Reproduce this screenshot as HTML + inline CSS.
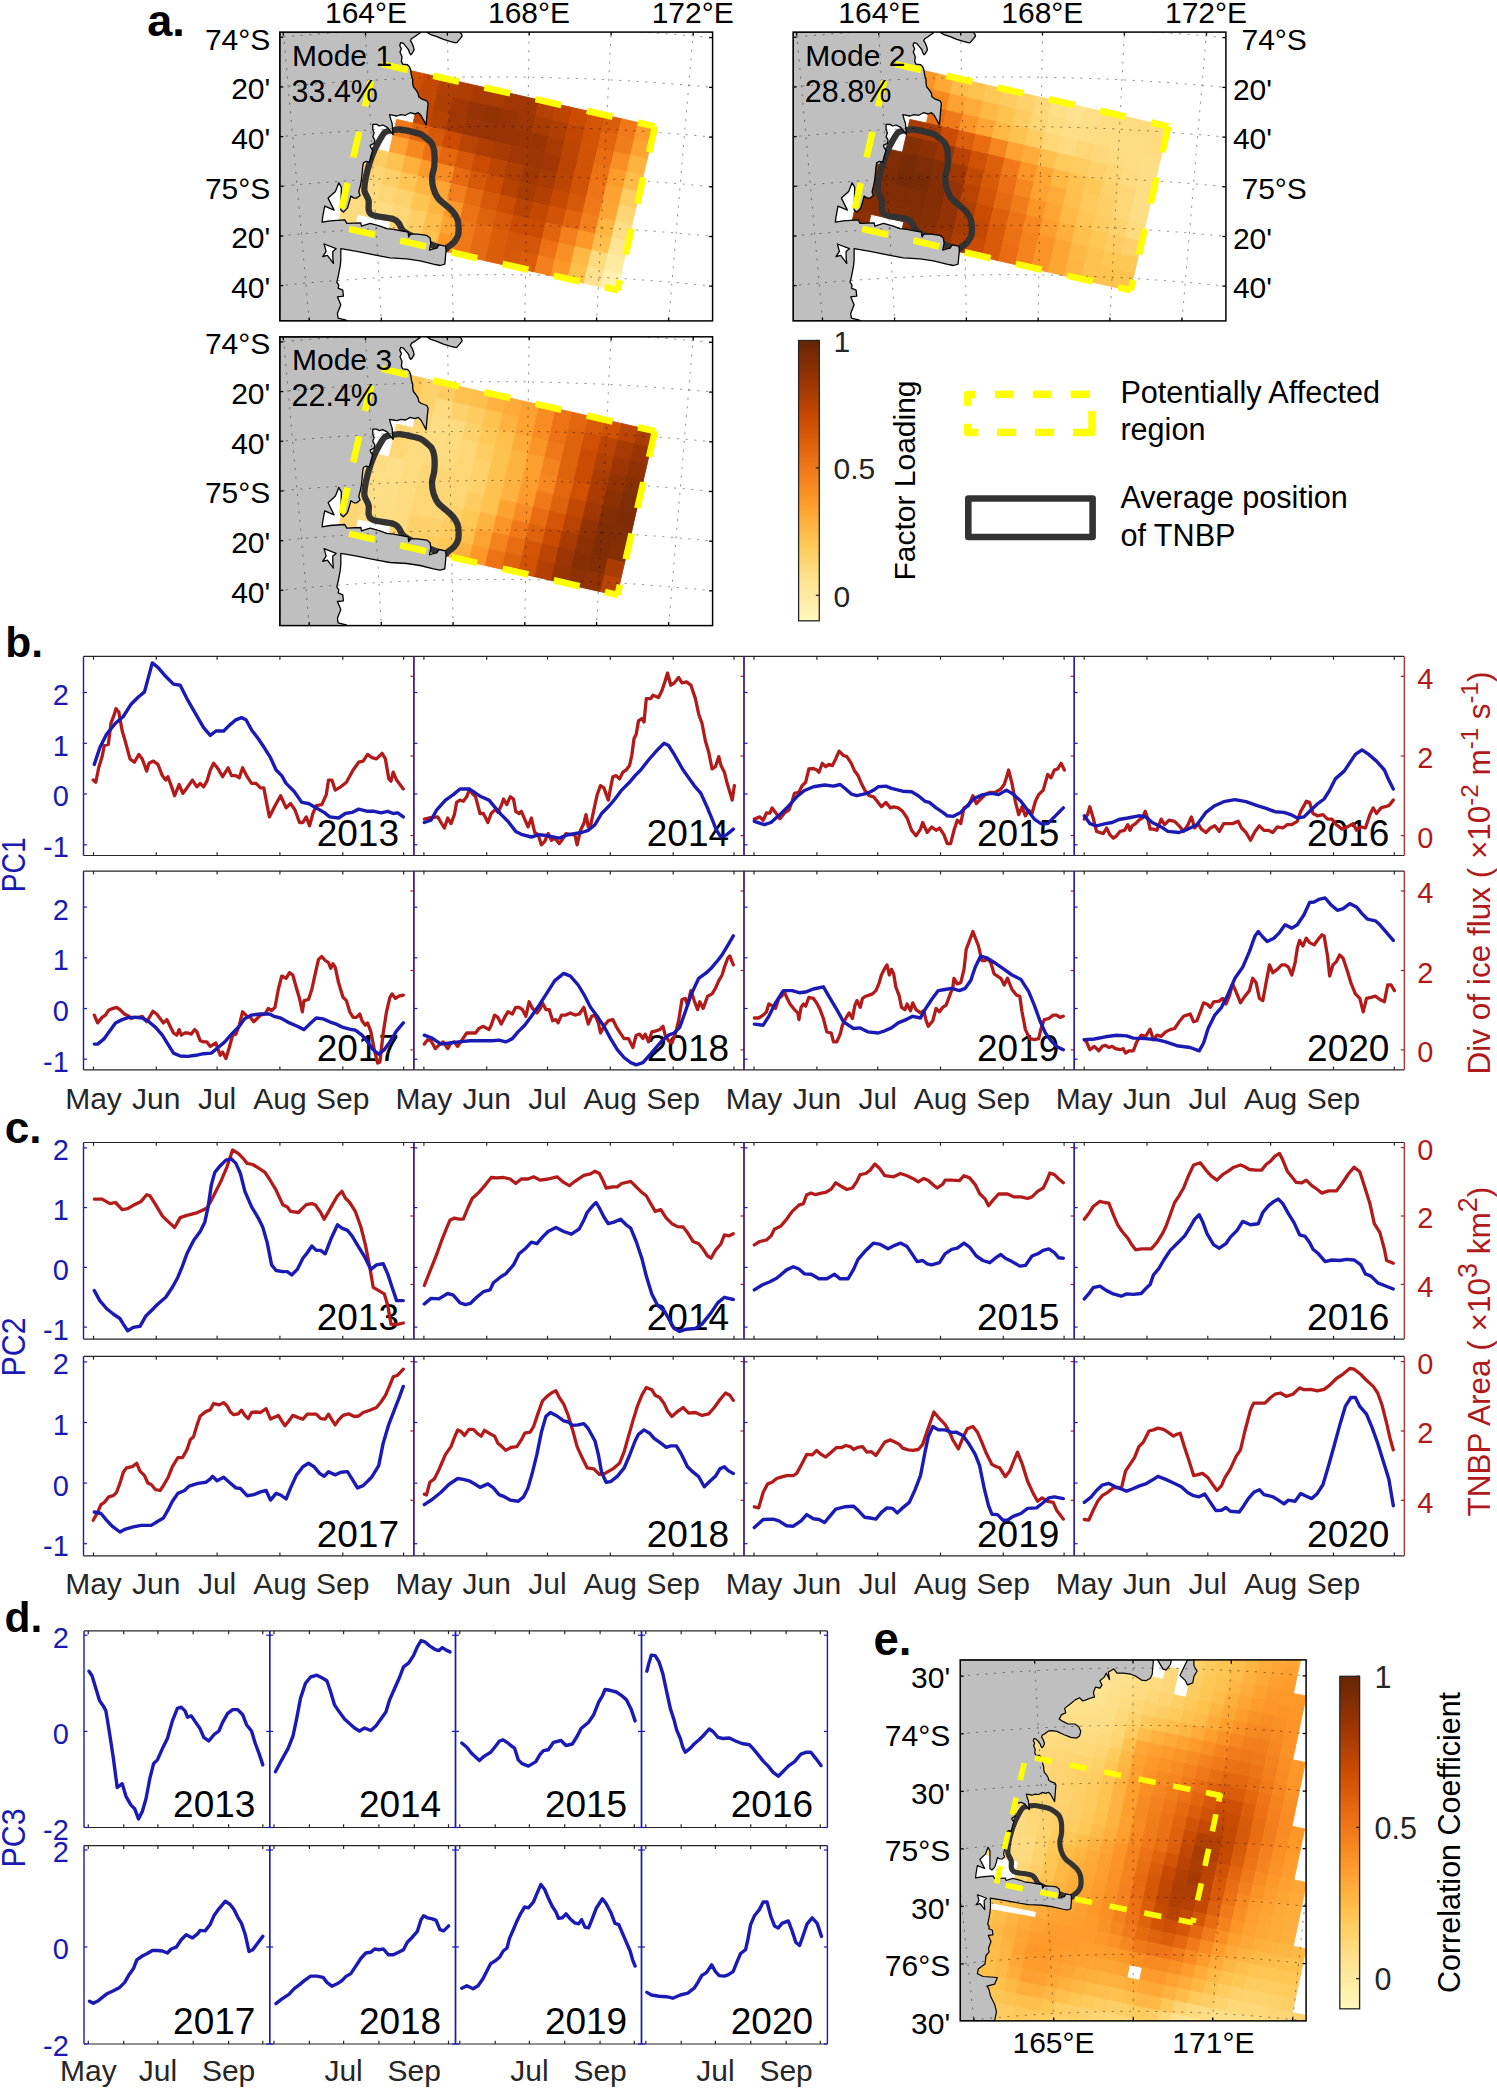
<!DOCTYPE html>
<html><head><meta charset="utf-8"><style>
html,body{margin:0;padding:0;background:#fff;width:1497px;height:2095px;overflow:hidden}
svg{display:block;font-family:"Liberation Sans", sans-serif}
</style></head><body>
<svg width="1497" height="2095" viewBox="0 0 1497 2095">
<rect width="1497" height="2095" fill="#fff"/>
<line x1="93.5" y1="656.4" x2="93.5" y2="659.7" stroke="#262626" stroke-width="1.2"/>
<line x1="93.5" y1="855.5" x2="93.5" y2="852.2" stroke="#262626" stroke-width="1.2"/>
<line x1="156.3" y1="656.4" x2="156.3" y2="659.7" stroke="#262626" stroke-width="1.2"/>
<line x1="156.3" y1="855.5" x2="156.3" y2="852.2" stroke="#262626" stroke-width="1.2"/>
<line x1="217.1" y1="656.4" x2="217.1" y2="659.7" stroke="#262626" stroke-width="1.2"/>
<line x1="217.1" y1="855.5" x2="217.1" y2="852.2" stroke="#262626" stroke-width="1.2"/>
<line x1="279.9" y1="656.4" x2="279.9" y2="659.7" stroke="#262626" stroke-width="1.2"/>
<line x1="279.9" y1="855.5" x2="279.9" y2="852.2" stroke="#262626" stroke-width="1.2"/>
<line x1="342.8" y1="656.4" x2="342.8" y2="659.7" stroke="#262626" stroke-width="1.2"/>
<line x1="342.8" y1="855.5" x2="342.8" y2="852.2" stroke="#262626" stroke-width="1.2"/>
<line x1="403.6" y1="656.4" x2="403.6" y2="659.7" stroke="#262626" stroke-width="1.2"/>
<line x1="403.6" y1="855.5" x2="403.6" y2="852.2" stroke="#262626" stroke-width="1.2"/>
<line x1="83.5" y1="656.4" x2="413.9" y2="656.4" stroke="#262626" stroke-width="1.2"/>
<line x1="83.5" y1="855.5" x2="413.9" y2="855.5" stroke="#262626" stroke-width="1.2"/>
<line x1="423.9" y1="656.4" x2="423.9" y2="659.7" stroke="#262626" stroke-width="1.2"/>
<line x1="423.9" y1="855.5" x2="423.9" y2="852.2" stroke="#262626" stroke-width="1.2"/>
<line x1="486.7" y1="656.4" x2="486.7" y2="659.7" stroke="#262626" stroke-width="1.2"/>
<line x1="486.7" y1="855.5" x2="486.7" y2="852.2" stroke="#262626" stroke-width="1.2"/>
<line x1="547.5" y1="656.4" x2="547.5" y2="659.7" stroke="#262626" stroke-width="1.2"/>
<line x1="547.5" y1="855.5" x2="547.5" y2="852.2" stroke="#262626" stroke-width="1.2"/>
<line x1="610.3" y1="656.4" x2="610.3" y2="659.7" stroke="#262626" stroke-width="1.2"/>
<line x1="610.3" y1="855.5" x2="610.3" y2="852.2" stroke="#262626" stroke-width="1.2"/>
<line x1="673.2" y1="656.4" x2="673.2" y2="659.7" stroke="#262626" stroke-width="1.2"/>
<line x1="673.2" y1="855.5" x2="673.2" y2="852.2" stroke="#262626" stroke-width="1.2"/>
<line x1="734" y1="656.4" x2="734" y2="659.7" stroke="#262626" stroke-width="1.2"/>
<line x1="734" y1="855.5" x2="734" y2="852.2" stroke="#262626" stroke-width="1.2"/>
<line x1="413.9" y1="656.4" x2="744" y2="656.4" stroke="#262626" stroke-width="1.2"/>
<line x1="413.9" y1="855.5" x2="744" y2="855.5" stroke="#262626" stroke-width="1.2"/>
<line x1="754" y1="656.4" x2="754" y2="659.7" stroke="#262626" stroke-width="1.2"/>
<line x1="754" y1="855.5" x2="754" y2="852.2" stroke="#262626" stroke-width="1.2"/>
<line x1="816.9" y1="656.4" x2="816.9" y2="659.7" stroke="#262626" stroke-width="1.2"/>
<line x1="816.9" y1="855.5" x2="816.9" y2="852.2" stroke="#262626" stroke-width="1.2"/>
<line x1="877.7" y1="656.4" x2="877.7" y2="659.7" stroke="#262626" stroke-width="1.2"/>
<line x1="877.7" y1="855.5" x2="877.7" y2="852.2" stroke="#262626" stroke-width="1.2"/>
<line x1="940.5" y1="656.4" x2="940.5" y2="659.7" stroke="#262626" stroke-width="1.2"/>
<line x1="940.5" y1="855.5" x2="940.5" y2="852.2" stroke="#262626" stroke-width="1.2"/>
<line x1="1003.3" y1="656.4" x2="1003.3" y2="659.7" stroke="#262626" stroke-width="1.2"/>
<line x1="1003.3" y1="855.5" x2="1003.3" y2="852.2" stroke="#262626" stroke-width="1.2"/>
<line x1="1064.1" y1="656.4" x2="1064.1" y2="659.7" stroke="#262626" stroke-width="1.2"/>
<line x1="1064.1" y1="855.5" x2="1064.1" y2="852.2" stroke="#262626" stroke-width="1.2"/>
<line x1="744" y1="656.4" x2="1074.2" y2="656.4" stroke="#262626" stroke-width="1.2"/>
<line x1="744" y1="855.5" x2="1074.2" y2="855.5" stroke="#262626" stroke-width="1.2"/>
<line x1="1084.2" y1="656.4" x2="1084.2" y2="659.7" stroke="#262626" stroke-width="1.2"/>
<line x1="1084.2" y1="855.5" x2="1084.2" y2="852.2" stroke="#262626" stroke-width="1.2"/>
<line x1="1147" y1="656.4" x2="1147" y2="659.7" stroke="#262626" stroke-width="1.2"/>
<line x1="1147" y1="855.5" x2="1147" y2="852.2" stroke="#262626" stroke-width="1.2"/>
<line x1="1207.8" y1="656.4" x2="1207.8" y2="659.7" stroke="#262626" stroke-width="1.2"/>
<line x1="1207.8" y1="855.5" x2="1207.8" y2="852.2" stroke="#262626" stroke-width="1.2"/>
<line x1="1270.6" y1="656.4" x2="1270.6" y2="659.7" stroke="#262626" stroke-width="1.2"/>
<line x1="1270.6" y1="855.5" x2="1270.6" y2="852.2" stroke="#262626" stroke-width="1.2"/>
<line x1="1333.5" y1="656.4" x2="1333.5" y2="659.7" stroke="#262626" stroke-width="1.2"/>
<line x1="1333.5" y1="855.5" x2="1333.5" y2="852.2" stroke="#262626" stroke-width="1.2"/>
<line x1="1394.3" y1="656.4" x2="1394.3" y2="659.7" stroke="#262626" stroke-width="1.2"/>
<line x1="1394.3" y1="855.5" x2="1394.3" y2="852.2" stroke="#262626" stroke-width="1.2"/>
<line x1="1074.2" y1="656.4" x2="1404.3" y2="656.4" stroke="#262626" stroke-width="1.2"/>
<line x1="1074.2" y1="855.5" x2="1404.3" y2="855.5" stroke="#262626" stroke-width="1.2"/>
<line x1="413.9" y1="835.6" x2="410.4" y2="835.6" stroke="#b01a1a" stroke-width="1.2"/>
<line x1="413.9" y1="756" x2="410.4" y2="756" stroke="#b01a1a" stroke-width="1.2"/>
<line x1="413.9" y1="676.3" x2="410.4" y2="676.3" stroke="#b01a1a" stroke-width="1.2"/>
<line x1="413.9" y1="656.4" x2="413.9" y2="855.5" stroke="#b01a1a" stroke-width="1.2"/>
<line x1="744" y1="835.6" x2="740.5" y2="835.6" stroke="#b01a1a" stroke-width="1.2"/>
<line x1="744" y1="756" x2="740.5" y2="756" stroke="#b01a1a" stroke-width="1.2"/>
<line x1="744" y1="676.3" x2="740.5" y2="676.3" stroke="#b01a1a" stroke-width="1.2"/>
<line x1="744" y1="656.4" x2="744" y2="855.5" stroke="#b01a1a" stroke-width="1.2"/>
<line x1="1074.2" y1="835.6" x2="1070.7" y2="835.6" stroke="#b01a1a" stroke-width="1.2"/>
<line x1="1074.2" y1="756" x2="1070.7" y2="756" stroke="#b01a1a" stroke-width="1.2"/>
<line x1="1074.2" y1="676.3" x2="1070.7" y2="676.3" stroke="#b01a1a" stroke-width="1.2"/>
<line x1="1074.2" y1="656.4" x2="1074.2" y2="855.5" stroke="#b01a1a" stroke-width="1.2"/>
<line x1="1404.3" y1="835.6" x2="1400.8" y2="835.6" stroke="#b01a1a" stroke-width="1.2"/>
<line x1="1404.3" y1="756" x2="1400.8" y2="756" stroke="#b01a1a" stroke-width="1.2"/>
<line x1="1404.3" y1="676.3" x2="1400.8" y2="676.3" stroke="#b01a1a" stroke-width="1.2"/>
<line x1="1404.3" y1="656.4" x2="1404.3" y2="855.5" stroke="#b01a1a" stroke-width="1.2"/>
<line x1="83.5" y1="844.8" x2="87" y2="844.8" stroke="#1a1ab3" stroke-width="1.2"/>
<line x1="83.5" y1="794" x2="87" y2="794" stroke="#1a1ab3" stroke-width="1.2"/>
<line x1="83.5" y1="743.3" x2="87" y2="743.3" stroke="#1a1ab3" stroke-width="1.2"/>
<line x1="83.5" y1="692.5" x2="87" y2="692.5" stroke="#1a1ab3" stroke-width="1.2"/>
<line x1="83.5" y1="656.4" x2="83.5" y2="855.5" stroke="#1a1ab3" stroke-width="1.4"/>
<text x="399" y="846.3" font-size="37" text-anchor="end" fill="#000">2013</text>
<line x1="413.9" y1="844.8" x2="417.4" y2="844.8" stroke="#1a1ab3" stroke-width="1.2"/>
<line x1="413.9" y1="794" x2="417.4" y2="794" stroke="#1a1ab3" stroke-width="1.2"/>
<line x1="413.9" y1="743.3" x2="417.4" y2="743.3" stroke="#1a1ab3" stroke-width="1.2"/>
<line x1="413.9" y1="692.5" x2="417.4" y2="692.5" stroke="#1a1ab3" stroke-width="1.2"/>
<line x1="413.9" y1="656.4" x2="413.9" y2="855.5" stroke="#1a1ab3" stroke-width="1.4"/>
<text x="729.1" y="846.3" font-size="37" text-anchor="end" fill="#000">2014</text>
<line x1="744" y1="844.8" x2="747.5" y2="844.8" stroke="#1a1ab3" stroke-width="1.2"/>
<line x1="744" y1="794" x2="747.5" y2="794" stroke="#1a1ab3" stroke-width="1.2"/>
<line x1="744" y1="743.3" x2="747.5" y2="743.3" stroke="#1a1ab3" stroke-width="1.2"/>
<line x1="744" y1="692.5" x2="747.5" y2="692.5" stroke="#1a1ab3" stroke-width="1.2"/>
<line x1="744" y1="656.4" x2="744" y2="855.5" stroke="#1a1ab3" stroke-width="1.4"/>
<text x="1059.3" y="846.3" font-size="37" text-anchor="end" fill="#000">2015</text>
<line x1="1074.2" y1="844.8" x2="1077.7" y2="844.8" stroke="#1a1ab3" stroke-width="1.2"/>
<line x1="1074.2" y1="794" x2="1077.7" y2="794" stroke="#1a1ab3" stroke-width="1.2"/>
<line x1="1074.2" y1="743.3" x2="1077.7" y2="743.3" stroke="#1a1ab3" stroke-width="1.2"/>
<line x1="1074.2" y1="692.5" x2="1077.7" y2="692.5" stroke="#1a1ab3" stroke-width="1.2"/>
<line x1="1074.2" y1="656.4" x2="1074.2" y2="855.5" stroke="#1a1ab3" stroke-width="1.4"/>
<text x="1389.4" y="846.3" font-size="37" text-anchor="end" fill="#000">2016</text>
<text x="68.8" y="857.2" font-size="29" text-anchor="end" fill="#1a1ab3">-1</text>
<text x="68.8" y="806.4" font-size="29" text-anchor="end" fill="#1a1ab3">0</text>
<text x="68.8" y="755.7" font-size="29" text-anchor="end" fill="#1a1ab3">1</text>
<text x="68.8" y="704.9" font-size="29" text-anchor="end" fill="#1a1ab3">2</text>
<text x="1417.3" y="847.8" font-size="29" text-anchor="start" fill="#b01a1a">0</text>
<text x="1417.3" y="768.2" font-size="29" text-anchor="start" fill="#b01a1a">2</text>
<text x="1417.3" y="688.5" font-size="29" text-anchor="start" fill="#b01a1a">4</text>
<line x1="93.5" y1="871.1" x2="93.5" y2="874.4" stroke="#262626" stroke-width="1.2"/>
<line x1="93.5" y1="1069.8" x2="93.5" y2="1066.5" stroke="#262626" stroke-width="1.2"/>
<line x1="156.3" y1="871.1" x2="156.3" y2="874.4" stroke="#262626" stroke-width="1.2"/>
<line x1="156.3" y1="1069.8" x2="156.3" y2="1066.5" stroke="#262626" stroke-width="1.2"/>
<line x1="217.1" y1="871.1" x2="217.1" y2="874.4" stroke="#262626" stroke-width="1.2"/>
<line x1="217.1" y1="1069.8" x2="217.1" y2="1066.5" stroke="#262626" stroke-width="1.2"/>
<line x1="279.9" y1="871.1" x2="279.9" y2="874.4" stroke="#262626" stroke-width="1.2"/>
<line x1="279.9" y1="1069.8" x2="279.9" y2="1066.5" stroke="#262626" stroke-width="1.2"/>
<line x1="342.8" y1="871.1" x2="342.8" y2="874.4" stroke="#262626" stroke-width="1.2"/>
<line x1="342.8" y1="1069.8" x2="342.8" y2="1066.5" stroke="#262626" stroke-width="1.2"/>
<line x1="403.6" y1="871.1" x2="403.6" y2="874.4" stroke="#262626" stroke-width="1.2"/>
<line x1="403.6" y1="1069.8" x2="403.6" y2="1066.5" stroke="#262626" stroke-width="1.2"/>
<line x1="83.5" y1="871.1" x2="413.9" y2="871.1" stroke="#262626" stroke-width="1.2"/>
<line x1="83.5" y1="1069.8" x2="413.9" y2="1069.8" stroke="#262626" stroke-width="1.2"/>
<line x1="423.9" y1="871.1" x2="423.9" y2="874.4" stroke="#262626" stroke-width="1.2"/>
<line x1="423.9" y1="1069.8" x2="423.9" y2="1066.5" stroke="#262626" stroke-width="1.2"/>
<line x1="486.7" y1="871.1" x2="486.7" y2="874.4" stroke="#262626" stroke-width="1.2"/>
<line x1="486.7" y1="1069.8" x2="486.7" y2="1066.5" stroke="#262626" stroke-width="1.2"/>
<line x1="547.5" y1="871.1" x2="547.5" y2="874.4" stroke="#262626" stroke-width="1.2"/>
<line x1="547.5" y1="1069.8" x2="547.5" y2="1066.5" stroke="#262626" stroke-width="1.2"/>
<line x1="610.3" y1="871.1" x2="610.3" y2="874.4" stroke="#262626" stroke-width="1.2"/>
<line x1="610.3" y1="1069.8" x2="610.3" y2="1066.5" stroke="#262626" stroke-width="1.2"/>
<line x1="673.2" y1="871.1" x2="673.2" y2="874.4" stroke="#262626" stroke-width="1.2"/>
<line x1="673.2" y1="1069.8" x2="673.2" y2="1066.5" stroke="#262626" stroke-width="1.2"/>
<line x1="734" y1="871.1" x2="734" y2="874.4" stroke="#262626" stroke-width="1.2"/>
<line x1="734" y1="1069.8" x2="734" y2="1066.5" stroke="#262626" stroke-width="1.2"/>
<line x1="413.9" y1="871.1" x2="744" y2="871.1" stroke="#262626" stroke-width="1.2"/>
<line x1="413.9" y1="1069.8" x2="744" y2="1069.8" stroke="#262626" stroke-width="1.2"/>
<line x1="754" y1="871.1" x2="754" y2="874.4" stroke="#262626" stroke-width="1.2"/>
<line x1="754" y1="1069.8" x2="754" y2="1066.5" stroke="#262626" stroke-width="1.2"/>
<line x1="816.9" y1="871.1" x2="816.9" y2="874.4" stroke="#262626" stroke-width="1.2"/>
<line x1="816.9" y1="1069.8" x2="816.9" y2="1066.5" stroke="#262626" stroke-width="1.2"/>
<line x1="877.7" y1="871.1" x2="877.7" y2="874.4" stroke="#262626" stroke-width="1.2"/>
<line x1="877.7" y1="1069.8" x2="877.7" y2="1066.5" stroke="#262626" stroke-width="1.2"/>
<line x1="940.5" y1="871.1" x2="940.5" y2="874.4" stroke="#262626" stroke-width="1.2"/>
<line x1="940.5" y1="1069.8" x2="940.5" y2="1066.5" stroke="#262626" stroke-width="1.2"/>
<line x1="1003.3" y1="871.1" x2="1003.3" y2="874.4" stroke="#262626" stroke-width="1.2"/>
<line x1="1003.3" y1="1069.8" x2="1003.3" y2="1066.5" stroke="#262626" stroke-width="1.2"/>
<line x1="1064.1" y1="871.1" x2="1064.1" y2="874.4" stroke="#262626" stroke-width="1.2"/>
<line x1="1064.1" y1="1069.8" x2="1064.1" y2="1066.5" stroke="#262626" stroke-width="1.2"/>
<line x1="744" y1="871.1" x2="1074.2" y2="871.1" stroke="#262626" stroke-width="1.2"/>
<line x1="744" y1="1069.8" x2="1074.2" y2="1069.8" stroke="#262626" stroke-width="1.2"/>
<line x1="1084.2" y1="871.1" x2="1084.2" y2="874.4" stroke="#262626" stroke-width="1.2"/>
<line x1="1084.2" y1="1069.8" x2="1084.2" y2="1066.5" stroke="#262626" stroke-width="1.2"/>
<line x1="1147" y1="871.1" x2="1147" y2="874.4" stroke="#262626" stroke-width="1.2"/>
<line x1="1147" y1="1069.8" x2="1147" y2="1066.5" stroke="#262626" stroke-width="1.2"/>
<line x1="1207.8" y1="871.1" x2="1207.8" y2="874.4" stroke="#262626" stroke-width="1.2"/>
<line x1="1207.8" y1="1069.8" x2="1207.8" y2="1066.5" stroke="#262626" stroke-width="1.2"/>
<line x1="1270.6" y1="871.1" x2="1270.6" y2="874.4" stroke="#262626" stroke-width="1.2"/>
<line x1="1270.6" y1="1069.8" x2="1270.6" y2="1066.5" stroke="#262626" stroke-width="1.2"/>
<line x1="1333.5" y1="871.1" x2="1333.5" y2="874.4" stroke="#262626" stroke-width="1.2"/>
<line x1="1333.5" y1="1069.8" x2="1333.5" y2="1066.5" stroke="#262626" stroke-width="1.2"/>
<line x1="1394.3" y1="871.1" x2="1394.3" y2="874.4" stroke="#262626" stroke-width="1.2"/>
<line x1="1394.3" y1="1069.8" x2="1394.3" y2="1066.5" stroke="#262626" stroke-width="1.2"/>
<line x1="1074.2" y1="871.1" x2="1404.3" y2="871.1" stroke="#262626" stroke-width="1.2"/>
<line x1="1074.2" y1="1069.8" x2="1404.3" y2="1069.8" stroke="#262626" stroke-width="1.2"/>
<line x1="413.9" y1="1049.9" x2="410.4" y2="1049.9" stroke="#b01a1a" stroke-width="1.2"/>
<line x1="413.9" y1="970.5" x2="410.4" y2="970.5" stroke="#b01a1a" stroke-width="1.2"/>
<line x1="413.9" y1="891" x2="410.4" y2="891" stroke="#b01a1a" stroke-width="1.2"/>
<line x1="413.9" y1="871.1" x2="413.9" y2="1069.8" stroke="#b01a1a" stroke-width="1.2"/>
<line x1="744" y1="1049.9" x2="740.5" y2="1049.9" stroke="#b01a1a" stroke-width="1.2"/>
<line x1="744" y1="970.5" x2="740.5" y2="970.5" stroke="#b01a1a" stroke-width="1.2"/>
<line x1="744" y1="891" x2="740.5" y2="891" stroke="#b01a1a" stroke-width="1.2"/>
<line x1="744" y1="871.1" x2="744" y2="1069.8" stroke="#b01a1a" stroke-width="1.2"/>
<line x1="1074.2" y1="1049.9" x2="1070.7" y2="1049.9" stroke="#b01a1a" stroke-width="1.2"/>
<line x1="1074.2" y1="970.5" x2="1070.7" y2="970.5" stroke="#b01a1a" stroke-width="1.2"/>
<line x1="1074.2" y1="891" x2="1070.7" y2="891" stroke="#b01a1a" stroke-width="1.2"/>
<line x1="1074.2" y1="871.1" x2="1074.2" y2="1069.8" stroke="#b01a1a" stroke-width="1.2"/>
<line x1="1404.3" y1="1049.9" x2="1400.8" y2="1049.9" stroke="#b01a1a" stroke-width="1.2"/>
<line x1="1404.3" y1="970.5" x2="1400.8" y2="970.5" stroke="#b01a1a" stroke-width="1.2"/>
<line x1="1404.3" y1="891" x2="1400.8" y2="891" stroke="#b01a1a" stroke-width="1.2"/>
<line x1="1404.3" y1="871.1" x2="1404.3" y2="1069.8" stroke="#b01a1a" stroke-width="1.2"/>
<line x1="83.5" y1="1059.2" x2="87" y2="1059.2" stroke="#1a1ab3" stroke-width="1.2"/>
<line x1="83.5" y1="1008.5" x2="87" y2="1008.5" stroke="#1a1ab3" stroke-width="1.2"/>
<line x1="83.5" y1="957.8" x2="87" y2="957.8" stroke="#1a1ab3" stroke-width="1.2"/>
<line x1="83.5" y1="907.1" x2="87" y2="907.1" stroke="#1a1ab3" stroke-width="1.2"/>
<line x1="83.5" y1="871.1" x2="83.5" y2="1069.8" stroke="#1a1ab3" stroke-width="1.4"/>
<text x="399" y="1060.6" font-size="37" text-anchor="end" fill="#000">2017</text>
<line x1="413.9" y1="1059.2" x2="417.4" y2="1059.2" stroke="#1a1ab3" stroke-width="1.2"/>
<line x1="413.9" y1="1008.5" x2="417.4" y2="1008.5" stroke="#1a1ab3" stroke-width="1.2"/>
<line x1="413.9" y1="957.8" x2="417.4" y2="957.8" stroke="#1a1ab3" stroke-width="1.2"/>
<line x1="413.9" y1="907.1" x2="417.4" y2="907.1" stroke="#1a1ab3" stroke-width="1.2"/>
<line x1="413.9" y1="871.1" x2="413.9" y2="1069.8" stroke="#1a1ab3" stroke-width="1.4"/>
<text x="729.1" y="1060.6" font-size="37" text-anchor="end" fill="#000">2018</text>
<line x1="744" y1="1059.2" x2="747.5" y2="1059.2" stroke="#1a1ab3" stroke-width="1.2"/>
<line x1="744" y1="1008.5" x2="747.5" y2="1008.5" stroke="#1a1ab3" stroke-width="1.2"/>
<line x1="744" y1="957.8" x2="747.5" y2="957.8" stroke="#1a1ab3" stroke-width="1.2"/>
<line x1="744" y1="907.1" x2="747.5" y2="907.1" stroke="#1a1ab3" stroke-width="1.2"/>
<line x1="744" y1="871.1" x2="744" y2="1069.8" stroke="#1a1ab3" stroke-width="1.4"/>
<text x="1059.3" y="1060.6" font-size="37" text-anchor="end" fill="#000">2019</text>
<line x1="1074.2" y1="1059.2" x2="1077.7" y2="1059.2" stroke="#1a1ab3" stroke-width="1.2"/>
<line x1="1074.2" y1="1008.5" x2="1077.7" y2="1008.5" stroke="#1a1ab3" stroke-width="1.2"/>
<line x1="1074.2" y1="957.8" x2="1077.7" y2="957.8" stroke="#1a1ab3" stroke-width="1.2"/>
<line x1="1074.2" y1="907.1" x2="1077.7" y2="907.1" stroke="#1a1ab3" stroke-width="1.2"/>
<line x1="1074.2" y1="871.1" x2="1074.2" y2="1069.8" stroke="#1a1ab3" stroke-width="1.4"/>
<text x="1389.4" y="1060.6" font-size="37" text-anchor="end" fill="#000">2020</text>
<text x="68.8" y="1071.6" font-size="29" text-anchor="end" fill="#1a1ab3">-1</text>
<text x="68.8" y="1020.9" font-size="29" text-anchor="end" fill="#1a1ab3">0</text>
<text x="68.8" y="970.2" font-size="29" text-anchor="end" fill="#1a1ab3">1</text>
<text x="68.8" y="919.5" font-size="29" text-anchor="end" fill="#1a1ab3">2</text>
<text x="1417.3" y="1062.1" font-size="29" text-anchor="start" fill="#b01a1a">0</text>
<text x="1417.3" y="982.7" font-size="29" text-anchor="start" fill="#b01a1a">2</text>
<text x="1417.3" y="903.2" font-size="29" text-anchor="start" fill="#b01a1a">4</text>
<text x="93.5" y="1108.5" font-size="30" text-anchor="middle" fill="#262626">May</text>
<text x="156.3" y="1108.5" font-size="30" text-anchor="middle" fill="#262626">Jun</text>
<text x="217.1" y="1108.5" font-size="30" text-anchor="middle" fill="#262626">Jul</text>
<text x="279.9" y="1108.5" font-size="30" text-anchor="middle" fill="#262626">Aug</text>
<text x="342.8" y="1108.5" font-size="30" text-anchor="middle" fill="#262626">Sep</text>
<text x="423.9" y="1108.5" font-size="30" text-anchor="middle" fill="#262626">May</text>
<text x="486.7" y="1108.5" font-size="30" text-anchor="middle" fill="#262626">Jun</text>
<text x="547.5" y="1108.5" font-size="30" text-anchor="middle" fill="#262626">Jul</text>
<text x="610.3" y="1108.5" font-size="30" text-anchor="middle" fill="#262626">Aug</text>
<text x="673.2" y="1108.5" font-size="30" text-anchor="middle" fill="#262626">Sep</text>
<text x="754" y="1108.5" font-size="30" text-anchor="middle" fill="#262626">May</text>
<text x="816.9" y="1108.5" font-size="30" text-anchor="middle" fill="#262626">Jun</text>
<text x="877.7" y="1108.5" font-size="30" text-anchor="middle" fill="#262626">Jul</text>
<text x="940.5" y="1108.5" font-size="30" text-anchor="middle" fill="#262626">Aug</text>
<text x="1003.3" y="1108.5" font-size="30" text-anchor="middle" fill="#262626">Sep</text>
<text x="1084.2" y="1108.5" font-size="30" text-anchor="middle" fill="#262626">May</text>
<text x="1147" y="1108.5" font-size="30" text-anchor="middle" fill="#262626">Jun</text>
<text x="1207.8" y="1108.5" font-size="30" text-anchor="middle" fill="#262626">Jul</text>
<text x="1270.6" y="1108.5" font-size="30" text-anchor="middle" fill="#262626">Aug</text>
<text x="1333.5" y="1108.5" font-size="30" text-anchor="middle" fill="#262626">Sep</text>
<line x1="93.5" y1="1142.5" x2="93.5" y2="1145.8" stroke="#262626" stroke-width="1.2"/>
<line x1="93.5" y1="1339.1" x2="93.5" y2="1335.8" stroke="#262626" stroke-width="1.2"/>
<line x1="156.3" y1="1142.5" x2="156.3" y2="1145.8" stroke="#262626" stroke-width="1.2"/>
<line x1="156.3" y1="1339.1" x2="156.3" y2="1335.8" stroke="#262626" stroke-width="1.2"/>
<line x1="217.1" y1="1142.5" x2="217.1" y2="1145.8" stroke="#262626" stroke-width="1.2"/>
<line x1="217.1" y1="1339.1" x2="217.1" y2="1335.8" stroke="#262626" stroke-width="1.2"/>
<line x1="279.9" y1="1142.5" x2="279.9" y2="1145.8" stroke="#262626" stroke-width="1.2"/>
<line x1="279.9" y1="1339.1" x2="279.9" y2="1335.8" stroke="#262626" stroke-width="1.2"/>
<line x1="342.8" y1="1142.5" x2="342.8" y2="1145.8" stroke="#262626" stroke-width="1.2"/>
<line x1="342.8" y1="1339.1" x2="342.8" y2="1335.8" stroke="#262626" stroke-width="1.2"/>
<line x1="403.6" y1="1142.5" x2="403.6" y2="1145.8" stroke="#262626" stroke-width="1.2"/>
<line x1="403.6" y1="1339.1" x2="403.6" y2="1335.8" stroke="#262626" stroke-width="1.2"/>
<line x1="83.5" y1="1142.5" x2="413.9" y2="1142.5" stroke="#262626" stroke-width="1.2"/>
<line x1="83.5" y1="1339.1" x2="413.9" y2="1339.1" stroke="#262626" stroke-width="1.2"/>
<line x1="423.9" y1="1142.5" x2="423.9" y2="1145.8" stroke="#262626" stroke-width="1.2"/>
<line x1="423.9" y1="1339.1" x2="423.9" y2="1335.8" stroke="#262626" stroke-width="1.2"/>
<line x1="486.7" y1="1142.5" x2="486.7" y2="1145.8" stroke="#262626" stroke-width="1.2"/>
<line x1="486.7" y1="1339.1" x2="486.7" y2="1335.8" stroke="#262626" stroke-width="1.2"/>
<line x1="547.5" y1="1142.5" x2="547.5" y2="1145.8" stroke="#262626" stroke-width="1.2"/>
<line x1="547.5" y1="1339.1" x2="547.5" y2="1335.8" stroke="#262626" stroke-width="1.2"/>
<line x1="610.3" y1="1142.5" x2="610.3" y2="1145.8" stroke="#262626" stroke-width="1.2"/>
<line x1="610.3" y1="1339.1" x2="610.3" y2="1335.8" stroke="#262626" stroke-width="1.2"/>
<line x1="673.2" y1="1142.5" x2="673.2" y2="1145.8" stroke="#262626" stroke-width="1.2"/>
<line x1="673.2" y1="1339.1" x2="673.2" y2="1335.8" stroke="#262626" stroke-width="1.2"/>
<line x1="734" y1="1142.5" x2="734" y2="1145.8" stroke="#262626" stroke-width="1.2"/>
<line x1="734" y1="1339.1" x2="734" y2="1335.8" stroke="#262626" stroke-width="1.2"/>
<line x1="413.9" y1="1142.5" x2="744" y2="1142.5" stroke="#262626" stroke-width="1.2"/>
<line x1="413.9" y1="1339.1" x2="744" y2="1339.1" stroke="#262626" stroke-width="1.2"/>
<line x1="754" y1="1142.5" x2="754" y2="1145.8" stroke="#262626" stroke-width="1.2"/>
<line x1="754" y1="1339.1" x2="754" y2="1335.8" stroke="#262626" stroke-width="1.2"/>
<line x1="816.9" y1="1142.5" x2="816.9" y2="1145.8" stroke="#262626" stroke-width="1.2"/>
<line x1="816.9" y1="1339.1" x2="816.9" y2="1335.8" stroke="#262626" stroke-width="1.2"/>
<line x1="877.7" y1="1142.5" x2="877.7" y2="1145.8" stroke="#262626" stroke-width="1.2"/>
<line x1="877.7" y1="1339.1" x2="877.7" y2="1335.8" stroke="#262626" stroke-width="1.2"/>
<line x1="940.5" y1="1142.5" x2="940.5" y2="1145.8" stroke="#262626" stroke-width="1.2"/>
<line x1="940.5" y1="1339.1" x2="940.5" y2="1335.8" stroke="#262626" stroke-width="1.2"/>
<line x1="1003.3" y1="1142.5" x2="1003.3" y2="1145.8" stroke="#262626" stroke-width="1.2"/>
<line x1="1003.3" y1="1339.1" x2="1003.3" y2="1335.8" stroke="#262626" stroke-width="1.2"/>
<line x1="1064.1" y1="1142.5" x2="1064.1" y2="1145.8" stroke="#262626" stroke-width="1.2"/>
<line x1="1064.1" y1="1339.1" x2="1064.1" y2="1335.8" stroke="#262626" stroke-width="1.2"/>
<line x1="744" y1="1142.5" x2="1074.2" y2="1142.5" stroke="#262626" stroke-width="1.2"/>
<line x1="744" y1="1339.1" x2="1074.2" y2="1339.1" stroke="#262626" stroke-width="1.2"/>
<line x1="1084.2" y1="1142.5" x2="1084.2" y2="1145.8" stroke="#262626" stroke-width="1.2"/>
<line x1="1084.2" y1="1339.1" x2="1084.2" y2="1335.8" stroke="#262626" stroke-width="1.2"/>
<line x1="1147" y1="1142.5" x2="1147" y2="1145.8" stroke="#262626" stroke-width="1.2"/>
<line x1="1147" y1="1339.1" x2="1147" y2="1335.8" stroke="#262626" stroke-width="1.2"/>
<line x1="1207.8" y1="1142.5" x2="1207.8" y2="1145.8" stroke="#262626" stroke-width="1.2"/>
<line x1="1207.8" y1="1339.1" x2="1207.8" y2="1335.8" stroke="#262626" stroke-width="1.2"/>
<line x1="1270.6" y1="1142.5" x2="1270.6" y2="1145.8" stroke="#262626" stroke-width="1.2"/>
<line x1="1270.6" y1="1339.1" x2="1270.6" y2="1335.8" stroke="#262626" stroke-width="1.2"/>
<line x1="1333.5" y1="1142.5" x2="1333.5" y2="1145.8" stroke="#262626" stroke-width="1.2"/>
<line x1="1333.5" y1="1339.1" x2="1333.5" y2="1335.8" stroke="#262626" stroke-width="1.2"/>
<line x1="1394.3" y1="1142.5" x2="1394.3" y2="1145.8" stroke="#262626" stroke-width="1.2"/>
<line x1="1394.3" y1="1339.1" x2="1394.3" y2="1335.8" stroke="#262626" stroke-width="1.2"/>
<line x1="1074.2" y1="1142.5" x2="1404.3" y2="1142.5" stroke="#262626" stroke-width="1.2"/>
<line x1="1074.2" y1="1339.1" x2="1404.3" y2="1339.1" stroke="#262626" stroke-width="1.2"/>
<line x1="413.9" y1="1147.6" x2="410.4" y2="1147.6" stroke="#b01a1a" stroke-width="1.2"/>
<line x1="413.9" y1="1216" x2="410.4" y2="1216" stroke="#b01a1a" stroke-width="1.2"/>
<line x1="413.9" y1="1284.4" x2="410.4" y2="1284.4" stroke="#b01a1a" stroke-width="1.2"/>
<line x1="413.9" y1="1142.5" x2="413.9" y2="1339.1" stroke="#b01a1a" stroke-width="1.2"/>
<line x1="744" y1="1147.6" x2="740.5" y2="1147.6" stroke="#b01a1a" stroke-width="1.2"/>
<line x1="744" y1="1216" x2="740.5" y2="1216" stroke="#b01a1a" stroke-width="1.2"/>
<line x1="744" y1="1284.4" x2="740.5" y2="1284.4" stroke="#b01a1a" stroke-width="1.2"/>
<line x1="744" y1="1142.5" x2="744" y2="1339.1" stroke="#b01a1a" stroke-width="1.2"/>
<line x1="1074.2" y1="1147.6" x2="1070.7" y2="1147.6" stroke="#b01a1a" stroke-width="1.2"/>
<line x1="1074.2" y1="1216" x2="1070.7" y2="1216" stroke="#b01a1a" stroke-width="1.2"/>
<line x1="1074.2" y1="1284.4" x2="1070.7" y2="1284.4" stroke="#b01a1a" stroke-width="1.2"/>
<line x1="1074.2" y1="1142.5" x2="1074.2" y2="1339.1" stroke="#b01a1a" stroke-width="1.2"/>
<line x1="1404.3" y1="1147.6" x2="1400.8" y2="1147.6" stroke="#b01a1a" stroke-width="1.2"/>
<line x1="1404.3" y1="1216" x2="1400.8" y2="1216" stroke="#b01a1a" stroke-width="1.2"/>
<line x1="1404.3" y1="1284.4" x2="1400.8" y2="1284.4" stroke="#b01a1a" stroke-width="1.2"/>
<line x1="1404.3" y1="1142.5" x2="1404.3" y2="1339.1" stroke="#b01a1a" stroke-width="1.2"/>
<line x1="83.5" y1="1327.1" x2="87" y2="1327.1" stroke="#1a1ab3" stroke-width="1.2"/>
<line x1="83.5" y1="1267.4" x2="87" y2="1267.4" stroke="#1a1ab3" stroke-width="1.2"/>
<line x1="83.5" y1="1207.6" x2="87" y2="1207.6" stroke="#1a1ab3" stroke-width="1.2"/>
<line x1="83.5" y1="1147.9" x2="87" y2="1147.9" stroke="#1a1ab3" stroke-width="1.2"/>
<line x1="83.5" y1="1142.5" x2="83.5" y2="1339.1" stroke="#1a1ab3" stroke-width="1.4"/>
<text x="399" y="1329.9" font-size="37" text-anchor="end" fill="#000">2013</text>
<line x1="413.9" y1="1327.1" x2="417.4" y2="1327.1" stroke="#1a1ab3" stroke-width="1.2"/>
<line x1="413.9" y1="1267.4" x2="417.4" y2="1267.4" stroke="#1a1ab3" stroke-width="1.2"/>
<line x1="413.9" y1="1207.6" x2="417.4" y2="1207.6" stroke="#1a1ab3" stroke-width="1.2"/>
<line x1="413.9" y1="1147.9" x2="417.4" y2="1147.9" stroke="#1a1ab3" stroke-width="1.2"/>
<line x1="413.9" y1="1142.5" x2="413.9" y2="1339.1" stroke="#1a1ab3" stroke-width="1.4"/>
<text x="729.1" y="1329.9" font-size="37" text-anchor="end" fill="#000">2014</text>
<line x1="744" y1="1327.1" x2="747.5" y2="1327.1" stroke="#1a1ab3" stroke-width="1.2"/>
<line x1="744" y1="1267.4" x2="747.5" y2="1267.4" stroke="#1a1ab3" stroke-width="1.2"/>
<line x1="744" y1="1207.6" x2="747.5" y2="1207.6" stroke="#1a1ab3" stroke-width="1.2"/>
<line x1="744" y1="1147.9" x2="747.5" y2="1147.9" stroke="#1a1ab3" stroke-width="1.2"/>
<line x1="744" y1="1142.5" x2="744" y2="1339.1" stroke="#1a1ab3" stroke-width="1.4"/>
<text x="1059.3" y="1329.9" font-size="37" text-anchor="end" fill="#000">2015</text>
<line x1="1074.2" y1="1327.1" x2="1077.7" y2="1327.1" stroke="#1a1ab3" stroke-width="1.2"/>
<line x1="1074.2" y1="1267.4" x2="1077.7" y2="1267.4" stroke="#1a1ab3" stroke-width="1.2"/>
<line x1="1074.2" y1="1207.6" x2="1077.7" y2="1207.6" stroke="#1a1ab3" stroke-width="1.2"/>
<line x1="1074.2" y1="1147.9" x2="1077.7" y2="1147.9" stroke="#1a1ab3" stroke-width="1.2"/>
<line x1="1074.2" y1="1142.5" x2="1074.2" y2="1339.1" stroke="#1a1ab3" stroke-width="1.4"/>
<text x="1389.4" y="1329.9" font-size="37" text-anchor="end" fill="#000">2016</text>
<text x="68.8" y="1339.5" font-size="29" text-anchor="end" fill="#1a1ab3">-1</text>
<text x="68.8" y="1279.8" font-size="29" text-anchor="end" fill="#1a1ab3">0</text>
<text x="68.8" y="1220" font-size="29" text-anchor="end" fill="#1a1ab3">1</text>
<text x="68.8" y="1160.3" font-size="29" text-anchor="end" fill="#1a1ab3">2</text>
<text x="1417.3" y="1159.8" font-size="29" text-anchor="start" fill="#b01a1a">0</text>
<text x="1417.3" y="1228.2" font-size="29" text-anchor="start" fill="#b01a1a">2</text>
<text x="1417.3" y="1296.6" font-size="29" text-anchor="start" fill="#b01a1a">4</text>
<line x1="93.5" y1="1356.4" x2="93.5" y2="1359.7" stroke="#262626" stroke-width="1.2"/>
<line x1="93.5" y1="1555.8" x2="93.5" y2="1552.5" stroke="#262626" stroke-width="1.2"/>
<line x1="156.3" y1="1356.4" x2="156.3" y2="1359.7" stroke="#262626" stroke-width="1.2"/>
<line x1="156.3" y1="1555.8" x2="156.3" y2="1552.5" stroke="#262626" stroke-width="1.2"/>
<line x1="217.1" y1="1356.4" x2="217.1" y2="1359.7" stroke="#262626" stroke-width="1.2"/>
<line x1="217.1" y1="1555.8" x2="217.1" y2="1552.5" stroke="#262626" stroke-width="1.2"/>
<line x1="279.9" y1="1356.4" x2="279.9" y2="1359.7" stroke="#262626" stroke-width="1.2"/>
<line x1="279.9" y1="1555.8" x2="279.9" y2="1552.5" stroke="#262626" stroke-width="1.2"/>
<line x1="342.8" y1="1356.4" x2="342.8" y2="1359.7" stroke="#262626" stroke-width="1.2"/>
<line x1="342.8" y1="1555.8" x2="342.8" y2="1552.5" stroke="#262626" stroke-width="1.2"/>
<line x1="403.6" y1="1356.4" x2="403.6" y2="1359.7" stroke="#262626" stroke-width="1.2"/>
<line x1="403.6" y1="1555.8" x2="403.6" y2="1552.5" stroke="#262626" stroke-width="1.2"/>
<line x1="83.5" y1="1356.4" x2="413.9" y2="1356.4" stroke="#262626" stroke-width="1.2"/>
<line x1="83.5" y1="1555.8" x2="413.9" y2="1555.8" stroke="#262626" stroke-width="1.2"/>
<line x1="423.9" y1="1356.4" x2="423.9" y2="1359.7" stroke="#262626" stroke-width="1.2"/>
<line x1="423.9" y1="1555.8" x2="423.9" y2="1552.5" stroke="#262626" stroke-width="1.2"/>
<line x1="486.7" y1="1356.4" x2="486.7" y2="1359.7" stroke="#262626" stroke-width="1.2"/>
<line x1="486.7" y1="1555.8" x2="486.7" y2="1552.5" stroke="#262626" stroke-width="1.2"/>
<line x1="547.5" y1="1356.4" x2="547.5" y2="1359.7" stroke="#262626" stroke-width="1.2"/>
<line x1="547.5" y1="1555.8" x2="547.5" y2="1552.5" stroke="#262626" stroke-width="1.2"/>
<line x1="610.3" y1="1356.4" x2="610.3" y2="1359.7" stroke="#262626" stroke-width="1.2"/>
<line x1="610.3" y1="1555.8" x2="610.3" y2="1552.5" stroke="#262626" stroke-width="1.2"/>
<line x1="673.2" y1="1356.4" x2="673.2" y2="1359.7" stroke="#262626" stroke-width="1.2"/>
<line x1="673.2" y1="1555.8" x2="673.2" y2="1552.5" stroke="#262626" stroke-width="1.2"/>
<line x1="734" y1="1356.4" x2="734" y2="1359.7" stroke="#262626" stroke-width="1.2"/>
<line x1="734" y1="1555.8" x2="734" y2="1552.5" stroke="#262626" stroke-width="1.2"/>
<line x1="413.9" y1="1356.4" x2="744" y2="1356.4" stroke="#262626" stroke-width="1.2"/>
<line x1="413.9" y1="1555.8" x2="744" y2="1555.8" stroke="#262626" stroke-width="1.2"/>
<line x1="754" y1="1356.4" x2="754" y2="1359.7" stroke="#262626" stroke-width="1.2"/>
<line x1="754" y1="1555.8" x2="754" y2="1552.5" stroke="#262626" stroke-width="1.2"/>
<line x1="816.9" y1="1356.4" x2="816.9" y2="1359.7" stroke="#262626" stroke-width="1.2"/>
<line x1="816.9" y1="1555.8" x2="816.9" y2="1552.5" stroke="#262626" stroke-width="1.2"/>
<line x1="877.7" y1="1356.4" x2="877.7" y2="1359.7" stroke="#262626" stroke-width="1.2"/>
<line x1="877.7" y1="1555.8" x2="877.7" y2="1552.5" stroke="#262626" stroke-width="1.2"/>
<line x1="940.5" y1="1356.4" x2="940.5" y2="1359.7" stroke="#262626" stroke-width="1.2"/>
<line x1="940.5" y1="1555.8" x2="940.5" y2="1552.5" stroke="#262626" stroke-width="1.2"/>
<line x1="1003.3" y1="1356.4" x2="1003.3" y2="1359.7" stroke="#262626" stroke-width="1.2"/>
<line x1="1003.3" y1="1555.8" x2="1003.3" y2="1552.5" stroke="#262626" stroke-width="1.2"/>
<line x1="1064.1" y1="1356.4" x2="1064.1" y2="1359.7" stroke="#262626" stroke-width="1.2"/>
<line x1="1064.1" y1="1555.8" x2="1064.1" y2="1552.5" stroke="#262626" stroke-width="1.2"/>
<line x1="744" y1="1356.4" x2="1074.2" y2="1356.4" stroke="#262626" stroke-width="1.2"/>
<line x1="744" y1="1555.8" x2="1074.2" y2="1555.8" stroke="#262626" stroke-width="1.2"/>
<line x1="1084.2" y1="1356.4" x2="1084.2" y2="1359.7" stroke="#262626" stroke-width="1.2"/>
<line x1="1084.2" y1="1555.8" x2="1084.2" y2="1552.5" stroke="#262626" stroke-width="1.2"/>
<line x1="1147" y1="1356.4" x2="1147" y2="1359.7" stroke="#262626" stroke-width="1.2"/>
<line x1="1147" y1="1555.8" x2="1147" y2="1552.5" stroke="#262626" stroke-width="1.2"/>
<line x1="1207.8" y1="1356.4" x2="1207.8" y2="1359.7" stroke="#262626" stroke-width="1.2"/>
<line x1="1207.8" y1="1555.8" x2="1207.8" y2="1552.5" stroke="#262626" stroke-width="1.2"/>
<line x1="1270.6" y1="1356.4" x2="1270.6" y2="1359.7" stroke="#262626" stroke-width="1.2"/>
<line x1="1270.6" y1="1555.8" x2="1270.6" y2="1552.5" stroke="#262626" stroke-width="1.2"/>
<line x1="1333.5" y1="1356.4" x2="1333.5" y2="1359.7" stroke="#262626" stroke-width="1.2"/>
<line x1="1333.5" y1="1555.8" x2="1333.5" y2="1552.5" stroke="#262626" stroke-width="1.2"/>
<line x1="1394.3" y1="1356.4" x2="1394.3" y2="1359.7" stroke="#262626" stroke-width="1.2"/>
<line x1="1394.3" y1="1555.8" x2="1394.3" y2="1552.5" stroke="#262626" stroke-width="1.2"/>
<line x1="1074.2" y1="1356.4" x2="1404.3" y2="1356.4" stroke="#262626" stroke-width="1.2"/>
<line x1="1074.2" y1="1555.8" x2="1404.3" y2="1555.8" stroke="#262626" stroke-width="1.2"/>
<line x1="413.9" y1="1361.6" x2="410.4" y2="1361.6" stroke="#b01a1a" stroke-width="1.2"/>
<line x1="413.9" y1="1431" x2="410.4" y2="1431" stroke="#b01a1a" stroke-width="1.2"/>
<line x1="413.9" y1="1500.3" x2="410.4" y2="1500.3" stroke="#b01a1a" stroke-width="1.2"/>
<line x1="413.9" y1="1356.4" x2="413.9" y2="1555.8" stroke="#b01a1a" stroke-width="1.2"/>
<line x1="744" y1="1361.6" x2="740.5" y2="1361.6" stroke="#b01a1a" stroke-width="1.2"/>
<line x1="744" y1="1431" x2="740.5" y2="1431" stroke="#b01a1a" stroke-width="1.2"/>
<line x1="744" y1="1500.3" x2="740.5" y2="1500.3" stroke="#b01a1a" stroke-width="1.2"/>
<line x1="744" y1="1356.4" x2="744" y2="1555.8" stroke="#b01a1a" stroke-width="1.2"/>
<line x1="1074.2" y1="1361.6" x2="1070.7" y2="1361.6" stroke="#b01a1a" stroke-width="1.2"/>
<line x1="1074.2" y1="1431" x2="1070.7" y2="1431" stroke="#b01a1a" stroke-width="1.2"/>
<line x1="1074.2" y1="1500.3" x2="1070.7" y2="1500.3" stroke="#b01a1a" stroke-width="1.2"/>
<line x1="1074.2" y1="1356.4" x2="1074.2" y2="1555.8" stroke="#b01a1a" stroke-width="1.2"/>
<line x1="1404.3" y1="1361.6" x2="1400.8" y2="1361.6" stroke="#b01a1a" stroke-width="1.2"/>
<line x1="1404.3" y1="1431" x2="1400.8" y2="1431" stroke="#b01a1a" stroke-width="1.2"/>
<line x1="1404.3" y1="1500.3" x2="1400.8" y2="1500.3" stroke="#b01a1a" stroke-width="1.2"/>
<line x1="1404.3" y1="1356.4" x2="1404.3" y2="1555.8" stroke="#b01a1a" stroke-width="1.2"/>
<line x1="83.5" y1="1543.7" x2="87" y2="1543.7" stroke="#1a1ab3" stroke-width="1.2"/>
<line x1="83.5" y1="1483.1" x2="87" y2="1483.1" stroke="#1a1ab3" stroke-width="1.2"/>
<line x1="83.5" y1="1422.5" x2="87" y2="1422.5" stroke="#1a1ab3" stroke-width="1.2"/>
<line x1="83.5" y1="1361.9" x2="87" y2="1361.9" stroke="#1a1ab3" stroke-width="1.2"/>
<line x1="83.5" y1="1356.4" x2="83.5" y2="1555.8" stroke="#1a1ab3" stroke-width="1.4"/>
<text x="399" y="1546.6" font-size="37" text-anchor="end" fill="#000">2017</text>
<line x1="413.9" y1="1543.7" x2="417.4" y2="1543.7" stroke="#1a1ab3" stroke-width="1.2"/>
<line x1="413.9" y1="1483.1" x2="417.4" y2="1483.1" stroke="#1a1ab3" stroke-width="1.2"/>
<line x1="413.9" y1="1422.5" x2="417.4" y2="1422.5" stroke="#1a1ab3" stroke-width="1.2"/>
<line x1="413.9" y1="1361.9" x2="417.4" y2="1361.9" stroke="#1a1ab3" stroke-width="1.2"/>
<line x1="413.9" y1="1356.4" x2="413.9" y2="1555.8" stroke="#1a1ab3" stroke-width="1.4"/>
<text x="729.1" y="1546.6" font-size="37" text-anchor="end" fill="#000">2018</text>
<line x1="744" y1="1543.7" x2="747.5" y2="1543.7" stroke="#1a1ab3" stroke-width="1.2"/>
<line x1="744" y1="1483.1" x2="747.5" y2="1483.1" stroke="#1a1ab3" stroke-width="1.2"/>
<line x1="744" y1="1422.5" x2="747.5" y2="1422.5" stroke="#1a1ab3" stroke-width="1.2"/>
<line x1="744" y1="1361.9" x2="747.5" y2="1361.9" stroke="#1a1ab3" stroke-width="1.2"/>
<line x1="744" y1="1356.4" x2="744" y2="1555.8" stroke="#1a1ab3" stroke-width="1.4"/>
<text x="1059.3" y="1546.6" font-size="37" text-anchor="end" fill="#000">2019</text>
<line x1="1074.2" y1="1543.7" x2="1077.7" y2="1543.7" stroke="#1a1ab3" stroke-width="1.2"/>
<line x1="1074.2" y1="1483.1" x2="1077.7" y2="1483.1" stroke="#1a1ab3" stroke-width="1.2"/>
<line x1="1074.2" y1="1422.5" x2="1077.7" y2="1422.5" stroke="#1a1ab3" stroke-width="1.2"/>
<line x1="1074.2" y1="1361.9" x2="1077.7" y2="1361.9" stroke="#1a1ab3" stroke-width="1.2"/>
<line x1="1074.2" y1="1356.4" x2="1074.2" y2="1555.8" stroke="#1a1ab3" stroke-width="1.4"/>
<text x="1389.4" y="1546.6" font-size="37" text-anchor="end" fill="#000">2020</text>
<text x="68.8" y="1556.1" font-size="29" text-anchor="end" fill="#1a1ab3">-1</text>
<text x="68.8" y="1495.5" font-size="29" text-anchor="end" fill="#1a1ab3">0</text>
<text x="68.8" y="1434.9" font-size="29" text-anchor="end" fill="#1a1ab3">1</text>
<text x="68.8" y="1374.3" font-size="29" text-anchor="end" fill="#1a1ab3">2</text>
<text x="1417.3" y="1373.8" font-size="29" text-anchor="start" fill="#b01a1a">0</text>
<text x="1417.3" y="1443.2" font-size="29" text-anchor="start" fill="#b01a1a">2</text>
<text x="1417.3" y="1512.5" font-size="29" text-anchor="start" fill="#b01a1a">4</text>
<text x="93.5" y="1594.2" font-size="30" text-anchor="middle" fill="#262626">May</text>
<text x="156.3" y="1594.2" font-size="30" text-anchor="middle" fill="#262626">Jun</text>
<text x="217.1" y="1594.2" font-size="30" text-anchor="middle" fill="#262626">Jul</text>
<text x="279.9" y="1594.2" font-size="30" text-anchor="middle" fill="#262626">Aug</text>
<text x="342.8" y="1594.2" font-size="30" text-anchor="middle" fill="#262626">Sep</text>
<text x="423.9" y="1594.2" font-size="30" text-anchor="middle" fill="#262626">May</text>
<text x="486.7" y="1594.2" font-size="30" text-anchor="middle" fill="#262626">Jun</text>
<text x="547.5" y="1594.2" font-size="30" text-anchor="middle" fill="#262626">Jul</text>
<text x="610.3" y="1594.2" font-size="30" text-anchor="middle" fill="#262626">Aug</text>
<text x="673.2" y="1594.2" font-size="30" text-anchor="middle" fill="#262626">Sep</text>
<text x="754" y="1594.2" font-size="30" text-anchor="middle" fill="#262626">May</text>
<text x="816.9" y="1594.2" font-size="30" text-anchor="middle" fill="#262626">Jun</text>
<text x="877.7" y="1594.2" font-size="30" text-anchor="middle" fill="#262626">Jul</text>
<text x="940.5" y="1594.2" font-size="30" text-anchor="middle" fill="#262626">Aug</text>
<text x="1003.3" y="1594.2" font-size="30" text-anchor="middle" fill="#262626">Sep</text>
<text x="1084.2" y="1594.2" font-size="30" text-anchor="middle" fill="#262626">May</text>
<text x="1147" y="1594.2" font-size="30" text-anchor="middle" fill="#262626">Jun</text>
<text x="1207.8" y="1594.2" font-size="30" text-anchor="middle" fill="#262626">Jul</text>
<text x="1270.6" y="1594.2" font-size="30" text-anchor="middle" fill="#262626">Aug</text>
<text x="1333.5" y="1594.2" font-size="30" text-anchor="middle" fill="#262626">Sep</text>
<text x="5.2" y="656.8" font-size="42.5" text-anchor="start" fill="#000" font-weight="bold">b.</text>
<text x="4.8" y="1143" font-size="44" text-anchor="start" fill="#000" font-weight="bold">c.</text>
<text x="4.6" y="1632" font-size="42.5" text-anchor="start" fill="#000" font-weight="bold">d.</text>
<text x="147.3" y="35.6" font-size="45" text-anchor="start" fill="#000" font-weight="bold">a.</text>
<text x="873.5" y="1655.2" font-size="45.5" text-anchor="start" fill="#000" font-weight="bold">e.</text>
<text x="24.9" y="864.8" font-size="33.5" text-anchor="middle" fill="#1a1ab3" transform="rotate(-90 24.9 864.8)" textLength="55" lengthAdjust="spacingAndGlyphs">PC1</text>
<text x="24.9" y="1347" font-size="33.5" text-anchor="middle" fill="#1a1ab3" transform="rotate(-90 24.9 1347)" textLength="59" lengthAdjust="spacingAndGlyphs">PC2</text>
<text x="24.9" y="1838" font-size="33.5" text-anchor="middle" fill="#1a1ab3" transform="rotate(-90 24.9 1838)" textLength="59" lengthAdjust="spacingAndGlyphs">PC3</text>
<text x="1490" y="873" font-size="31.5" text-anchor="middle" fill="#b01a1a" transform="rotate(-90 1490 873)">Div of ice flux ( ×10<tspan dy="-12" font-size="24">-2</tspan><tspan dy="12"> m</tspan><tspan dy="-12" font-size="24">-1</tspan><tspan dy="12"> s</tspan><tspan dy="-12" font-size="24">-1</tspan><tspan dy="12">)</tspan></text>
<text x="1490" y="1351.5" font-size="31.5" text-anchor="middle" fill="#b01a1a" transform="rotate(-90 1490 1351.5)">TNBP Area ( ×10<tspan dy="-13" font-size="27">3</tspan><tspan dy="13"> km</tspan><tspan dy="-13" font-size="27">2</tspan><tspan dy="13">)</tspan></text>
<line x1="88.3" y1="1630.9" x2="88.3" y2="1634.2" stroke="#262626" stroke-width="1.2"/>
<line x1="88.3" y1="1827.5" x2="88.3" y2="1824.2" stroke="#262626" stroke-width="1.2"/>
<line x1="123.7" y1="1630.9" x2="123.7" y2="1634.2" stroke="#262626" stroke-width="1.2"/>
<line x1="123.7" y1="1827.5" x2="123.7" y2="1824.2" stroke="#262626" stroke-width="1.2"/>
<line x1="157.9" y1="1630.9" x2="157.9" y2="1634.2" stroke="#262626" stroke-width="1.2"/>
<line x1="157.9" y1="1827.5" x2="157.9" y2="1824.2" stroke="#262626" stroke-width="1.2"/>
<line x1="193.2" y1="1630.9" x2="193.2" y2="1634.2" stroke="#262626" stroke-width="1.2"/>
<line x1="193.2" y1="1827.5" x2="193.2" y2="1824.2" stroke="#262626" stroke-width="1.2"/>
<line x1="228.6" y1="1630.9" x2="228.6" y2="1634.2" stroke="#262626" stroke-width="1.2"/>
<line x1="228.6" y1="1827.5" x2="228.6" y2="1824.2" stroke="#262626" stroke-width="1.2"/>
<line x1="262.8" y1="1630.9" x2="262.8" y2="1634.2" stroke="#262626" stroke-width="1.2"/>
<line x1="262.8" y1="1827.5" x2="262.8" y2="1824.2" stroke="#262626" stroke-width="1.2"/>
<line x1="84" y1="1630.9" x2="269.7" y2="1630.9" stroke="#262626" stroke-width="1.2"/>
<line x1="84" y1="1827.5" x2="269.7" y2="1827.5" stroke="#262626" stroke-width="1.2"/>
<line x1="274" y1="1630.9" x2="274" y2="1634.2" stroke="#262626" stroke-width="1.2"/>
<line x1="274" y1="1827.5" x2="274" y2="1824.2" stroke="#262626" stroke-width="1.2"/>
<line x1="309.4" y1="1630.9" x2="309.4" y2="1634.2" stroke="#262626" stroke-width="1.2"/>
<line x1="309.4" y1="1827.5" x2="309.4" y2="1824.2" stroke="#262626" stroke-width="1.2"/>
<line x1="343.6" y1="1630.9" x2="343.6" y2="1634.2" stroke="#262626" stroke-width="1.2"/>
<line x1="343.6" y1="1827.5" x2="343.6" y2="1824.2" stroke="#262626" stroke-width="1.2"/>
<line x1="378.9" y1="1630.9" x2="378.9" y2="1634.2" stroke="#262626" stroke-width="1.2"/>
<line x1="378.9" y1="1827.5" x2="378.9" y2="1824.2" stroke="#262626" stroke-width="1.2"/>
<line x1="414.3" y1="1630.9" x2="414.3" y2="1634.2" stroke="#262626" stroke-width="1.2"/>
<line x1="414.3" y1="1827.5" x2="414.3" y2="1824.2" stroke="#262626" stroke-width="1.2"/>
<line x1="448.5" y1="1630.9" x2="448.5" y2="1634.2" stroke="#262626" stroke-width="1.2"/>
<line x1="448.5" y1="1827.5" x2="448.5" y2="1824.2" stroke="#262626" stroke-width="1.2"/>
<line x1="269.7" y1="1630.9" x2="455.5" y2="1630.9" stroke="#262626" stroke-width="1.2"/>
<line x1="269.7" y1="1827.5" x2="455.5" y2="1827.5" stroke="#262626" stroke-width="1.2"/>
<line x1="459.8" y1="1630.9" x2="459.8" y2="1634.2" stroke="#262626" stroke-width="1.2"/>
<line x1="459.8" y1="1827.5" x2="459.8" y2="1824.2" stroke="#262626" stroke-width="1.2"/>
<line x1="495.2" y1="1630.9" x2="495.2" y2="1634.2" stroke="#262626" stroke-width="1.2"/>
<line x1="495.2" y1="1827.5" x2="495.2" y2="1824.2" stroke="#262626" stroke-width="1.2"/>
<line x1="529.4" y1="1630.9" x2="529.4" y2="1634.2" stroke="#262626" stroke-width="1.2"/>
<line x1="529.4" y1="1827.5" x2="529.4" y2="1824.2" stroke="#262626" stroke-width="1.2"/>
<line x1="564.7" y1="1630.9" x2="564.7" y2="1634.2" stroke="#262626" stroke-width="1.2"/>
<line x1="564.7" y1="1827.5" x2="564.7" y2="1824.2" stroke="#262626" stroke-width="1.2"/>
<line x1="600.1" y1="1630.9" x2="600.1" y2="1634.2" stroke="#262626" stroke-width="1.2"/>
<line x1="600.1" y1="1827.5" x2="600.1" y2="1824.2" stroke="#262626" stroke-width="1.2"/>
<line x1="634.3" y1="1630.9" x2="634.3" y2="1634.2" stroke="#262626" stroke-width="1.2"/>
<line x1="634.3" y1="1827.5" x2="634.3" y2="1824.2" stroke="#262626" stroke-width="1.2"/>
<line x1="455.5" y1="1630.9" x2="641.5" y2="1630.9" stroke="#262626" stroke-width="1.2"/>
<line x1="455.5" y1="1827.5" x2="641.5" y2="1827.5" stroke="#262626" stroke-width="1.2"/>
<line x1="645.8" y1="1630.9" x2="645.8" y2="1634.2" stroke="#262626" stroke-width="1.2"/>
<line x1="645.8" y1="1827.5" x2="645.8" y2="1824.2" stroke="#262626" stroke-width="1.2"/>
<line x1="681.2" y1="1630.9" x2="681.2" y2="1634.2" stroke="#262626" stroke-width="1.2"/>
<line x1="681.2" y1="1827.5" x2="681.2" y2="1824.2" stroke="#262626" stroke-width="1.2"/>
<line x1="715.4" y1="1630.9" x2="715.4" y2="1634.2" stroke="#262626" stroke-width="1.2"/>
<line x1="715.4" y1="1827.5" x2="715.4" y2="1824.2" stroke="#262626" stroke-width="1.2"/>
<line x1="750.7" y1="1630.9" x2="750.7" y2="1634.2" stroke="#262626" stroke-width="1.2"/>
<line x1="750.7" y1="1827.5" x2="750.7" y2="1824.2" stroke="#262626" stroke-width="1.2"/>
<line x1="786.1" y1="1630.9" x2="786.1" y2="1634.2" stroke="#262626" stroke-width="1.2"/>
<line x1="786.1" y1="1827.5" x2="786.1" y2="1824.2" stroke="#262626" stroke-width="1.2"/>
<line x1="820.3" y1="1630.9" x2="820.3" y2="1634.2" stroke="#262626" stroke-width="1.2"/>
<line x1="820.3" y1="1827.5" x2="820.3" y2="1824.2" stroke="#262626" stroke-width="1.2"/>
<line x1="641.5" y1="1630.9" x2="827.4" y2="1630.9" stroke="#262626" stroke-width="1.2"/>
<line x1="641.5" y1="1827.5" x2="827.4" y2="1827.5" stroke="#262626" stroke-width="1.2"/>
<line x1="84" y1="1827.5" x2="87.5" y2="1827.5" stroke="#1a1ab3" stroke-width="1.2"/>
<line x1="269.7" y1="1827.5" x2="266.2" y2="1827.5" stroke="#1a1ab3" stroke-width="1.2"/>
<line x1="84" y1="1731.4" x2="87.5" y2="1731.4" stroke="#1a1ab3" stroke-width="1.2"/>
<line x1="269.7" y1="1731.4" x2="266.2" y2="1731.4" stroke="#1a1ab3" stroke-width="1.2"/>
<line x1="84" y1="1635.2" x2="87.5" y2="1635.2" stroke="#1a1ab3" stroke-width="1.2"/>
<line x1="269.7" y1="1635.2" x2="266.2" y2="1635.2" stroke="#1a1ab3" stroke-width="1.2"/>
<line x1="84" y1="1630.9" x2="84" y2="1827.5" stroke="#1a1ab3" stroke-width="1.4"/>
<line x1="269.7" y1="1630.9" x2="269.7" y2="1827.5" stroke="#1a1ab3" stroke-width="1.4"/>
<text x="255.4" y="1817.3" font-size="37" text-anchor="end" fill="#000">2013</text>
<line x1="269.7" y1="1827.5" x2="273.2" y2="1827.5" stroke="#1a1ab3" stroke-width="1.2"/>
<line x1="455.5" y1="1827.5" x2="452" y2="1827.5" stroke="#1a1ab3" stroke-width="1.2"/>
<line x1="269.7" y1="1731.4" x2="273.2" y2="1731.4" stroke="#1a1ab3" stroke-width="1.2"/>
<line x1="455.5" y1="1731.4" x2="452" y2="1731.4" stroke="#1a1ab3" stroke-width="1.2"/>
<line x1="269.7" y1="1635.2" x2="273.2" y2="1635.2" stroke="#1a1ab3" stroke-width="1.2"/>
<line x1="455.5" y1="1635.2" x2="452" y2="1635.2" stroke="#1a1ab3" stroke-width="1.2"/>
<line x1="269.7" y1="1630.9" x2="269.7" y2="1827.5" stroke="#1a1ab3" stroke-width="1.4"/>
<line x1="455.5" y1="1630.9" x2="455.5" y2="1827.5" stroke="#1a1ab3" stroke-width="1.4"/>
<text x="441.2" y="1817.3" font-size="37" text-anchor="end" fill="#000">2014</text>
<line x1="455.5" y1="1827.5" x2="459" y2="1827.5" stroke="#1a1ab3" stroke-width="1.2"/>
<line x1="641.5" y1="1827.5" x2="638" y2="1827.5" stroke="#1a1ab3" stroke-width="1.2"/>
<line x1="455.5" y1="1731.4" x2="459" y2="1731.4" stroke="#1a1ab3" stroke-width="1.2"/>
<line x1="641.5" y1="1731.4" x2="638" y2="1731.4" stroke="#1a1ab3" stroke-width="1.2"/>
<line x1="455.5" y1="1635.2" x2="459" y2="1635.2" stroke="#1a1ab3" stroke-width="1.2"/>
<line x1="641.5" y1="1635.2" x2="638" y2="1635.2" stroke="#1a1ab3" stroke-width="1.2"/>
<line x1="455.5" y1="1630.9" x2="455.5" y2="1827.5" stroke="#1a1ab3" stroke-width="1.4"/>
<line x1="641.5" y1="1630.9" x2="641.5" y2="1827.5" stroke="#1a1ab3" stroke-width="1.4"/>
<text x="627.2" y="1817.3" font-size="37" text-anchor="end" fill="#000">2015</text>
<line x1="641.5" y1="1827.5" x2="645" y2="1827.5" stroke="#1a1ab3" stroke-width="1.2"/>
<line x1="827.4" y1="1827.5" x2="823.9" y2="1827.5" stroke="#1a1ab3" stroke-width="1.2"/>
<line x1="641.5" y1="1731.4" x2="645" y2="1731.4" stroke="#1a1ab3" stroke-width="1.2"/>
<line x1="827.4" y1="1731.4" x2="823.9" y2="1731.4" stroke="#1a1ab3" stroke-width="1.2"/>
<line x1="641.5" y1="1635.2" x2="645" y2="1635.2" stroke="#1a1ab3" stroke-width="1.2"/>
<line x1="827.4" y1="1635.2" x2="823.9" y2="1635.2" stroke="#1a1ab3" stroke-width="1.2"/>
<line x1="641.5" y1="1630.9" x2="641.5" y2="1827.5" stroke="#1a1ab3" stroke-width="1.4"/>
<line x1="827.4" y1="1630.9" x2="827.4" y2="1827.5" stroke="#1a1ab3" stroke-width="1.4"/>
<text x="813.1" y="1817.3" font-size="37" text-anchor="end" fill="#000">2016</text>
<text x="68.8" y="1839.8" font-size="29" text-anchor="end" fill="#1a1ab3">-2</text>
<text x="68.8" y="1743.7" font-size="29" text-anchor="end" fill="#1a1ab3">0</text>
<text x="68.8" y="1647.5" font-size="29" text-anchor="end" fill="#1a1ab3">2</text>
<line x1="88.3" y1="1845.6" x2="88.3" y2="1848.9" stroke="#262626" stroke-width="1.2"/>
<line x1="88.3" y1="2044" x2="88.3" y2="2040.7" stroke="#262626" stroke-width="1.2"/>
<line x1="123.7" y1="1845.6" x2="123.7" y2="1848.9" stroke="#262626" stroke-width="1.2"/>
<line x1="123.7" y1="2044" x2="123.7" y2="2040.7" stroke="#262626" stroke-width="1.2"/>
<line x1="157.9" y1="1845.6" x2="157.9" y2="1848.9" stroke="#262626" stroke-width="1.2"/>
<line x1="157.9" y1="2044" x2="157.9" y2="2040.7" stroke="#262626" stroke-width="1.2"/>
<line x1="193.2" y1="1845.6" x2="193.2" y2="1848.9" stroke="#262626" stroke-width="1.2"/>
<line x1="193.2" y1="2044" x2="193.2" y2="2040.7" stroke="#262626" stroke-width="1.2"/>
<line x1="228.6" y1="1845.6" x2="228.6" y2="1848.9" stroke="#262626" stroke-width="1.2"/>
<line x1="228.6" y1="2044" x2="228.6" y2="2040.7" stroke="#262626" stroke-width="1.2"/>
<line x1="262.8" y1="1845.6" x2="262.8" y2="1848.9" stroke="#262626" stroke-width="1.2"/>
<line x1="262.8" y1="2044" x2="262.8" y2="2040.7" stroke="#262626" stroke-width="1.2"/>
<line x1="84" y1="1845.6" x2="269.7" y2="1845.6" stroke="#262626" stroke-width="1.2"/>
<line x1="84" y1="2044" x2="269.7" y2="2044" stroke="#262626" stroke-width="1.2"/>
<line x1="274" y1="1845.6" x2="274" y2="1848.9" stroke="#262626" stroke-width="1.2"/>
<line x1="274" y1="2044" x2="274" y2="2040.7" stroke="#262626" stroke-width="1.2"/>
<line x1="309.4" y1="1845.6" x2="309.4" y2="1848.9" stroke="#262626" stroke-width="1.2"/>
<line x1="309.4" y1="2044" x2="309.4" y2="2040.7" stroke="#262626" stroke-width="1.2"/>
<line x1="343.6" y1="1845.6" x2="343.6" y2="1848.9" stroke="#262626" stroke-width="1.2"/>
<line x1="343.6" y1="2044" x2="343.6" y2="2040.7" stroke="#262626" stroke-width="1.2"/>
<line x1="378.9" y1="1845.6" x2="378.9" y2="1848.9" stroke="#262626" stroke-width="1.2"/>
<line x1="378.9" y1="2044" x2="378.9" y2="2040.7" stroke="#262626" stroke-width="1.2"/>
<line x1="414.3" y1="1845.6" x2="414.3" y2="1848.9" stroke="#262626" stroke-width="1.2"/>
<line x1="414.3" y1="2044" x2="414.3" y2="2040.7" stroke="#262626" stroke-width="1.2"/>
<line x1="448.5" y1="1845.6" x2="448.5" y2="1848.9" stroke="#262626" stroke-width="1.2"/>
<line x1="448.5" y1="2044" x2="448.5" y2="2040.7" stroke="#262626" stroke-width="1.2"/>
<line x1="269.7" y1="1845.6" x2="455.5" y2="1845.6" stroke="#262626" stroke-width="1.2"/>
<line x1="269.7" y1="2044" x2="455.5" y2="2044" stroke="#262626" stroke-width="1.2"/>
<line x1="459.8" y1="1845.6" x2="459.8" y2="1848.9" stroke="#262626" stroke-width="1.2"/>
<line x1="459.8" y1="2044" x2="459.8" y2="2040.7" stroke="#262626" stroke-width="1.2"/>
<line x1="495.2" y1="1845.6" x2="495.2" y2="1848.9" stroke="#262626" stroke-width="1.2"/>
<line x1="495.2" y1="2044" x2="495.2" y2="2040.7" stroke="#262626" stroke-width="1.2"/>
<line x1="529.4" y1="1845.6" x2="529.4" y2="1848.9" stroke="#262626" stroke-width="1.2"/>
<line x1="529.4" y1="2044" x2="529.4" y2="2040.7" stroke="#262626" stroke-width="1.2"/>
<line x1="564.7" y1="1845.6" x2="564.7" y2="1848.9" stroke="#262626" stroke-width="1.2"/>
<line x1="564.7" y1="2044" x2="564.7" y2="2040.7" stroke="#262626" stroke-width="1.2"/>
<line x1="600.1" y1="1845.6" x2="600.1" y2="1848.9" stroke="#262626" stroke-width="1.2"/>
<line x1="600.1" y1="2044" x2="600.1" y2="2040.7" stroke="#262626" stroke-width="1.2"/>
<line x1="634.3" y1="1845.6" x2="634.3" y2="1848.9" stroke="#262626" stroke-width="1.2"/>
<line x1="634.3" y1="2044" x2="634.3" y2="2040.7" stroke="#262626" stroke-width="1.2"/>
<line x1="455.5" y1="1845.6" x2="641.5" y2="1845.6" stroke="#262626" stroke-width="1.2"/>
<line x1="455.5" y1="2044" x2="641.5" y2="2044" stroke="#262626" stroke-width="1.2"/>
<line x1="645.8" y1="1845.6" x2="645.8" y2="1848.9" stroke="#262626" stroke-width="1.2"/>
<line x1="645.8" y1="2044" x2="645.8" y2="2040.7" stroke="#262626" stroke-width="1.2"/>
<line x1="681.2" y1="1845.6" x2="681.2" y2="1848.9" stroke="#262626" stroke-width="1.2"/>
<line x1="681.2" y1="2044" x2="681.2" y2="2040.7" stroke="#262626" stroke-width="1.2"/>
<line x1="715.4" y1="1845.6" x2="715.4" y2="1848.9" stroke="#262626" stroke-width="1.2"/>
<line x1="715.4" y1="2044" x2="715.4" y2="2040.7" stroke="#262626" stroke-width="1.2"/>
<line x1="750.7" y1="1845.6" x2="750.7" y2="1848.9" stroke="#262626" stroke-width="1.2"/>
<line x1="750.7" y1="2044" x2="750.7" y2="2040.7" stroke="#262626" stroke-width="1.2"/>
<line x1="786.1" y1="1845.6" x2="786.1" y2="1848.9" stroke="#262626" stroke-width="1.2"/>
<line x1="786.1" y1="2044" x2="786.1" y2="2040.7" stroke="#262626" stroke-width="1.2"/>
<line x1="820.3" y1="1845.6" x2="820.3" y2="1848.9" stroke="#262626" stroke-width="1.2"/>
<line x1="820.3" y1="2044" x2="820.3" y2="2040.7" stroke="#262626" stroke-width="1.2"/>
<line x1="641.5" y1="1845.6" x2="827.4" y2="1845.6" stroke="#262626" stroke-width="1.2"/>
<line x1="641.5" y1="2044" x2="827.4" y2="2044" stroke="#262626" stroke-width="1.2"/>
<line x1="84" y1="2044" x2="87.5" y2="2044" stroke="#1a1ab3" stroke-width="1.2"/>
<line x1="269.7" y1="2044" x2="266.2" y2="2044" stroke="#1a1ab3" stroke-width="1.2"/>
<line x1="84" y1="1947" x2="87.5" y2="1947" stroke="#1a1ab3" stroke-width="1.2"/>
<line x1="269.7" y1="1947" x2="266.2" y2="1947" stroke="#1a1ab3" stroke-width="1.2"/>
<line x1="84" y1="1850" x2="87.5" y2="1850" stroke="#1a1ab3" stroke-width="1.2"/>
<line x1="269.7" y1="1850" x2="266.2" y2="1850" stroke="#1a1ab3" stroke-width="1.2"/>
<line x1="84" y1="1845.6" x2="84" y2="2044" stroke="#1a1ab3" stroke-width="1.4"/>
<line x1="269.7" y1="1845.6" x2="269.7" y2="2044" stroke="#1a1ab3" stroke-width="1.4"/>
<text x="255.4" y="2033.8" font-size="37" text-anchor="end" fill="#000">2017</text>
<line x1="269.7" y1="2044" x2="273.2" y2="2044" stroke="#1a1ab3" stroke-width="1.2"/>
<line x1="455.5" y1="2044" x2="452" y2="2044" stroke="#1a1ab3" stroke-width="1.2"/>
<line x1="269.7" y1="1947" x2="273.2" y2="1947" stroke="#1a1ab3" stroke-width="1.2"/>
<line x1="455.5" y1="1947" x2="452" y2="1947" stroke="#1a1ab3" stroke-width="1.2"/>
<line x1="269.7" y1="1850" x2="273.2" y2="1850" stroke="#1a1ab3" stroke-width="1.2"/>
<line x1="455.5" y1="1850" x2="452" y2="1850" stroke="#1a1ab3" stroke-width="1.2"/>
<line x1="269.7" y1="1845.6" x2="269.7" y2="2044" stroke="#1a1ab3" stroke-width="1.4"/>
<line x1="455.5" y1="1845.6" x2="455.5" y2="2044" stroke="#1a1ab3" stroke-width="1.4"/>
<text x="441.2" y="2033.8" font-size="37" text-anchor="end" fill="#000">2018</text>
<line x1="455.5" y1="2044" x2="459" y2="2044" stroke="#1a1ab3" stroke-width="1.2"/>
<line x1="641.5" y1="2044" x2="638" y2="2044" stroke="#1a1ab3" stroke-width="1.2"/>
<line x1="455.5" y1="1947" x2="459" y2="1947" stroke="#1a1ab3" stroke-width="1.2"/>
<line x1="641.5" y1="1947" x2="638" y2="1947" stroke="#1a1ab3" stroke-width="1.2"/>
<line x1="455.5" y1="1850" x2="459" y2="1850" stroke="#1a1ab3" stroke-width="1.2"/>
<line x1="641.5" y1="1850" x2="638" y2="1850" stroke="#1a1ab3" stroke-width="1.2"/>
<line x1="455.5" y1="1845.6" x2="455.5" y2="2044" stroke="#1a1ab3" stroke-width="1.4"/>
<line x1="641.5" y1="1845.6" x2="641.5" y2="2044" stroke="#1a1ab3" stroke-width="1.4"/>
<text x="627.2" y="2033.8" font-size="37" text-anchor="end" fill="#000">2019</text>
<line x1="641.5" y1="2044" x2="645" y2="2044" stroke="#1a1ab3" stroke-width="1.2"/>
<line x1="827.4" y1="2044" x2="823.9" y2="2044" stroke="#1a1ab3" stroke-width="1.2"/>
<line x1="641.5" y1="1947" x2="645" y2="1947" stroke="#1a1ab3" stroke-width="1.2"/>
<line x1="827.4" y1="1947" x2="823.9" y2="1947" stroke="#1a1ab3" stroke-width="1.2"/>
<line x1="641.5" y1="1850" x2="645" y2="1850" stroke="#1a1ab3" stroke-width="1.2"/>
<line x1="827.4" y1="1850" x2="823.9" y2="1850" stroke="#1a1ab3" stroke-width="1.2"/>
<line x1="641.5" y1="1845.6" x2="641.5" y2="2044" stroke="#1a1ab3" stroke-width="1.4"/>
<line x1="827.4" y1="1845.6" x2="827.4" y2="2044" stroke="#1a1ab3" stroke-width="1.4"/>
<text x="813.1" y="2033.8" font-size="37" text-anchor="end" fill="#000">2020</text>
<text x="68.8" y="2056.3" font-size="29" text-anchor="end" fill="#1a1ab3">-2</text>
<text x="68.8" y="1959.3" font-size="29" text-anchor="end" fill="#1a1ab3">0</text>
<text x="68.8" y="1862.3" font-size="29" text-anchor="end" fill="#1a1ab3">2</text>
<text x="88.3" y="2081.3" font-size="30" text-anchor="middle" fill="#262626">May</text>
<text x="157.9" y="2081.3" font-size="30" text-anchor="middle" fill="#262626">Jul</text>
<text x="228.6" y="2081.3" font-size="30" text-anchor="middle" fill="#262626">Sep</text>
<text x="343.6" y="2081.3" font-size="30" text-anchor="middle" fill="#262626">Jul</text>
<text x="414.3" y="2081.3" font-size="30" text-anchor="middle" fill="#262626">Sep</text>
<text x="529.4" y="2081.3" font-size="30" text-anchor="middle" fill="#262626">Jul</text>
<text x="600.1" y="2081.3" font-size="30" text-anchor="middle" fill="#262626">Sep</text>
<text x="715.4" y="2081.3" font-size="30" text-anchor="middle" fill="#262626">Jul</text>
<text x="786.1" y="2081.3" font-size="30" text-anchor="middle" fill="#262626">Sep</text>
<g transform="translate(0.0,0.0)">
<clipPath id="ca1"><rect x="279.8" y="32.1" width="432.8" height="288.8"/></clipPath>
<g clip-path="url(#ca1)">
<polygon points="407.9,70.0 424.3,73.8 420.6,90.2 404.1,86.5" fill="#d05004" stroke="#d05004" stroke-width="0.9"/>
<polygon points="424.3,73.8 440.8,77.5 437.0,94.0 420.6,90.2" fill="#c34802" stroke="#c34802" stroke-width="0.9"/>
<polygon points="440.8,77.5 457.2,81.3 453.5,97.7 437.0,94.0" fill="#b24003" stroke="#b24003" stroke-width="0.9"/>
<polygon points="457.2,81.3 473.7,85.0 469.9,101.5 453.5,97.7" fill="#ae3e03" stroke="#ae3e03" stroke-width="0.9"/>
<polygon points="473.7,85.0 490.1,88.8 486.4,105.2 469.9,101.5" fill="#a73b03" stroke="#a73b03" stroke-width="0.9"/>
<polygon points="490.1,88.8 506.6,92.5 502.8,109.0 486.4,105.2" fill="#a73b03" stroke="#a73b03" stroke-width="0.9"/>
<polygon points="506.6,92.5 523.0,96.3 519.3,112.7 502.8,109.0" fill="#a03704" stroke="#a03704" stroke-width="0.9"/>
<polygon points="523.0,96.3 539.5,100.0 535.7,116.5 519.3,112.7" fill="#a03704" stroke="#a03704" stroke-width="0.9"/>
<polygon points="539.5,100.0 555.9,103.8 552.2,120.2 535.7,116.5" fill="#b54103" stroke="#b54103" stroke-width="0.9"/>
<polygon points="555.9,103.8 572.4,107.6 568.6,124.0 552.2,120.2" fill="#bc4503" stroke="#bc4503" stroke-width="0.9"/>
<polygon points="572.4,107.6 588.8,111.3 585.1,127.8 568.6,124.0" fill="#cb4b02" stroke="#cb4b02" stroke-width="0.9"/>
<polygon points="588.8,111.3 605.3,115.1 601.5,131.5 585.1,127.8" fill="#d45507" stroke="#d45507" stroke-width="0.9"/>
<polygon points="605.3,115.1 621.7,118.8 617.9,135.3 601.5,131.5" fill="#db5d0a" stroke="#db5d0a" stroke-width="0.9"/>
<polygon points="621.7,118.8 638.1,122.6 634.4,139.0 617.9,135.3" fill="#f07818" stroke="#f07818" stroke-width="0.9"/>
<polygon points="638.1,122.6 654.6,126.3 650.8,142.8 634.4,139.0" fill="#fe9b2b" stroke="#fe9b2b" stroke-width="0.9"/>
<polygon points="404.1,86.5 420.6,90.2 416.8,106.7 400.4,102.9" fill="#cb4b02" stroke="#cb4b02" stroke-width="0.9"/>
<polygon points="420.6,90.2 437.0,94.0 433.3,110.4 416.8,106.7" fill="#c34802" stroke="#c34802" stroke-width="0.9"/>
<polygon points="437.0,94.0 453.5,97.7 449.7,114.2 433.3,110.4" fill="#ae3e03" stroke="#ae3e03" stroke-width="0.9"/>
<polygon points="453.5,97.7 469.9,101.5 466.2,117.9 449.7,114.2" fill="#a03704" stroke="#a03704" stroke-width="0.9"/>
<polygon points="469.9,101.5 486.4,105.2 482.6,121.7 466.2,117.9" fill="#973304" stroke="#973304" stroke-width="0.9"/>
<polygon points="486.4,105.2 502.8,109.0 499.1,125.4 482.6,121.7" fill="#933204" stroke="#933204" stroke-width="0.9"/>
<polygon points="502.8,109.0 519.3,112.7 515.5,129.2 499.1,125.4" fill="#973304" stroke="#973304" stroke-width="0.9"/>
<polygon points="519.3,112.7 535.7,116.5 532.0,132.9 515.5,129.2" fill="#9d3604" stroke="#9d3604" stroke-width="0.9"/>
<polygon points="535.7,116.5 552.2,120.2 548.4,136.7 532.0,132.9" fill="#a73b03" stroke="#a73b03" stroke-width="0.9"/>
<polygon points="552.2,120.2 568.6,124.0 564.9,140.5 548.4,136.7" fill="#ae3e03" stroke="#ae3e03" stroke-width="0.9"/>
<polygon points="568.6,124.0 585.1,127.8 581.3,144.2 564.9,140.5" fill="#c04602" stroke="#c04602" stroke-width="0.9"/>
<polygon points="585.1,127.8 601.5,131.5 597.7,148.0 581.3,144.2" fill="#d25305" stroke="#d25305" stroke-width="0.9"/>
<polygon points="601.5,131.5 617.9,135.3 614.2,151.7 597.7,148.0" fill="#e2640e" stroke="#e2640e" stroke-width="0.9"/>
<polygon points="617.9,135.3 634.4,139.0 630.6,155.5 614.2,151.7" fill="#f17c1a" stroke="#f17c1a" stroke-width="0.9"/>
<polygon points="634.4,139.0 650.8,142.8 647.1,159.2 630.6,155.5" fill="#fea231" stroke="#fea231" stroke-width="0.9"/>
<polygon points="416.8,106.7 433.3,110.4 429.5,126.9 413.1,123.1" fill="#c04602" stroke="#c04602" stroke-width="0.9"/>
<polygon points="433.3,110.4 449.7,114.2 446.0,130.6 429.5,126.9" fill="#b54103" stroke="#b54103" stroke-width="0.9"/>
<polygon points="449.7,114.2 466.2,117.9 462.4,134.4 446.0,130.6" fill="#a03704" stroke="#a03704" stroke-width="0.9"/>
<polygon points="466.2,117.9 482.6,121.7 478.9,138.1 462.4,134.4" fill="#9a3404" stroke="#9a3404" stroke-width="0.9"/>
<polygon points="482.6,121.7 499.1,125.4 495.3,141.9 478.9,138.1" fill="#973304" stroke="#973304" stroke-width="0.9"/>
<polygon points="499.1,125.4 515.5,129.2 511.8,145.6 495.3,141.9" fill="#9a3404" stroke="#9a3404" stroke-width="0.9"/>
<polygon points="515.5,129.2 532.0,132.9 528.2,149.4 511.8,145.6" fill="#9a3404" stroke="#9a3404" stroke-width="0.9"/>
<polygon points="532.0,132.9 548.4,136.7 544.7,153.1 528.2,149.4" fill="#9a3404" stroke="#9a3404" stroke-width="0.9"/>
<polygon points="548.4,136.7 564.9,140.5 561.1,156.9 544.7,153.1" fill="#a73b03" stroke="#a73b03" stroke-width="0.9"/>
<polygon points="564.9,140.5 581.3,144.2 577.5,160.7 561.1,156.9" fill="#bc4503" stroke="#bc4503" stroke-width="0.9"/>
<polygon points="581.3,144.2 597.7,148.0 594.0,164.4 577.5,160.7" fill="#d25305" stroke="#d25305" stroke-width="0.9"/>
<polygon points="597.7,148.0 614.2,151.7 610.4,168.2 594.0,164.4" fill="#e96c12" stroke="#e96c12" stroke-width="0.9"/>
<polygon points="614.2,151.7 630.6,155.5 626.9,171.9 610.4,168.2" fill="#f98e24" stroke="#f98e24" stroke-width="0.9"/>
<polygon points="630.6,155.5 647.1,159.2 643.3,175.7 626.9,171.9" fill="#feb23f" stroke="#feb23f" stroke-width="0.9"/>
<polygon points="396.6,119.4 413.1,123.1 409.3,139.6 392.9,135.8" fill="#f07818" stroke="#f07818" stroke-width="0.9"/>
<polygon points="413.1,123.1 429.5,126.9 425.8,143.3 409.3,139.6" fill="#e2640e" stroke="#e2640e" stroke-width="0.9"/>
<polygon points="429.5,126.9 446.0,130.6 442.2,147.1 425.8,143.3" fill="#d65808" stroke="#d65808" stroke-width="0.9"/>
<polygon points="446.0,130.6 462.4,134.4 458.7,150.8 442.2,147.1" fill="#cb4b02" stroke="#cb4b02" stroke-width="0.9"/>
<polygon points="462.4,134.4 478.9,138.1 475.1,154.6 458.7,150.8" fill="#b94303" stroke="#b94303" stroke-width="0.9"/>
<polygon points="478.9,138.1 495.3,141.9 491.6,158.3 475.1,154.6" fill="#ae3e03" stroke="#ae3e03" stroke-width="0.9"/>
<polygon points="495.3,141.9 511.8,145.6 508.0,162.1 491.6,158.3" fill="#a73b03" stroke="#a73b03" stroke-width="0.9"/>
<polygon points="511.8,145.6 528.2,149.4 524.4,165.8 508.0,162.1" fill="#a03704" stroke="#a03704" stroke-width="0.9"/>
<polygon points="528.2,149.4 544.7,153.1 540.9,169.6 524.4,165.8" fill="#9d3604" stroke="#9d3604" stroke-width="0.9"/>
<polygon points="544.7,153.1 561.1,156.9 557.3,173.3 540.9,169.6" fill="#a03704" stroke="#a03704" stroke-width="0.9"/>
<polygon points="561.1,156.9 577.5,160.7 573.8,177.1 557.3,173.3" fill="#b94303" stroke="#b94303" stroke-width="0.9"/>
<polygon points="577.5,160.7 594.0,164.4 590.2,180.9 573.8,177.1" fill="#d25305" stroke="#d25305" stroke-width="0.9"/>
<polygon points="594.0,164.4 610.4,168.2 606.7,184.6 590.2,180.9" fill="#ed7215" stroke="#ed7215" stroke-width="0.9"/>
<polygon points="610.4,168.2 626.9,171.9 623.1,188.4 606.7,184.6" fill="#fe9b2b" stroke="#fe9b2b" stroke-width="0.9"/>
<polygon points="626.9,171.9 643.3,175.7 639.6,192.1 623.1,188.4" fill="#febc48" stroke="#febc48" stroke-width="0.9"/>
<polygon points="392.9,135.8 409.3,139.6 405.6,156.0 389.1,152.2" fill="#fea231" stroke="#fea231" stroke-width="0.9"/>
<polygon points="409.3,139.6 425.8,143.3 422.0,159.8 405.6,156.0" fill="#f78820" stroke="#f78820" stroke-width="0.9"/>
<polygon points="425.8,143.3 442.2,147.1 438.5,163.5 422.0,159.8" fill="#ed7215" stroke="#ed7215" stroke-width="0.9"/>
<polygon points="442.2,147.1 458.7,150.8 454.9,167.3 438.5,163.5" fill="#e4670f" stroke="#e4670f" stroke-width="0.9"/>
<polygon points="458.7,150.8 475.1,154.6 471.4,171.0 454.9,167.3" fill="#d65808" stroke="#d65808" stroke-width="0.9"/>
<polygon points="475.1,154.6 491.6,158.3 487.8,174.8 471.4,171.0" fill="#cb4b02" stroke="#cb4b02" stroke-width="0.9"/>
<polygon points="491.6,158.3 508.0,162.1 504.2,178.5 487.8,174.8" fill="#bc4503" stroke="#bc4503" stroke-width="0.9"/>
<polygon points="508.0,162.1 524.4,165.8 520.7,182.3 504.2,178.5" fill="#ae3e03" stroke="#ae3e03" stroke-width="0.9"/>
<polygon points="524.4,165.8 540.9,169.6 537.1,186.0 520.7,182.3" fill="#a03704" stroke="#a03704" stroke-width="0.9"/>
<polygon points="540.9,169.6 557.3,173.3 553.6,189.8 537.1,186.0" fill="#a73b03" stroke="#a73b03" stroke-width="0.9"/>
<polygon points="557.3,173.3 573.8,177.1 570.0,193.5 553.6,189.8" fill="#bc4503" stroke="#bc4503" stroke-width="0.9"/>
<polygon points="573.8,177.1 590.2,180.9 586.5,197.3 570.0,193.5" fill="#d25305" stroke="#d25305" stroke-width="0.9"/>
<polygon points="590.2,180.9 606.7,184.6 602.9,201.1 586.5,197.3" fill="#ee7517" stroke="#ee7517" stroke-width="0.9"/>
<polygon points="606.7,184.6 623.1,188.4 619.4,204.8 602.9,201.1" fill="#fea231" stroke="#fea231" stroke-width="0.9"/>
<polygon points="623.1,188.4 639.6,192.1 635.8,208.6 619.4,204.8" fill="#fecc61" stroke="#fecc61" stroke-width="0.9"/>
<polygon points="372.7,148.5 389.1,152.2 385.4,168.7 368.9,164.9" fill="#fecc61" stroke="#fecc61" stroke-width="0.9"/>
<polygon points="389.1,152.2 405.6,156.0 401.8,172.4 385.4,168.7" fill="#fec24e" stroke="#fec24e" stroke-width="0.9"/>
<polygon points="405.6,156.0 422.0,159.8 418.3,176.2 401.8,172.4" fill="#feaf3c" stroke="#feaf3c" stroke-width="0.9"/>
<polygon points="422.0,159.8 438.5,163.5 434.7,180.0 418.3,176.2" fill="#fe9b2b" stroke="#fe9b2b" stroke-width="0.9"/>
<polygon points="438.5,163.5 454.9,167.3 451.2,183.7 434.7,180.0" fill="#f88b22" stroke="#f88b22" stroke-width="0.9"/>
<polygon points="454.9,167.3 471.4,171.0 467.6,187.5 451.2,183.7" fill="#e66a11" stroke="#e66a11" stroke-width="0.9"/>
<polygon points="471.4,171.0 487.8,174.8 484.0,191.2 467.6,187.5" fill="#d65808" stroke="#d65808" stroke-width="0.9"/>
<polygon points="487.8,174.8 504.2,178.5 500.5,195.0 484.0,191.2" fill="#cd4e03" stroke="#cd4e03" stroke-width="0.9"/>
<polygon points="504.2,178.5 520.7,182.3 516.9,198.7 500.5,195.0" fill="#b54103" stroke="#b54103" stroke-width="0.9"/>
<polygon points="520.7,182.3 537.1,186.0 533.4,202.5 516.9,198.7" fill="#a73b03" stroke="#a73b03" stroke-width="0.9"/>
<polygon points="537.1,186.0 553.6,189.8 549.8,206.2 533.4,202.5" fill="#b24003" stroke="#b24003" stroke-width="0.9"/>
<polygon points="553.6,189.8 570.0,193.5 566.3,210.0 549.8,206.2" fill="#c74a02" stroke="#c74a02" stroke-width="0.9"/>
<polygon points="570.0,193.5 586.5,197.3 582.7,213.7 566.3,210.0" fill="#d65808" stroke="#d65808" stroke-width="0.9"/>
<polygon points="586.5,197.3 602.9,201.1 599.2,217.5 582.7,213.7" fill="#f07818" stroke="#f07818" stroke-width="0.9"/>
<polygon points="602.9,201.1 619.4,204.8 615.6,221.3 599.2,217.5" fill="#fea534" stroke="#fea534" stroke-width="0.9"/>
<polygon points="619.4,204.8 635.8,208.6 632.1,225.0 615.6,221.3" fill="#fed675" stroke="#fed675" stroke-width="0.9"/>
<polygon points="352.5,161.2 368.9,164.9 365.2,181.4 348.7,177.6" fill="#fed16b" stroke="#fed16b" stroke-width="0.9"/>
<polygon points="368.9,164.9 385.4,168.7 381.6,185.1 365.2,181.4" fill="#fed675" stroke="#fed675" stroke-width="0.9"/>
<polygon points="385.4,168.7 401.8,172.4 398.1,188.9 381.6,185.1" fill="#fecf66" stroke="#fecf66" stroke-width="0.9"/>
<polygon points="401.8,172.4 418.3,176.2 414.5,192.6 398.1,188.9" fill="#fec552" stroke="#fec552" stroke-width="0.9"/>
<polygon points="418.3,176.2 434.7,180.0 431.0,196.4 414.5,192.6" fill="#feb542" stroke="#feb542" stroke-width="0.9"/>
<polygon points="434.7,180.0 451.2,183.7 447.4,200.2 431.0,196.4" fill="#fea534" stroke="#fea534" stroke-width="0.9"/>
<polygon points="451.2,183.7 467.6,187.5 463.8,203.9 447.4,200.2" fill="#f27f1c" stroke="#f27f1c" stroke-width="0.9"/>
<polygon points="467.6,187.5 484.0,191.2 480.3,207.7 463.8,203.9" fill="#e66a11" stroke="#e66a11" stroke-width="0.9"/>
<polygon points="484.0,191.2 500.5,195.0 496.7,211.4 480.3,207.7" fill="#d65808" stroke="#d65808" stroke-width="0.9"/>
<polygon points="500.5,195.0 516.9,198.7 513.2,215.2 496.7,211.4" fill="#cd4e03" stroke="#cd4e03" stroke-width="0.9"/>
<polygon points="516.9,198.7 533.4,202.5 529.6,218.9 513.2,215.2" fill="#b94303" stroke="#b94303" stroke-width="0.9"/>
<polygon points="533.4,202.5 549.8,206.2 546.1,222.7 529.6,218.9" fill="#c34802" stroke="#c34802" stroke-width="0.9"/>
<polygon points="549.8,206.2 566.3,210.0 562.5,226.4 546.1,222.7" fill="#d25305" stroke="#d25305" stroke-width="0.9"/>
<polygon points="566.3,210.0 582.7,213.7 579.0,230.2 562.5,226.4" fill="#e2640e" stroke="#e2640e" stroke-width="0.9"/>
<polygon points="582.7,213.7 599.2,217.5 595.4,233.9 579.0,230.2" fill="#f27f1c" stroke="#f27f1c" stroke-width="0.9"/>
<polygon points="599.2,217.5 615.6,221.3 611.9,237.7 595.4,233.9" fill="#feb542" stroke="#feb542" stroke-width="0.9"/>
<polygon points="615.6,221.3 632.1,225.0 628.3,241.5 611.9,237.7" fill="#fede85" stroke="#fede85" stroke-width="0.9"/>
<polygon points="348.7,177.6 365.2,181.4 361.4,197.8 345.0,194.1" fill="#fedb7f" stroke="#fedb7f" stroke-width="0.9"/>
<polygon points="365.2,181.4 381.6,185.1 377.9,201.6 361.4,197.8" fill="#fedb7f" stroke="#fedb7f" stroke-width="0.9"/>
<polygon points="381.6,185.1 398.1,188.9 394.3,205.3 377.9,201.6" fill="#fed675" stroke="#fed675" stroke-width="0.9"/>
<polygon points="398.1,188.9 414.5,192.6 410.7,209.1 394.3,205.3" fill="#fed16b" stroke="#fed16b" stroke-width="0.9"/>
<polygon points="414.5,192.6 431.0,196.4 427.2,212.8 410.7,209.1" fill="#fec552" stroke="#fec552" stroke-width="0.9"/>
<polygon points="431.0,196.4 447.4,200.2 443.6,216.6 427.2,212.8" fill="#feb542" stroke="#feb542" stroke-width="0.9"/>
<polygon points="447.4,200.2 463.8,203.9 460.1,220.4 443.6,216.6" fill="#fd9828" stroke="#fd9828" stroke-width="0.9"/>
<polygon points="463.8,203.9 480.3,207.7 476.5,224.1 460.1,220.4" fill="#ed7215" stroke="#ed7215" stroke-width="0.9"/>
<polygon points="480.3,207.7 496.7,211.4 493.0,227.9 476.5,224.1" fill="#df620d" stroke="#df620d" stroke-width="0.9"/>
<polygon points="496.7,211.4 513.2,215.2 509.4,231.6 493.0,227.9" fill="#d65808" stroke="#d65808" stroke-width="0.9"/>
<polygon points="513.2,215.2 529.6,218.9 525.9,235.4 509.4,231.6" fill="#cb4b02" stroke="#cb4b02" stroke-width="0.9"/>
<polygon points="529.6,218.9 546.1,222.7 542.3,239.1 525.9,235.4" fill="#cb4b02" stroke="#cb4b02" stroke-width="0.9"/>
<polygon points="546.1,222.7 562.5,226.4 558.8,242.9 542.3,239.1" fill="#e2640e" stroke="#e2640e" stroke-width="0.9"/>
<polygon points="562.5,226.4 579.0,230.2 575.2,246.6 558.8,242.9" fill="#f27f1c" stroke="#f27f1c" stroke-width="0.9"/>
<polygon points="579.0,230.2 595.4,233.9 591.7,250.4 575.2,246.6" fill="#fd9828" stroke="#fd9828" stroke-width="0.9"/>
<polygon points="595.4,233.9 611.9,237.7 608.1,254.2 591.7,250.4" fill="#febf4b" stroke="#febf4b" stroke-width="0.9"/>
<polygon points="611.9,237.7 628.3,241.5 624.6,257.9 608.1,254.2" fill="#fee596" stroke="#fee596" stroke-width="0.9"/>
<polygon points="345.0,194.1 361.4,197.8 357.7,214.3 341.2,210.5" fill="#fedb7f" stroke="#fedb7f" stroke-width="0.9"/>
<polygon points="361.4,197.8 377.9,201.6 374.1,218.0 357.7,214.3" fill="#fedb7f" stroke="#fedb7f" stroke-width="0.9"/>
<polygon points="377.9,201.6 394.3,205.3 390.5,221.8 374.1,218.0" fill="#fedc82" stroke="#fedc82" stroke-width="0.9"/>
<polygon points="394.3,205.3 410.7,209.1 407.0,225.5 390.5,221.8" fill="#fed675" stroke="#fed675" stroke-width="0.9"/>
<polygon points="410.7,209.1 427.2,212.8 423.4,229.3 407.0,225.5" fill="#fecf66" stroke="#fecf66" stroke-width="0.9"/>
<polygon points="427.2,212.8 443.6,216.6 439.9,233.1 423.4,229.3" fill="#febc48" stroke="#febc48" stroke-width="0.9"/>
<polygon points="443.6,216.6 460.1,220.4 456.3,236.8 439.9,233.1" fill="#fea534" stroke="#fea534" stroke-width="0.9"/>
<polygon points="460.1,220.4 476.5,224.1 472.8,240.6 456.3,236.8" fill="#f07818" stroke="#f07818" stroke-width="0.9"/>
<polygon points="476.5,224.1 493.0,227.9 489.2,244.3 472.8,240.6" fill="#e66a11" stroke="#e66a11" stroke-width="0.9"/>
<polygon points="493.0,227.9 509.4,231.6 505.7,248.1 489.2,244.3" fill="#db5d0a" stroke="#db5d0a" stroke-width="0.9"/>
<polygon points="509.4,231.6 525.9,235.4 522.1,251.8 505.7,248.1" fill="#d45507" stroke="#d45507" stroke-width="0.9"/>
<polygon points="525.9,235.4 542.3,239.1 538.6,255.6 522.1,251.8" fill="#d45507" stroke="#d45507" stroke-width="0.9"/>
<polygon points="542.3,239.1 558.8,242.9 555.0,259.3 538.6,255.6" fill="#ed7215" stroke="#ed7215" stroke-width="0.9"/>
<polygon points="558.8,242.9 575.2,246.6 571.5,263.1 555.0,259.3" fill="#f98e24" stroke="#f98e24" stroke-width="0.9"/>
<polygon points="575.2,246.6 591.7,250.4 587.9,266.8 571.5,263.1" fill="#feb945" stroke="#feb945" stroke-width="0.9"/>
<polygon points="591.7,250.4 608.1,254.2 604.4,270.6 587.9,266.8" fill="#fedb7f" stroke="#fedb7f" stroke-width="0.9"/>
<polygon points="608.1,254.2 624.6,257.9 620.8,274.4 604.4,270.6" fill="#feeba2" stroke="#feeba2" stroke-width="0.9"/>
<polygon points="341.2,210.5 357.7,214.3 353.9,230.7 337.5,227.0" fill="#fedb7f" stroke="#fedb7f" stroke-width="0.9"/>
<polygon points="390.5,221.8 407.0,225.5 403.2,242.0 386.8,238.2" fill="#fed675" stroke="#fed675" stroke-width="0.9"/>
<polygon points="407.0,225.5 423.4,229.3 419.7,245.7 403.2,242.0" fill="#fecf66" stroke="#fecf66" stroke-width="0.9"/>
<polygon points="423.4,229.3 439.9,233.1 436.1,249.5 419.7,245.7" fill="#fec24e" stroke="#fec24e" stroke-width="0.9"/>
<polygon points="439.9,233.1 456.3,236.8 452.6,253.3 436.1,249.5" fill="#fd9828" stroke="#fd9828" stroke-width="0.9"/>
<polygon points="456.3,236.8 472.8,240.6 469.0,257.0 452.6,253.3" fill="#f07818" stroke="#f07818" stroke-width="0.9"/>
<polygon points="472.8,240.6 489.2,244.3 485.5,260.8 469.0,257.0" fill="#e66a11" stroke="#e66a11" stroke-width="0.9"/>
<polygon points="489.2,244.3 505.7,248.1 501.9,264.5 485.5,260.8" fill="#db5d0a" stroke="#db5d0a" stroke-width="0.9"/>
<polygon points="505.7,248.1 522.1,251.8 518.4,268.3 501.9,264.5" fill="#d65808" stroke="#d65808" stroke-width="0.9"/>
<polygon points="522.1,251.8 538.6,255.6 534.8,272.0 518.4,268.3" fill="#db5d0a" stroke="#db5d0a" stroke-width="0.9"/>
<polygon points="538.6,255.6 555.0,259.3 551.3,275.8 534.8,272.0" fill="#f27f1c" stroke="#f27f1c" stroke-width="0.9"/>
<polygon points="555.0,259.3 571.5,263.1 567.7,279.5 551.3,275.8" fill="#fd9828" stroke="#fd9828" stroke-width="0.9"/>
<polygon points="571.5,263.1 587.9,266.8 584.2,283.3 567.7,279.5" fill="#febf4b" stroke="#febf4b" stroke-width="0.9"/>
<polygon points="587.9,266.8 604.4,270.6 600.6,287.0 584.2,283.3" fill="#fee28f" stroke="#fee28f" stroke-width="0.9"/>
<polygon points="604.4,270.6 620.8,274.4 617.0,290.8 600.6,287.0" fill="#fff1ae" stroke="#fff1ae" stroke-width="0.9"/>
<path d="M385.4,132.0 C387.6,130.7 391.7,130.4 394.1,130.0 C396.6,129.6 397.4,129.3 400.1,129.5 C402.8,129.7 406.9,130.7 410.2,131.4 C413.5,132.2 417.4,132.8 420.2,134.0 C423.0,135.2 425.0,137.1 426.9,138.7 C428.8,140.3 430.6,141.4 431.8,143.6 C433.0,145.8 433.9,148.0 434.3,151.7 C434.7,155.4 434.7,161.7 434.3,166.0 C433.9,170.3 432.1,173.7 432.0,177.5 C431.9,181.3 432.6,185.5 433.6,189.0 C434.7,192.5 436.1,195.7 438.3,198.5 C440.5,201.3 444.3,203.7 446.8,206.0 C449.3,208.3 451.7,210.2 453.5,212.5 C455.3,214.8 456.6,217.1 457.5,219.5 C458.4,221.9 458.5,224.3 458.6,227.0 C458.7,229.7 458.8,232.9 458.0,235.4 C457.2,237.9 455.8,240.2 454.1,242.1 C452.5,244.0 449.8,245.7 448.1,246.8 C446.4,248.0 447.9,249.8 444.0,249.0 C440.1,248.2 431.6,244.8 425.0,242.0 C418.4,239.2 409.0,235.0 404.6,231.9 C400.2,228.8 400.7,225.5 398.8,223.3 C396.9,221.2 397.3,220.3 393.1,219.0 C388.9,217.7 377.6,216.9 373.5,215.4 C369.4,213.9 369.6,212.6 368.8,210.1 C368.0,207.6 369.3,203.6 368.6,200.5 C367.9,197.4 365.2,194.3 364.6,191.5 C364.0,188.7 364.4,186.8 364.8,183.4 C365.2,180.0 366.3,174.9 367.3,171.0 C368.3,167.1 369.6,163.2 370.6,160.0 C371.7,156.8 372.6,154.4 373.6,152.0 C374.6,149.6 375.6,147.7 376.8,145.4 C378.0,143.1 379.4,140.3 380.8,138.1 C382.2,135.9 383.2,133.3 385.4,132.0 Z" fill="none" stroke="#333" stroke-width="6.3" stroke-linejoin="round"/>
<path d="M279.8,32.1 L420.1,32.1 L420.1,33.0 L417.4,34.7 L414.7,36.7 L411.4,38.7 L410.4,40.7 L412.1,43.4 L413.4,46.7 L414.1,50.0 L412.1,53.4 L410.7,54.7 L409.4,52.7 L408.7,50.0 L406.7,47.4 L403.4,43.4 L400.7,42.7 L399.7,45.4 L401.4,48.7 L400.0,52.0 L402.0,56.7 L401.4,61.4 L402.7,64.1 L407.4,64.7 L409.4,66.7 L410.7,70.1 L411.4,75.4 L412.7,79.4 L412.7,83.4 L413.4,86.8 L416.1,90.1 L418.1,93.5 L418.7,96.8 L421.4,98.8 L426.8,100.8 L428.1,103.5 L427.4,110.2 L426.8,116.8 L426.1,124.9 L423.5,120.0 L420.9,115.3 L418.2,112.7 L414.8,114.0 L410.2,112.7 L405.5,115.3 L400.8,114.7 L396.8,116.0 L393.5,115.3 L389.5,114.7 L390.8,119.4 L392.1,123.4 L393.1,134.7 L390.1,130.7 L387.4,127.4 L382.8,125.0 L379.4,126.0 L376.8,124.4 L372.8,124.4 L372.8,130.0 L374.1,132.7 L372.8,136.7 L374.8,140.1 L374.1,143.4 L370.1,145.4 L370.7,147.4 L372.8,150.1 L370.7,156.8 L369.4,162.1 L366.1,161.4 L363.4,162.8 L362.7,166.8 L362.1,173.5 L361.4,180.1 L360.1,186.8 L359.5,188.7 L358.8,192.0 L360.1,195.4 L356.8,198.1 L354.1,198.1 L350.8,196.1 L349.5,201.4 L347.4,208.1 L343.4,212.1 L340.8,210.1 L341.4,187.4 L338.8,182.7 L335.4,191.4 L328.1,198.1 L330.1,202.1 L334.1,210.1 L324.7,206.1 L322.7,216.8 L322.1,222.1 L330.1,220.8 L344.8,219.8 L346.8,223.4 L360.8,222.8 L361.5,226.1 L370.2,223.4 L380.0,226.1 L386.7,228.7 L393.4,229.4 L400.0,230.7 L408.1,232.1 L408.7,236.8 L410.7,234.1 L417.4,234.1 L426.8,235.4 L430.1,238.1 L430.8,243.4 L429.4,250.1 L433.4,248.8 L436.8,248.1 L438.8,244.8 L445.5,246.1 L446.1,250.1 L445.5,256.8 L444.8,264.1 L440.1,265.5 L433.4,264.1 L420.1,260.8 L406.7,258.8 L390.0,257.8 L376.8,255.4 L356.8,251.4 L340.8,248.7 L340.8,250.0 L340.8,260.1 L340.1,266.7 L338.1,276.8 L336.8,282.1 L338.8,285.4 L338.1,288.1 L342.8,290.1 L343.4,296.1 L337.4,296.8 L340.8,304.8 L337.4,313.5 L338.1,318.2 L346.1,320.2 L347.0,320.9 L279.8,320.9 Z" fill="#bfbfbf" stroke="#000" stroke-width="1.3" stroke-linejoin="round"/>
<path d="M324.1,244.0 L336.1,248.7 L332.8,251.4 L332.8,256.7 L333.4,263.4 L327.4,255.4 L322.7,256.7 L326.1,251.4 Z" fill="#fff" stroke="#000" stroke-width="1.3" stroke-linejoin="round"/>
<path d="M426.8,32.1 L459.5,32.1 L461.5,34.0 L462.2,36.0 L460.2,38.7 L456.8,42.7 L454.8,42.7 L450.1,41.4 L443.5,39.4 L436.8,36.7 L430.8,34.7 Z" fill="#bfbfbf" stroke="#000" stroke-width="1.3" stroke-linejoin="round"/>
<path d="M281.0,7.2 L283.7,36.8 L286.4,66.4 L289.0,96.0 L291.7,125.6 L294.3,155.2 L297.0,184.7 L299.7,214.2 L302.3,243.8 L305.0,273.3 L307.6,302.8 L310.3,332.2 M363.8,1.2 L365.4,30.9 L367.1,60.6 L368.7,90.3 L370.3,119.9 L371.9,149.6 L373.6,179.2 L375.2,208.8 L376.8,238.4 L378.4,268.0 L380.0,297.5 L381.7,327.1 M446.7,-1.9 L447.3,27.9 L447.9,57.6 L448.5,87.3 L449.1,117.0 L449.7,146.7 L450.3,176.3 L450.8,206.0 L451.4,235.6 L452.0,265.2 L452.6,294.8 L453.2,324.4 M529.7,-2.0 L529.3,27.7 L528.8,57.4 L528.4,87.1 L527.9,116.8 L527.5,146.5 L527.0,176.1 L526.6,205.8 L526.1,235.4 L525.7,265.0 L525.2,294.6 L524.8,324.2 M612.6,0.6 L611.2,30.3 L609.7,60.0 L608.2,89.7 L606.7,119.4 L605.2,149.0 L603.7,178.6 L602.3,208.2 L600.8,237.8 L599.3,267.4 L597.8,297.0 L596.3,326.6 M695.4,6.2 L692.9,35.9 L690.4,65.5 L687.9,95.1 L685.3,124.7 L682.8,154.2 L680.3,183.8 L677.8,213.3 L675.3,242.9 L672.8,272.4 L670.3,301.9 L667.8,331.4 M222.6,43.1 L242.9,40.9 L263.3,38.8 L283.7,36.8 L304.1,35.1 L324.5,33.5 L345.0,32.1 L365.4,30.9 L385.9,29.9 L406.4,29.0 L426.8,28.4 L447.3,27.9 L467.8,27.6 L488.3,27.4 L508.8,27.5 L529.3,27.7 L549.7,28.1 L570.2,28.7 L590.7,29.4 L611.2,30.3 L631.6,31.5 L652.1,32.8 L672.5,34.2 L692.9,35.9 L713.3,37.7 L733.7,39.7 L754.1,41.9 L774.4,44.2 M228.3,92.3 L248.2,90.1 L268.2,88.1 L288.1,86.2 L308.1,84.5 L328.1,82.9 L348.1,81.6 L368.1,80.4 L388.2,79.4 L408.2,78.5 L428.2,77.9 L448.3,77.4 L468.3,77.1 L488.4,77.0 L508.5,77.0 L528.5,77.2 L548.6,77.6 L568.6,78.2 L588.6,78.9 L608.7,79.8 L628.7,80.9 L648.7,82.2 L668.7,83.6 L688.7,85.2 L708.7,87.0 L728.6,89.0 L748.6,91.1 L768.5,93.4 M234.0,141.5 L253.5,139.3 L273.0,137.3 L292.6,135.5 L312.1,133.8 L331.7,132.3 L351.3,131.0 L370.8,129.8 L390.4,128.8 L410.1,128.0 L429.7,127.4 L449.3,126.9 L468.9,126.6 L488.5,126.4 L508.1,126.5 L527.8,126.7 L547.4,127.1 L567.0,127.6 L586.6,128.3 L606.2,129.2 L625.8,130.3 L645.4,131.5 L665.0,133.0 L684.5,134.5 L704.1,136.3 L723.6,138.2 L743.1,140.3 L762.6,142.5 M239.7,190.6 L258.8,188.5 L277.9,186.5 L297.0,184.7 L316.1,183.1 L335.3,181.6 L354.4,180.3 L373.6,179.2 L392.7,178.2 L411.9,177.4 L431.1,176.8 L450.3,176.3 L469.4,176.0 L488.6,175.9 L507.8,175.9 L527.0,176.1 L546.2,176.5 L565.4,177.0 L584.6,177.8 L603.7,178.6 L622.9,179.7 L642.0,180.9 L661.2,182.3 L680.3,183.8 L699.4,185.5 L718.5,187.4 L737.6,189.4 L756.7,191.6 M245.4,239.7 L264.1,237.6 L282.7,235.7 L301.4,233.9 L320.1,232.3 L338.8,230.9 L357.5,229.6 L376.3,228.5 L395.0,227.6 L413.7,226.8 L432.5,226.2 L451.2,225.7 L470.0,225.4 L488.8,225.3 L507.5,225.3 L526.3,225.5 L545.0,225.9 L563.8,226.4 L582.5,227.1 L601.3,228.0 L620.0,229.0 L638.7,230.2 L657.4,231.5 L676.1,233.0 L694.8,234.7 L713.5,236.5 L732.1,238.5 L750.8,240.7 M251.1,288.7 L269.4,286.7 L287.6,284.8 L305.8,283.1 L324.1,281.5 L342.4,280.1 L360.7,278.9 L379.0,277.8 L397.3,276.9 L415.6,276.1 L433.9,275.5 L452.2,275.1 L470.5,274.8 L488.9,274.7 L507.2,274.7 L525.5,274.9 L543.9,275.3 L562.2,275.8 L580.5,276.5 L598.8,277.3 L617.1,278.3 L635.4,279.4 L653.7,280.8 L671.9,282.2 L690.2,283.9 L708.4,285.7 L726.7,287.6 L744.9,289.7" fill="none" stroke="#000" stroke-opacity="0.42" stroke-width="1" stroke-dasharray="2.2 6.5"/>
</g>
<line x1="375" y1="62.5" x2="655" y2="126.4" stroke="#ffff00" stroke-width="6.6" stroke-dasharray="26.5 26" stroke-dashoffset="45.3"/>
<line x1="655" y1="126.4" x2="617.6" y2="290.2" stroke="#ffff00" stroke-width="6.6" stroke-dasharray="26.5 26" stroke-dashoffset="0.0"/>
<line x1="617.6" y1="290.2" x2="337.6" y2="226.3" stroke="#ffff00" stroke-width="6.6" stroke-dasharray="26.5 26" stroke-dashoffset="13.5"/>
<line x1="337.6" y1="226.3" x2="375" y2="62.5" stroke="#ffff00" stroke-width="6.6" stroke-dasharray="26.5 26" stroke-dashoffset="34.5"/>
<rect x="279.8" y="32.1" width="432.8" height="288.8" fill="none" stroke="#000" stroke-width="1.5"/>
<line x1="283.3" y1="32.1" x2="283.3" y2="35.6" stroke="#000" stroke-width="1.3"/>
<line x1="309.2" y1="320.9" x2="309.2" y2="317.4" stroke="#000" stroke-width="1.3"/>
<line x1="365.5" y1="32.1" x2="365.5" y2="35.6" stroke="#000" stroke-width="1.3"/>
<line x1="381.3" y1="320.9" x2="381.3" y2="317.4" stroke="#000" stroke-width="1.3"/>
<line x1="447.4" y1="32.1" x2="447.4" y2="35.6" stroke="#000" stroke-width="1.3"/>
<line x1="453.1" y1="320.9" x2="453.1" y2="317.4" stroke="#000" stroke-width="1.3"/>
<line x1="529.2" y1="32.1" x2="529.2" y2="35.6" stroke="#000" stroke-width="1.3"/>
<line x1="524.8" y1="320.9" x2="524.8" y2="317.4" stroke="#000" stroke-width="1.3"/>
<line x1="611.1" y1="32.1" x2="611.1" y2="35.6" stroke="#000" stroke-width="1.3"/>
<line x1="596.6" y1="320.9" x2="596.6" y2="317.4" stroke="#000" stroke-width="1.3"/>
<line x1="693.2" y1="32.1" x2="693.2" y2="35.6" stroke="#000" stroke-width="1.3"/>
<line x1="668.6" y1="320.9" x2="668.6" y2="317.4" stroke="#000" stroke-width="1.3"/>
<line x1="279.8" y1="37.2" x2="283.3" y2="37.2" stroke="#000" stroke-width="1.3"/>
<line x1="712.6" y1="37.6" x2="709.1" y2="37.6" stroke="#000" stroke-width="1.3"/>
<line x1="279.8" y1="86.9" x2="283.3" y2="86.9" stroke="#000" stroke-width="1.3"/>
<line x1="712.6" y1="87.4" x2="709.1" y2="87.4" stroke="#000" stroke-width="1.3"/>
<line x1="279.8" y1="136.6" x2="283.3" y2="136.6" stroke="#000" stroke-width="1.3"/>
<line x1="712.6" y1="137.1" x2="709.1" y2="137.1" stroke="#000" stroke-width="1.3"/>
<line x1="279.8" y1="186.3" x2="283.3" y2="186.3" stroke="#000" stroke-width="1.3"/>
<line x1="712.6" y1="186.8" x2="709.1" y2="186.8" stroke="#000" stroke-width="1.3"/>
<line x1="279.8" y1="236" x2="283.3" y2="236" stroke="#000" stroke-width="1.3"/>
<line x1="712.6" y1="236.5" x2="709.1" y2="236.5" stroke="#000" stroke-width="1.3"/>
<line x1="279.8" y1="285.6" x2="283.3" y2="285.6" stroke="#000" stroke-width="1.3"/>
<line x1="712.6" y1="286.1" x2="709.1" y2="286.1" stroke="#000" stroke-width="1.3"/>
<text x="292" y="65.7" font-size="30" text-anchor="start" fill="#000">Mode 1</text>
<text x="291.5" y="101.7" font-size="30.5" text-anchor="start" fill="#000">33.4%</text>
<text x="270.3" y="49.5" font-size="30" text-anchor="end" fill="#000">74°S</text>
<text x="270.3" y="99.2" font-size="30" text-anchor="end" fill="#000">20'</text>
<text x="270.3" y="148.9" font-size="30" text-anchor="end" fill="#000">40'</text>
<text x="270.3" y="198.6" font-size="30" text-anchor="end" fill="#000">75°S</text>
<text x="270.3" y="248.3" font-size="30" text-anchor="end" fill="#000">20'</text>
<text x="270.3" y="297.9" font-size="30" text-anchor="end" fill="#000">40'</text>
<text x="366" y="23" font-size="30" text-anchor="middle" fill="#000">164°E</text>
<text x="529" y="23" font-size="30" text-anchor="middle" fill="#000">168°E</text>
<text x="692.7" y="23" font-size="30" text-anchor="middle" fill="#000">172°E</text>
</g>
<g transform="translate(513.3,0.0)">
<clipPath id="ca2"><rect x="279.8" y="32.1" width="432.8" height="288.8"/></clipPath>
<g clip-path="url(#ca2)">
<polygon points="407.9,70.0 424.3,73.8 420.6,90.2 404.1,86.5" fill="#fc9527" stroke="#fc9527" stroke-width="0.9"/>
<polygon points="424.3,73.8 440.8,77.5 437.0,94.0 420.6,90.2" fill="#fea836" stroke="#fea836" stroke-width="0.9"/>
<polygon points="440.8,77.5 457.2,81.3 453.5,97.7 437.0,94.0" fill="#febc48" stroke="#febc48" stroke-width="0.9"/>
<polygon points="457.2,81.3 473.7,85.0 469.9,101.5 453.5,97.7" fill="#fec24e" stroke="#fec24e" stroke-width="0.9"/>
<polygon points="473.7,85.0 490.1,88.8 486.4,105.2 469.9,101.5" fill="#fec857" stroke="#fec857" stroke-width="0.9"/>
<polygon points="490.1,88.8 506.6,92.5 502.8,109.0 486.4,105.2" fill="#fecc61" stroke="#fecc61" stroke-width="0.9"/>
<polygon points="506.6,92.5 523.0,96.3 519.3,112.7 502.8,109.0" fill="#fed16b" stroke="#fed16b" stroke-width="0.9"/>
<polygon points="523.0,96.3 539.5,100.0 535.7,116.5 519.3,112.7" fill="#fed87a" stroke="#fed87a" stroke-width="0.9"/>
<polygon points="539.5,100.0 555.9,103.8 552.2,120.2 535.7,116.5" fill="#fedf88" stroke="#fedf88" stroke-width="0.9"/>
<polygon points="555.9,103.8 572.4,107.6 568.6,124.0 552.2,120.2" fill="#fee28f" stroke="#fee28f" stroke-width="0.9"/>
<polygon points="572.4,107.6 588.8,111.3 585.1,127.8 568.6,124.0" fill="#fedf88" stroke="#fedf88" stroke-width="0.9"/>
<polygon points="588.8,111.3 605.3,115.1 601.5,131.5 585.1,127.8" fill="#fedc82" stroke="#fedc82" stroke-width="0.9"/>
<polygon points="605.3,115.1 621.7,118.8 617.9,135.3 601.5,131.5" fill="#fedc82" stroke="#fedc82" stroke-width="0.9"/>
<polygon points="621.7,118.8 638.1,122.6 634.4,139.0 617.9,135.3" fill="#fedb7f" stroke="#fedb7f" stroke-width="0.9"/>
<polygon points="638.1,122.6 654.6,126.3 650.8,142.8 634.4,139.0" fill="#fedb7f" stroke="#fedb7f" stroke-width="0.9"/>
<polygon points="404.1,86.5 420.6,90.2 416.8,106.7 400.4,102.9" fill="#f4821d" stroke="#f4821d" stroke-width="0.9"/>
<polygon points="420.6,90.2 437.0,94.0 433.3,110.4 416.8,106.7" fill="#f78820" stroke="#f78820" stroke-width="0.9"/>
<polygon points="437.0,94.0 453.5,97.7 449.7,114.2 433.3,110.4" fill="#fea231" stroke="#fea231" stroke-width="0.9"/>
<polygon points="453.5,97.7 469.9,101.5 466.2,117.9 449.7,114.2" fill="#feab39" stroke="#feab39" stroke-width="0.9"/>
<polygon points="469.9,101.5 486.4,105.2 482.6,121.7 466.2,117.9" fill="#feb945" stroke="#feb945" stroke-width="0.9"/>
<polygon points="486.4,105.2 502.8,109.0 499.1,125.4 482.6,121.7" fill="#fec24e" stroke="#fec24e" stroke-width="0.9"/>
<polygon points="502.8,109.0 519.3,112.7 515.5,129.2 499.1,125.4" fill="#fecc61" stroke="#fecc61" stroke-width="0.9"/>
<polygon points="519.3,112.7 535.7,116.5 532.0,132.9 515.5,129.2" fill="#fed675" stroke="#fed675" stroke-width="0.9"/>
<polygon points="535.7,116.5 552.2,120.2 548.4,136.7 532.0,132.9" fill="#fedc82" stroke="#fedc82" stroke-width="0.9"/>
<polygon points="552.2,120.2 568.6,124.0 564.9,140.5 548.4,136.7" fill="#fedf88" stroke="#fedf88" stroke-width="0.9"/>
<polygon points="568.6,124.0 585.1,127.8 581.3,144.2 564.9,140.5" fill="#fede85" stroke="#fede85" stroke-width="0.9"/>
<polygon points="585.1,127.8 601.5,131.5 597.7,148.0 581.3,144.2" fill="#fedc82" stroke="#fedc82" stroke-width="0.9"/>
<polygon points="601.5,131.5 617.9,135.3 614.2,151.7 597.7,148.0" fill="#fedc82" stroke="#fedc82" stroke-width="0.9"/>
<polygon points="617.9,135.3 634.4,139.0 630.6,155.5 614.2,151.7" fill="#fedc82" stroke="#fedc82" stroke-width="0.9"/>
<polygon points="634.4,139.0 650.8,142.8 647.1,159.2 630.6,155.5" fill="#fedb7f" stroke="#fedb7f" stroke-width="0.9"/>
<polygon points="416.8,106.7 433.3,110.4 429.5,126.9 413.1,123.1" fill="#e96c12" stroke="#e96c12" stroke-width="0.9"/>
<polygon points="433.3,110.4 449.7,114.2 446.0,130.6 429.5,126.9" fill="#f07818" stroke="#f07818" stroke-width="0.9"/>
<polygon points="449.7,114.2 466.2,117.9 462.4,134.4 446.0,130.6" fill="#fc9527" stroke="#fc9527" stroke-width="0.9"/>
<polygon points="466.2,117.9 482.6,121.7 478.9,138.1 462.4,134.4" fill="#fea534" stroke="#fea534" stroke-width="0.9"/>
<polygon points="482.6,121.7 499.1,125.4 495.3,141.9 478.9,138.1" fill="#feb945" stroke="#feb945" stroke-width="0.9"/>
<polygon points="499.1,125.4 515.5,129.2 511.8,145.6 495.3,141.9" fill="#fec24e" stroke="#fec24e" stroke-width="0.9"/>
<polygon points="515.5,129.2 532.0,132.9 528.2,149.4 511.8,145.6" fill="#fecc61" stroke="#fecc61" stroke-width="0.9"/>
<polygon points="532.0,132.9 548.4,136.7 544.7,153.1 528.2,149.4" fill="#fed675" stroke="#fed675" stroke-width="0.9"/>
<polygon points="548.4,136.7 564.9,140.5 561.1,156.9 544.7,153.1" fill="#fedb7f" stroke="#fedb7f" stroke-width="0.9"/>
<polygon points="564.9,140.5 581.3,144.2 577.5,160.7 561.1,156.9" fill="#fed675" stroke="#fed675" stroke-width="0.9"/>
<polygon points="581.3,144.2 597.7,148.0 594.0,164.4 577.5,160.7" fill="#fed87a" stroke="#fed87a" stroke-width="0.9"/>
<polygon points="597.7,148.0 614.2,151.7 610.4,168.2 594.0,164.4" fill="#fedb7f" stroke="#fedb7f" stroke-width="0.9"/>
<polygon points="614.2,151.7 630.6,155.5 626.9,171.9 610.4,168.2" fill="#fedc82" stroke="#fedc82" stroke-width="0.9"/>
<polygon points="630.6,155.5 647.1,159.2 643.3,175.7 626.9,171.9" fill="#fede85" stroke="#fede85" stroke-width="0.9"/>
<polygon points="396.6,119.4 413.1,123.1 409.3,139.6 392.9,135.8" fill="#a73b03" stroke="#a73b03" stroke-width="0.9"/>
<polygon points="413.1,123.1 429.5,126.9 425.8,143.3 409.3,139.6" fill="#a73b03" stroke="#a73b03" stroke-width="0.9"/>
<polygon points="429.5,126.9 446.0,130.6 442.2,147.1 425.8,143.3" fill="#cb4b02" stroke="#cb4b02" stroke-width="0.9"/>
<polygon points="446.0,130.6 462.4,134.4 458.7,150.8 442.2,147.1" fill="#dd5f0c" stroke="#dd5f0c" stroke-width="0.9"/>
<polygon points="462.4,134.4 478.9,138.1 475.1,154.6 458.7,150.8" fill="#e96c12" stroke="#e96c12" stroke-width="0.9"/>
<polygon points="478.9,138.1 495.3,141.9 491.6,158.3 475.1,154.6" fill="#f5851f" stroke="#f5851f" stroke-width="0.9"/>
<polygon points="495.3,141.9 511.8,145.6 508.0,162.1 491.6,158.3" fill="#fea231" stroke="#fea231" stroke-width="0.9"/>
<polygon points="511.8,145.6 528.2,149.4 524.4,165.8 508.0,162.1" fill="#feab39" stroke="#feab39" stroke-width="0.9"/>
<polygon points="528.2,149.4 544.7,153.1 540.9,169.6 524.4,165.8" fill="#febf4b" stroke="#febf4b" stroke-width="0.9"/>
<polygon points="544.7,153.1 561.1,156.9 557.3,173.3 540.9,169.6" fill="#feca5c" stroke="#feca5c" stroke-width="0.9"/>
<polygon points="561.1,156.9 577.5,160.7 573.8,177.1 557.3,173.3" fill="#fecc61" stroke="#fecc61" stroke-width="0.9"/>
<polygon points="577.5,160.7 594.0,164.4 590.2,180.9 573.8,177.1" fill="#fed16b" stroke="#fed16b" stroke-width="0.9"/>
<polygon points="594.0,164.4 610.4,168.2 606.7,184.6 590.2,180.9" fill="#fed675" stroke="#fed675" stroke-width="0.9"/>
<polygon points="610.4,168.2 626.9,171.9 623.1,188.4 606.7,184.6" fill="#fedb7f" stroke="#fedb7f" stroke-width="0.9"/>
<polygon points="626.9,171.9 643.3,175.7 639.6,192.1 623.1,188.4" fill="#fede85" stroke="#fede85" stroke-width="0.9"/>
<polygon points="392.9,135.8 409.3,139.6 405.6,156.0 389.1,152.2" fill="#862f05" stroke="#862f05" stroke-width="0.9"/>
<polygon points="409.3,139.6 425.8,143.3 422.0,159.8 405.6,156.0" fill="#8d3004" stroke="#8d3004" stroke-width="0.9"/>
<polygon points="425.8,143.3 442.2,147.1 438.5,163.5 422.0,159.8" fill="#9a3404" stroke="#9a3404" stroke-width="0.9"/>
<polygon points="442.2,147.1 458.7,150.8 454.9,167.3 438.5,163.5" fill="#b94303" stroke="#b94303" stroke-width="0.9"/>
<polygon points="458.7,150.8 475.1,154.6 471.4,171.0 454.9,167.3" fill="#d05004" stroke="#d05004" stroke-width="0.9"/>
<polygon points="475.1,154.6 491.6,158.3 487.8,174.8 471.4,171.0" fill="#dd5f0c" stroke="#dd5f0c" stroke-width="0.9"/>
<polygon points="491.6,158.3 508.0,162.1 504.2,178.5 487.8,174.8" fill="#f07818" stroke="#f07818" stroke-width="0.9"/>
<polygon points="508.0,162.1 524.4,165.8 520.7,182.3 504.2,178.5" fill="#fc9527" stroke="#fc9527" stroke-width="0.9"/>
<polygon points="524.4,165.8 540.9,169.6 537.1,186.0 520.7,182.3" fill="#fea534" stroke="#fea534" stroke-width="0.9"/>
<polygon points="540.9,169.6 557.3,173.3 553.6,189.8 537.1,186.0" fill="#feb945" stroke="#feb945" stroke-width="0.9"/>
<polygon points="557.3,173.3 573.8,177.1 570.0,193.5 553.6,189.8" fill="#fec24e" stroke="#fec24e" stroke-width="0.9"/>
<polygon points="573.8,177.1 590.2,180.9 586.5,197.3 570.0,193.5" fill="#fec857" stroke="#fec857" stroke-width="0.9"/>
<polygon points="590.2,180.9 606.7,184.6 602.9,201.1 586.5,197.3" fill="#fed16b" stroke="#fed16b" stroke-width="0.9"/>
<polygon points="606.7,184.6 623.1,188.4 619.4,204.8 602.9,201.1" fill="#fed675" stroke="#fed675" stroke-width="0.9"/>
<polygon points="623.1,188.4 639.6,192.1 635.8,208.6 619.4,204.8" fill="#fede85" stroke="#fede85" stroke-width="0.9"/>
<polygon points="372.7,148.5 389.1,152.2 385.4,168.7 368.9,164.9" fill="#802d05" stroke="#802d05" stroke-width="0.9"/>
<polygon points="389.1,152.2 405.6,156.0 401.8,172.4 385.4,168.7" fill="#792b05" stroke="#792b05" stroke-width="0.9"/>
<polygon points="405.6,156.0 422.0,159.8 418.3,176.2 401.8,172.4" fill="#802d05" stroke="#802d05" stroke-width="0.9"/>
<polygon points="422.0,159.8 438.5,163.5 434.7,180.0 418.3,176.2" fill="#862f05" stroke="#862f05" stroke-width="0.9"/>
<polygon points="438.5,163.5 454.9,167.3 451.2,183.7 434.7,180.0" fill="#a03704" stroke="#a03704" stroke-width="0.9"/>
<polygon points="454.9,167.3 471.4,171.0 467.6,187.5 451.2,183.7" fill="#c34802" stroke="#c34802" stroke-width="0.9"/>
<polygon points="471.4,171.0 487.8,174.8 484.0,191.2 467.6,187.5" fill="#d95a09" stroke="#d95a09" stroke-width="0.9"/>
<polygon points="487.8,174.8 504.2,178.5 500.5,195.0 484.0,191.2" fill="#eb6f14" stroke="#eb6f14" stroke-width="0.9"/>
<polygon points="504.2,178.5 520.7,182.3 516.9,198.7 500.5,195.0" fill="#f78820" stroke="#f78820" stroke-width="0.9"/>
<polygon points="520.7,182.3 537.1,186.0 533.4,202.5 516.9,198.7" fill="#fea231" stroke="#fea231" stroke-width="0.9"/>
<polygon points="537.1,186.0 553.6,189.8 549.8,206.2 533.4,202.5" fill="#feab39" stroke="#feab39" stroke-width="0.9"/>
<polygon points="553.6,189.8 570.0,193.5 566.3,210.0 549.8,206.2" fill="#febf4b" stroke="#febf4b" stroke-width="0.9"/>
<polygon points="570.0,193.5 586.5,197.3 582.7,213.7 566.3,210.0" fill="#feca5c" stroke="#feca5c" stroke-width="0.9"/>
<polygon points="586.5,197.3 602.9,201.1 599.2,217.5 582.7,213.7" fill="#fecf66" stroke="#fecf66" stroke-width="0.9"/>
<polygon points="602.9,201.1 619.4,204.8 615.6,221.3 599.2,217.5" fill="#fed675" stroke="#fed675" stroke-width="0.9"/>
<polygon points="619.4,204.8 635.8,208.6 632.1,225.0 615.6,221.3" fill="#fede85" stroke="#fede85" stroke-width="0.9"/>
<polygon points="352.5,161.2 368.9,164.9 365.2,181.4 348.7,177.6" fill="#802d05" stroke="#802d05" stroke-width="0.9"/>
<polygon points="368.9,164.9 385.4,168.7 381.6,185.1 365.2,181.4" fill="#7d2c05" stroke="#7d2c05" stroke-width="0.9"/>
<polygon points="385.4,168.7 401.8,172.4 398.1,188.9 381.6,185.1" fill="#762a05" stroke="#762a05" stroke-width="0.9"/>
<polygon points="401.8,172.4 418.3,176.2 414.5,192.6 398.1,188.9" fill="#792b05" stroke="#792b05" stroke-width="0.9"/>
<polygon points="418.3,176.2 434.7,180.0 431.0,196.4 414.5,192.6" fill="#832e05" stroke="#832e05" stroke-width="0.9"/>
<polygon points="434.7,180.0 451.2,183.7 447.4,200.2 431.0,196.4" fill="#973304" stroke="#973304" stroke-width="0.9"/>
<polygon points="451.2,183.7 467.6,187.5 463.8,203.9 447.4,200.2" fill="#b94303" stroke="#b94303" stroke-width="0.9"/>
<polygon points="467.6,187.5 484.0,191.2 480.3,207.7 463.8,203.9" fill="#d45507" stroke="#d45507" stroke-width="0.9"/>
<polygon points="484.0,191.2 500.5,195.0 496.7,211.4 480.3,207.7" fill="#e66a11" stroke="#e66a11" stroke-width="0.9"/>
<polygon points="500.5,195.0 516.9,198.7 513.2,215.2 496.7,211.4" fill="#f17c1a" stroke="#f17c1a" stroke-width="0.9"/>
<polygon points="516.9,198.7 533.4,202.5 529.6,218.9 513.2,215.2" fill="#fc9527" stroke="#fc9527" stroke-width="0.9"/>
<polygon points="533.4,202.5 549.8,206.2 546.1,222.7 529.6,218.9" fill="#fea534" stroke="#fea534" stroke-width="0.9"/>
<polygon points="549.8,206.2 566.3,210.0 562.5,226.4 546.1,222.7" fill="#feb945" stroke="#feb945" stroke-width="0.9"/>
<polygon points="566.3,210.0 582.7,213.7 579.0,230.2 562.5,226.4" fill="#fec552" stroke="#fec552" stroke-width="0.9"/>
<polygon points="582.7,213.7 599.2,217.5 595.4,233.9 579.0,230.2" fill="#fecc61" stroke="#fecc61" stroke-width="0.9"/>
<polygon points="599.2,217.5 615.6,221.3 611.9,237.7 595.4,233.9" fill="#fed16b" stroke="#fed16b" stroke-width="0.9"/>
<polygon points="615.6,221.3 632.1,225.0 628.3,241.5 611.9,237.7" fill="#fedb7f" stroke="#fedb7f" stroke-width="0.9"/>
<polygon points="348.7,177.6 365.2,181.4 361.4,197.8 345.0,194.1" fill="#802d05" stroke="#802d05" stroke-width="0.9"/>
<polygon points="365.2,181.4 381.6,185.1 377.9,201.6 361.4,197.8" fill="#802d05" stroke="#802d05" stroke-width="0.9"/>
<polygon points="381.6,185.1 398.1,188.9 394.3,205.3 377.9,201.6" fill="#802d05" stroke="#802d05" stroke-width="0.9"/>
<polygon points="398.1,188.9 414.5,192.6 410.7,209.1 394.3,205.3" fill="#802d05" stroke="#802d05" stroke-width="0.9"/>
<polygon points="414.5,192.6 431.0,196.4 427.2,212.8 410.7,209.1" fill="#832e05" stroke="#832e05" stroke-width="0.9"/>
<polygon points="431.0,196.4 447.4,200.2 443.6,216.6 427.2,212.8" fill="#933204" stroke="#933204" stroke-width="0.9"/>
<polygon points="447.4,200.2 463.8,203.9 460.1,220.4 443.6,216.6" fill="#ae3e03" stroke="#ae3e03" stroke-width="0.9"/>
<polygon points="463.8,203.9 480.3,207.7 476.5,224.1 460.1,220.4" fill="#cb4b02" stroke="#cb4b02" stroke-width="0.9"/>
<polygon points="480.3,207.7 496.7,211.4 493.0,227.9 476.5,224.1" fill="#dd5f0c" stroke="#dd5f0c" stroke-width="0.9"/>
<polygon points="496.7,211.4 513.2,215.2 509.4,231.6 493.0,227.9" fill="#ed7215" stroke="#ed7215" stroke-width="0.9"/>
<polygon points="513.2,215.2 529.6,218.9 525.9,235.4 509.4,231.6" fill="#f78820" stroke="#f78820" stroke-width="0.9"/>
<polygon points="529.6,218.9 546.1,222.7 542.3,239.1 525.9,235.4" fill="#fe9e2e" stroke="#fe9e2e" stroke-width="0.9"/>
<polygon points="546.1,222.7 562.5,226.4 558.8,242.9 542.3,239.1" fill="#feaf3c" stroke="#feaf3c" stroke-width="0.9"/>
<polygon points="562.5,226.4 579.0,230.2 575.2,246.6 558.8,242.9" fill="#febf4b" stroke="#febf4b" stroke-width="0.9"/>
<polygon points="579.0,230.2 595.4,233.9 591.7,250.4 575.2,246.6" fill="#fec857" stroke="#fec857" stroke-width="0.9"/>
<polygon points="595.4,233.9 611.9,237.7 608.1,254.2 591.7,250.4" fill="#fecc61" stroke="#fecc61" stroke-width="0.9"/>
<polygon points="611.9,237.7 628.3,241.5 624.6,257.9 608.1,254.2" fill="#fed16b" stroke="#fed16b" stroke-width="0.9"/>
<polygon points="345.0,194.1 361.4,197.8 357.7,214.3 341.2,210.5" fill="#862f05" stroke="#862f05" stroke-width="0.9"/>
<polygon points="361.4,197.8 377.9,201.6 374.1,218.0 357.7,214.3" fill="#832e05" stroke="#832e05" stroke-width="0.9"/>
<polygon points="377.9,201.6 394.3,205.3 390.5,221.8 374.1,218.0" fill="#832e05" stroke="#832e05" stroke-width="0.9"/>
<polygon points="394.3,205.3 410.7,209.1 407.0,225.5 390.5,221.8" fill="#832e05" stroke="#832e05" stroke-width="0.9"/>
<polygon points="410.7,209.1 427.2,212.8 423.4,229.3 407.0,225.5" fill="#862f05" stroke="#862f05" stroke-width="0.9"/>
<polygon points="427.2,212.8 443.6,216.6 439.9,233.1 423.4,229.3" fill="#933204" stroke="#933204" stroke-width="0.9"/>
<polygon points="443.6,216.6 460.1,220.4 456.3,236.8 439.9,233.1" fill="#a73b03" stroke="#a73b03" stroke-width="0.9"/>
<polygon points="460.1,220.4 476.5,224.1 472.8,240.6 456.3,236.8" fill="#c34802" stroke="#c34802" stroke-width="0.9"/>
<polygon points="476.5,224.1 493.0,227.9 489.2,244.3 472.8,240.6" fill="#d95a09" stroke="#d95a09" stroke-width="0.9"/>
<polygon points="493.0,227.9 509.4,231.6 505.7,248.1 489.2,244.3" fill="#eb6f14" stroke="#eb6f14" stroke-width="0.9"/>
<polygon points="509.4,231.6 525.9,235.4 522.1,251.8 505.7,248.1" fill="#f4821d" stroke="#f4821d" stroke-width="0.9"/>
<polygon points="525.9,235.4 542.3,239.1 538.6,255.6 522.1,251.8" fill="#fc9527" stroke="#fc9527" stroke-width="0.9"/>
<polygon points="542.3,239.1 558.8,242.9 555.0,259.3 538.6,255.6" fill="#fea534" stroke="#fea534" stroke-width="0.9"/>
<polygon points="558.8,242.9 575.2,246.6 571.5,263.1 555.0,259.3" fill="#feb945" stroke="#feb945" stroke-width="0.9"/>
<polygon points="575.2,246.6 591.7,250.4 587.9,266.8 571.5,263.1" fill="#fec24e" stroke="#fec24e" stroke-width="0.9"/>
<polygon points="591.7,250.4 608.1,254.2 604.4,270.6 587.9,266.8" fill="#fec857" stroke="#fec857" stroke-width="0.9"/>
<polygon points="608.1,254.2 624.6,257.9 620.8,274.4 604.4,270.6" fill="#fec857" stroke="#fec857" stroke-width="0.9"/>
<polygon points="341.2,210.5 357.7,214.3 353.9,230.7 337.5,227.0" fill="#8d3004" stroke="#8d3004" stroke-width="0.9"/>
<polygon points="390.5,221.8 407.0,225.5 403.2,242.0 386.8,238.2" fill="#862f05" stroke="#862f05" stroke-width="0.9"/>
<polygon points="407.0,225.5 423.4,229.3 419.7,245.7 403.2,242.0" fill="#8d3004" stroke="#8d3004" stroke-width="0.9"/>
<polygon points="423.4,229.3 439.9,233.1 436.1,249.5 419.7,245.7" fill="#9a3404" stroke="#9a3404" stroke-width="0.9"/>
<polygon points="439.9,233.1 456.3,236.8 452.6,253.3 436.1,249.5" fill="#ae3e03" stroke="#ae3e03" stroke-width="0.9"/>
<polygon points="456.3,236.8 472.8,240.6 469.0,257.0 452.6,253.3" fill="#cb4b02" stroke="#cb4b02" stroke-width="0.9"/>
<polygon points="472.8,240.6 489.2,244.3 485.5,260.8 469.0,257.0" fill="#d95a09" stroke="#d95a09" stroke-width="0.9"/>
<polygon points="489.2,244.3 505.7,248.1 501.9,264.5 485.5,260.8" fill="#e96c12" stroke="#e96c12" stroke-width="0.9"/>
<polygon points="505.7,248.1 522.1,251.8 518.4,268.3 501.9,264.5" fill="#f4821d" stroke="#f4821d" stroke-width="0.9"/>
<polygon points="522.1,251.8 538.6,255.6 534.8,272.0 518.4,268.3" fill="#fc9527" stroke="#fc9527" stroke-width="0.9"/>
<polygon points="538.6,255.6 555.0,259.3 551.3,275.8 534.8,272.0" fill="#fea534" stroke="#fea534" stroke-width="0.9"/>
<polygon points="555.0,259.3 571.5,263.1 567.7,279.5 551.3,275.8" fill="#feb542" stroke="#feb542" stroke-width="0.9"/>
<polygon points="571.5,263.1 587.9,266.8 584.2,283.3 567.7,279.5" fill="#fec24e" stroke="#fec24e" stroke-width="0.9"/>
<polygon points="587.9,266.8 604.4,270.6 600.6,287.0 584.2,283.3" fill="#fec24e" stroke="#fec24e" stroke-width="0.9"/>
<polygon points="604.4,270.6 620.8,274.4 617.0,290.8 600.6,287.0" fill="#fec24e" stroke="#fec24e" stroke-width="0.9"/>
<path d="M385.4,132.0 C387.6,130.7 391.7,130.4 394.1,130.0 C396.6,129.6 397.4,129.3 400.1,129.5 C402.8,129.7 406.9,130.7 410.2,131.4 C413.5,132.2 417.4,132.8 420.2,134.0 C423.0,135.2 425.0,137.1 426.9,138.7 C428.8,140.3 430.6,141.4 431.8,143.6 C433.0,145.8 433.9,148.0 434.3,151.7 C434.7,155.4 434.7,161.7 434.3,166.0 C433.9,170.3 432.1,173.7 432.0,177.5 C431.9,181.3 432.6,185.5 433.6,189.0 C434.7,192.5 436.1,195.7 438.3,198.5 C440.5,201.3 444.3,203.7 446.8,206.0 C449.3,208.3 451.7,210.2 453.5,212.5 C455.3,214.8 456.6,217.1 457.5,219.5 C458.4,221.9 458.5,224.3 458.6,227.0 C458.7,229.7 458.8,232.9 458.0,235.4 C457.2,237.9 455.8,240.2 454.1,242.1 C452.5,244.0 449.8,245.7 448.1,246.8 C446.4,248.0 447.9,249.8 444.0,249.0 C440.1,248.2 431.6,244.8 425.0,242.0 C418.4,239.2 409.0,235.0 404.6,231.9 C400.2,228.8 400.7,225.5 398.8,223.3 C396.9,221.2 397.3,220.3 393.1,219.0 C388.9,217.7 377.6,216.9 373.5,215.4 C369.4,213.9 369.6,212.6 368.8,210.1 C368.0,207.6 369.3,203.6 368.6,200.5 C367.9,197.4 365.2,194.3 364.6,191.5 C364.0,188.7 364.4,186.8 364.8,183.4 C365.2,180.0 366.3,174.9 367.3,171.0 C368.3,167.1 369.6,163.2 370.6,160.0 C371.7,156.8 372.6,154.4 373.6,152.0 C374.6,149.6 375.6,147.7 376.8,145.4 C378.0,143.1 379.4,140.3 380.8,138.1 C382.2,135.9 383.2,133.3 385.4,132.0 Z" fill="none" stroke="#333" stroke-width="6.3" stroke-linejoin="round"/>
<path d="M279.8,32.1 L420.1,32.1 L420.1,33.0 L417.4,34.7 L414.7,36.7 L411.4,38.7 L410.4,40.7 L412.1,43.4 L413.4,46.7 L414.1,50.0 L412.1,53.4 L410.7,54.7 L409.4,52.7 L408.7,50.0 L406.7,47.4 L403.4,43.4 L400.7,42.7 L399.7,45.4 L401.4,48.7 L400.0,52.0 L402.0,56.7 L401.4,61.4 L402.7,64.1 L407.4,64.7 L409.4,66.7 L410.7,70.1 L411.4,75.4 L412.7,79.4 L412.7,83.4 L413.4,86.8 L416.1,90.1 L418.1,93.5 L418.7,96.8 L421.4,98.8 L426.8,100.8 L428.1,103.5 L427.4,110.2 L426.8,116.8 L426.1,124.9 L423.5,120.0 L420.9,115.3 L418.2,112.7 L414.8,114.0 L410.2,112.7 L405.5,115.3 L400.8,114.7 L396.8,116.0 L393.5,115.3 L389.5,114.7 L390.8,119.4 L392.1,123.4 L393.1,134.7 L390.1,130.7 L387.4,127.4 L382.8,125.0 L379.4,126.0 L376.8,124.4 L372.8,124.4 L372.8,130.0 L374.1,132.7 L372.8,136.7 L374.8,140.1 L374.1,143.4 L370.1,145.4 L370.7,147.4 L372.8,150.1 L370.7,156.8 L369.4,162.1 L366.1,161.4 L363.4,162.8 L362.7,166.8 L362.1,173.5 L361.4,180.1 L360.1,186.8 L359.5,188.7 L358.8,192.0 L360.1,195.4 L356.8,198.1 L354.1,198.1 L350.8,196.1 L349.5,201.4 L347.4,208.1 L343.4,212.1 L340.8,210.1 L341.4,187.4 L338.8,182.7 L335.4,191.4 L328.1,198.1 L330.1,202.1 L334.1,210.1 L324.7,206.1 L322.7,216.8 L322.1,222.1 L330.1,220.8 L344.8,219.8 L346.8,223.4 L360.8,222.8 L361.5,226.1 L370.2,223.4 L380.0,226.1 L386.7,228.7 L393.4,229.4 L400.0,230.7 L408.1,232.1 L408.7,236.8 L410.7,234.1 L417.4,234.1 L426.8,235.4 L430.1,238.1 L430.8,243.4 L429.4,250.1 L433.4,248.8 L436.8,248.1 L438.8,244.8 L445.5,246.1 L446.1,250.1 L445.5,256.8 L444.8,264.1 L440.1,265.5 L433.4,264.1 L420.1,260.8 L406.7,258.8 L390.0,257.8 L376.8,255.4 L356.8,251.4 L340.8,248.7 L340.8,250.0 L340.8,260.1 L340.1,266.7 L338.1,276.8 L336.8,282.1 L338.8,285.4 L338.1,288.1 L342.8,290.1 L343.4,296.1 L337.4,296.8 L340.8,304.8 L337.4,313.5 L338.1,318.2 L346.1,320.2 L347.0,320.9 L279.8,320.9 Z" fill="#bfbfbf" stroke="#000" stroke-width="1.3" stroke-linejoin="round"/>
<path d="M324.1,244.0 L336.1,248.7 L332.8,251.4 L332.8,256.7 L333.4,263.4 L327.4,255.4 L322.7,256.7 L326.1,251.4 Z" fill="#fff" stroke="#000" stroke-width="1.3" stroke-linejoin="round"/>
<path d="M426.8,32.1 L459.5,32.1 L461.5,34.0 L462.2,36.0 L460.2,38.7 L456.8,42.7 L454.8,42.7 L450.1,41.4 L443.5,39.4 L436.8,36.7 L430.8,34.7 Z" fill="#bfbfbf" stroke="#000" stroke-width="1.3" stroke-linejoin="round"/>
<path d="M281.0,7.2 L283.7,36.8 L286.4,66.4 L289.0,96.0 L291.7,125.6 L294.3,155.2 L297.0,184.7 L299.7,214.2 L302.3,243.8 L305.0,273.3 L307.6,302.8 L310.3,332.2 M363.8,1.2 L365.4,30.9 L367.1,60.6 L368.7,90.3 L370.3,119.9 L371.9,149.6 L373.6,179.2 L375.2,208.8 L376.8,238.4 L378.4,268.0 L380.0,297.5 L381.7,327.1 M446.7,-1.9 L447.3,27.9 L447.9,57.6 L448.5,87.3 L449.1,117.0 L449.7,146.7 L450.3,176.3 L450.8,206.0 L451.4,235.6 L452.0,265.2 L452.6,294.8 L453.2,324.4 M529.7,-2.0 L529.3,27.7 L528.8,57.4 L528.4,87.1 L527.9,116.8 L527.5,146.5 L527.0,176.1 L526.6,205.8 L526.1,235.4 L525.7,265.0 L525.2,294.6 L524.8,324.2 M612.6,0.6 L611.2,30.3 L609.7,60.0 L608.2,89.7 L606.7,119.4 L605.2,149.0 L603.7,178.6 L602.3,208.2 L600.8,237.8 L599.3,267.4 L597.8,297.0 L596.3,326.6 M695.4,6.2 L692.9,35.9 L690.4,65.5 L687.9,95.1 L685.3,124.7 L682.8,154.2 L680.3,183.8 L677.8,213.3 L675.3,242.9 L672.8,272.4 L670.3,301.9 L667.8,331.4 M222.6,43.1 L242.9,40.9 L263.3,38.8 L283.7,36.8 L304.1,35.1 L324.5,33.5 L345.0,32.1 L365.4,30.9 L385.9,29.9 L406.4,29.0 L426.8,28.4 L447.3,27.9 L467.8,27.6 L488.3,27.4 L508.8,27.5 L529.3,27.7 L549.7,28.1 L570.2,28.7 L590.7,29.4 L611.2,30.3 L631.6,31.5 L652.1,32.8 L672.5,34.2 L692.9,35.9 L713.3,37.7 L733.7,39.7 L754.1,41.9 L774.4,44.2 M228.3,92.3 L248.2,90.1 L268.2,88.1 L288.1,86.2 L308.1,84.5 L328.1,82.9 L348.1,81.6 L368.1,80.4 L388.2,79.4 L408.2,78.5 L428.2,77.9 L448.3,77.4 L468.3,77.1 L488.4,77.0 L508.5,77.0 L528.5,77.2 L548.6,77.6 L568.6,78.2 L588.6,78.9 L608.7,79.8 L628.7,80.9 L648.7,82.2 L668.7,83.6 L688.7,85.2 L708.7,87.0 L728.6,89.0 L748.6,91.1 L768.5,93.4 M234.0,141.5 L253.5,139.3 L273.0,137.3 L292.6,135.5 L312.1,133.8 L331.7,132.3 L351.3,131.0 L370.8,129.8 L390.4,128.8 L410.1,128.0 L429.7,127.4 L449.3,126.9 L468.9,126.6 L488.5,126.4 L508.1,126.5 L527.8,126.7 L547.4,127.1 L567.0,127.6 L586.6,128.3 L606.2,129.2 L625.8,130.3 L645.4,131.5 L665.0,133.0 L684.5,134.5 L704.1,136.3 L723.6,138.2 L743.1,140.3 L762.6,142.5 M239.7,190.6 L258.8,188.5 L277.9,186.5 L297.0,184.7 L316.1,183.1 L335.3,181.6 L354.4,180.3 L373.6,179.2 L392.7,178.2 L411.9,177.4 L431.1,176.8 L450.3,176.3 L469.4,176.0 L488.6,175.9 L507.8,175.9 L527.0,176.1 L546.2,176.5 L565.4,177.0 L584.6,177.8 L603.7,178.6 L622.9,179.7 L642.0,180.9 L661.2,182.3 L680.3,183.8 L699.4,185.5 L718.5,187.4 L737.6,189.4 L756.7,191.6 M245.4,239.7 L264.1,237.6 L282.7,235.7 L301.4,233.9 L320.1,232.3 L338.8,230.9 L357.5,229.6 L376.3,228.5 L395.0,227.6 L413.7,226.8 L432.5,226.2 L451.2,225.7 L470.0,225.4 L488.8,225.3 L507.5,225.3 L526.3,225.5 L545.0,225.9 L563.8,226.4 L582.5,227.1 L601.3,228.0 L620.0,229.0 L638.7,230.2 L657.4,231.5 L676.1,233.0 L694.8,234.7 L713.5,236.5 L732.1,238.5 L750.8,240.7 M251.1,288.7 L269.4,286.7 L287.6,284.8 L305.8,283.1 L324.1,281.5 L342.4,280.1 L360.7,278.9 L379.0,277.8 L397.3,276.9 L415.6,276.1 L433.9,275.5 L452.2,275.1 L470.5,274.8 L488.9,274.7 L507.2,274.7 L525.5,274.9 L543.9,275.3 L562.2,275.8 L580.5,276.5 L598.8,277.3 L617.1,278.3 L635.4,279.4 L653.7,280.8 L671.9,282.2 L690.2,283.9 L708.4,285.7 L726.7,287.6 L744.9,289.7" fill="none" stroke="#000" stroke-opacity="0.42" stroke-width="1" stroke-dasharray="2.2 6.5"/>
</g>
<line x1="375" y1="62.5" x2="655" y2="126.4" stroke="#ffff00" stroke-width="6.6" stroke-dasharray="26.5 26" stroke-dashoffset="45.3"/>
<line x1="655" y1="126.4" x2="617.6" y2="290.2" stroke="#ffff00" stroke-width="6.6" stroke-dasharray="26.5 26" stroke-dashoffset="0.0"/>
<line x1="617.6" y1="290.2" x2="337.6" y2="226.3" stroke="#ffff00" stroke-width="6.6" stroke-dasharray="26.5 26" stroke-dashoffset="13.5"/>
<line x1="337.6" y1="226.3" x2="375" y2="62.5" stroke="#ffff00" stroke-width="6.6" stroke-dasharray="26.5 26" stroke-dashoffset="34.5"/>
<rect x="279.8" y="32.1" width="432.8" height="288.8" fill="none" stroke="#000" stroke-width="1.5"/>
<line x1="283.3" y1="32.1" x2="283.3" y2="35.6" stroke="#000" stroke-width="1.3"/>
<line x1="309.2" y1="320.9" x2="309.2" y2="317.4" stroke="#000" stroke-width="1.3"/>
<line x1="365.5" y1="32.1" x2="365.5" y2="35.6" stroke="#000" stroke-width="1.3"/>
<line x1="381.3" y1="320.9" x2="381.3" y2="317.4" stroke="#000" stroke-width="1.3"/>
<line x1="447.4" y1="32.1" x2="447.4" y2="35.6" stroke="#000" stroke-width="1.3"/>
<line x1="453.1" y1="320.9" x2="453.1" y2="317.4" stroke="#000" stroke-width="1.3"/>
<line x1="529.2" y1="32.1" x2="529.2" y2="35.6" stroke="#000" stroke-width="1.3"/>
<line x1="524.8" y1="320.9" x2="524.8" y2="317.4" stroke="#000" stroke-width="1.3"/>
<line x1="611.1" y1="32.1" x2="611.1" y2="35.6" stroke="#000" stroke-width="1.3"/>
<line x1="596.6" y1="320.9" x2="596.6" y2="317.4" stroke="#000" stroke-width="1.3"/>
<line x1="693.2" y1="32.1" x2="693.2" y2="35.6" stroke="#000" stroke-width="1.3"/>
<line x1="668.6" y1="320.9" x2="668.6" y2="317.4" stroke="#000" stroke-width="1.3"/>
<line x1="279.8" y1="37.2" x2="283.3" y2="37.2" stroke="#000" stroke-width="1.3"/>
<line x1="712.6" y1="37.6" x2="709.1" y2="37.6" stroke="#000" stroke-width="1.3"/>
<line x1="279.8" y1="86.9" x2="283.3" y2="86.9" stroke="#000" stroke-width="1.3"/>
<line x1="712.6" y1="87.4" x2="709.1" y2="87.4" stroke="#000" stroke-width="1.3"/>
<line x1="279.8" y1="136.6" x2="283.3" y2="136.6" stroke="#000" stroke-width="1.3"/>
<line x1="712.6" y1="137.1" x2="709.1" y2="137.1" stroke="#000" stroke-width="1.3"/>
<line x1="279.8" y1="186.3" x2="283.3" y2="186.3" stroke="#000" stroke-width="1.3"/>
<line x1="712.6" y1="186.8" x2="709.1" y2="186.8" stroke="#000" stroke-width="1.3"/>
<line x1="279.8" y1="236" x2="283.3" y2="236" stroke="#000" stroke-width="1.3"/>
<line x1="712.6" y1="236.5" x2="709.1" y2="236.5" stroke="#000" stroke-width="1.3"/>
<line x1="279.8" y1="285.6" x2="283.3" y2="285.6" stroke="#000" stroke-width="1.3"/>
<line x1="712.6" y1="286.1" x2="709.1" y2="286.1" stroke="#000" stroke-width="1.3"/>
<text x="292" y="65.7" font-size="30" text-anchor="start" fill="#000">Mode 2</text>
<text x="291.5" y="101.7" font-size="30.5" text-anchor="start" fill="#000">28.8%</text>
<text x="728.2" y="49.9" font-size="30" text-anchor="start" fill="#000">74°S</text>
<text x="719.6" y="99.7" font-size="30" text-anchor="start" fill="#000">20'</text>
<text x="719.6" y="149.4" font-size="30" text-anchor="start" fill="#000">40'</text>
<text x="728.2" y="199.1" font-size="30" text-anchor="start" fill="#000">75°S</text>
<text x="719.6" y="248.8" font-size="30" text-anchor="start" fill="#000">20'</text>
<text x="719.6" y="298.4" font-size="30" text-anchor="start" fill="#000">40'</text>
<text x="366" y="23" font-size="30" text-anchor="middle" fill="#000">164°E</text>
<text x="529" y="23" font-size="30" text-anchor="middle" fill="#000">168°E</text>
<text x="692.7" y="23" font-size="30" text-anchor="middle" fill="#000">172°E</text>
</g>
<g transform="translate(0.0,304.7)">
<clipPath id="ca3"><rect x="279.8" y="32.1" width="432.8" height="288.8"/></clipPath>
<g clip-path="url(#ca3)">
<polygon points="407.9,70.0 424.3,73.8 420.6,90.2 404.1,86.5" fill="#fec857" stroke="#fec857" stroke-width="0.9"/>
<polygon points="424.3,73.8 440.8,77.5 437.0,94.0 420.6,90.2" fill="#fed16b" stroke="#fed16b" stroke-width="0.9"/>
<polygon points="440.8,77.5 457.2,81.3 453.5,97.7 437.0,94.0" fill="#fecc61" stroke="#fecc61" stroke-width="0.9"/>
<polygon points="457.2,81.3 473.7,85.0 469.9,101.5 453.5,97.7" fill="#fec24e" stroke="#fec24e" stroke-width="0.9"/>
<polygon points="473.7,85.0 490.1,88.8 486.4,105.2 469.9,101.5" fill="#febf4b" stroke="#febf4b" stroke-width="0.9"/>
<polygon points="490.1,88.8 506.6,92.5 502.8,109.0 486.4,105.2" fill="#feb23f" stroke="#feb23f" stroke-width="0.9"/>
<polygon points="506.6,92.5 523.0,96.3 519.3,112.7 502.8,109.0" fill="#feab39" stroke="#feab39" stroke-width="0.9"/>
<polygon points="523.0,96.3 539.5,100.0 535.7,116.5 519.3,112.7" fill="#fea231" stroke="#fea231" stroke-width="0.9"/>
<polygon points="539.5,100.0 555.9,103.8 552.2,120.2 535.7,116.5" fill="#f88b22" stroke="#f88b22" stroke-width="0.9"/>
<polygon points="555.9,103.8 572.4,107.6 568.6,124.0 552.2,120.2" fill="#ed7215" stroke="#ed7215" stroke-width="0.9"/>
<polygon points="572.4,107.6 588.8,111.3 585.1,127.8 568.6,124.0" fill="#e4670f" stroke="#e4670f" stroke-width="0.9"/>
<polygon points="588.8,111.3 605.3,115.1 601.5,131.5 585.1,127.8" fill="#d95a09" stroke="#d95a09" stroke-width="0.9"/>
<polygon points="605.3,115.1 621.7,118.8 617.9,135.3 601.5,131.5" fill="#d05004" stroke="#d05004" stroke-width="0.9"/>
<polygon points="621.7,118.8 638.1,122.6 634.4,139.0 617.9,135.3" fill="#bc4503" stroke="#bc4503" stroke-width="0.9"/>
<polygon points="638.1,122.6 654.6,126.3 650.8,142.8 634.4,139.0" fill="#aa3c03" stroke="#aa3c03" stroke-width="0.9"/>
<polygon points="404.1,86.5 420.6,90.2 416.8,106.7 400.4,102.9" fill="#fecc61" stroke="#fecc61" stroke-width="0.9"/>
<polygon points="420.6,90.2 437.0,94.0 433.3,110.4 416.8,106.7" fill="#fed16b" stroke="#fed16b" stroke-width="0.9"/>
<polygon points="437.0,94.0 453.5,97.7 449.7,114.2 433.3,110.4" fill="#fedb7f" stroke="#fedb7f" stroke-width="0.9"/>
<polygon points="453.5,97.7 469.9,101.5 466.2,117.9 449.7,114.2" fill="#fed16b" stroke="#fed16b" stroke-width="0.9"/>
<polygon points="469.9,101.5 486.4,105.2 482.6,121.7 466.2,117.9" fill="#fecc61" stroke="#fecc61" stroke-width="0.9"/>
<polygon points="486.4,105.2 502.8,109.0 499.1,125.4 482.6,121.7" fill="#fec24e" stroke="#fec24e" stroke-width="0.9"/>
<polygon points="502.8,109.0 519.3,112.7 515.5,129.2 499.1,125.4" fill="#feb23f" stroke="#feb23f" stroke-width="0.9"/>
<polygon points="519.3,112.7 535.7,116.5 532.0,132.9 515.5,129.2" fill="#fea231" stroke="#fea231" stroke-width="0.9"/>
<polygon points="535.7,116.5 552.2,120.2 548.4,136.7 532.0,132.9" fill="#f88b22" stroke="#f88b22" stroke-width="0.9"/>
<polygon points="552.2,120.2 568.6,124.0 564.9,140.5 548.4,136.7" fill="#ed7215" stroke="#ed7215" stroke-width="0.9"/>
<polygon points="568.6,124.0 585.1,127.8 581.3,144.2 564.9,140.5" fill="#df620d" stroke="#df620d" stroke-width="0.9"/>
<polygon points="585.1,127.8 601.5,131.5 597.7,148.0 581.3,144.2" fill="#d05004" stroke="#d05004" stroke-width="0.9"/>
<polygon points="601.5,131.5 617.9,135.3 614.2,151.7 597.7,148.0" fill="#bc4503" stroke="#bc4503" stroke-width="0.9"/>
<polygon points="617.9,135.3 634.4,139.0 630.6,155.5 614.2,151.7" fill="#a73b03" stroke="#a73b03" stroke-width="0.9"/>
<polygon points="634.4,139.0 650.8,142.8 647.1,159.2 630.6,155.5" fill="#9a3404" stroke="#9a3404" stroke-width="0.9"/>
<polygon points="416.8,106.7 433.3,110.4 429.5,126.9 413.1,123.1" fill="#fed675" stroke="#fed675" stroke-width="0.9"/>
<polygon points="433.3,110.4 449.7,114.2 446.0,130.6 429.5,126.9" fill="#fede85" stroke="#fede85" stroke-width="0.9"/>
<polygon points="449.7,114.2 466.2,117.9 462.4,134.4 446.0,130.6" fill="#fedb7f" stroke="#fedb7f" stroke-width="0.9"/>
<polygon points="466.2,117.9 482.6,121.7 478.9,138.1 462.4,134.4" fill="#fed16b" stroke="#fed16b" stroke-width="0.9"/>
<polygon points="482.6,121.7 499.1,125.4 495.3,141.9 478.9,138.1" fill="#fec857" stroke="#fec857" stroke-width="0.9"/>
<polygon points="499.1,125.4 515.5,129.2 511.8,145.6 495.3,141.9" fill="#febf4b" stroke="#febf4b" stroke-width="0.9"/>
<polygon points="515.5,129.2 532.0,132.9 528.2,149.4 511.8,145.6" fill="#feab39" stroke="#feab39" stroke-width="0.9"/>
<polygon points="532.0,132.9 548.4,136.7 544.7,153.1 528.2,149.4" fill="#fc9527" stroke="#fc9527" stroke-width="0.9"/>
<polygon points="548.4,136.7 564.9,140.5 561.1,156.9 544.7,153.1" fill="#f07818" stroke="#f07818" stroke-width="0.9"/>
<polygon points="564.9,140.5 581.3,144.2 577.5,160.7 561.1,156.9" fill="#df620d" stroke="#df620d" stroke-width="0.9"/>
<polygon points="581.3,144.2 597.7,148.0 594.0,164.4 577.5,160.7" fill="#cb4b02" stroke="#cb4b02" stroke-width="0.9"/>
<polygon points="597.7,148.0 614.2,151.7 610.4,168.2 594.0,164.4" fill="#b24003" stroke="#b24003" stroke-width="0.9"/>
<polygon points="614.2,151.7 630.6,155.5 626.9,171.9 610.4,168.2" fill="#9d3604" stroke="#9d3604" stroke-width="0.9"/>
<polygon points="630.6,155.5 647.1,159.2 643.3,175.7 626.9,171.9" fill="#903104" stroke="#903104" stroke-width="0.9"/>
<polygon points="396.6,119.4 413.1,123.1 409.3,139.6 392.9,135.8" fill="#fed675" stroke="#fed675" stroke-width="0.9"/>
<polygon points="413.1,123.1 429.5,126.9 425.8,143.3 409.3,139.6" fill="#fedb7f" stroke="#fedb7f" stroke-width="0.9"/>
<polygon points="429.5,126.9 446.0,130.6 442.2,147.1 425.8,143.3" fill="#fedc82" stroke="#fedc82" stroke-width="0.9"/>
<polygon points="446.0,130.6 462.4,134.4 458.7,150.8 442.2,147.1" fill="#fedb7f" stroke="#fedb7f" stroke-width="0.9"/>
<polygon points="462.4,134.4 478.9,138.1 475.1,154.6 458.7,150.8" fill="#fed675" stroke="#fed675" stroke-width="0.9"/>
<polygon points="478.9,138.1 495.3,141.9 491.6,158.3 475.1,154.6" fill="#fecc61" stroke="#fecc61" stroke-width="0.9"/>
<polygon points="495.3,141.9 511.8,145.6 508.0,162.1 491.6,158.3" fill="#fec24e" stroke="#fec24e" stroke-width="0.9"/>
<polygon points="511.8,145.6 528.2,149.4 524.4,165.8 508.0,162.1" fill="#feb23f" stroke="#feb23f" stroke-width="0.9"/>
<polygon points="528.2,149.4 544.7,153.1 540.9,169.6 524.4,165.8" fill="#fe9e2e" stroke="#fe9e2e" stroke-width="0.9"/>
<polygon points="544.7,153.1 561.1,156.9 557.3,173.3 540.9,169.6" fill="#f4821d" stroke="#f4821d" stroke-width="0.9"/>
<polygon points="561.1,156.9 577.5,160.7 573.8,177.1 557.3,173.3" fill="#df620d" stroke="#df620d" stroke-width="0.9"/>
<polygon points="577.5,160.7 594.0,164.4 590.2,180.9 573.8,177.1" fill="#cb4b02" stroke="#cb4b02" stroke-width="0.9"/>
<polygon points="594.0,164.4 610.4,168.2 606.7,184.6 590.2,180.9" fill="#aa3c03" stroke="#aa3c03" stroke-width="0.9"/>
<polygon points="610.4,168.2 626.9,171.9 623.1,188.4 606.7,184.6" fill="#933204" stroke="#933204" stroke-width="0.9"/>
<polygon points="626.9,171.9 643.3,175.7 639.6,192.1 623.1,188.4" fill="#862f05" stroke="#862f05" stroke-width="0.9"/>
<polygon points="392.9,135.8 409.3,139.6 405.6,156.0 389.1,152.2" fill="#fed675" stroke="#fed675" stroke-width="0.9"/>
<polygon points="409.3,139.6 425.8,143.3 422.0,159.8 405.6,156.0" fill="#fedb7f" stroke="#fedb7f" stroke-width="0.9"/>
<polygon points="425.8,143.3 442.2,147.1 438.5,163.5 422.0,159.8" fill="#fedb7f" stroke="#fedb7f" stroke-width="0.9"/>
<polygon points="442.2,147.1 458.7,150.8 454.9,167.3 438.5,163.5" fill="#fedb7f" stroke="#fedb7f" stroke-width="0.9"/>
<polygon points="458.7,150.8 475.1,154.6 471.4,171.0 454.9,167.3" fill="#fed675" stroke="#fed675" stroke-width="0.9"/>
<polygon points="475.1,154.6 491.6,158.3 487.8,174.8 471.4,171.0" fill="#fed16b" stroke="#fed16b" stroke-width="0.9"/>
<polygon points="491.6,158.3 508.0,162.1 504.2,178.5 487.8,174.8" fill="#fec24e" stroke="#fec24e" stroke-width="0.9"/>
<polygon points="508.0,162.1 524.4,165.8 520.7,182.3 504.2,178.5" fill="#feb23f" stroke="#feb23f" stroke-width="0.9"/>
<polygon points="524.4,165.8 540.9,169.6 537.1,186.0 520.7,182.3" fill="#fe9e2e" stroke="#fe9e2e" stroke-width="0.9"/>
<polygon points="540.9,169.6 557.3,173.3 553.6,189.8 537.1,186.0" fill="#f78820" stroke="#f78820" stroke-width="0.9"/>
<polygon points="557.3,173.3 573.8,177.1 570.0,193.5 553.6,189.8" fill="#e4670f" stroke="#e4670f" stroke-width="0.9"/>
<polygon points="573.8,177.1 590.2,180.9 586.5,197.3 570.0,193.5" fill="#d05004" stroke="#d05004" stroke-width="0.9"/>
<polygon points="590.2,180.9 606.7,184.6 602.9,201.1 586.5,197.3" fill="#aa3c03" stroke="#aa3c03" stroke-width="0.9"/>
<polygon points="606.7,184.6 623.1,188.4 619.4,204.8 602.9,201.1" fill="#8d3004" stroke="#8d3004" stroke-width="0.9"/>
<polygon points="623.1,188.4 639.6,192.1 635.8,208.6 619.4,204.8" fill="#802d05" stroke="#802d05" stroke-width="0.9"/>
<polygon points="372.7,148.5 389.1,152.2 385.4,168.7 368.9,164.9" fill="#fedc82" stroke="#fedc82" stroke-width="0.9"/>
<polygon points="389.1,152.2 405.6,156.0 401.8,172.4 385.4,168.7" fill="#fedf88" stroke="#fedf88" stroke-width="0.9"/>
<polygon points="405.6,156.0 422.0,159.8 418.3,176.2 401.8,172.4" fill="#fedb7f" stroke="#fedb7f" stroke-width="0.9"/>
<polygon points="422.0,159.8 438.5,163.5 434.7,180.0 418.3,176.2" fill="#fed675" stroke="#fed675" stroke-width="0.9"/>
<polygon points="438.5,163.5 454.9,167.3 451.2,183.7 434.7,180.0" fill="#fed675" stroke="#fed675" stroke-width="0.9"/>
<polygon points="454.9,167.3 471.4,171.0 467.6,187.5 451.2,183.7" fill="#fed675" stroke="#fed675" stroke-width="0.9"/>
<polygon points="471.4,171.0 487.8,174.8 484.0,191.2 467.6,187.5" fill="#fed16b" stroke="#fed16b" stroke-width="0.9"/>
<polygon points="487.8,174.8 504.2,178.5 500.5,195.0 484.0,191.2" fill="#fec24e" stroke="#fec24e" stroke-width="0.9"/>
<polygon points="504.2,178.5 520.7,182.3 516.9,198.7 500.5,195.0" fill="#feb23f" stroke="#feb23f" stroke-width="0.9"/>
<polygon points="520.7,182.3 537.1,186.0 533.4,202.5 516.9,198.7" fill="#fe9b2b" stroke="#fe9b2b" stroke-width="0.9"/>
<polygon points="537.1,186.0 553.6,189.8 549.8,206.2 533.4,202.5" fill="#f07818" stroke="#f07818" stroke-width="0.9"/>
<polygon points="553.6,189.8 570.0,193.5 566.3,210.0 549.8,206.2" fill="#df620d" stroke="#df620d" stroke-width="0.9"/>
<polygon points="570.0,193.5 586.5,197.3 582.7,213.7 566.3,210.0" fill="#c34802" stroke="#c34802" stroke-width="0.9"/>
<polygon points="586.5,197.3 602.9,201.1 599.2,217.5 582.7,213.7" fill="#a03704" stroke="#a03704" stroke-width="0.9"/>
<polygon points="602.9,201.1 619.4,204.8 615.6,221.3 599.2,217.5" fill="#832e05" stroke="#832e05" stroke-width="0.9"/>
<polygon points="619.4,204.8 635.8,208.6 632.1,225.0 615.6,221.3" fill="#7d2c05" stroke="#7d2c05" stroke-width="0.9"/>
<polygon points="352.5,161.2 368.9,164.9 365.2,181.4 348.7,177.6" fill="#fede85" stroke="#fede85" stroke-width="0.9"/>
<polygon points="368.9,164.9 385.4,168.7 381.6,185.1 365.2,181.4" fill="#fedf88" stroke="#fedf88" stroke-width="0.9"/>
<polygon points="385.4,168.7 401.8,172.4 398.1,188.9 381.6,185.1" fill="#fede85" stroke="#fede85" stroke-width="0.9"/>
<polygon points="401.8,172.4 418.3,176.2 414.5,192.6 398.1,188.9" fill="#fedb7f" stroke="#fedb7f" stroke-width="0.9"/>
<polygon points="418.3,176.2 434.7,180.0 431.0,196.4 414.5,192.6" fill="#fed675" stroke="#fed675" stroke-width="0.9"/>
<polygon points="434.7,180.0 451.2,183.7 447.4,200.2 431.0,196.4" fill="#fed675" stroke="#fed675" stroke-width="0.9"/>
<polygon points="451.2,183.7 467.6,187.5 463.8,203.9 447.4,200.2" fill="#fed675" stroke="#fed675" stroke-width="0.9"/>
<polygon points="467.6,187.5 484.0,191.2 480.3,207.7 463.8,203.9" fill="#fecc61" stroke="#fecc61" stroke-width="0.9"/>
<polygon points="484.0,191.2 500.5,195.0 496.7,211.4 480.3,207.7" fill="#fec24e" stroke="#fec24e" stroke-width="0.9"/>
<polygon points="500.5,195.0 516.9,198.7 513.2,215.2 496.7,211.4" fill="#fea231" stroke="#fea231" stroke-width="0.9"/>
<polygon points="516.9,198.7 533.4,202.5 529.6,218.9 513.2,215.2" fill="#f88b22" stroke="#f88b22" stroke-width="0.9"/>
<polygon points="533.4,202.5 549.8,206.2 546.1,222.7 529.6,218.9" fill="#e96c12" stroke="#e96c12" stroke-width="0.9"/>
<polygon points="549.8,206.2 566.3,210.0 562.5,226.4 546.1,222.7" fill="#d45507" stroke="#d45507" stroke-width="0.9"/>
<polygon points="566.3,210.0 582.7,213.7 579.0,230.2 562.5,226.4" fill="#b94303" stroke="#b94303" stroke-width="0.9"/>
<polygon points="582.7,213.7 599.2,217.5 595.4,233.9 579.0,230.2" fill="#933204" stroke="#933204" stroke-width="0.9"/>
<polygon points="599.2,217.5 615.6,221.3 611.9,237.7 595.4,233.9" fill="#802d05" stroke="#802d05" stroke-width="0.9"/>
<polygon points="615.6,221.3 632.1,225.0 628.3,241.5 611.9,237.7" fill="#802d05" stroke="#802d05" stroke-width="0.9"/>
<polygon points="348.7,177.6 365.2,181.4 361.4,197.8 345.0,194.1" fill="#fede85" stroke="#fede85" stroke-width="0.9"/>
<polygon points="365.2,181.4 381.6,185.1 377.9,201.6 361.4,197.8" fill="#fedf88" stroke="#fedf88" stroke-width="0.9"/>
<polygon points="381.6,185.1 398.1,188.9 394.3,205.3 377.9,201.6" fill="#fede85" stroke="#fede85" stroke-width="0.9"/>
<polygon points="398.1,188.9 414.5,192.6 410.7,209.1 394.3,205.3" fill="#fedb7f" stroke="#fedb7f" stroke-width="0.9"/>
<polygon points="414.5,192.6 431.0,196.4 427.2,212.8 410.7,209.1" fill="#fed675" stroke="#fed675" stroke-width="0.9"/>
<polygon points="431.0,196.4 447.4,200.2 443.6,216.6 427.2,212.8" fill="#fed675" stroke="#fed675" stroke-width="0.9"/>
<polygon points="447.4,200.2 463.8,203.9 460.1,220.4 443.6,216.6" fill="#fed16b" stroke="#fed16b" stroke-width="0.9"/>
<polygon points="463.8,203.9 480.3,207.7 476.5,224.1 460.1,220.4" fill="#fec857" stroke="#fec857" stroke-width="0.9"/>
<polygon points="480.3,207.7 496.7,211.4 493.0,227.9 476.5,224.1" fill="#feb23f" stroke="#feb23f" stroke-width="0.9"/>
<polygon points="496.7,211.4 513.2,215.2 509.4,231.6 493.0,227.9" fill="#fc9527" stroke="#fc9527" stroke-width="0.9"/>
<polygon points="513.2,215.2 529.6,218.9 525.9,235.4 509.4,231.6" fill="#f07818" stroke="#f07818" stroke-width="0.9"/>
<polygon points="529.6,218.9 546.1,222.7 542.3,239.1 525.9,235.4" fill="#df620d" stroke="#df620d" stroke-width="0.9"/>
<polygon points="546.1,222.7 562.5,226.4 558.8,242.9 542.3,239.1" fill="#cb4b02" stroke="#cb4b02" stroke-width="0.9"/>
<polygon points="562.5,226.4 579.0,230.2 575.2,246.6 558.8,242.9" fill="#a73b03" stroke="#a73b03" stroke-width="0.9"/>
<polygon points="579.0,230.2 595.4,233.9 591.7,250.4 575.2,246.6" fill="#8d3004" stroke="#8d3004" stroke-width="0.9"/>
<polygon points="595.4,233.9 611.9,237.7 608.1,254.2 591.7,250.4" fill="#802d05" stroke="#802d05" stroke-width="0.9"/>
<polygon points="611.9,237.7 628.3,241.5 624.6,257.9 608.1,254.2" fill="#862f05" stroke="#862f05" stroke-width="0.9"/>
<polygon points="345.0,194.1 361.4,197.8 357.7,214.3 341.2,210.5" fill="#fed675" stroke="#fed675" stroke-width="0.9"/>
<polygon points="361.4,197.8 377.9,201.6 374.1,218.0 357.7,214.3" fill="#fedb7f" stroke="#fedb7f" stroke-width="0.9"/>
<polygon points="377.9,201.6 394.3,205.3 390.5,221.8 374.1,218.0" fill="#fede85" stroke="#fede85" stroke-width="0.9"/>
<polygon points="394.3,205.3 410.7,209.1 407.0,225.5 390.5,221.8" fill="#fedb7f" stroke="#fedb7f" stroke-width="0.9"/>
<polygon points="410.7,209.1 427.2,212.8 423.4,229.3 407.0,225.5" fill="#fed16b" stroke="#fed16b" stroke-width="0.9"/>
<polygon points="427.2,212.8 443.6,216.6 439.9,233.1 423.4,229.3" fill="#fed16b" stroke="#fed16b" stroke-width="0.9"/>
<polygon points="443.6,216.6 460.1,220.4 456.3,236.8 439.9,233.1" fill="#fecc61" stroke="#fecc61" stroke-width="0.9"/>
<polygon points="460.1,220.4 476.5,224.1 472.8,240.6 456.3,236.8" fill="#fec24e" stroke="#fec24e" stroke-width="0.9"/>
<polygon points="476.5,224.1 493.0,227.9 489.2,244.3 472.8,240.6" fill="#fea231" stroke="#fea231" stroke-width="0.9"/>
<polygon points="493.0,227.9 509.4,231.6 505.7,248.1 489.2,244.3" fill="#f4821d" stroke="#f4821d" stroke-width="0.9"/>
<polygon points="509.4,231.6 525.9,235.4 522.1,251.8 505.7,248.1" fill="#e96c12" stroke="#e96c12" stroke-width="0.9"/>
<polygon points="525.9,235.4 542.3,239.1 538.6,255.6 522.1,251.8" fill="#d45507" stroke="#d45507" stroke-width="0.9"/>
<polygon points="542.3,239.1 558.8,242.9 555.0,259.3 538.6,255.6" fill="#bc4503" stroke="#bc4503" stroke-width="0.9"/>
<polygon points="558.8,242.9 575.2,246.6 571.5,263.1 555.0,259.3" fill="#9d3604" stroke="#9d3604" stroke-width="0.9"/>
<polygon points="575.2,246.6 591.7,250.4 587.9,266.8 571.5,263.1" fill="#862f05" stroke="#862f05" stroke-width="0.9"/>
<polygon points="591.7,250.4 608.1,254.2 604.4,270.6 587.9,266.8" fill="#832e05" stroke="#832e05" stroke-width="0.9"/>
<polygon points="608.1,254.2 624.6,257.9 620.8,274.4 604.4,270.6" fill="#aa3c03" stroke="#aa3c03" stroke-width="0.9"/>
<polygon points="341.2,210.5 357.7,214.3 353.9,230.7 337.5,227.0" fill="#fed675" stroke="#fed675" stroke-width="0.9"/>
<polygon points="390.5,221.8 407.0,225.5 403.2,242.0 386.8,238.2" fill="#fed675" stroke="#fed675" stroke-width="0.9"/>
<polygon points="407.0,225.5 423.4,229.3 419.7,245.7 403.2,242.0" fill="#fed16b" stroke="#fed16b" stroke-width="0.9"/>
<polygon points="423.4,229.3 439.9,233.1 436.1,249.5 419.7,245.7" fill="#fecc61" stroke="#fecc61" stroke-width="0.9"/>
<polygon points="439.9,233.1 456.3,236.8 452.6,253.3 436.1,249.5" fill="#fec857" stroke="#fec857" stroke-width="0.9"/>
<polygon points="456.3,236.8 472.8,240.6 469.0,257.0 452.6,253.3" fill="#feb23f" stroke="#feb23f" stroke-width="0.9"/>
<polygon points="472.8,240.6 489.2,244.3 485.5,260.8 469.0,257.0" fill="#fd9828" stroke="#fd9828" stroke-width="0.9"/>
<polygon points="489.2,244.3 505.7,248.1 501.9,264.5 485.5,260.8" fill="#ed7215" stroke="#ed7215" stroke-width="0.9"/>
<polygon points="505.7,248.1 522.1,251.8 518.4,268.3 501.9,264.5" fill="#df620d" stroke="#df620d" stroke-width="0.9"/>
<polygon points="522.1,251.8 538.6,255.6 534.8,272.0 518.4,268.3" fill="#d05004" stroke="#d05004" stroke-width="0.9"/>
<polygon points="538.6,255.6 555.0,259.3 551.3,275.8 534.8,272.0" fill="#b24003" stroke="#b24003" stroke-width="0.9"/>
<polygon points="555.0,259.3 571.5,263.1 567.7,279.5 551.3,275.8" fill="#973304" stroke="#973304" stroke-width="0.9"/>
<polygon points="571.5,263.1 587.9,266.8 584.2,283.3 567.7,279.5" fill="#8d3004" stroke="#8d3004" stroke-width="0.9"/>
<polygon points="587.9,266.8 604.4,270.6 600.6,287.0 584.2,283.3" fill="#903104" stroke="#903104" stroke-width="0.9"/>
<polygon points="604.4,270.6 620.8,274.4 617.0,290.8 600.6,287.0" fill="#b94303" stroke="#b94303" stroke-width="0.9"/>
<path d="M385.4,132.0 C387.6,130.7 391.7,130.4 394.1,130.0 C396.6,129.6 397.4,129.3 400.1,129.5 C402.8,129.7 406.9,130.7 410.2,131.4 C413.5,132.2 417.4,132.8 420.2,134.0 C423.0,135.2 425.0,137.1 426.9,138.7 C428.8,140.3 430.6,141.4 431.8,143.6 C433.0,145.8 433.9,148.0 434.3,151.7 C434.7,155.4 434.7,161.7 434.3,166.0 C433.9,170.3 432.1,173.7 432.0,177.5 C431.9,181.3 432.6,185.5 433.6,189.0 C434.7,192.5 436.1,195.7 438.3,198.5 C440.5,201.3 444.3,203.7 446.8,206.0 C449.3,208.3 451.7,210.2 453.5,212.5 C455.3,214.8 456.6,217.1 457.5,219.5 C458.4,221.9 458.5,224.3 458.6,227.0 C458.7,229.7 458.8,232.9 458.0,235.4 C457.2,237.9 455.8,240.2 454.1,242.1 C452.5,244.0 449.8,245.7 448.1,246.8 C446.4,248.0 447.9,249.8 444.0,249.0 C440.1,248.2 431.6,244.8 425.0,242.0 C418.4,239.2 409.0,235.0 404.6,231.9 C400.2,228.8 400.7,225.5 398.8,223.3 C396.9,221.2 397.3,220.3 393.1,219.0 C388.9,217.7 377.6,216.9 373.5,215.4 C369.4,213.9 369.6,212.6 368.8,210.1 C368.0,207.6 369.3,203.6 368.6,200.5 C367.9,197.4 365.2,194.3 364.6,191.5 C364.0,188.7 364.4,186.8 364.8,183.4 C365.2,180.0 366.3,174.9 367.3,171.0 C368.3,167.1 369.6,163.2 370.6,160.0 C371.7,156.8 372.6,154.4 373.6,152.0 C374.6,149.6 375.6,147.7 376.8,145.4 C378.0,143.1 379.4,140.3 380.8,138.1 C382.2,135.9 383.2,133.3 385.4,132.0 Z" fill="none" stroke="#333" stroke-width="6.3" stroke-linejoin="round"/>
<path d="M279.8,32.1 L420.1,32.1 L420.1,33.0 L417.4,34.7 L414.7,36.7 L411.4,38.7 L410.4,40.7 L412.1,43.4 L413.4,46.7 L414.1,50.0 L412.1,53.4 L410.7,54.7 L409.4,52.7 L408.7,50.0 L406.7,47.4 L403.4,43.4 L400.7,42.7 L399.7,45.4 L401.4,48.7 L400.0,52.0 L402.0,56.7 L401.4,61.4 L402.7,64.1 L407.4,64.7 L409.4,66.7 L410.7,70.1 L411.4,75.4 L412.7,79.4 L412.7,83.4 L413.4,86.8 L416.1,90.1 L418.1,93.5 L418.7,96.8 L421.4,98.8 L426.8,100.8 L428.1,103.5 L427.4,110.2 L426.8,116.8 L426.1,124.9 L423.5,120.0 L420.9,115.3 L418.2,112.7 L414.8,114.0 L410.2,112.7 L405.5,115.3 L400.8,114.7 L396.8,116.0 L393.5,115.3 L389.5,114.7 L390.8,119.4 L392.1,123.4 L393.1,134.7 L390.1,130.7 L387.4,127.4 L382.8,125.0 L379.4,126.0 L376.8,124.4 L372.8,124.4 L372.8,130.0 L374.1,132.7 L372.8,136.7 L374.8,140.1 L374.1,143.4 L370.1,145.4 L370.7,147.4 L372.8,150.1 L370.7,156.8 L369.4,162.1 L366.1,161.4 L363.4,162.8 L362.7,166.8 L362.1,173.5 L361.4,180.1 L360.1,186.8 L359.5,188.7 L358.8,192.0 L360.1,195.4 L356.8,198.1 L354.1,198.1 L350.8,196.1 L349.5,201.4 L347.4,208.1 L343.4,212.1 L340.8,210.1 L341.4,187.4 L338.8,182.7 L335.4,191.4 L328.1,198.1 L330.1,202.1 L334.1,210.1 L324.7,206.1 L322.7,216.8 L322.1,222.1 L330.1,220.8 L344.8,219.8 L346.8,223.4 L360.8,222.8 L361.5,226.1 L370.2,223.4 L380.0,226.1 L386.7,228.7 L393.4,229.4 L400.0,230.7 L408.1,232.1 L408.7,236.8 L410.7,234.1 L417.4,234.1 L426.8,235.4 L430.1,238.1 L430.8,243.4 L429.4,250.1 L433.4,248.8 L436.8,248.1 L438.8,244.8 L445.5,246.1 L446.1,250.1 L445.5,256.8 L444.8,264.1 L440.1,265.5 L433.4,264.1 L420.1,260.8 L406.7,258.8 L390.0,257.8 L376.8,255.4 L356.8,251.4 L340.8,248.7 L340.8,250.0 L340.8,260.1 L340.1,266.7 L338.1,276.8 L336.8,282.1 L338.8,285.4 L338.1,288.1 L342.8,290.1 L343.4,296.1 L337.4,296.8 L340.8,304.8 L337.4,313.5 L338.1,318.2 L346.1,320.2 L347.0,320.9 L279.8,320.9 Z" fill="#bfbfbf" stroke="#000" stroke-width="1.3" stroke-linejoin="round"/>
<path d="M324.1,244.0 L336.1,248.7 L332.8,251.4 L332.8,256.7 L333.4,263.4 L327.4,255.4 L322.7,256.7 L326.1,251.4 Z" fill="#fff" stroke="#000" stroke-width="1.3" stroke-linejoin="round"/>
<path d="M426.8,32.1 L459.5,32.1 L461.5,34.0 L462.2,36.0 L460.2,38.7 L456.8,42.7 L454.8,42.7 L450.1,41.4 L443.5,39.4 L436.8,36.7 L430.8,34.7 Z" fill="#bfbfbf" stroke="#000" stroke-width="1.3" stroke-linejoin="round"/>
<path d="M281.0,7.2 L283.7,36.8 L286.4,66.4 L289.0,96.0 L291.7,125.6 L294.3,155.2 L297.0,184.7 L299.7,214.2 L302.3,243.8 L305.0,273.3 L307.6,302.8 L310.3,332.2 M363.8,1.2 L365.4,30.9 L367.1,60.6 L368.7,90.3 L370.3,119.9 L371.9,149.6 L373.6,179.2 L375.2,208.8 L376.8,238.4 L378.4,268.0 L380.0,297.5 L381.7,327.1 M446.7,-1.9 L447.3,27.9 L447.9,57.6 L448.5,87.3 L449.1,117.0 L449.7,146.7 L450.3,176.3 L450.8,206.0 L451.4,235.6 L452.0,265.2 L452.6,294.8 L453.2,324.4 M529.7,-2.0 L529.3,27.7 L528.8,57.4 L528.4,87.1 L527.9,116.8 L527.5,146.5 L527.0,176.1 L526.6,205.8 L526.1,235.4 L525.7,265.0 L525.2,294.6 L524.8,324.2 M612.6,0.6 L611.2,30.3 L609.7,60.0 L608.2,89.7 L606.7,119.4 L605.2,149.0 L603.7,178.6 L602.3,208.2 L600.8,237.8 L599.3,267.4 L597.8,297.0 L596.3,326.6 M695.4,6.2 L692.9,35.9 L690.4,65.5 L687.9,95.1 L685.3,124.7 L682.8,154.2 L680.3,183.8 L677.8,213.3 L675.3,242.9 L672.8,272.4 L670.3,301.9 L667.8,331.4 M222.6,43.1 L242.9,40.9 L263.3,38.8 L283.7,36.8 L304.1,35.1 L324.5,33.5 L345.0,32.1 L365.4,30.9 L385.9,29.9 L406.4,29.0 L426.8,28.4 L447.3,27.9 L467.8,27.6 L488.3,27.4 L508.8,27.5 L529.3,27.7 L549.7,28.1 L570.2,28.7 L590.7,29.4 L611.2,30.3 L631.6,31.5 L652.1,32.8 L672.5,34.2 L692.9,35.9 L713.3,37.7 L733.7,39.7 L754.1,41.9 L774.4,44.2 M228.3,92.3 L248.2,90.1 L268.2,88.1 L288.1,86.2 L308.1,84.5 L328.1,82.9 L348.1,81.6 L368.1,80.4 L388.2,79.4 L408.2,78.5 L428.2,77.9 L448.3,77.4 L468.3,77.1 L488.4,77.0 L508.5,77.0 L528.5,77.2 L548.6,77.6 L568.6,78.2 L588.6,78.9 L608.7,79.8 L628.7,80.9 L648.7,82.2 L668.7,83.6 L688.7,85.2 L708.7,87.0 L728.6,89.0 L748.6,91.1 L768.5,93.4 M234.0,141.5 L253.5,139.3 L273.0,137.3 L292.6,135.5 L312.1,133.8 L331.7,132.3 L351.3,131.0 L370.8,129.8 L390.4,128.8 L410.1,128.0 L429.7,127.4 L449.3,126.9 L468.9,126.6 L488.5,126.4 L508.1,126.5 L527.8,126.7 L547.4,127.1 L567.0,127.6 L586.6,128.3 L606.2,129.2 L625.8,130.3 L645.4,131.5 L665.0,133.0 L684.5,134.5 L704.1,136.3 L723.6,138.2 L743.1,140.3 L762.6,142.5 M239.7,190.6 L258.8,188.5 L277.9,186.5 L297.0,184.7 L316.1,183.1 L335.3,181.6 L354.4,180.3 L373.6,179.2 L392.7,178.2 L411.9,177.4 L431.1,176.8 L450.3,176.3 L469.4,176.0 L488.6,175.9 L507.8,175.9 L527.0,176.1 L546.2,176.5 L565.4,177.0 L584.6,177.8 L603.7,178.6 L622.9,179.7 L642.0,180.9 L661.2,182.3 L680.3,183.8 L699.4,185.5 L718.5,187.4 L737.6,189.4 L756.7,191.6 M245.4,239.7 L264.1,237.6 L282.7,235.7 L301.4,233.9 L320.1,232.3 L338.8,230.9 L357.5,229.6 L376.3,228.5 L395.0,227.6 L413.7,226.8 L432.5,226.2 L451.2,225.7 L470.0,225.4 L488.8,225.3 L507.5,225.3 L526.3,225.5 L545.0,225.9 L563.8,226.4 L582.5,227.1 L601.3,228.0 L620.0,229.0 L638.7,230.2 L657.4,231.5 L676.1,233.0 L694.8,234.7 L713.5,236.5 L732.1,238.5 L750.8,240.7 M251.1,288.7 L269.4,286.7 L287.6,284.8 L305.8,283.1 L324.1,281.5 L342.4,280.1 L360.7,278.9 L379.0,277.8 L397.3,276.9 L415.6,276.1 L433.9,275.5 L452.2,275.1 L470.5,274.8 L488.9,274.7 L507.2,274.7 L525.5,274.9 L543.9,275.3 L562.2,275.8 L580.5,276.5 L598.8,277.3 L617.1,278.3 L635.4,279.4 L653.7,280.8 L671.9,282.2 L690.2,283.9 L708.4,285.7 L726.7,287.6 L744.9,289.7" fill="none" stroke="#000" stroke-opacity="0.42" stroke-width="1" stroke-dasharray="2.2 6.5"/>
</g>
<line x1="375" y1="62.5" x2="655" y2="126.4" stroke="#ffff00" stroke-width="6.6" stroke-dasharray="26.5 26" stroke-dashoffset="45.3"/>
<line x1="655" y1="126.4" x2="617.6" y2="290.2" stroke="#ffff00" stroke-width="6.6" stroke-dasharray="26.5 26" stroke-dashoffset="0.0"/>
<line x1="617.6" y1="290.2" x2="337.6" y2="226.3" stroke="#ffff00" stroke-width="6.6" stroke-dasharray="26.5 26" stroke-dashoffset="13.5"/>
<line x1="337.6" y1="226.3" x2="375" y2="62.5" stroke="#ffff00" stroke-width="6.6" stroke-dasharray="26.5 26" stroke-dashoffset="34.5"/>
<rect x="279.8" y="32.1" width="432.8" height="288.8" fill="none" stroke="#000" stroke-width="1.5"/>
<line x1="283.3" y1="32.1" x2="283.3" y2="35.6" stroke="#000" stroke-width="1.3"/>
<line x1="309.2" y1="320.9" x2="309.2" y2="317.4" stroke="#000" stroke-width="1.3"/>
<line x1="365.5" y1="32.1" x2="365.5" y2="35.6" stroke="#000" stroke-width="1.3"/>
<line x1="381.3" y1="320.9" x2="381.3" y2="317.4" stroke="#000" stroke-width="1.3"/>
<line x1="447.4" y1="32.1" x2="447.4" y2="35.6" stroke="#000" stroke-width="1.3"/>
<line x1="453.1" y1="320.9" x2="453.1" y2="317.4" stroke="#000" stroke-width="1.3"/>
<line x1="529.2" y1="32.1" x2="529.2" y2="35.6" stroke="#000" stroke-width="1.3"/>
<line x1="524.8" y1="320.9" x2="524.8" y2="317.4" stroke="#000" stroke-width="1.3"/>
<line x1="611.1" y1="32.1" x2="611.1" y2="35.6" stroke="#000" stroke-width="1.3"/>
<line x1="596.6" y1="320.9" x2="596.6" y2="317.4" stroke="#000" stroke-width="1.3"/>
<line x1="693.2" y1="32.1" x2="693.2" y2="35.6" stroke="#000" stroke-width="1.3"/>
<line x1="668.6" y1="320.9" x2="668.6" y2="317.4" stroke="#000" stroke-width="1.3"/>
<line x1="279.8" y1="37.2" x2="283.3" y2="37.2" stroke="#000" stroke-width="1.3"/>
<line x1="712.6" y1="37.6" x2="709.1" y2="37.6" stroke="#000" stroke-width="1.3"/>
<line x1="279.8" y1="86.9" x2="283.3" y2="86.9" stroke="#000" stroke-width="1.3"/>
<line x1="712.6" y1="87.4" x2="709.1" y2="87.4" stroke="#000" stroke-width="1.3"/>
<line x1="279.8" y1="136.6" x2="283.3" y2="136.6" stroke="#000" stroke-width="1.3"/>
<line x1="712.6" y1="137.1" x2="709.1" y2="137.1" stroke="#000" stroke-width="1.3"/>
<line x1="279.8" y1="186.3" x2="283.3" y2="186.3" stroke="#000" stroke-width="1.3"/>
<line x1="712.6" y1="186.8" x2="709.1" y2="186.8" stroke="#000" stroke-width="1.3"/>
<line x1="279.8" y1="236" x2="283.3" y2="236" stroke="#000" stroke-width="1.3"/>
<line x1="712.6" y1="236.5" x2="709.1" y2="236.5" stroke="#000" stroke-width="1.3"/>
<line x1="279.8" y1="285.6" x2="283.3" y2="285.6" stroke="#000" stroke-width="1.3"/>
<line x1="712.6" y1="286.1" x2="709.1" y2="286.1" stroke="#000" stroke-width="1.3"/>
<text x="292" y="65.7" font-size="30" text-anchor="start" fill="#000">Mode 3</text>
<text x="291.5" y="101.7" font-size="30.5" text-anchor="start" fill="#000">22.4%</text>
<text x="270.3" y="49.5" font-size="30" text-anchor="end" fill="#000">74°S</text>
<text x="270.3" y="99.2" font-size="30" text-anchor="end" fill="#000">20'</text>
<text x="270.3" y="148.9" font-size="30" text-anchor="end" fill="#000">40'</text>
<text x="270.3" y="198.6" font-size="30" text-anchor="end" fill="#000">75°S</text>
<text x="270.3" y="248.3" font-size="30" text-anchor="end" fill="#000">20'</text>
<text x="270.3" y="297.9" font-size="30" text-anchor="end" fill="#000">40'</text>
</g>
<defs><linearGradient id="cbA" x1="0" y1="1" x2="0" y2="0">
<stop offset="0.000" stop-color="#fff7bc"/>
<stop offset="0.025" stop-color="#fff4b4"/>
<stop offset="0.050" stop-color="#fff0ad"/>
<stop offset="0.075" stop-color="#feeca5"/>
<stop offset="0.100" stop-color="#fee99e"/>
<stop offset="0.125" stop-color="#fee696"/>
<stop offset="0.150" stop-color="#fee18e"/>
<stop offset="0.175" stop-color="#fedc82"/>
<stop offset="0.200" stop-color="#fed777"/>
<stop offset="0.225" stop-color="#fed16b"/>
<stop offset="0.250" stop-color="#fecc60"/>
<stop offset="0.275" stop-color="#fec654"/>
<stop offset="0.300" stop-color="#fec04b"/>
<stop offset="0.325" stop-color="#feb845"/>
<stop offset="0.350" stop-color="#feb13e"/>
<stop offset="0.375" stop-color="#fea937"/>
<stop offset="0.400" stop-color="#fea231"/>
<stop offset="0.425" stop-color="#fe9a2a"/>
<stop offset="0.450" stop-color="#fb9326"/>
<stop offset="0.475" stop-color="#f88c22"/>
<stop offset="0.500" stop-color="#f5841e"/>
<stop offset="0.525" stop-color="#f27d1b"/>
<stop offset="0.550" stop-color="#ef7617"/>
<stop offset="0.575" stop-color="#eb6f14"/>
<stop offset="0.600" stop-color="#e66910"/>
<stop offset="0.625" stop-color="#e0620d"/>
<stop offset="0.650" stop-color="#da5c0a"/>
<stop offset="0.675" stop-color="#d55607"/>
<stop offset="0.700" stop-color="#cf5004"/>
<stop offset="0.725" stop-color="#c84a02"/>
<stop offset="0.750" stop-color="#bf4602"/>
<stop offset="0.775" stop-color="#b64203"/>
<stop offset="0.800" stop-color="#ad3e03"/>
<stop offset="0.825" stop-color="#a43904"/>
<stop offset="0.850" stop-color="#9c3504"/>
<stop offset="0.875" stop-color="#933204"/>
<stop offset="0.900" stop-color="#8a3005"/>
<stop offset="0.925" stop-color="#812d05"/>
<stop offset="0.950" stop-color="#782a05"/>
<stop offset="0.975" stop-color="#6f2806"/>
<stop offset="1.000" stop-color="#662506"/>
</linearGradient></defs>
<rect x="798.6" y="340.5" width="20.7" height="280.3" fill="url(#cbA)" stroke="#262626" stroke-width="1.3"/>
<line x1="819.3" y1="595.3" x2="815.8" y2="595.3" stroke="#262626" stroke-width="1.3"/>
<text x="833.5" y="606.8" font-size="30" text-anchor="start" fill="#262626">0</text>
<line x1="819.3" y1="467.9" x2="815.8" y2="467.9" stroke="#262626" stroke-width="1.3"/>
<text x="833.5" y="479.4" font-size="30" text-anchor="start" fill="#262626">0.5</text>
<line x1="819.3" y1="340.5" x2="815.8" y2="340.5" stroke="#262626" stroke-width="1.3"/>
<text x="833.5" y="352" font-size="30" text-anchor="start" fill="#262626">1</text>
<text x="914.5" y="480.5" font-size="30" text-anchor="middle" fill="#000" transform="rotate(-90 914.5 480.5)">Factor Loading</text>
<polyline points="967.6,405.7 967.6,394.4 975.7,394.4" fill="none" stroke="#ffff00" stroke-width="7.5" stroke-linejoin="round" stroke-linecap="butt"/>
<polyline points="994.9,394.4 1013.9,394.4" fill="none" stroke="#ffff00" stroke-width="7.5" stroke-linejoin="round" stroke-linecap="butt"/>
<polyline points="1032.8,394.4 1051.8,394.4" fill="none" stroke="#ffff00" stroke-width="7.5" stroke-linejoin="round" stroke-linecap="butt"/>
<polyline points="1070.6,394.4 1089.8,394.4" fill="none" stroke="#ffff00" stroke-width="7.5" stroke-linejoin="round" stroke-linecap="butt"/>
<polyline points="1092.0,411.0 1092.0,432.4 1072.9,432.4" fill="none" stroke="#ffff00" stroke-width="7.5" stroke-linejoin="round" stroke-linecap="butt"/>
<polyline points="1035.0,432.4 1054.2,432.4" fill="none" stroke="#ffff00" stroke-width="7.5" stroke-linejoin="round" stroke-linecap="butt"/>
<polyline points="997.0,432.4 1016.3,432.4" fill="none" stroke="#ffff00" stroke-width="7.5" stroke-linejoin="round" stroke-linecap="butt"/>
<polyline points="978.3,432.4 967.6,432.4 967.6,423.8" fill="none" stroke="#ffff00" stroke-width="7.5" stroke-linejoin="round" stroke-linecap="butt"/>
<rect x="968.3" y="498.5" width="124.3" height="38.5" fill="none" stroke="#333" stroke-width="6.6" stroke-linejoin="round"/>
<text x="1120.4" y="402.8" font-size="30.6" text-anchor="start" fill="#000">Potentially Affected</text>
<text x="1120.4" y="440" font-size="30.6" text-anchor="start" fill="#000">region</text>
<text x="1120.4" y="508.4" font-size="30.6" text-anchor="start" fill="#000">Average position</text>
<text x="1120.4" y="545.7" font-size="30.6" text-anchor="start" fill="#000">of TNBP</text>
<polyline points="93.2,780.1 95.8,782.3 98.7,767.8 102.1,756.6 104.3,745.5 108.3,744.4 111.0,723.2 114.4,714.2 115.9,708.7 118.8,712.0 122.2,731.0 125.5,742.1 130.0,758.9 134.4,762.2 138.9,754.4 142.2,758.9 146.7,771.1 148.9,763.3 153.4,761.1 157.9,764.4 162.3,775.6 165.7,780.1 167.9,776.7 171.2,785.6 174.6,795.7 179.1,784.5 182.8,793.4 186.9,787.9 192.4,780.1 196.9,786.8 200.2,783.4 203.6,786.8 206.9,781.2 210.3,770.0 213.6,763.3 218.1,768.9 222.6,776.7 228.1,767.8 231.5,775.6 235.9,775.6 239.3,777.8 242.6,767.8 247.1,776.7 251.6,783.4 256.0,783.4 260.5,787.9 263.8,787.9 269.4,816.9 275.0,805.7 280.6,795.7 286.1,807.9 290.6,803.5 295.1,810.2 299.5,822.5 302.9,822.5 306.2,816.9 309.6,825.8 312.9,813.5 316.3,805.7 321.8,804.6 326.3,794.6 328.5,780.1 331.9,780.1 335.2,790.1 340.8,786.8 346.4,782.3 353.1,770.0 358.7,762.2 363.1,761.1 367.6,754.4 372.0,757.7 376.5,758.9 382.1,753.3 385.4,758.9 388.8,778.9 391.0,781.2 393.2,772.2 396.6,780.1 403.3,789.0" fill="none" stroke="#b31b1b" stroke-width="3.3" stroke-linejoin="round" stroke-linecap="round"/>
<polyline points="94.3,764.4 99.8,747.7 106.5,734.3 115.5,723.2 123.3,716.5 131.1,704.2 137.8,697.5 144.5,691.9 152.3,662.9 157.9,667.4 164.6,675.2 173.5,684.1 180.2,685.2 186.9,698.6 195.8,714.2 203.6,727.6 210.3,735.4 215.9,731.0 223.7,731.0 229.3,725.4 235.9,719.8 241.5,717.6 246.0,719.8 251.6,729.9 258.3,738.8 265.0,748.8 270.5,757.7 276.1,770.0 281.7,775.6 286.1,783.4 294.0,791.2 301.8,802.4 308.5,803.5 316.3,807.9 324.1,812.4 329.7,816.9 338.6,818.0 345.3,813.5 352.0,812.4 358.7,809.1 367.6,811.3 374.3,811.3 381.0,812.9 387.7,811.3 393.2,813.5 397.7,812.9 403.3,816.9" fill="none" stroke="#1a1ab4" stroke-width="3.4" stroke-linejoin="round" stroke-linecap="round"/>
<polyline points="424.3,819.1 428.7,818.0 437.7,816.9 441.0,822.5 444.4,828.0 447.7,818.0 451.0,823.6 454.4,814.6 456.6,802.4 460.0,800.1 463.3,801.3 466.7,796.8 469.6,789.0 472.2,793.4 475.6,796.8 480.0,813.5 483.4,813.5 487.9,822.5 491.2,813.5 495.7,809.1 497.9,812.4 501.2,805.7 503.5,799.0 506.8,804.6 510.2,796.8 513.5,799.0 515.7,811.3 519.1,813.5 521.3,811.3 524.7,819.1 528.0,826.9 531.4,818.0 534.7,832.5 538.1,834.7 541.4,844.8 544.8,841.4 548.1,833.6 551.4,840.3 554.8,838.1 559.3,843.6 562.6,839.2 565.9,833.6 570.4,834.7 574.9,834.7 577.1,844.8 580.5,830.3 583.8,823.6 586.0,814.6 588.3,826.9 590.5,825.8 593.8,810.2 597.2,794.6 600.5,785.6 603.9,787.9 608.3,800.1 610.6,787.9 612.8,776.7 616.1,775.6 619.5,778.9 622.8,772.2 626.2,770.0 629.5,765.6 631.8,755.5 634.0,738.8 636.2,734.3 638.5,720.9 641.8,718.7 644.0,722.0 646.3,698.6 650.7,698.6 653.0,695.3 658.5,697.5 661.9,690.8 665.2,680.8 667.5,673.0 670.8,685.2 674.2,683.0 678.6,677.4 682.0,683.0 686.4,681.9 690.9,685.2 695.4,698.6 698.7,714.2 702.0,723.2 705.4,741.0 708.7,752.2 712.1,768.9 715.4,766.7 718.8,756.6 721.0,765.6 724.4,772.2 726.6,781.2 729.9,792.3 732.2,800.1 734.4,785.6" fill="none" stroke="#b31b1b" stroke-width="3.3" stroke-linejoin="round" stroke-linecap="round"/>
<polyline points="424.3,822.5 431.0,820.2 436.5,810.2 445.5,800.1 453.3,794.6 460.0,789.0 468.9,789.0 474.5,792.3 481.2,796.8 489.0,800.1 494.6,806.8 501.2,814.6 507.9,821.3 515.7,831.4 521.3,834.3 531.4,837.0 539.2,834.7 548.1,835.8 559.3,838.1 568.2,834.7 581.6,832.5 588.3,830.3 595.0,824.7 601.6,813.5 608.3,806.8 615.0,799.0 621.7,790.1 629.5,782.3 635.1,775.6 640.7,770.0 648.5,760.0 657.4,749.9 664.1,743.2 668.6,745.5 674.2,754.4 683.1,770.0 694.2,785.6 700.9,793.4 706.5,805.7 712.1,819.1 716.5,830.3 721.0,837.0 726.6,834.7 733.3,829.1" fill="none" stroke="#1a1ab4" stroke-width="3.4" stroke-linejoin="round" stroke-linecap="round"/>
<polyline points="754.3,819.1 759.8,816.9 763.2,820.2 766.5,812.9 769.9,813.1 772.1,807.9 775.5,812.4 779.9,818.7 784.4,812.9 788.9,810.2 792.2,801.3 794.4,793.4 798.9,792.3 802.2,785.6 805.6,782.3 808.9,768.9 813.4,768.5 816.7,770.0 819.0,772.2 822.3,763.3 825.7,766.7 829.0,764.4 832.4,765.6 835.7,758.9 839.1,751.1 843.5,755.5 846.9,756.6 851.3,763.3 854.7,771.1 858.0,775.6 861.4,783.4 864.7,790.1 869.2,795.7 873.6,796.8 878.1,802.4 881.4,806.8 885.9,802.4 890.4,807.9 893.7,806.8 898.2,807.9 902.6,811.3 907.1,818.0 911.6,830.3 916.0,835.8 920.5,829.1 922.7,822.5 927.2,832.5 931.6,826.9 936.1,830.3 939.5,828.0 943.9,834.7 947.3,843.6 950.6,843.6 954.0,830.3 957.3,820.2 960.7,823.6 964.0,807.9 968.5,805.7 972.9,795.7 976.3,803.5 980.7,799.0 984.1,795.7 987.4,793.4 990.8,792.3 995.2,792.3 1000.8,789.0 1004.2,784.5 1006.4,777.8 1008.6,770.0 1012.0,783.4 1015.3,801.3 1018.7,814.6 1022.0,806.8 1025.4,815.8 1028.7,810.2 1032.0,813.5 1035.4,801.3 1038.7,794.6 1043.2,790.1 1047.7,774.5 1051.0,777.8 1054.4,770.0 1057.7,768.9 1061.1,763.3 1064.4,770.0" fill="none" stroke="#b31b1b" stroke-width="3.3" stroke-linejoin="round" stroke-linecap="round"/>
<polyline points="754.3,821.3 764.3,824.7 771.0,822.5 779.9,814.6 788.9,805.7 796.7,796.8 804.5,790.5 813.4,786.8 824.6,785.0 833.5,786.1 840.2,784.5 845.7,789.0 851.3,794.1 856.9,795.7 866.9,793.4 873.6,790.1 878.1,786.8 885.9,786.1 891.5,788.3 902.6,791.2 911.6,791.7 918.3,795.7 925.0,801.3 929.4,802.4 936.1,807.9 942.8,812.4 947.3,815.8 952.8,816.4 960.7,812.4 967.3,805.7 974.0,798.6 983.0,794.6 991.9,793.4 998.6,794.6 1006.4,790.1 1013.1,794.1 1020.9,801.3 1027.6,810.2 1034.3,819.1 1041.0,823.6 1047.7,823.6 1054.4,816.9 1063.3,807.9" fill="none" stroke="#1a1ab4" stroke-width="3.4" stroke-linejoin="round" stroke-linecap="round"/>
<polyline points="1084.3,819.1 1087.6,814.6 1089.8,806.8 1093.2,818.0 1096.5,831.4 1099.9,832.5 1103.2,833.6 1106.6,828.0 1109.9,834.7 1113.3,838.1 1116.6,835.8 1120.0,831.4 1124.4,830.3 1127.8,824.7 1130.0,830.3 1132.2,825.8 1135.6,823.6 1138.9,820.2 1142.3,818.0 1145.2,811.3 1147.9,819.1 1150.1,829.1 1153.4,829.1 1156.8,830.3 1161.2,819.1 1164.6,824.7 1169.1,820.2 1174.6,821.3 1179.1,825.8 1183.6,831.4 1188.0,824.7 1191.4,816.9 1194.7,828.0 1198.1,823.6 1201.4,829.1 1205.9,832.5 1210.3,828.0 1214.8,825.8 1219.3,831.4 1223.7,823.6 1228.2,823.6 1232.6,823.6 1238.2,821.3 1241.6,828.0 1246.0,832.5 1250.5,840.3 1255.0,831.4 1259.4,825.8 1263.9,830.3 1268.3,830.3 1272.8,832.5 1277.3,826.9 1282.8,828.0 1287.3,824.7 1291.8,824.7 1297.3,821.3 1300.7,811.3 1304.0,805.7 1306.3,801.3 1309.6,802.4 1313.0,813.5 1317.4,815.8 1323.0,814.6 1327.5,819.1 1331.9,819.1 1336.4,824.7 1342.0,829.1 1347.5,826.9 1353.1,823.6 1356.5,830.3 1360.9,826.9 1365.4,828.0 1369.9,814.6 1373.2,807.9 1376.5,813.5 1381.0,807.9 1384.4,806.8 1388.8,805.7 1393.3,800.1" fill="none" stroke="#b31b1b" stroke-width="3.3" stroke-linejoin="round" stroke-linecap="round"/>
<polyline points="1084.3,815.8 1089.8,823.6 1096.5,825.8 1105.5,823.6 1112.2,822.5 1118.9,819.5 1127.8,818.0 1138.9,815.8 1145.6,816.9 1152.3,822.5 1161.2,826.9 1167.9,831.4 1179.1,832.5 1188.0,829.1 1196.9,824.7 1205.9,812.4 1214.8,805.7 1223.7,801.7 1234.9,799.7 1246.0,801.7 1257.2,805.7 1266.1,808.4 1275.0,811.7 1284.0,812.4 1290.7,814.6 1297.3,818.0 1304.0,816.9 1310.7,810.2 1317.4,803.9 1324.1,799.0 1329.7,790.1 1335.3,778.9 1344.2,771.1 1350.9,761.1 1355.4,754.4 1362.0,749.9 1368.7,754.4 1376.5,761.1 1384.4,770.0 1388.8,780.1 1393.3,789.0" fill="none" stroke="#1a1ab4" stroke-width="3.4" stroke-linejoin="round" stroke-linecap="round"/>
<polyline points="94.3,1015.1 97.6,1022.9 102.1,1017.4 105.4,1015.1 108.8,1010.0 113.2,1008.4 116.6,1007.3 119.9,1009.6 124.4,1014.0 128.9,1016.3 131.1,1018.5 134.4,1017.4 138.9,1017.4 142.2,1016.3 146.7,1021.8 150.0,1016.3 152.9,1011.3 156.7,1014.0 160.1,1018.5 163.4,1022.9 166.8,1019.6 170.1,1026.3 173.5,1033.0 176.8,1035.2 179.1,1029.6 181.3,1035.2 184.6,1033.0 188.0,1033.0 191.3,1034.1 194.7,1029.6 196.9,1031.9 200.2,1040.8 203.6,1041.9 206.9,1041.9 210.3,1046.4 215.9,1043.0 218.1,1049.7 220.3,1055.3 222.6,1052.0 225.9,1058.6 229.3,1047.5 232.6,1035.2 235.9,1034.1 239.3,1025.2 242.6,1011.8 247.1,1016.3 250.5,1017.4 253.8,1021.8 257.1,1018.5 260.5,1015.1 265.0,1014.0 268.3,1008.4 271.6,1010.7 275.0,1007.3 278.3,989.5 281.7,976.1 286.1,978.3 289.5,972.7 292.8,975.0 296.2,987.2 299.5,998.4 302.4,1011.8 304.0,1000.6 308.5,999.5 311.8,989.5 315.2,973.9 318.5,959.4 321.8,956.5 325.2,960.5 328.5,962.7 330.8,968.3 333.0,963.8 335.2,967.2 338.6,982.8 343.0,997.3 346.4,1000.6 349.7,1011.8 353.1,1017.4 356.4,1017.4 359.8,1014.0 362.0,1020.7 365.4,1025.2 367.6,1022.9 370.9,1031.9 374.3,1049.7 377.6,1063.1 379.9,1062.0 383.2,1033.0 386.5,1011.8 389.9,997.3 392.1,993.9 395.5,998.4 398.8,996.2 403.3,995.1" fill="none" stroke="#b31b1b" stroke-width="3.3" stroke-linejoin="round" stroke-linecap="round"/>
<polyline points="94.3,1044.1 97.6,1044.1 104.3,1038.6 109.9,1030.8 115.5,1022.9 122.2,1019.6 128.9,1017.4 135.5,1017.4 142.2,1018.0 148.9,1021.8 155.6,1027.4 162.3,1035.2 167.9,1044.1 173.5,1053.1 180.2,1056.0 188.0,1056.4 195.8,1055.3 203.6,1053.7 211.4,1053.1 218.1,1047.5 224.8,1041.9 231.5,1034.1 238.2,1027.4 244.9,1018.5 251.6,1015.1 260.5,1014.0 269.4,1014.0 273.9,1016.3 280.6,1018.0 289.5,1022.9 297.3,1026.3 304.0,1029.6 309.6,1024.1 316.3,1018.0 323.0,1018.9 329.7,1021.8 336.3,1024.1 343.0,1027.4 349.7,1029.2 355.3,1030.1 362.0,1035.2 367.6,1041.9 373.2,1049.7 378.7,1054.2 384.3,1049.7 389.9,1041.9 396.6,1030.8 403.3,1022.9" fill="none" stroke="#1a1ab4" stroke-width="3.4" stroke-linejoin="round" stroke-linecap="round"/>
<polyline points="424.3,1044.1 427.6,1039.7 431.0,1040.8 435.4,1048.6 439.9,1044.1 443.2,1041.9 447.7,1048.6 451.0,1043.0 454.4,1041.9 457.7,1046.4 462.2,1039.7 466.7,1033.0 471.1,1033.0 475.6,1033.0 478.9,1028.5 483.4,1026.3 489.0,1029.6 491.2,1025.2 494.6,1015.1 497.9,1017.4 501.2,1024.1 504.6,1017.4 507.9,1011.8 512.4,1014.0 515.7,1007.3 519.1,1007.3 522.4,1009.6 525.8,1016.3 529.1,1001.8 532.5,1008.4 536.9,1012.9 540.3,1008.4 542.5,1002.9 545.9,1009.6 549.2,1009.6 552.6,1020.7 555.9,1019.6 558.1,1022.9 561.5,1015.1 565.9,1015.1 570.4,1012.9 574.9,1015.1 579.3,1014.0 583.8,1007.3 588.3,1024.1 591.6,1016.3 595.0,1015.1 598.3,1022.9 600.5,1033.0 603.9,1026.3 608.3,1020.7 612.8,1019.6 616.1,1026.3 619.5,1031.9 624.0,1038.6 628.4,1038.6 632.9,1047.5 636.2,1035.2 639.6,1034.1 642.9,1038.6 645.2,1034.1 648.5,1041.9 651.8,1031.9 656.3,1030.8 659.7,1029.6 663.0,1026.3 665.2,1035.2 668.6,1040.8 671.9,1043.0 675.3,1034.1 678.6,1020.7 682.0,999.5 685.3,998.4 687.5,1005.1 690.9,990.6 694.2,1000.6 697.6,1009.6 699.8,1001.8 703.2,1008.4 707.6,996.2 712.1,993.9 715.4,988.4 718.8,980.6 722.1,975.0 724.4,967.2 727.7,958.2 729.9,956.0 733.3,964.9" fill="none" stroke="#b31b1b" stroke-width="3.3" stroke-linejoin="round" stroke-linecap="round"/>
<polyline points="424.3,1035.2 432.1,1038.1 441.0,1044.1 449.9,1043.0 458.9,1041.9 470.0,1040.8 481.2,1040.8 492.3,1040.8 499.0,1040.1 505.7,1041.9 512.4,1038.6 518.0,1031.9 524.7,1025.2 531.4,1016.3 539.2,1005.1 547.0,992.8 554.8,980.6 563.7,973.4 570.4,976.1 578.2,985.0 584.9,996.2 590.5,1007.3 597.2,1016.3 603.9,1026.3 610.6,1038.6 617.3,1049.7 624.0,1057.5 630.7,1062.7 636.2,1064.9 642.9,1062.7 648.5,1056.4 655.2,1048.6 661.9,1040.8 668.6,1035.2 674.2,1033.0 679.7,1027.4 685.3,1011.8 690.9,995.1 698.7,978.3 706.5,972.7 712.1,967.2 717.7,960.5 722.1,954.9 728.8,943.7 733.3,935.9" fill="none" stroke="#1a1ab4" stroke-width="3.4" stroke-linejoin="round" stroke-linecap="round"/>
<polyline points="754.3,1018.0 758.7,1018.0 763.2,1015.1 766.5,1011.8 768.8,1004.0 773.2,1006.2 775.5,1008.4 778.8,998.4 781.7,996.2 784.4,991.7 786.6,997.3 790.0,1004.0 794.4,1009.6 797.8,1012.9 798.9,1019.6 801.1,1007.3 803.4,1004.0 805.6,1006.2 808.9,997.3 813.4,998.4 816.7,1002.9 820.1,1009.6 823.4,1018.5 826.8,1031.9 831.2,1033.0 833.5,1041.9 836.8,1041.9 840.2,1034.1 842.4,1025.2 845.7,1018.5 849.1,1012.9 852.4,1018.5 854.7,1006.2 856.9,1000.6 860.2,1007.3 862.5,998.4 865.8,996.2 869.2,995.1 872.5,993.9 875.9,990.6 879.2,982.8 881.4,975.0 884.8,968.3 887.0,964.9 889.3,975.0 891.5,969.4 893.7,973.9 895.9,987.2 899.3,996.2 901.5,1007.3 904.9,1009.6 907.1,1004.0 910.5,1010.7 912.7,1002.9 916.0,1009.6 920.5,1012.9 923.8,1010.7 926.1,1020.7 928.3,1026.3 932.8,1020.7 936.1,1008.4 939.5,1011.8 942.8,1007.3 946.1,1005.1 949.5,996.2 952.8,987.2 954.0,978.3 957.3,983.9 960.7,982.8 964.0,969.4 966.2,949.3 969.6,940.4 972.9,931.5 976.3,940.4 978.5,946.0 981.8,960.5 985.2,960.5 987.4,958.2 990.8,962.7 994.1,973.9 997.5,976.1 1000.8,978.3 1004.2,985.0 1007.5,978.3 1012.0,989.5 1016.4,995.1 1019.8,996.2 1022.0,1011.8 1025.4,1029.6 1029.8,1038.6 1034.3,1039.7 1038.7,1038.6 1041.0,1028.5 1044.3,1019.6 1048.8,1018.5 1053.2,1015.1 1056.6,1015.1 1059.9,1017.4 1063.3,1016.3" fill="none" stroke="#b31b1b" stroke-width="3.3" stroke-linejoin="round" stroke-linecap="round"/>
<polyline points="754.3,1024.1 763.2,1025.2 768.8,1016.3 775.5,1002.9 783.3,990.6 792.2,990.6 800.0,992.8 806.7,991.7 813.4,989.0 823.4,986.8 830.1,998.4 836.8,1009.6 843.5,1021.8 853.6,1028.5 860.2,1027.9 868.1,1031.9 878.1,1033.0 884.8,1030.8 891.5,1027.9 898.2,1022.9 906.0,1019.6 912.7,1016.3 920.5,1018.0 925.0,1009.6 931.6,999.5 938.3,990.6 945.0,989.5 951.7,988.4 959.5,990.6 965.1,988.4 970.7,980.6 975.2,967.2 980.7,956.0 987.4,958.2 996.3,963.8 1004.2,969.4 1012.0,975.0 1020.9,979.4 1028.7,991.7 1034.3,1005.1 1039.9,1020.7 1045.4,1033.0 1051.0,1040.8 1056.6,1046.4 1063.3,1049.7" fill="none" stroke="#1a1ab4" stroke-width="3.4" stroke-linejoin="round" stroke-linecap="round"/>
<polyline points="1084.3,1039.7 1086.5,1041.9 1089.8,1049.7 1094.3,1046.4 1098.8,1050.8 1102.1,1046.4 1105.5,1045.3 1108.8,1047.5 1112.2,1046.4 1115.5,1048.6 1120.0,1049.7 1123.3,1048.6 1125.5,1053.1 1128.9,1050.8 1133.4,1050.8 1136.7,1041.9 1141.2,1035.2 1145.6,1036.3 1150.1,1029.2 1153.4,1039.7 1156.8,1035.2 1161.2,1036.3 1165.7,1031.9 1170.2,1029.6 1174.6,1028.5 1179.1,1021.8 1183.6,1016.3 1186.9,1015.1 1190.2,1014.0 1193.6,1021.8 1196.9,1020.7 1200.3,1011.8 1203.6,1002.9 1207.0,1004.0 1210.3,1007.3 1213.7,1001.8 1219.3,1001.1 1222.6,998.4 1225.9,1004.0 1229.3,996.2 1232.6,983.9 1236.0,991.7 1240.5,1002.9 1244.9,996.2 1249.4,990.6 1252.7,978.3 1256.1,982.8 1259.4,998.4 1262.8,1000.6 1266.1,982.8 1269.5,964.9 1272.8,972.7 1277.3,969.4 1281.7,964.9 1285.1,964.9 1288.4,967.2 1291.8,975.0 1295.1,962.7 1297.3,948.2 1299.6,940.4 1302.9,946.0 1306.3,938.2 1309.6,942.6 1314.1,944.9 1317.4,940.4 1321.9,934.8 1324.1,935.9 1327.5,956.0 1329.7,976.1 1333.0,964.9 1336.4,961.6 1339.7,954.9 1343.1,958.2 1347.5,971.6 1350.9,982.8 1355.4,993.9 1359.8,998.4 1363.2,1011.8 1366.5,998.4 1371.0,997.3 1375.4,996.2 1379.9,999.5 1384.4,1001.8 1387.7,985.0 1391.1,985.0 1394.4,990.6" fill="none" stroke="#b31b1b" stroke-width="3.3" stroke-linejoin="round" stroke-linecap="round"/>
<polyline points="1084.3,1039.7 1094.3,1039.0 1105.5,1036.8 1116.6,1035.2 1126.7,1035.9 1133.4,1038.1 1145.6,1038.6 1156.8,1039.7 1165.7,1041.9 1176.9,1045.7 1190.2,1047.5 1199.2,1050.8 1203.6,1043.0 1208.1,1028.5 1214.8,1015.1 1221.5,1007.3 1228.2,993.9 1234.9,978.3 1242.7,967.2 1249.4,951.6 1255.0,935.9 1258.3,931.5 1262.8,937.0 1267.2,941.5 1273.9,938.2 1279.5,932.6 1285.1,924.8 1291.8,928.1 1297.3,924.8 1304.0,914.7 1309.6,902.5 1314.1,902.0 1319.7,899.1 1325.2,898.0 1330.8,904.7 1337.5,910.3 1343.1,908.7 1349.8,903.6 1356.5,906.9 1362.0,913.6 1367.6,919.2 1375.4,920.8 1379.9,924.8 1386.6,932.6 1393.3,940.4" fill="none" stroke="#1a1ab4" stroke-width="3.4" stroke-linejoin="round" stroke-linecap="round"/>
<polyline points="94.3,1199.1 102.1,1199.1 109.9,1203.6 115.5,1202.5 122.2,1209.6 127.7,1208.7 134.4,1204.7 141.1,1201.4 146.7,1194.7 150.0,1195.8 155.6,1204.7 162.3,1215.9 167.9,1221.4 174.6,1227.5 180.2,1217.6 186.9,1215.4 195.8,1213.2 202.5,1210.3 206.9,1208.0 211.4,1200.2 215.9,1191.3 221.4,1180.2 227.0,1166.8 232.6,1150.0 238.2,1153.4 242.6,1157.8 247.1,1163.4 252.7,1164.5 258.3,1167.9 265.0,1172.4 269.4,1179.0 276.1,1190.2 282.8,1204.7 287.3,1206.9 290.6,1211.4 298.4,1212.5 306.2,1204.7 311.8,1203.6 315.2,1204.7 320.7,1212.5 324.1,1219.2 327.4,1213.6 333.0,1203.6 337.5,1195.8 341.9,1191.3 345.3,1198.0 349.7,1202.5 355.3,1211.4 360.9,1227.0 365.4,1244.9 369.8,1267.2 373.2,1287.3 378.7,1290.6 384.3,1293.9 387.7,1305.1 391.0,1324.1 396.6,1324.7 403.3,1323.0" fill="none" stroke="#b31b1b" stroke-width="3.3" stroke-linejoin="round" stroke-linecap="round"/>
<polyline points="94.3,1290.6 99.8,1300.6 106.5,1308.5 113.2,1314.0 119.9,1318.5 123.3,1324.1 127.7,1330.8 133.3,1327.4 140.0,1326.3 145.6,1316.3 151.2,1310.7 157.9,1304.0 165.7,1297.3 172.4,1287.3 177.9,1277.2 182.4,1266.1 186.9,1253.8 193.6,1240.4 200.2,1231.5 204.7,1222.6 208.1,1206.9 211.4,1184.6 214.8,1172.4 220.3,1165.7 225.9,1160.1 231.5,1159.0 235.9,1163.4 240.4,1173.5 244.9,1191.3 251.6,1206.9 258.3,1218.1 262.7,1227.0 267.2,1242.6 271.6,1264.9 276.1,1270.5 282.8,1271.6 287.3,1271.6 291.7,1275.0 297.3,1269.4 302.9,1258.2 307.3,1252.7 311.8,1246.0 316.3,1250.4 320.7,1250.4 325.2,1253.8 330.8,1239.3 337.5,1224.8 341.9,1228.1 347.5,1230.4 352.0,1235.9 358.7,1247.1 364.2,1256.0 370.9,1269.4 376.5,1264.9 383.2,1263.8 387.7,1273.9 392.1,1287.3 396.6,1300.6 403.3,1300.6" fill="none" stroke="#1a1ab4" stroke-width="3.4" stroke-linejoin="round" stroke-linecap="round"/>
<polyline points="424.3,1285.5 429.8,1271.6 436.5,1254.9 442.1,1239.3 446.6,1228.1 449.9,1220.3 454.4,1218.1 458.9,1219.2 463.3,1219.2 467.8,1208.0 472.2,1198.5 478.9,1192.4 485.6,1184.6 491.2,1177.5 496.8,1177.9 503.5,1177.5 510.2,1179.0 515.7,1183.5 521.3,1179.0 528.0,1179.0 533.6,1176.8 540.3,1180.2 548.1,1179.0 557.0,1176.8 563.7,1182.4 569.3,1185.7 574.9,1181.3 583.8,1175.3 590.5,1173.9 595.0,1171.2 599.4,1173.5 602.8,1180.2 606.1,1188.0 612.8,1186.9 617.3,1186.9 621.7,1183.5 630.7,1181.3 636.2,1186.9 641.8,1192.4 646.3,1195.8 650.7,1203.6 655.2,1211.4 660.8,1209.6 666.3,1218.1 671.9,1223.7 677.5,1226.6 683.1,1227.0 687.5,1232.6 693.1,1241.5 698.7,1243.7 703.2,1249.3 707.6,1256.0 711.0,1258.2 715.4,1250.4 721.0,1243.7 724.4,1234.8 728.8,1235.9 733.3,1233.7" fill="none" stroke="#b31b1b" stroke-width="3.3" stroke-linejoin="round" stroke-linecap="round"/>
<polyline points="424.3,1304.0 431.0,1298.4 438.8,1298.9 447.7,1293.5 453.3,1295.1 460.0,1302.9 465.5,1304.7 470.5,1303.3 476.7,1297.3 483.4,1291.7 490.1,1289.9 493.4,1282.8 501.2,1276.5 505.7,1273.9 513.5,1264.9 519.1,1253.8 525.8,1248.2 531.4,1242.2 536.9,1243.7 542.5,1237.1 548.1,1231.5 555.9,1227.5 563.7,1231.5 571.5,1234.2 579.3,1228.8 583.8,1220.3 587.1,1212.5 592.7,1205.8 596.1,1202.5 599.4,1208.0 603.9,1217.0 608.3,1223.7 613.9,1222.1 620.6,1219.2 626.2,1224.8 630.7,1228.1 636.2,1241.5 641.8,1258.2 646.3,1276.1 651.8,1293.9 657.4,1305.1 664.1,1310.7 668.6,1318.5 674.2,1328.5 679.7,1331.4 686.4,1329.2 695.4,1328.5 702.0,1324.1 711.0,1312.9 717.7,1302.9 724.4,1297.3 733.3,1299.5" fill="none" stroke="#1a1ab4" stroke-width="3.4" stroke-linejoin="round" stroke-linecap="round"/>
<polyline points="754.3,1244.9 759.8,1241.5 766.5,1240.0 771.0,1235.9 774.4,1229.2 781.0,1225.9 786.6,1219.2 792.2,1211.4 798.9,1205.1 803.4,1203.6 806.7,1194.7 811.2,1193.1 815.6,1194.7 821.2,1193.1 825.7,1192.4 831.2,1189.1 835.7,1182.8 840.2,1185.7 846.9,1189.5 852.4,1188.0 856.9,1181.3 860.2,1174.6 865.8,1173.5 870.3,1170.1 874.8,1164.1 879.2,1167.9 884.8,1175.7 893.7,1176.8 900.4,1173.5 907.1,1175.7 913.8,1179.0 918.3,1181.9 923.8,1178.4 928.3,1180.6 932.8,1184.6 937.2,1188.0 942.8,1184.2 945.0,1180.2 951.7,1180.2 959.5,1180.6 964.0,1175.7 969.6,1177.9 975.2,1184.6 979.6,1193.5 985.2,1199.1 988.5,1205.8 991.9,1201.4 998.6,1194.0 1007.5,1194.0 1014.2,1196.9 1020.9,1196.9 1027.6,1198.5 1032.0,1196.9 1037.6,1191.3 1043.2,1188.0 1046.5,1181.3 1049.9,1173.0 1054.4,1174.6 1058.8,1179.0 1063.3,1182.8" fill="none" stroke="#b31b1b" stroke-width="3.3" stroke-linejoin="round" stroke-linecap="round"/>
<polyline points="754.3,1289.9 762.1,1285.0 769.9,1281.7 776.6,1278.3 786.6,1269.9 793.3,1266.7 798.9,1269.0 804.5,1273.9 811.2,1274.3 819.0,1278.8 826.8,1278.8 834.6,1274.3 840.2,1278.8 848.0,1278.8 853.6,1269.4 858.0,1259.4 864.7,1251.6 873.6,1243.1 880.3,1244.4 888.1,1248.7 894.8,1245.3 900.4,1243.1 907.1,1246.6 912.7,1254.9 917.1,1261.6 922.7,1260.5 927.2,1263.8 931.6,1264.9 939.5,1262.7 945.0,1253.8 951.7,1249.3 957.3,1248.2 964.0,1243.1 969.6,1247.1 976.3,1256.0 983.0,1260.5 989.7,1262.7 995.2,1258.2 1000.8,1254.5 1005.3,1258.2 1012.0,1261.6 1019.8,1266.1 1025.4,1265.4 1032.0,1256.0 1038.7,1253.3 1043.2,1250.4 1048.8,1248.9 1054.4,1252.7 1058.8,1257.8 1063.3,1258.2" fill="none" stroke="#1a1ab4" stroke-width="3.4" stroke-linejoin="round" stroke-linecap="round"/>
<polyline points="1084.3,1219.2 1088.7,1213.6 1093.2,1206.5 1099.9,1201.4 1104.4,1202.5 1108.8,1203.1 1113.3,1214.7 1117.7,1224.8 1122.2,1231.5 1127.8,1238.2 1131.1,1243.7 1135.6,1249.8 1141.2,1248.9 1151.2,1248.9 1156.8,1242.6 1162.4,1233.7 1165.7,1227.0 1170.2,1214.7 1174.6,1202.5 1179.1,1195.8 1183.6,1188.0 1188.0,1176.8 1193.6,1165.0 1200.3,1162.8 1205.9,1170.1 1211.4,1176.1 1217.0,1180.2 1222.6,1174.6 1228.2,1171.2 1233.8,1167.2 1240.5,1165.0 1244.9,1166.8 1249.4,1169.5 1256.1,1170.1 1261.6,1170.1 1266.1,1164.5 1270.6,1161.2 1275.0,1156.1 1279.5,1153.4 1282.8,1160.1 1287.3,1171.2 1291.8,1176.8 1296.2,1182.4 1301.8,1182.8 1306.3,1180.2 1311.8,1185.7 1317.4,1189.5 1321.9,1193.1 1328.6,1190.9 1336.4,1190.9 1342.0,1183.5 1348.7,1173.5 1354.2,1167.2 1359.8,1171.7 1364.3,1185.7 1369.9,1203.6 1374.3,1223.7 1379.9,1232.6 1384.4,1249.3 1386.6,1260.5 1393.3,1263.2" fill="none" stroke="#b31b1b" stroke-width="3.3" stroke-linejoin="round" stroke-linecap="round"/>
<polyline points="1084.3,1298.9 1088.7,1293.9 1093.2,1287.7 1099.9,1286.1 1106.6,1290.6 1113.3,1293.9 1121.1,1296.2 1126.7,1293.9 1133.4,1294.4 1141.2,1293.5 1146.7,1287.7 1150.1,1284.6 1153.4,1275.0 1159.0,1268.3 1163.5,1260.5 1170.2,1250.4 1176.9,1243.7 1184.7,1235.9 1190.2,1227.0 1194.7,1219.2 1199.2,1214.7 1202.5,1221.4 1207.0,1233.7 1213.7,1244.9 1219.3,1248.2 1225.9,1243.7 1230.4,1237.1 1237.1,1230.4 1242.7,1221.4 1250.5,1224.8 1258.3,1223.7 1262.8,1212.5 1268.3,1205.8 1273.9,1201.4 1278.4,1199.1 1282.8,1203.6 1288.4,1213.6 1294.0,1222.6 1299.6,1234.8 1305.2,1236.4 1309.6,1242.6 1313.0,1249.3 1318.5,1253.8 1325.2,1261.6 1331.9,1260.0 1339.7,1260.5 1346.4,1259.4 1354.2,1260.0 1360.9,1264.9 1365.4,1273.9 1371.0,1276.1 1377.7,1282.8 1384.4,1285.5 1393.3,1289.0" fill="none" stroke="#1a1ab4" stroke-width="3.4" stroke-linejoin="round" stroke-linecap="round"/>
<polyline points="93.2,1520.2 97.6,1512.4 101.0,1504.6 104.3,1502.4 108.8,1496.8 113.2,1495.7 116.6,1492.3 119.9,1483.4 123.3,1472.2 126.6,1467.8 132.2,1466.7 136.7,1463.3 140.0,1471.1 144.5,1475.6 147.8,1483.0 151.2,1484.5 155.6,1489.7 160.1,1490.5 163.4,1485.6 167.9,1477.8 172.4,1466.7 177.9,1457.7 182.4,1457.7 186.9,1449.9 190.2,1439.9 193.6,1436.6 196.9,1425.4 200.2,1416.0 205.8,1411.6 210.3,1409.8 213.6,1403.5 219.2,1404.9 223.7,1402.6 227.0,1405.8 230.4,1412.0 233.7,1414.7 238.2,1413.8 241.5,1410.2 244.9,1415.4 248.2,1418.7 251.6,1412.5 256.0,1412.0 260.5,1412.5 266.1,1408.7 270.5,1419.1 273.9,1417.6 278.3,1415.4 281.7,1420.9 285.0,1425.8 288.4,1421.4 292.8,1415.4 298.4,1417.6 302.9,1419.1 307.3,1414.2 316.3,1414.2 320.7,1418.7 325.2,1419.1 328.5,1414.2 331.9,1419.8 335.2,1424.9 338.6,1419.8 343.0,1415.4 348.6,1413.8 354.2,1416.5 358.7,1416.0 363.1,1412.5 369.8,1410.2 376.5,1407.5 381.0,1402.0 385.4,1395.3 389.9,1385.2 393.2,1376.8 397.7,1375.2 403.3,1369.2" fill="none" stroke="#b31b1b" stroke-width="3.3" stroke-linejoin="round" stroke-linecap="round"/>
<polyline points="94.3,1512.0 101.0,1513.5 106.5,1520.2 112.1,1526.2 119.9,1532.0 125.5,1529.1 133.3,1526.9 141.1,1525.4 151.2,1525.4 157.9,1521.3 163.4,1518.0 167.9,1510.2 172.4,1501.3 177.9,1493.4 184.6,1490.5 189.1,1486.1 198.0,1483.4 205.8,1482.3 210.3,1478.9 212.5,1476.3 217.0,1480.7 223.7,1477.2 229.3,1482.3 235.9,1487.9 240.4,1488.5 247.1,1495.7 253.8,1494.6 260.5,1491.9 266.1,1490.5 270.5,1500.1 276.1,1493.4 280.6,1495.0 286.1,1499.0 290.6,1487.9 296.2,1475.6 302.9,1466.7 308.5,1463.3 314.0,1466.7 319.6,1473.4 324.1,1476.3 328.5,1471.8 335.2,1474.9 340.8,1472.2 347.5,1471.6 352.0,1478.9 357.5,1487.9 363.1,1485.6 367.6,1481.2 372.0,1476.7 378.7,1465.6 383.2,1443.2 388.8,1424.3 394.4,1409.8 398.8,1398.6 403.3,1386.4" fill="none" stroke="#1a1ab4" stroke-width="3.4" stroke-linejoin="round" stroke-linecap="round"/>
<polyline points="424.3,1494.1 426.5,1495.0 429.8,1482.3 434.3,1478.9 438.8,1470.0 445.5,1454.4 451.0,1446.6 454.4,1437.7 457.7,1429.9 461.1,1431.6 464.4,1435.4 468.9,1429.4 473.4,1429.4 477.8,1433.9 481.2,1436.1 484.5,1430.3 489.0,1433.2 494.6,1436.1 497.9,1443.2 501.2,1445.9 505.7,1450.4 511.3,1447.3 516.9,1446.6 521.3,1439.9 524.7,1433.2 530.2,1432.1 533.6,1426.5 538.1,1413.1 542.5,1400.9 547.0,1396.4 551.4,1393.0 555.9,1390.8 559.3,1397.5 563.7,1404.2 568.2,1415.4 572.6,1429.9 577.1,1446.6 581.6,1456.6 587.1,1467.8 593.8,1468.9 599.4,1474.5 605.0,1473.4 612.8,1468.9 619.5,1463.3 624.0,1452.2 628.4,1436.6 632.9,1420.9 637.3,1406.4 641.8,1395.3 646.3,1387.5 651.8,1389.7 655.2,1395.3 659.7,1397.5 664.1,1403.5 667.5,1410.9 671.9,1416.5 677.5,1411.6 683.1,1407.5 688.7,1413.1 695.4,1412.5 702.0,1415.4 708.7,1413.8 714.3,1407.5 719.9,1399.7 725.5,1393.0 729.9,1395.3 733.3,1400.4" fill="none" stroke="#b31b1b" stroke-width="3.3" stroke-linejoin="round" stroke-linecap="round"/>
<polyline points="424.3,1504.6 432.1,1499.5 441.0,1492.3 448.8,1484.5 457.7,1478.5 463.3,1479.4 470.0,1481.2 475.6,1484.5 480.0,1487.4 487.9,1483.9 493.4,1487.9 499.0,1494.6 503.5,1496.3 510.2,1500.1 518.0,1501.3 523.6,1496.8 528.0,1487.9 532.5,1472.2 536.9,1454.4 541.4,1432.1 545.9,1416.5 550.3,1412.5 557.0,1416.0 563.7,1420.9 568.2,1422.0 572.6,1425.4 578.2,1424.9 583.8,1423.6 588.3,1428.7 595.0,1441.0 598.3,1454.4 601.6,1472.2 606.1,1482.3 610.6,1481.6 617.3,1476.3 624.0,1468.2 629.5,1455.5 635.1,1441.0 638.5,1434.3 644.0,1429.9 649.6,1433.2 654.1,1438.3 660.8,1443.2 666.3,1447.3 670.8,1445.9 676.4,1445.9 680.9,1453.3 687.5,1466.7 693.1,1472.2 698.7,1476.7 704.3,1486.8 709.9,1481.2 715.4,1476.3 719.9,1468.9 724.4,1466.7 728.8,1471.1 733.3,1473.4" fill="none" stroke="#1a1ab4" stroke-width="3.4" stroke-linejoin="round" stroke-linecap="round"/>
<polyline points="754.3,1506.8 758.7,1507.9 763.2,1492.3 767.7,1483.9 772.1,1482.3 776.6,1478.5 781.0,1477.2 786.6,1475.6 793.3,1475.6 796.7,1473.4 802.2,1463.3 806.7,1454.4 812.3,1454.8 816.7,1450.4 821.2,1454.4 825.7,1457.1 831.2,1452.2 836.8,1447.3 841.3,1447.7 845.7,1445.5 850.2,1446.6 853.6,1449.5 858.0,1447.3 862.5,1446.6 866.9,1452.2 871.4,1451.7 875.9,1455.5 880.3,1448.8 884.8,1442.1 890.4,1439.9 894.8,1442.1 899.3,1444.4 902.6,1448.2 908.2,1449.9 912.7,1450.4 918.3,1449.5 922.7,1444.4 927.2,1431.0 933.9,1412.0 939.5,1418.7 945.0,1424.3 949.5,1432.1 952.8,1439.9 958.4,1448.8 962.9,1437.7 967.3,1428.7 972.9,1426.5 977.4,1432.1 981.8,1442.1 986.3,1453.3 991.9,1464.4 996.3,1466.7 999.7,1467.8 1005.3,1476.7 1009.7,1471.1 1014.2,1460.0 1017.5,1452.2 1022.0,1463.3 1027.6,1481.2 1033.2,1493.4 1037.6,1501.3 1042.1,1497.9 1047.7,1501.3 1053.2,1502.4 1056.6,1510.2 1063.3,1519.1" fill="none" stroke="#b31b1b" stroke-width="3.3" stroke-linejoin="round" stroke-linecap="round"/>
<polyline points="754.3,1527.6 763.2,1519.5 773.2,1519.1 778.8,1520.9 786.6,1525.8 793.3,1526.2 801.1,1520.9 806.7,1514.6 813.4,1518.7 819.0,1519.5 824.6,1522.5 830.1,1515.8 835.7,1509.1 844.6,1506.8 853.6,1506.2 859.1,1511.3 864.7,1517.3 870.3,1518.0 875.9,1519.1 881.4,1512.4 887.0,1507.9 892.6,1508.4 897.1,1512.9 902.6,1507.9 909.3,1502.4 914.9,1490.1 920.5,1475.6 925.0,1452.2 928.3,1436.6 932.8,1426.5 938.3,1429.9 945.0,1429.9 951.7,1432.5 956.2,1432.1 962.9,1435.4 968.5,1443.2 975.2,1454.4 979.6,1465.6 984.1,1487.9 988.5,1505.7 991.9,1514.2 997.5,1514.6 1003.0,1520.2 1007.5,1520.2 1013.1,1516.4 1020.9,1513.5 1027.6,1508.4 1036.5,1507.9 1042.1,1503.5 1048.8,1497.9 1054.4,1496.8 1063.3,1498.6" fill="none" stroke="#1a1ab4" stroke-width="3.4" stroke-linejoin="round" stroke-linecap="round"/>
<polyline points="1084.3,1519.5 1088.7,1520.2 1093.2,1510.2 1097.7,1501.3 1102.1,1495.7 1107.7,1492.3 1113.3,1487.9 1118.9,1487.4 1121.5,1487.9 1125.5,1471.1 1130.0,1464.4 1134.5,1457.7 1138.9,1446.6 1143.4,1442.1 1149.0,1431.0 1153.4,1429.9 1157.9,1428.1 1163.5,1429.4 1167.9,1432.1 1173.5,1436.1 1176.9,1434.3 1180.2,1433.2 1184.7,1447.7 1189.1,1461.1 1193.6,1475.6 1196.9,1474.9 1202.5,1473.4 1208.1,1477.8 1212.6,1484.5 1217.0,1490.5 1221.5,1485.6 1224.8,1477.8 1230.4,1468.9 1236.0,1456.6 1240.5,1449.9 1244.9,1431.0 1250.5,1409.8 1253.8,1403.1 1259.4,1403.1 1265.0,1403.1 1270.6,1397.5 1275.0,1394.2 1280.6,1393.0 1286.2,1396.4 1292.9,1394.2 1299.6,1387.9 1304.0,1389.7 1310.7,1389.3 1317.4,1390.8 1324.1,1389.3 1329.7,1385.2 1336.4,1378.5 1343.1,1374.1 1349.8,1368.5 1354.2,1369.2 1360.9,1374.5 1366.5,1380.3 1373.2,1386.4 1377.7,1393.0 1382.1,1405.3 1386.6,1423.2 1389.9,1437.7 1393.3,1449.9" fill="none" stroke="#b31b1b" stroke-width="3.3" stroke-linejoin="round" stroke-linecap="round"/>
<polyline points="1084.3,1502.4 1091.0,1497.2 1096.5,1490.5 1102.1,1485.2 1108.8,1483.4 1115.5,1486.8 1121.1,1489.0 1126.7,1491.2 1132.2,1489.0 1138.9,1486.1 1145.6,1483.9 1152.3,1480.1 1157.9,1476.3 1165.7,1479.4 1173.5,1483.0 1181.3,1486.8 1188.0,1492.8 1193.6,1495.7 1199.2,1496.8 1204.8,1494.1 1210.3,1502.4 1215.9,1510.6 1221.5,1510.2 1225.9,1507.5 1230.4,1511.3 1239.3,1512.0 1243.8,1505.7 1248.3,1498.6 1253.8,1492.3 1259.4,1489.7 1263.9,1494.6 1272.8,1496.8 1278.4,1500.1 1284.0,1503.9 1288.4,1500.1 1295.1,1501.3 1300.7,1493.4 1306.3,1496.3 1311.8,1498.6 1317.4,1493.4 1323.0,1484.5 1328.6,1465.6 1334.2,1445.5 1339.7,1425.4 1345.3,1406.4 1350.9,1397.5 1355.4,1397.5 1359.8,1406.4 1366.5,1414.2 1372.1,1427.6 1377.7,1443.2 1383.2,1461.1 1388.8,1478.9 1393.3,1505.7" fill="none" stroke="#1a1ab4" stroke-width="3.4" stroke-linejoin="round" stroke-linecap="round"/>
<polyline points="89.0,1671.2 92.0,1675.7 95.8,1688.3 99.6,1700.8 103.3,1705.9 105.9,1710.9 109.6,1733.5 113.4,1758.6 117.2,1787.5 122.2,1783.7 126.0,1796.3 131.0,1805.1 134.7,1808.8 138.5,1818.9 142.3,1811.4 146.0,1798.8 149.8,1778.7 153.6,1763.6 157.4,1759.9 162.4,1748.6 167.4,1738.5 172.4,1720.9 177.4,1708.4 181.2,1707.1 185.0,1710.9 187.5,1717.2 191.3,1715.9 195.0,1721.4 200.0,1728.5 203.8,1737.3 208.8,1741.0 213.9,1734.7 218.9,1731.0 222.7,1722.2 227.7,1713.4 232.7,1709.6 237.7,1709.6 242.7,1714.7 246.5,1724.7 251.5,1731.0 255.3,1743.5 259.1,1753.6 262.8,1764.9" fill="none" stroke="#1a1ab4" stroke-width="3.4" stroke-linejoin="round" stroke-linecap="round"/>
<polyline points="275.4,1771.7 281.7,1759.9 288.0,1748.6 293.0,1736.0 296.7,1718.4 300.5,1698.3 305.5,1683.3 310.6,1677.0 316.8,1675.2 321.9,1677.7 326.9,1680.7 330.7,1692.0 334.4,1704.6 339.4,1712.1 344.5,1718.9 349.5,1723.4 354.5,1728.0 359.5,1731.0 364.6,1728.0 370.8,1730.5 375.9,1726.0 380.9,1718.9 385.9,1712.1 389.7,1699.6 394.7,1688.3 399.7,1677.0 403.5,1666.9 408.5,1663.2 413.5,1655.6 417.3,1646.8 421.1,1640.6 424.8,1641.8 429.9,1646.1 434.9,1649.3 438.7,1650.6 442.4,1647.6 446.2,1650.1 450.0,1651.9" fill="none" stroke="#1a1ab4" stroke-width="3.4" stroke-linejoin="round" stroke-linecap="round"/>
<polyline points="461.8,1743.0 466.8,1747.3 471.8,1753.6 479.4,1760.6 484.4,1756.1 490.7,1752.3 495.7,1746.0 499.5,1741.0 503.2,1739.8 507.0,1742.3 510.8,1745.5 514.5,1748.1 518.3,1759.9 522.1,1763.6 528.4,1766.1 535.9,1761.6 539.7,1754.8 543.4,1750.6 548.4,1749.8 553.5,1742.3 561.0,1740.5 566.0,1745.5 572.3,1744.0 577.3,1736.0 581.1,1728.5 588.6,1722.2 593.7,1714.7 598.7,1702.1 602.4,1695.8 605.0,1689.5 610.0,1690.3 616.3,1692.0 621.3,1695.3 626.3,1699.6 631.3,1709.6 635.1,1720.9" fill="none" stroke="#1a1ab4" stroke-width="3.4" stroke-linejoin="round" stroke-linecap="round"/>
<polyline points="646.9,1671.2 648.9,1663.2 651.4,1655.1 655.2,1655.6 659.0,1661.9 662.7,1673.2 666.5,1690.8 670.3,1708.4 674.0,1719.7 676.5,1729.7 680.3,1738.5 682.8,1747.3 685.3,1752.3 690.4,1748.1 694.1,1744.0 699.1,1739.8 704.2,1734.7 709.2,1729.0 713.0,1731.5 718.0,1737.3 723.0,1738.5 729.3,1738.0 735.6,1741.0 741.8,1743.5 749.4,1744.8 753.1,1748.6 758.2,1754.8 763.2,1761.1 768.2,1766.1 773.2,1772.4 778.3,1776.2 783.3,1771.2 788.3,1766.1 794.6,1761.6 800.9,1754.1 805.9,1752.3 810.9,1752.3 815.9,1758.6 821.0,1765.6" fill="none" stroke="#1a1ab4" stroke-width="3.4" stroke-linejoin="round" stroke-linecap="round"/>
<polyline points="89.5,2001.2 93.3,2003.2 98.3,2000.7 103.3,1996.7 107.1,1993.7 113.4,1990.7 119.7,1987.4 124.7,1982.4 128.5,1975.6 133.5,1968.6 136.8,1959.8 142.3,1956.0 147.3,1953.5 152.3,1950.5 157.4,1950.5 162.4,1951.0 167.4,1953.0 171.2,1949.0 176.2,1947.2 181.2,1939.7 186.2,1934.7 192.5,1937.9 197.5,1933.9 200.0,1930.4 205.1,1930.9 210.1,1924.6 213.9,1915.8 218.9,1908.8 225.2,1901.3 230.2,1904.5 234.0,1909.6 237.7,1917.1 241.5,1923.4 245.3,1934.7 249.0,1951.5 252.8,1949.7 257.8,1943.0 262.8,1936.4" fill="none" stroke="#1a1ab4" stroke-width="3.4" stroke-linejoin="round" stroke-linecap="round"/>
<polyline points="275.9,2003.7 281.7,1999.2 289.2,1994.2 294.2,1988.7 299.3,1984.9 304.3,1980.6 310.6,1976.1 316.8,1976.1 323.1,1977.4 326.9,1982.4 331.9,1986.2 338.2,1983.2 342.0,1980.6 345.7,1976.6 350.8,1973.6 355.8,1966.1 360.8,1958.5 365.8,1953.0 370.8,1952.3 374.6,1949.0 379.6,1949.7 383.4,1949.0 388.4,1954.8 393.4,1954.8 398.5,1952.3 403.5,1949.7 407.3,1942.2 412.3,1937.2 417.3,1931.4 421.1,1919.6 423.6,1915.8 427.4,1917.8 432.4,1918.9 436.1,1920.4 439.9,1929.7 443.7,1930.9 448.7,1925.9" fill="none" stroke="#1a1ab4" stroke-width="3.4" stroke-linejoin="round" stroke-linecap="round"/>
<polyline points="461.8,1988.2 466.8,1985.7 473.1,1988.7 478.1,1985.7 483.1,1978.6 486.9,1971.1 490.7,1963.6 495.7,1960.5 499.5,1957.3 503.2,1951.0 507.0,1948.0 509.5,1938.4 513.3,1929.7 517.0,1920.9 520.8,1913.3 524.6,1907.0 528.4,1907.8 533.4,1902.0 537.1,1893.2 540.9,1884.4 544.7,1889.5 548.4,1898.3 552.2,1906.3 556.0,1912.1 558.5,1918.4 562.3,1917.8 566.0,1913.8 569.8,1918.4 574.8,1922.9 578.6,1923.9 581.6,1919.6 584.9,1927.1 588.6,1927.9 592.4,1918.4 596.2,1908.3 602.4,1898.8 606.2,1903.8 611.2,1913.3 615.0,1923.4 618.8,1924.6 622.5,1933.4 626.3,1942.2 630.1,1951.0 632.6,1959.8 635.1,1966.1" fill="none" stroke="#1a1ab4" stroke-width="3.4" stroke-linejoin="round" stroke-linecap="round"/>
<polyline points="646.9,1992.4 651.4,1995.0 659.0,1996.2 666.5,1996.7 672.8,1998.2 680.3,1995.0 687.8,1993.2 694.1,1988.2 697.9,1982.4 701.7,1975.6 706.7,1972.4 711.7,1964.8 715.5,1971.6 719.2,1975.6 724.3,1976.1 728.0,1974.9 733.1,1971.6 736.8,1962.3 740.6,1953.5 745.6,1949.7 748.1,1938.4 750.6,1924.6 754.4,1915.8 759.4,1909.6 763.2,1902.0 767.0,1902.0 770.7,1915.8 774.5,1925.9 778.3,1927.9 782.0,1923.4 788.3,1920.9 792.1,1930.9 795.8,1942.2 799.6,1945.5 803.4,1934.7 807.1,1923.9 812.2,1917.8 817.2,1923.4 821.5,1936.4" fill="none" stroke="#1a1ab4" stroke-width="3.4" stroke-linejoin="round" stroke-linecap="round"/>
<clipPath id="ce"><rect x="960.2" y="1659.9" width="345.9" height="361.0"/></clipPath>
<g clip-path="url(#ce)">
<polygon points="1291.5,1639.8 1304.2,1642.5 1301.5,1655.2 1288.8,1652.5" fill="#feac3a" stroke="#feac3a" stroke-width="0.9"/>
<polygon points="1225.1,1639.0 1237.8,1641.7 1235.1,1654.5 1222.4,1651.8" fill="#fec755" stroke="#fec755" stroke-width="0.9"/>
<polygon points="1237.8,1641.7 1250.6,1644.4 1247.9,1657.1 1235.1,1654.5" fill="#fec04c" stroke="#fec04c" stroke-width="0.9"/>
<polygon points="1250.6,1644.4 1263.3,1647.1 1260.6,1659.8 1247.9,1657.1" fill="#feb845" stroke="#feb845" stroke-width="0.9"/>
<polygon points="1263.3,1647.1 1276.0,1649.8 1273.3,1662.5 1260.6,1659.8" fill="#feb13e" stroke="#feb13e" stroke-width="0.9"/>
<polygon points="1276.0,1649.8 1288.8,1652.5 1286.1,1665.2 1273.3,1662.5" fill="#feab39" stroke="#feab39" stroke-width="0.9"/>
<polygon points="1288.8,1652.5 1301.5,1655.2 1298.8,1667.9 1286.1,1665.2" fill="#fea735" stroke="#fea735" stroke-width="0.9"/>
<polygon points="1184.2,1643.7 1196.9,1646.4 1194.2,1659.1 1181.5,1656.4" fill="#fed572" stroke="#fed572" stroke-width="0.9"/>
<polygon points="1196.9,1646.4 1209.7,1649.1 1207.0,1661.8 1194.2,1659.1" fill="#fed069" stroke="#fed069" stroke-width="0.9"/>
<polygon points="1209.7,1649.1 1222.4,1651.8 1219.7,1664.5 1207.0,1661.8" fill="#fecb5e" stroke="#fecb5e" stroke-width="0.9"/>
<polygon points="1222.4,1651.8 1235.1,1654.5 1232.4,1667.2 1219.7,1664.5" fill="#fec653" stroke="#fec653" stroke-width="0.9"/>
<polygon points="1235.1,1654.5 1247.9,1657.1 1245.2,1669.9 1232.4,1667.2" fill="#febe4a" stroke="#febe4a" stroke-width="0.9"/>
<polygon points="1247.9,1657.1 1260.6,1659.8 1257.9,1672.6 1245.2,1669.9" fill="#feb542" stroke="#feb542" stroke-width="0.9"/>
<polygon points="1260.6,1659.8 1273.3,1662.5 1270.7,1675.3 1257.9,1672.6" fill="#feac3a" stroke="#feac3a" stroke-width="0.9"/>
<polygon points="1273.3,1662.5 1286.1,1665.2 1283.4,1678.0 1270.7,1675.3" fill="#fea533" stroke="#fea533" stroke-width="0.9"/>
<polygon points="1286.1,1665.2 1298.8,1667.9 1296.1,1680.7 1283.4,1678.0" fill="#fea02f" stroke="#fea02f" stroke-width="0.9"/>
<polygon points="1092.3,1637.5 1105.1,1640.2 1102.4,1653.0 1089.6,1650.3" fill="#fee494" stroke="#fee494" stroke-width="0.9"/>
<polygon points="1105.1,1640.2 1117.8,1642.9 1115.1,1655.7 1102.4,1653.0" fill="#fee492" stroke="#fee492" stroke-width="0.9"/>
<polygon points="1117.8,1642.9 1130.5,1645.6 1127.8,1658.4 1115.1,1655.7" fill="#fee390" stroke="#fee390" stroke-width="0.9"/>
<polygon points="1130.5,1645.6 1143.3,1648.3 1140.6,1661.1 1127.8,1658.4" fill="#fee18c" stroke="#fee18c" stroke-width="0.9"/>
<polygon points="1143.3,1648.3 1156.0,1651.0 1153.3,1663.8 1140.6,1661.1" fill="#fedf88" stroke="#fedf88" stroke-width="0.9"/>
<polygon points="1194.2,1659.1 1207.0,1661.8 1204.3,1674.5 1191.5,1671.8" fill="#fed068" stroke="#fed068" stroke-width="0.9"/>
<polygon points="1207.0,1661.8 1219.7,1664.5 1217.0,1677.2 1204.3,1674.5" fill="#feca5c" stroke="#feca5c" stroke-width="0.9"/>
<polygon points="1219.7,1664.5 1232.4,1667.2 1229.7,1679.9 1217.0,1677.2" fill="#fec551" stroke="#fec551" stroke-width="0.9"/>
<polygon points="1232.4,1667.2 1245.2,1669.9 1242.5,1682.6 1229.7,1679.9" fill="#febc48" stroke="#febc48" stroke-width="0.9"/>
<polygon points="1245.2,1669.9 1257.9,1672.6 1255.2,1685.3 1242.5,1682.6" fill="#feb13e" stroke="#feb13e" stroke-width="0.9"/>
<polygon points="1257.9,1672.6 1270.7,1675.3 1268.0,1688.0 1255.2,1685.3" fill="#fea836" stroke="#fea836" stroke-width="0.9"/>
<polygon points="1270.7,1675.3 1283.4,1678.0 1280.7,1690.7 1268.0,1688.0" fill="#fe9f2f" stroke="#fe9f2f" stroke-width="0.9"/>
<polygon points="1283.4,1678.0 1296.1,1680.7 1293.4,1693.4 1280.7,1690.7" fill="#fe9b2b" stroke="#fe9b2b" stroke-width="0.9"/>
<polygon points="1038.7,1639.5 1051.4,1642.2 1048.7,1654.9 1036.0,1652.2" fill="#fee697" stroke="#fee697" stroke-width="0.9"/>
<polygon points="1051.4,1642.2 1064.2,1644.9 1061.5,1657.6 1048.7,1654.9" fill="#fee596" stroke="#fee596" stroke-width="0.9"/>
<polygon points="1064.2,1644.9 1076.9,1647.6 1074.2,1660.3 1061.5,1657.6" fill="#fee596" stroke="#fee596" stroke-width="0.9"/>
<polygon points="1076.9,1647.6 1089.6,1650.3 1086.9,1663.0 1074.2,1660.3" fill="#fee595" stroke="#fee595" stroke-width="0.9"/>
<polygon points="1089.6,1650.3 1102.4,1653.0 1099.7,1665.7 1086.9,1663.0" fill="#fee494" stroke="#fee494" stroke-width="0.9"/>
<polygon points="1102.4,1653.0 1115.1,1655.7 1112.4,1668.4 1099.7,1665.7" fill="#fee492" stroke="#fee492" stroke-width="0.9"/>
<polygon points="1115.1,1655.7 1127.8,1658.4 1125.2,1671.1 1112.4,1668.4" fill="#fee390" stroke="#fee390" stroke-width="0.9"/>
<polygon points="1127.8,1658.4 1140.6,1661.1 1137.9,1673.8 1125.2,1671.1" fill="#fee18c" stroke="#fee18c" stroke-width="0.9"/>
<polygon points="1140.6,1661.1 1153.3,1663.8 1150.6,1676.5 1137.9,1673.8" fill="#fedf88" stroke="#fedf88" stroke-width="0.9"/>
<polygon points="1166.1,1666.5 1178.8,1669.1 1176.1,1681.9 1163.4,1679.2" fill="#fed97b" stroke="#fed97b" stroke-width="0.9"/>
<polygon points="1191.5,1671.8 1204.3,1674.5 1201.6,1687.3 1188.8,1684.6" fill="#fece65" stroke="#fece65" stroke-width="0.9"/>
<polygon points="1204.3,1674.5 1217.0,1677.2 1214.3,1690.0 1201.6,1687.3" fill="#fec858" stroke="#fec858" stroke-width="0.9"/>
<polygon points="1217.0,1677.2 1229.7,1679.9 1227.0,1692.7 1214.3,1690.0" fill="#fec24d" stroke="#fec24d" stroke-width="0.9"/>
<polygon points="1229.7,1679.9 1242.5,1682.6 1239.8,1695.4 1227.0,1692.7" fill="#feb744" stroke="#feb744" stroke-width="0.9"/>
<polygon points="1242.5,1682.6 1255.2,1685.3 1252.5,1698.1 1239.8,1695.4" fill="#feac3a" stroke="#feac3a" stroke-width="0.9"/>
<polygon points="1255.2,1685.3 1268.0,1688.0 1265.3,1700.8 1252.5,1698.1" fill="#fea231" stroke="#fea231" stroke-width="0.9"/>
<polygon points="1268.0,1688.0 1280.7,1690.7 1278.0,1703.4 1265.3,1700.8" fill="#fe9b2b" stroke="#fe9b2b" stroke-width="0.9"/>
<polygon points="1280.7,1690.7 1293.4,1693.4 1290.7,1706.1 1278.0,1703.4" fill="#fe9829" stroke="#fe9829" stroke-width="0.9"/>
<polygon points="1293.4,1693.4 1306.2,1696.1 1303.5,1708.8 1290.7,1706.1" fill="#fe9929" stroke="#fe9929" stroke-width="0.9"/>
<polygon points="972.3,1638.8 985.0,1641.5 982.4,1654.2 969.6,1651.5" fill="#fee698" stroke="#fee698" stroke-width="0.9"/>
<polygon points="985.0,1641.5 997.8,1644.2 995.1,1656.9 982.4,1654.2" fill="#fee698" stroke="#fee698" stroke-width="0.9"/>
<polygon points="997.8,1644.2 1010.5,1646.9 1007.8,1659.6 995.1,1656.9" fill="#fee697" stroke="#fee697" stroke-width="0.9"/>
<polygon points="1010.5,1646.9 1023.3,1649.5 1020.6,1662.3 1007.8,1659.6" fill="#fee697" stroke="#fee697" stroke-width="0.9"/>
<polygon points="1023.3,1649.5 1036.0,1652.2 1033.3,1665.0 1020.6,1662.3" fill="#fee697" stroke="#fee697" stroke-width="0.9"/>
<polygon points="1036.0,1652.2 1048.7,1654.9 1046.0,1667.7 1033.3,1665.0" fill="#fee596" stroke="#fee596" stroke-width="0.9"/>
<polygon points="1048.7,1654.9 1061.5,1657.6 1058.8,1670.4 1046.0,1667.7" fill="#fee596" stroke="#fee596" stroke-width="0.9"/>
<polygon points="1061.5,1657.6 1074.2,1660.3 1071.5,1673.1 1058.8,1670.4" fill="#fee595" stroke="#fee595" stroke-width="0.9"/>
<polygon points="1074.2,1660.3 1086.9,1663.0 1084.2,1675.8 1071.5,1673.1" fill="#fee594" stroke="#fee594" stroke-width="0.9"/>
<polygon points="1086.9,1663.0 1099.7,1665.7 1097.0,1678.5 1084.2,1675.8" fill="#fee493" stroke="#fee493" stroke-width="0.9"/>
<polygon points="1099.7,1665.7 1112.4,1668.4 1109.7,1681.1 1097.0,1678.5" fill="#fee392" stroke="#fee392" stroke-width="0.9"/>
<polygon points="1112.4,1668.4 1125.2,1671.1 1122.5,1683.8 1109.7,1681.1" fill="#fee28f" stroke="#fee28f" stroke-width="0.9"/>
<polygon points="1125.2,1671.1 1137.9,1673.8 1135.2,1686.5 1122.5,1683.8" fill="#fee08b" stroke="#fee08b" stroke-width="0.9"/>
<polygon points="1137.9,1673.8 1150.6,1676.5 1147.9,1689.2 1135.2,1686.5" fill="#fede85" stroke="#fede85" stroke-width="0.9"/>
<polygon points="1150.6,1676.5 1163.4,1679.2 1160.7,1691.9 1147.9,1689.2" fill="#fedb7f" stroke="#fedb7f" stroke-width="0.9"/>
<polygon points="1163.4,1679.2 1176.1,1681.9 1173.4,1694.6 1160.7,1691.9" fill="#fed778" stroke="#fed778" stroke-width="0.9"/>
<polygon points="1188.8,1684.6 1201.6,1687.3 1198.9,1700.0 1186.1,1697.3" fill="#fecc61" stroke="#fecc61" stroke-width="0.9"/>
<polygon points="1201.6,1687.3 1214.3,1690.0 1211.6,1702.7 1198.9,1700.0" fill="#fec653" stroke="#fec653" stroke-width="0.9"/>
<polygon points="1214.3,1690.0 1227.0,1692.7 1224.4,1705.4 1211.6,1702.7" fill="#febc48" stroke="#febc48" stroke-width="0.9"/>
<polygon points="1227.0,1692.7 1239.8,1695.4 1237.1,1708.1 1224.4,1705.4" fill="#feb03e" stroke="#feb03e" stroke-width="0.9"/>
<polygon points="1239.8,1695.4 1252.5,1698.1 1249.8,1710.8 1237.1,1708.1" fill="#fea533" stroke="#fea533" stroke-width="0.9"/>
<polygon points="1252.5,1698.1 1265.3,1700.8 1262.6,1713.5 1249.8,1710.8" fill="#fe9b2b" stroke="#fe9b2b" stroke-width="0.9"/>
<polygon points="1265.3,1700.8 1278.0,1703.4 1275.3,1716.2 1262.6,1713.5" fill="#fd9627" stroke="#fd9627" stroke-width="0.9"/>
<polygon points="1278.0,1703.4 1290.7,1706.1 1288.0,1718.9 1275.3,1716.2" fill="#fc9527" stroke="#fc9527" stroke-width="0.9"/>
<polygon points="1290.7,1706.1 1303.5,1708.8 1300.8,1721.6 1288.0,1718.9" fill="#fd9728" stroke="#fd9728" stroke-width="0.9"/>
<polygon points="944.1,1646.1 956.9,1648.8 954.2,1661.5 941.4,1658.9" fill="#fee698" stroke="#fee698" stroke-width="0.9"/>
<polygon points="956.9,1648.8 969.6,1651.5 966.9,1664.2 954.2,1661.5" fill="#fee698" stroke="#fee698" stroke-width="0.9"/>
<polygon points="969.6,1651.5 982.4,1654.2 979.7,1666.9 966.9,1664.2" fill="#fee698" stroke="#fee698" stroke-width="0.9"/>
<polygon points="982.4,1654.2 995.1,1656.9 992.4,1669.6 979.7,1666.9" fill="#fee697" stroke="#fee697" stroke-width="0.9"/>
<polygon points="995.1,1656.9 1007.8,1659.6 1005.1,1672.3 992.4,1669.6" fill="#fee697" stroke="#fee697" stroke-width="0.9"/>
<polygon points="1007.8,1659.6 1020.6,1662.3 1017.9,1675.0 1005.1,1672.3" fill="#fee596" stroke="#fee596" stroke-width="0.9"/>
<polygon points="1020.6,1662.3 1033.3,1665.0 1030.6,1677.7 1017.9,1675.0" fill="#fee596" stroke="#fee596" stroke-width="0.9"/>
<polygon points="1033.3,1665.0 1046.0,1667.7 1043.3,1680.4 1030.6,1677.7" fill="#fee595" stroke="#fee595" stroke-width="0.9"/>
<polygon points="1046.0,1667.7 1058.8,1670.4 1056.1,1683.1 1043.3,1680.4" fill="#fee595" stroke="#fee595" stroke-width="0.9"/>
<polygon points="1058.8,1670.4 1071.5,1673.1 1068.8,1685.8 1056.1,1683.1" fill="#fee494" stroke="#fee494" stroke-width="0.9"/>
<polygon points="1071.5,1673.1 1084.2,1675.8 1081.6,1688.5 1068.8,1685.8" fill="#fee493" stroke="#fee493" stroke-width="0.9"/>
<polygon points="1084.2,1675.8 1097.0,1678.5 1094.3,1691.2 1081.6,1688.5" fill="#fee492" stroke="#fee492" stroke-width="0.9"/>
<polygon points="1097.0,1678.5 1109.7,1681.1 1107.0,1693.9 1094.3,1691.2" fill="#fee390" stroke="#fee390" stroke-width="0.9"/>
<polygon points="1109.7,1681.1 1122.5,1683.8 1119.8,1696.6 1107.0,1693.9" fill="#fee18c" stroke="#fee18c" stroke-width="0.9"/>
<polygon points="1122.5,1683.8 1135.2,1686.5 1132.5,1699.3 1119.8,1696.6" fill="#fede87" stroke="#fede87" stroke-width="0.9"/>
<polygon points="1135.2,1686.5 1147.9,1689.2 1145.2,1702.0 1132.5,1699.3" fill="#fedb80" stroke="#fedb80" stroke-width="0.9"/>
<polygon points="1147.9,1689.2 1160.7,1691.9 1158.0,1704.7 1145.2,1702.0" fill="#fed778" stroke="#fed778" stroke-width="0.9"/>
<polygon points="1160.7,1691.9 1173.4,1694.6 1170.7,1707.4 1158.0,1704.7" fill="#fed370" stroke="#fed370" stroke-width="0.9"/>
<polygon points="1173.4,1694.6 1186.1,1697.3 1183.4,1710.1 1170.7,1707.4" fill="#fecf66" stroke="#fecf66" stroke-width="0.9"/>
<polygon points="1186.1,1697.3 1198.9,1700.0 1196.2,1712.7 1183.4,1710.1" fill="#fec95a" stroke="#fec95a" stroke-width="0.9"/>
<polygon points="1198.9,1700.0 1211.6,1702.7 1208.9,1715.4 1196.2,1712.7" fill="#fec24d" stroke="#fec24d" stroke-width="0.9"/>
<polygon points="1211.6,1702.7 1224.4,1705.4 1221.7,1718.1 1208.9,1715.4" fill="#feb542" stroke="#feb542" stroke-width="0.9"/>
<polygon points="1224.4,1705.4 1237.1,1708.1 1234.4,1720.8 1221.7,1718.1" fill="#fea836" stroke="#fea836" stroke-width="0.9"/>
<polygon points="1237.1,1708.1 1249.8,1710.8 1247.1,1723.5 1234.4,1720.8" fill="#fe9c2c" stroke="#fe9c2c" stroke-width="0.9"/>
<polygon points="1249.8,1710.8 1262.6,1713.5 1259.9,1726.2 1247.1,1723.5" fill="#fb9225" stroke="#fb9225" stroke-width="0.9"/>
<polygon points="1262.6,1713.5 1275.3,1716.2 1272.6,1728.9 1259.9,1726.2" fill="#f98f24" stroke="#f98f24" stroke-width="0.9"/>
<polygon points="1275.3,1716.2 1288.0,1718.9 1285.3,1731.6 1272.6,1728.9" fill="#fa9125" stroke="#fa9125" stroke-width="0.9"/>
<polygon points="1288.0,1718.9 1300.8,1721.6 1298.1,1734.3 1285.3,1731.6" fill="#fc9427" stroke="#fc9427" stroke-width="0.9"/>
<polygon points="941.4,1658.9 954.2,1661.5 951.5,1674.3 938.8,1671.6" fill="#fee697" stroke="#fee697" stroke-width="0.9"/>
<polygon points="954.2,1661.5 966.9,1664.2 964.2,1677.0 951.5,1674.3" fill="#fee697" stroke="#fee697" stroke-width="0.9"/>
<polygon points="966.9,1664.2 979.7,1666.9 977.0,1679.7 964.2,1677.0" fill="#fee697" stroke="#fee697" stroke-width="0.9"/>
<polygon points="979.7,1666.9 992.4,1669.6 989.7,1682.4 977.0,1679.7" fill="#fee596" stroke="#fee596" stroke-width="0.9"/>
<polygon points="992.4,1669.6 1005.1,1672.3 1002.4,1685.1 989.7,1682.4" fill="#fee596" stroke="#fee596" stroke-width="0.9"/>
<polygon points="1005.1,1672.3 1017.9,1675.0 1015.2,1687.8 1002.4,1685.1" fill="#fee595" stroke="#fee595" stroke-width="0.9"/>
<polygon points="1017.9,1675.0 1030.6,1677.7 1027.9,1690.5 1015.2,1687.8" fill="#fee595" stroke="#fee595" stroke-width="0.9"/>
<polygon points="1030.6,1677.7 1043.3,1680.4 1040.6,1693.1 1027.9,1690.5" fill="#fee494" stroke="#fee494" stroke-width="0.9"/>
<polygon points="1043.3,1680.4 1056.1,1683.1 1053.4,1695.8 1040.6,1693.1" fill="#fee493" stroke="#fee493" stroke-width="0.9"/>
<polygon points="1056.1,1683.1 1068.8,1685.8 1066.1,1698.5 1053.4,1695.8" fill="#fee493" stroke="#fee493" stroke-width="0.9"/>
<polygon points="1068.8,1685.8 1081.6,1688.5 1078.9,1701.2 1066.1,1698.5" fill="#fee392" stroke="#fee392" stroke-width="0.9"/>
<polygon points="1081.6,1688.5 1094.3,1691.2 1091.6,1703.9 1078.9,1701.2" fill="#fee391" stroke="#fee391" stroke-width="0.9"/>
<polygon points="1094.3,1691.2 1107.0,1693.9 1104.3,1706.6 1091.6,1703.9" fill="#fee28e" stroke="#fee28e" stroke-width="0.9"/>
<polygon points="1107.0,1693.9 1119.8,1696.6 1117.1,1709.3 1104.3,1706.6" fill="#fedf89" stroke="#fedf89" stroke-width="0.9"/>
<polygon points="1119.8,1696.6 1132.5,1699.3 1129.8,1712.0 1117.1,1709.3" fill="#fedc81" stroke="#fedc81" stroke-width="0.9"/>
<polygon points="1132.5,1699.3 1145.2,1702.0 1142.5,1714.7 1129.8,1712.0" fill="#fed777" stroke="#fed777" stroke-width="0.9"/>
<polygon points="1145.2,1702.0 1158.0,1704.7 1155.3,1717.4 1142.5,1714.7" fill="#fed26d" stroke="#fed26d" stroke-width="0.9"/>
<polygon points="1158.0,1704.7 1170.7,1707.4 1168.0,1720.1 1155.3,1717.4" fill="#fece64" stroke="#fece64" stroke-width="0.9"/>
<polygon points="1170.7,1707.4 1183.4,1710.1 1180.8,1722.8 1168.0,1720.1" fill="#feca5b" stroke="#feca5b" stroke-width="0.9"/>
<polygon points="1183.4,1710.1 1196.2,1712.7 1193.5,1725.5 1180.8,1722.8" fill="#fec34e" stroke="#fec34e" stroke-width="0.9"/>
<polygon points="1196.2,1712.7 1208.9,1715.4 1206.2,1728.2 1193.5,1725.5" fill="#febb47" stroke="#febb47" stroke-width="0.9"/>
<polygon points="1208.9,1715.4 1221.7,1718.1 1219.0,1730.9 1206.2,1728.2" fill="#feac39" stroke="#feac39" stroke-width="0.9"/>
<polygon points="1221.7,1718.1 1234.4,1720.8 1231.7,1733.6 1219.0,1730.9" fill="#fe9e2d" stroke="#fe9e2d" stroke-width="0.9"/>
<polygon points="1234.4,1720.8 1247.1,1723.5 1244.4,1736.3 1231.7,1733.6" fill="#fb9225" stroke="#fb9225" stroke-width="0.9"/>
<polygon points="1247.1,1723.5 1259.9,1726.2 1257.2,1739.0 1244.4,1736.3" fill="#f78921" stroke="#f78921" stroke-width="0.9"/>
<polygon points="1259.9,1726.2 1272.6,1728.9 1269.9,1741.7 1257.2,1739.0" fill="#f68720" stroke="#f68720" stroke-width="0.9"/>
<polygon points="1272.6,1728.9 1285.3,1731.6 1282.6,1744.4 1269.9,1741.7" fill="#f88c22" stroke="#f88c22" stroke-width="0.9"/>
<polygon points="1285.3,1731.6 1298.1,1734.3 1295.4,1747.0 1282.6,1744.4" fill="#fb9326" stroke="#fb9326" stroke-width="0.9"/>
<polygon points="951.5,1674.3 964.2,1677.0 961.5,1689.7 948.8,1687.0" fill="#fee696" stroke="#fee696" stroke-width="0.9"/>
<polygon points="964.2,1677.0 977.0,1679.7 974.3,1692.4 961.5,1689.7" fill="#fee596" stroke="#fee596" stroke-width="0.9"/>
<polygon points="977.0,1679.7 989.7,1682.4 987.0,1695.1 974.3,1692.4" fill="#fee595" stroke="#fee595" stroke-width="0.9"/>
<polygon points="989.7,1682.4 1002.4,1685.1 999.7,1697.8 987.0,1695.1" fill="#fee595" stroke="#fee595" stroke-width="0.9"/>
<polygon points="1002.4,1685.1 1015.2,1687.8 1012.5,1700.5 999.7,1697.8" fill="#fee494" stroke="#fee494" stroke-width="0.9"/>
<polygon points="1015.2,1687.8 1027.9,1690.5 1025.2,1703.2 1012.5,1700.5" fill="#fee493" stroke="#fee493" stroke-width="0.9"/>
<polygon points="1027.9,1690.5 1040.6,1693.1 1038.0,1705.9 1025.2,1703.2" fill="#fee492" stroke="#fee492" stroke-width="0.9"/>
<polygon points="1040.6,1693.1 1053.4,1695.8 1050.7,1708.6 1038.0,1705.9" fill="#fee391" stroke="#fee391" stroke-width="0.9"/>
<polygon points="1053.4,1695.8 1066.1,1698.5 1063.4,1711.3 1050.7,1708.6" fill="#fee390" stroke="#fee390" stroke-width="0.9"/>
<polygon points="1066.1,1698.5 1078.9,1701.2 1076.2,1714.0 1063.4,1711.3" fill="#fee28f" stroke="#fee28f" stroke-width="0.9"/>
<polygon points="1078.9,1701.2 1091.6,1703.9 1088.9,1716.7 1076.2,1714.0" fill="#fee18d" stroke="#fee18d" stroke-width="0.9"/>
<polygon points="1091.6,1703.9 1104.3,1706.6 1101.6,1719.4 1088.9,1716.7" fill="#fee08b" stroke="#fee08b" stroke-width="0.9"/>
<polygon points="1104.3,1706.6 1117.1,1709.3 1114.4,1722.1 1101.6,1719.4" fill="#fede85" stroke="#fede85" stroke-width="0.9"/>
<polygon points="1117.1,1709.3 1129.8,1712.0 1127.1,1724.7 1114.4,1722.1" fill="#fed97b" stroke="#fed97b" stroke-width="0.9"/>
<polygon points="1129.8,1712.0 1142.5,1714.7 1139.8,1727.4 1127.1,1724.7" fill="#fed16c" stroke="#fed16c" stroke-width="0.9"/>
<polygon points="1142.5,1714.7 1155.3,1717.4 1152.6,1730.1 1139.8,1727.4" fill="#feca5b" stroke="#feca5b" stroke-width="0.9"/>
<polygon points="1155.3,1717.4 1168.0,1720.1 1165.3,1732.8 1152.6,1730.1" fill="#fec450" stroke="#fec450" stroke-width="0.9"/>
<polygon points="1168.0,1720.1 1180.8,1722.8 1178.1,1735.5 1165.3,1732.8" fill="#febe49" stroke="#febe49" stroke-width="0.9"/>
<polygon points="1180.8,1722.8 1193.5,1725.5 1190.8,1738.2 1178.1,1735.5" fill="#feb542" stroke="#feb542" stroke-width="0.9"/>
<polygon points="1193.5,1725.5 1206.2,1728.2 1203.5,1740.9 1190.8,1738.2" fill="#feab39" stroke="#feab39" stroke-width="0.9"/>
<polygon points="1206.2,1728.2 1219.0,1730.9 1216.3,1743.6 1203.5,1740.9" fill="#fe9e2d" stroke="#fe9e2d" stroke-width="0.9"/>
<polygon points="1219.0,1730.9 1231.7,1733.6 1229.0,1746.3 1216.3,1743.6" fill="#fa9125" stroke="#fa9125" stroke-width="0.9"/>
<polygon points="1231.7,1733.6 1244.4,1736.3 1241.7,1749.0 1229.0,1746.3" fill="#f6861f" stroke="#f6861f" stroke-width="0.9"/>
<polygon points="1244.4,1736.3 1257.2,1739.0 1254.5,1751.7 1241.7,1749.0" fill="#f37f1c" stroke="#f37f1c" stroke-width="0.9"/>
<polygon points="1257.2,1739.0 1269.9,1741.7 1267.2,1754.4 1254.5,1751.7" fill="#f27e1b" stroke="#f27e1b" stroke-width="0.9"/>
<polygon points="1269.9,1741.7 1282.6,1744.4 1280.0,1757.1 1267.2,1754.4" fill="#f68720" stroke="#f68720" stroke-width="0.9"/>
<polygon points="1282.6,1744.4 1295.4,1747.0 1292.7,1759.8 1280.0,1757.1" fill="#fb9225" stroke="#fb9225" stroke-width="0.9"/>
<polygon points="948.8,1687.0 961.5,1689.7 958.8,1702.5 946.1,1699.8" fill="#fee596" stroke="#fee596" stroke-width="0.9"/>
<polygon points="961.5,1689.7 974.3,1692.4 971.6,1705.1 958.8,1702.5" fill="#fee595" stroke="#fee595" stroke-width="0.9"/>
<polygon points="974.3,1692.4 987.0,1695.1 984.3,1707.8 971.6,1705.1" fill="#fee594" stroke="#fee594" stroke-width="0.9"/>
<polygon points="987.0,1695.1 999.7,1697.8 997.0,1710.5 984.3,1707.8" fill="#fee494" stroke="#fee494" stroke-width="0.9"/>
<polygon points="999.7,1697.8 1012.5,1700.5 1009.8,1713.2 997.0,1710.5" fill="#fee493" stroke="#fee493" stroke-width="0.9"/>
<polygon points="1012.5,1700.5 1025.2,1703.2 1022.5,1715.9 1009.8,1713.2" fill="#fee392" stroke="#fee392" stroke-width="0.9"/>
<polygon points="1025.2,1703.2 1038.0,1705.9 1035.3,1718.6 1022.5,1715.9" fill="#fee390" stroke="#fee390" stroke-width="0.9"/>
<polygon points="1038.0,1705.9 1050.7,1708.6 1048.0,1721.3 1035.3,1718.6" fill="#fee28e" stroke="#fee28e" stroke-width="0.9"/>
<polygon points="1050.7,1708.6 1063.4,1711.3 1060.7,1724.0 1048.0,1721.3" fill="#fee18c" stroke="#fee18c" stroke-width="0.9"/>
<polygon points="1063.4,1711.3 1076.2,1714.0 1073.5,1726.7 1060.7,1724.0" fill="#fee08b" stroke="#fee08b" stroke-width="0.9"/>
<polygon points="1076.2,1714.0 1088.9,1716.7 1086.2,1729.4 1073.5,1726.7" fill="#fedf89" stroke="#fedf89" stroke-width="0.9"/>
<polygon points="1088.9,1716.7 1101.6,1719.4 1098.9,1732.1 1086.2,1729.4" fill="#fede87" stroke="#fede87" stroke-width="0.9"/>
<polygon points="1101.6,1719.4 1114.4,1722.1 1111.7,1734.8 1098.9,1732.1" fill="#fedc82" stroke="#fedc82" stroke-width="0.9"/>
<polygon points="1114.4,1722.1 1127.1,1724.7 1124.4,1737.5 1111.7,1734.8" fill="#fed777" stroke="#fed777" stroke-width="0.9"/>
<polygon points="1127.1,1724.7 1139.8,1727.4 1137.2,1740.2 1124.4,1737.5" fill="#fecb5d" stroke="#fecb5d" stroke-width="0.9"/>
<polygon points="1139.8,1727.4 1152.6,1730.1 1149.9,1742.9 1137.2,1740.2" fill="#febc48" stroke="#febc48" stroke-width="0.9"/>
<polygon points="1152.6,1730.1 1165.3,1732.8 1162.6,1745.6 1149.9,1742.9" fill="#feb23f" stroke="#feb23f" stroke-width="0.9"/>
<polygon points="1165.3,1732.8 1178.1,1735.5 1175.4,1748.3 1162.6,1745.6" fill="#feaa38" stroke="#feaa38" stroke-width="0.9"/>
<polygon points="1178.1,1735.5 1190.8,1738.2 1188.1,1751.0 1175.4,1748.3" fill="#fea332" stroke="#fea332" stroke-width="0.9"/>
<polygon points="1190.8,1738.2 1203.5,1740.9 1200.8,1753.7 1188.1,1751.0" fill="#fe9b2b" stroke="#fe9b2b" stroke-width="0.9"/>
<polygon points="1203.5,1740.9 1216.3,1743.6 1213.6,1756.4 1200.8,1753.7" fill="#fa9024" stroke="#fa9024" stroke-width="0.9"/>
<polygon points="1216.3,1743.6 1229.0,1746.3 1226.3,1759.0 1213.6,1756.4" fill="#f5841e" stroke="#f5841e" stroke-width="0.9"/>
<polygon points="1229.0,1746.3 1241.7,1749.0 1239.0,1761.7 1226.3,1759.0" fill="#f17b19" stroke="#f17b19" stroke-width="0.9"/>
<polygon points="1241.7,1749.0 1254.5,1751.7 1251.8,1764.4 1239.0,1761.7" fill="#ef7718" stroke="#ef7718" stroke-width="0.9"/>
<polygon points="1254.5,1751.7 1267.2,1754.4 1264.5,1767.1 1251.8,1764.4" fill="#f07919" stroke="#f07919" stroke-width="0.9"/>
<polygon points="1267.2,1754.4 1280.0,1757.1 1277.3,1769.8 1264.5,1767.1" fill="#f4831e" stroke="#f4831e" stroke-width="0.9"/>
<polygon points="1280.0,1757.1 1292.7,1759.8 1290.0,1772.5 1277.3,1769.8" fill="#f98e24" stroke="#f98e24" stroke-width="0.9"/>
<polygon points="1292.7,1759.8 1305.4,1762.5 1302.7,1775.2 1290.0,1772.5" fill="#fd9728" stroke="#fd9728" stroke-width="0.9"/>
<polygon points="946.1,1699.8 958.8,1702.5 956.1,1715.2 943.4,1712.5" fill="#fee595" stroke="#fee595" stroke-width="0.9"/>
<polygon points="958.8,1702.5 971.6,1705.1 968.9,1717.9 956.1,1715.2" fill="#fee494" stroke="#fee494" stroke-width="0.9"/>
<polygon points="971.6,1705.1 984.3,1707.8 981.6,1720.6 968.9,1717.9" fill="#fee493" stroke="#fee493" stroke-width="0.9"/>
<polygon points="984.3,1707.8 997.0,1710.5 994.4,1723.3 981.6,1720.6" fill="#fee492" stroke="#fee492" stroke-width="0.9"/>
<polygon points="997.0,1710.5 1009.8,1713.2 1007.1,1726.0 994.4,1723.3" fill="#fee391" stroke="#fee391" stroke-width="0.9"/>
<polygon points="1009.8,1713.2 1022.5,1715.9 1019.8,1728.7 1007.1,1726.0" fill="#fee28f" stroke="#fee28f" stroke-width="0.9"/>
<polygon points="1022.5,1715.9 1035.3,1718.6 1032.6,1731.4 1019.8,1728.7" fill="#fee18d" stroke="#fee18d" stroke-width="0.9"/>
<polygon points="1035.3,1718.6 1048.0,1721.3 1045.3,1734.1 1032.6,1731.4" fill="#fee08a" stroke="#fee08a" stroke-width="0.9"/>
<polygon points="1048.0,1721.3 1060.7,1724.0 1058.0,1736.7 1045.3,1734.1" fill="#fede87" stroke="#fede87" stroke-width="0.9"/>
<polygon points="1060.7,1724.0 1073.5,1726.7 1070.8,1739.4 1058.0,1736.7" fill="#fedd85" stroke="#fedd85" stroke-width="0.9"/>
<polygon points="1073.5,1726.7 1086.2,1729.4 1083.5,1742.1 1070.8,1739.4" fill="#fedc83" stroke="#fedc83" stroke-width="0.9"/>
<polygon points="1086.2,1729.4 1098.9,1732.1 1096.2,1744.8 1083.5,1742.1" fill="#fedb81" stroke="#fedb81" stroke-width="0.9"/>
<polygon points="1098.9,1732.1 1111.7,1734.8 1109.0,1747.5 1096.2,1744.8" fill="#fed97b" stroke="#fed97b" stroke-width="0.9"/>
<polygon points="1111.7,1734.8 1124.4,1737.5 1121.7,1750.2 1109.0,1747.5" fill="#fed471" stroke="#fed471" stroke-width="0.9"/>
<polygon points="1124.4,1737.5 1137.2,1740.2 1134.5,1752.9 1121.7,1750.2" fill="#fec24d" stroke="#fec24d" stroke-width="0.9"/>
<polygon points="1137.2,1740.2 1149.9,1742.9 1147.2,1755.6 1134.5,1752.9" fill="#fea736" stroke="#fea736" stroke-width="0.9"/>
<polygon points="1149.9,1742.9 1162.6,1745.6 1159.9,1758.3 1147.2,1755.6" fill="#fea130" stroke="#fea130" stroke-width="0.9"/>
<polygon points="1162.6,1745.6 1175.4,1748.3 1172.7,1761.0 1159.9,1758.3" fill="#fe9a2a" stroke="#fe9a2a" stroke-width="0.9"/>
<polygon points="1175.4,1748.3 1188.1,1751.0 1185.4,1763.7 1172.7,1761.0" fill="#fc9527" stroke="#fc9527" stroke-width="0.9"/>
<polygon points="1188.1,1751.0 1200.8,1753.7 1198.1,1766.4 1185.4,1763.7" fill="#f98d23" stroke="#f98d23" stroke-width="0.9"/>
<polygon points="1200.8,1753.7 1213.6,1756.4 1210.9,1769.1 1198.1,1766.4" fill="#f4831e" stroke="#f4831e" stroke-width="0.9"/>
<polygon points="1213.6,1756.4 1226.3,1759.0 1223.6,1771.8 1210.9,1769.1" fill="#f07918" stroke="#f07918" stroke-width="0.9"/>
<polygon points="1226.3,1759.0 1239.0,1761.7 1236.4,1774.5 1223.6,1771.8" fill="#ed7115" stroke="#ed7115" stroke-width="0.9"/>
<polygon points="1239.0,1761.7 1251.8,1764.4 1249.1,1777.2 1236.4,1774.5" fill="#ec7014" stroke="#ec7014" stroke-width="0.9"/>
<polygon points="1251.8,1764.4 1264.5,1767.1 1261.8,1779.9 1249.1,1777.2" fill="#ee7516" stroke="#ee7516" stroke-width="0.9"/>
<polygon points="1264.5,1767.1 1277.3,1769.8 1274.6,1782.6 1261.8,1779.9" fill="#f37f1c" stroke="#f37f1c" stroke-width="0.9"/>
<polygon points="1277.3,1769.8 1290.0,1772.5 1287.3,1785.3 1274.6,1782.6" fill="#f88c22" stroke="#f88c22" stroke-width="0.9"/>
<polygon points="1290.0,1772.5 1302.7,1775.2 1300.0,1788.0 1287.3,1785.3" fill="#fd9628" stroke="#fd9628" stroke-width="0.9"/>
<polygon points="943.4,1712.5 956.1,1715.2 953.4,1727.9 940.7,1725.2" fill="#fee494" stroke="#fee494" stroke-width="0.9"/>
<polygon points="956.1,1715.2 968.9,1717.9 966.2,1730.6 953.4,1727.9" fill="#fee493" stroke="#fee493" stroke-width="0.9"/>
<polygon points="968.9,1717.9 981.6,1720.6 978.9,1733.3 966.2,1730.6" fill="#fee492" stroke="#fee492" stroke-width="0.9"/>
<polygon points="981.6,1720.6 994.4,1723.3 991.7,1736.0 978.9,1733.3" fill="#fee391" stroke="#fee391" stroke-width="0.9"/>
<polygon points="994.4,1723.3 1007.1,1726.0 1004.4,1738.7 991.7,1736.0" fill="#fee28f" stroke="#fee28f" stroke-width="0.9"/>
<polygon points="1007.1,1726.0 1019.8,1728.7 1017.1,1741.4 1004.4,1738.7" fill="#fee18c" stroke="#fee18c" stroke-width="0.9"/>
<polygon points="1019.8,1728.7 1032.6,1731.4 1029.9,1744.1 1017.1,1741.4" fill="#fedf89" stroke="#fedf89" stroke-width="0.9"/>
<polygon points="1032.6,1731.4 1045.3,1734.1 1042.6,1746.8 1029.9,1744.1" fill="#fedd85" stroke="#fedd85" stroke-width="0.9"/>
<polygon points="1045.3,1734.1 1058.0,1736.7 1055.3,1749.5 1042.6,1746.8" fill="#fedb81" stroke="#fedb81" stroke-width="0.9"/>
<polygon points="1058.0,1736.7 1070.8,1739.4 1068.1,1752.2 1055.3,1749.5" fill="#feda7d" stroke="#feda7d" stroke-width="0.9"/>
<polygon points="1070.8,1739.4 1083.5,1742.1 1080.8,1754.9 1068.1,1752.2" fill="#fed97b" stroke="#fed97b" stroke-width="0.9"/>
<polygon points="1083.5,1742.1 1096.2,1744.8 1093.6,1757.6 1080.8,1754.9" fill="#fed879" stroke="#fed879" stroke-width="0.9"/>
<polygon points="1096.2,1744.8 1109.0,1747.5 1106.3,1760.3 1093.6,1757.6" fill="#fed572" stroke="#fed572" stroke-width="0.9"/>
<polygon points="1109.0,1747.5 1121.7,1750.2 1119.0,1763.0 1106.3,1760.3" fill="#fecb5f" stroke="#fecb5f" stroke-width="0.9"/>
<polygon points="1121.7,1750.2 1134.5,1752.9 1131.8,1765.7 1119.0,1763.0" fill="#feb945" stroke="#feb945" stroke-width="0.9"/>
<polygon points="1134.5,1752.9 1147.2,1755.6 1144.5,1768.4 1131.8,1765.7" fill="#fea332" stroke="#fea332" stroke-width="0.9"/>
<polygon points="1147.2,1755.6 1159.9,1758.3 1157.2,1771.0 1144.5,1768.4" fill="#fe9828" stroke="#fe9828" stroke-width="0.9"/>
<polygon points="1159.9,1758.3 1172.7,1761.0 1170.0,1773.7 1157.2,1771.0" fill="#fb9225" stroke="#fb9225" stroke-width="0.9"/>
<polygon points="1172.7,1761.0 1185.4,1763.7 1182.7,1776.4 1170.0,1773.7" fill="#f88c22" stroke="#f88c22" stroke-width="0.9"/>
<polygon points="1185.4,1763.7 1198.1,1766.4 1195.4,1779.1 1182.7,1776.4" fill="#f4831e" stroke="#f4831e" stroke-width="0.9"/>
<polygon points="1198.1,1766.4 1210.9,1769.1 1208.2,1781.8 1195.4,1779.1" fill="#f07818" stroke="#f07818" stroke-width="0.9"/>
<polygon points="1210.9,1769.1 1223.6,1771.8 1220.9,1784.5 1208.2,1781.8" fill="#ea6e13" stroke="#ea6e13" stroke-width="0.9"/>
<polygon points="1223.6,1771.8 1236.4,1774.5 1233.7,1787.2 1220.9,1784.5" fill="#e46710" stroke="#e46710" stroke-width="0.9"/>
<polygon points="1236.4,1774.5 1249.1,1777.2 1246.4,1789.9 1233.7,1787.2" fill="#e46710" stroke="#e46710" stroke-width="0.9"/>
<polygon points="1249.1,1777.2 1261.8,1779.9 1259.1,1792.6 1246.4,1789.9" fill="#ea6e13" stroke="#ea6e13" stroke-width="0.9"/>
<polygon points="1261.8,1779.9 1274.6,1782.6 1271.9,1795.3 1259.1,1792.6" fill="#f07a19" stroke="#f07a19" stroke-width="0.9"/>
<polygon points="1274.6,1782.6 1287.3,1785.3 1284.6,1798.0 1271.9,1795.3" fill="#f68720" stroke="#f68720" stroke-width="0.9"/>
<polygon points="1287.3,1785.3 1300.0,1788.0 1297.3,1800.7 1284.6,1798.0" fill="#fb9225" stroke="#fb9225" stroke-width="0.9"/>
<polygon points="940.7,1725.2 953.4,1727.9 950.8,1740.7 938.0,1738.0" fill="#fee493" stroke="#fee493" stroke-width="0.9"/>
<polygon points="953.4,1727.9 966.2,1730.6 963.5,1743.4 950.8,1740.7" fill="#fee392" stroke="#fee392" stroke-width="0.9"/>
<polygon points="966.2,1730.6 978.9,1733.3 976.2,1746.1 963.5,1743.4" fill="#fee391" stroke="#fee391" stroke-width="0.9"/>
<polygon points="978.9,1733.3 991.7,1736.0 989.0,1748.7 976.2,1746.1" fill="#fee28f" stroke="#fee28f" stroke-width="0.9"/>
<polygon points="991.7,1736.0 1004.4,1738.7 1001.7,1751.4 989.0,1748.7" fill="#fee18d" stroke="#fee18d" stroke-width="0.9"/>
<polygon points="1004.4,1738.7 1017.1,1741.4 1014.4,1754.1 1001.7,1751.4" fill="#fee08a" stroke="#fee08a" stroke-width="0.9"/>
<polygon points="1017.1,1741.4 1029.9,1744.1 1027.2,1756.8 1014.4,1754.1" fill="#fede86" stroke="#fede86" stroke-width="0.9"/>
<polygon points="1029.9,1744.1 1042.6,1746.8 1039.9,1759.5 1027.2,1756.8" fill="#fedc81" stroke="#fedc81" stroke-width="0.9"/>
<polygon points="1042.6,1746.8 1055.3,1749.5 1052.6,1762.2 1039.9,1759.5" fill="#fed97b" stroke="#fed97b" stroke-width="0.9"/>
<polygon points="1055.3,1749.5 1068.1,1752.2 1065.4,1764.9 1052.6,1762.2" fill="#fed674" stroke="#fed674" stroke-width="0.9"/>
<polygon points="1068.1,1752.2 1080.8,1754.9 1078.1,1767.6 1065.4,1764.9" fill="#fed573" stroke="#fed573" stroke-width="0.9"/>
<polygon points="1080.8,1754.9 1093.6,1757.6 1090.9,1770.3 1078.1,1767.6" fill="#fed470" stroke="#fed470" stroke-width="0.9"/>
<polygon points="1093.6,1757.6 1106.3,1760.3 1103.6,1773.0 1090.9,1770.3" fill="#fed069" stroke="#fed069" stroke-width="0.9"/>
<polygon points="1106.3,1760.3 1119.0,1763.0 1116.3,1775.7 1103.6,1773.0" fill="#fec654" stroke="#fec654" stroke-width="0.9"/>
<polygon points="1119.0,1763.0 1131.8,1765.7 1129.1,1778.4 1116.3,1775.7" fill="#feb441" stroke="#feb441" stroke-width="0.9"/>
<polygon points="1131.8,1765.7 1144.5,1768.4 1141.8,1781.1 1129.1,1778.4" fill="#fe9f2f" stroke="#fe9f2f" stroke-width="0.9"/>
<polygon points="1144.5,1768.4 1157.2,1771.0 1154.5,1783.8 1141.8,1781.1" fill="#fb9326" stroke="#fb9326" stroke-width="0.9"/>
<polygon points="1157.2,1771.0 1170.0,1773.7 1167.3,1786.5 1154.5,1783.8" fill="#f88c23" stroke="#f88c23" stroke-width="0.9"/>
<polygon points="1170.0,1773.7 1182.7,1776.4 1180.0,1789.2 1167.3,1786.5" fill="#f5851f" stroke="#f5851f" stroke-width="0.9"/>
<polygon points="1182.7,1776.4 1195.4,1779.1 1192.8,1791.9 1180.0,1789.2" fill="#f07a19" stroke="#f07a19" stroke-width="0.9"/>
<polygon points="1195.4,1779.1 1208.2,1781.8 1205.5,1794.6 1192.8,1791.9" fill="#ea6e13" stroke="#ea6e13" stroke-width="0.9"/>
<polygon points="1208.2,1781.8 1220.9,1784.5 1218.2,1797.3 1205.5,1794.6" fill="#e1630e" stroke="#e1630e" stroke-width="0.9"/>
<polygon points="1220.9,1784.5 1233.7,1787.2 1231.0,1800.0 1218.2,1797.3" fill="#da5c0a" stroke="#da5c0a" stroke-width="0.9"/>
<polygon points="1233.7,1787.2 1246.4,1789.9 1243.7,1802.6 1231.0,1800.0" fill="#db5d0a" stroke="#db5d0a" stroke-width="0.9"/>
<polygon points="1246.4,1789.9 1259.1,1792.6 1256.4,1805.3 1243.7,1802.6" fill="#e4670f" stroke="#e4670f" stroke-width="0.9"/>
<polygon points="1259.1,1792.6 1271.9,1795.3 1269.2,1808.0 1256.4,1805.3" fill="#ee7517" stroke="#ee7517" stroke-width="0.9"/>
<polygon points="1271.9,1795.3 1284.6,1798.0 1281.9,1810.7 1269.2,1808.0" fill="#f4831e" stroke="#f4831e" stroke-width="0.9"/>
<polygon points="1284.6,1798.0 1297.3,1800.7 1294.6,1813.4 1281.9,1810.7" fill="#f98f24" stroke="#f98f24" stroke-width="0.9"/>
<polygon points="950.8,1740.7 963.5,1743.4 960.8,1756.1 948.1,1753.4" fill="#fee391" stroke="#fee391" stroke-width="0.9"/>
<polygon points="963.5,1743.4 976.2,1746.1 973.5,1758.8 960.8,1756.1" fill="#fee28f" stroke="#fee28f" stroke-width="0.9"/>
<polygon points="976.2,1746.1 989.0,1748.7 986.3,1761.5 973.5,1758.8" fill="#fee18d" stroke="#fee18d" stroke-width="0.9"/>
<polygon points="989.0,1748.7 1001.7,1751.4 999.0,1764.2 986.3,1761.5" fill="#fee08b" stroke="#fee08b" stroke-width="0.9"/>
<polygon points="1001.7,1751.4 1014.4,1754.1 1011.7,1766.9 999.0,1764.2" fill="#fedf88" stroke="#fedf88" stroke-width="0.9"/>
<polygon points="1014.4,1754.1 1027.2,1756.8 1024.5,1769.6 1011.7,1766.9" fill="#fedd84" stroke="#fedd84" stroke-width="0.9"/>
<polygon points="1027.2,1756.8 1039.9,1759.5 1037.2,1772.3 1024.5,1769.6" fill="#feda7f" stroke="#feda7f" stroke-width="0.9"/>
<polygon points="1039.9,1759.5 1052.6,1762.2 1050.0,1775.0 1037.2,1772.3" fill="#fed778" stroke="#fed778" stroke-width="0.9"/>
<polygon points="1052.6,1762.2 1065.4,1764.9 1062.7,1777.7 1050.0,1775.0" fill="#fed472" stroke="#fed472" stroke-width="0.9"/>
<polygon points="1065.4,1764.9 1078.1,1767.6 1075.4,1780.3 1062.7,1777.7" fill="#fed26d" stroke="#fed26d" stroke-width="0.9"/>
<polygon points="1078.1,1767.6 1090.9,1770.3 1088.2,1783.0 1075.4,1780.3" fill="#fed068" stroke="#fed068" stroke-width="0.9"/>
<polygon points="1090.9,1770.3 1103.6,1773.0 1100.9,1785.7 1088.2,1783.0" fill="#fecc60" stroke="#fecc60" stroke-width="0.9"/>
<polygon points="1103.6,1773.0 1116.3,1775.7 1113.6,1788.4 1100.9,1785.7" fill="#fec44f" stroke="#fec44f" stroke-width="0.9"/>
<polygon points="1116.3,1775.7 1129.1,1778.4 1126.4,1791.1 1113.6,1788.4" fill="#feb23f" stroke="#feb23f" stroke-width="0.9"/>
<polygon points="1129.1,1778.4 1141.8,1781.1 1139.1,1793.8 1126.4,1791.1" fill="#fe9e2d" stroke="#fe9e2d" stroke-width="0.9"/>
<polygon points="1141.8,1781.1 1154.5,1783.8 1151.8,1796.5 1139.1,1793.8" fill="#fa8f24" stroke="#fa8f24" stroke-width="0.9"/>
<polygon points="1154.5,1783.8 1167.3,1786.5 1164.6,1799.2 1151.8,1796.5" fill="#f6861f" stroke="#f6861f" stroke-width="0.9"/>
<polygon points="1167.3,1786.5 1180.0,1789.2 1177.3,1801.9 1164.6,1799.2" fill="#f27d1b" stroke="#f27d1b" stroke-width="0.9"/>
<polygon points="1180.0,1789.2 1192.8,1791.9 1190.1,1804.6 1177.3,1801.9" fill="#ed7115" stroke="#ed7115" stroke-width="0.9"/>
<polygon points="1192.8,1791.9 1205.5,1794.6 1202.8,1807.3 1190.1,1804.6" fill="#e3660f" stroke="#e3660f" stroke-width="0.9"/>
<polygon points="1205.5,1794.6 1218.2,1797.3 1215.5,1810.0 1202.8,1807.3" fill="#d85909" stroke="#d85909" stroke-width="0.9"/>
<polygon points="1218.2,1797.3 1231.0,1800.0 1228.3,1812.7 1215.5,1810.0" fill="#ce4e03" stroke="#ce4e03" stroke-width="0.9"/>
<polygon points="1231.0,1800.0 1243.7,1802.6 1241.0,1815.4 1228.3,1812.7" fill="#cf4f04" stroke="#cf4f04" stroke-width="0.9"/>
<polygon points="1243.7,1802.6 1256.4,1805.3 1253.7,1818.1 1241.0,1815.4" fill="#dd5f0c" stroke="#dd5f0c" stroke-width="0.9"/>
<polygon points="1256.4,1805.3 1269.2,1808.0 1266.5,1820.8 1253.7,1818.1" fill="#ec7114" stroke="#ec7114" stroke-width="0.9"/>
<polygon points="1269.2,1808.0 1281.9,1810.7 1279.2,1823.5 1266.5,1820.8" fill="#f3801c" stroke="#f3801c" stroke-width="0.9"/>
<polygon points="1281.9,1810.7 1294.6,1813.4 1292.0,1826.2 1279.2,1823.5" fill="#f88c22" stroke="#f88c22" stroke-width="0.9"/>
<polygon points="948.1,1753.4 960.8,1756.1 958.1,1768.8 945.4,1766.1" fill="#fee28f" stroke="#fee28f" stroke-width="0.9"/>
<polygon points="960.8,1756.1 973.5,1758.8 970.8,1771.5 958.1,1768.8" fill="#fee18e" stroke="#fee18e" stroke-width="0.9"/>
<polygon points="973.5,1758.8 986.3,1761.5 983.6,1774.2 970.8,1771.5" fill="#fee18c" stroke="#fee18c" stroke-width="0.9"/>
<polygon points="986.3,1761.5 999.0,1764.2 996.3,1776.9 983.6,1774.2" fill="#fee08a" stroke="#fee08a" stroke-width="0.9"/>
<polygon points="999.0,1764.2 1011.7,1766.9 1009.0,1779.6 996.3,1776.9" fill="#fede87" stroke="#fede87" stroke-width="0.9"/>
<polygon points="1011.7,1766.9 1024.5,1769.6 1021.8,1782.3 1009.0,1779.6" fill="#fedc83" stroke="#fedc83" stroke-width="0.9"/>
<polygon points="1024.5,1769.6 1037.2,1772.3 1034.5,1785.0 1021.8,1782.3" fill="#feda7e" stroke="#feda7e" stroke-width="0.9"/>
<polygon points="1037.2,1772.3 1050.0,1775.0 1047.3,1787.7 1034.5,1785.0" fill="#fed778" stroke="#fed778" stroke-width="0.9"/>
<polygon points="1050.0,1775.0 1062.7,1777.7 1060.0,1790.4 1047.3,1787.7" fill="#fed472" stroke="#fed472" stroke-width="0.9"/>
<polygon points="1062.7,1777.7 1075.4,1780.3 1072.7,1793.1 1060.0,1790.4" fill="#fed26c" stroke="#fed26c" stroke-width="0.9"/>
<polygon points="1075.4,1780.3 1088.2,1783.0 1085.5,1795.8 1072.7,1793.1" fill="#fecf66" stroke="#fecf66" stroke-width="0.9"/>
<polygon points="1088.2,1783.0 1100.9,1785.7 1098.2,1798.5 1085.5,1795.8" fill="#fecb5f" stroke="#fecb5f" stroke-width="0.9"/>
<polygon points="1100.9,1785.7 1113.6,1788.4 1110.9,1801.2 1098.2,1798.5" fill="#fec44f" stroke="#fec44f" stroke-width="0.9"/>
<polygon points="1113.6,1788.4 1126.4,1791.1 1123.7,1803.9 1110.9,1801.2" fill="#feb340" stroke="#feb340" stroke-width="0.9"/>
<polygon points="1126.4,1791.1 1139.1,1793.8 1136.4,1806.6 1123.7,1803.9" fill="#fe9f2f" stroke="#fe9f2f" stroke-width="0.9"/>
<polygon points="1139.1,1793.8 1151.8,1796.5 1149.2,1809.3 1136.4,1806.6" fill="#f88c22" stroke="#f88c22" stroke-width="0.9"/>
<polygon points="1151.8,1796.5 1164.6,1799.2 1161.9,1812.0 1149.2,1809.3" fill="#f3811d" stroke="#f3811d" stroke-width="0.9"/>
<polygon points="1164.6,1799.2 1177.3,1801.9 1174.6,1814.6 1161.9,1812.0" fill="#ef7717" stroke="#ef7717" stroke-width="0.9"/>
<polygon points="1177.3,1801.9 1190.1,1804.6 1187.4,1817.3 1174.6,1814.6" fill="#e76a11" stroke="#e76a11" stroke-width="0.9"/>
<polygon points="1190.1,1804.6 1202.8,1807.3 1200.1,1820.0 1187.4,1817.3" fill="#dc5e0b" stroke="#dc5e0b" stroke-width="0.9"/>
<polygon points="1202.8,1807.3 1215.5,1810.0 1212.8,1822.7 1200.1,1820.0" fill="#d05104" stroke="#d05104" stroke-width="0.9"/>
<polygon points="1215.5,1810.0 1228.3,1812.7 1225.6,1825.4 1212.8,1822.7" fill="#c54902" stroke="#c54902" stroke-width="0.9"/>
<polygon points="1228.3,1812.7 1241.0,1815.4 1238.3,1828.1 1225.6,1825.4" fill="#ca4b02" stroke="#ca4b02" stroke-width="0.9"/>
<polygon points="1241.0,1815.4 1253.7,1818.1 1251.0,1830.8 1238.3,1828.1" fill="#d95b09" stroke="#d95b09" stroke-width="0.9"/>
<polygon points="1253.7,1818.1 1266.5,1820.8 1263.8,1833.5 1251.0,1830.8" fill="#e96d12" stroke="#e96d12" stroke-width="0.9"/>
<polygon points="1266.5,1820.8 1279.2,1823.5 1276.5,1836.2 1263.8,1833.5" fill="#f27e1b" stroke="#f27e1b" stroke-width="0.9"/>
<polygon points="1279.2,1823.5 1292.0,1826.2 1289.3,1838.9 1276.5,1836.2" fill="#f88b22" stroke="#f88b22" stroke-width="0.9"/>
<polygon points="1292.0,1826.2 1304.7,1828.9 1302.0,1841.6 1289.3,1838.9" fill="#fc9627" stroke="#fc9627" stroke-width="0.9"/>
<polygon points="945.4,1766.1 958.1,1768.8 955.4,1781.6 942.7,1778.9" fill="#fee18d" stroke="#fee18d" stroke-width="0.9"/>
<polygon points="958.1,1768.8 970.8,1771.5 968.1,1784.3 955.4,1781.6" fill="#fee18c" stroke="#fee18c" stroke-width="0.9"/>
<polygon points="970.8,1771.5 983.6,1774.2 980.9,1787.0 968.1,1784.3" fill="#fee08b" stroke="#fee08b" stroke-width="0.9"/>
<polygon points="983.6,1774.2 996.3,1776.9 993.6,1789.7 980.9,1787.0" fill="#fedf88" stroke="#fedf88" stroke-width="0.9"/>
<polygon points="996.3,1776.9 1009.0,1779.6 1006.4,1792.3 993.6,1789.7" fill="#fede86" stroke="#fede86" stroke-width="0.9"/>
<polygon points="1009.0,1779.6 1021.8,1782.3 1019.1,1795.0 1006.4,1792.3" fill="#fedc82" stroke="#fedc82" stroke-width="0.9"/>
<polygon points="1021.8,1782.3 1034.5,1785.0 1031.8,1797.7 1019.1,1795.0" fill="#feda7d" stroke="#feda7d" stroke-width="0.9"/>
<polygon points="1034.5,1785.0 1047.3,1787.7 1044.6,1800.4 1031.8,1797.7" fill="#fed777" stroke="#fed777" stroke-width="0.9"/>
<polygon points="1047.3,1787.7 1060.0,1790.4 1057.3,1803.1 1044.6,1800.4" fill="#fed472" stroke="#fed472" stroke-width="0.9"/>
<polygon points="1060.0,1790.4 1072.7,1793.1 1070.0,1805.8 1057.3,1803.1" fill="#fed26c" stroke="#fed26c" stroke-width="0.9"/>
<polygon points="1072.7,1793.1 1085.5,1795.8 1082.8,1808.5 1070.0,1805.8" fill="#fecf66" stroke="#fecf66" stroke-width="0.9"/>
<polygon points="1085.5,1795.8 1098.2,1798.5 1095.5,1811.2 1082.8,1808.5" fill="#fecb5f" stroke="#fecb5f" stroke-width="0.9"/>
<polygon points="1098.2,1798.5 1110.9,1801.2 1108.2,1813.9 1095.5,1811.2" fill="#fec44f" stroke="#fec44f" stroke-width="0.9"/>
<polygon points="1110.9,1801.2 1123.7,1803.9 1121.0,1816.6 1108.2,1813.9" fill="#feb340" stroke="#feb340" stroke-width="0.9"/>
<polygon points="1123.7,1803.9 1136.4,1806.6 1133.7,1819.3 1121.0,1816.6" fill="#fe9e2d" stroke="#fe9e2d" stroke-width="0.9"/>
<polygon points="1136.4,1806.6 1149.2,1809.3 1146.5,1822.0 1133.7,1819.3" fill="#f78921" stroke="#f78921" stroke-width="0.9"/>
<polygon points="1149.2,1809.3 1161.9,1812.0 1159.2,1824.7 1146.5,1822.0" fill="#f27e1b" stroke="#f27e1b" stroke-width="0.9"/>
<polygon points="1161.9,1812.0 1174.6,1814.6 1171.9,1827.4 1159.2,1824.7" fill="#ed7215" stroke="#ed7215" stroke-width="0.9"/>
<polygon points="1174.6,1814.6 1187.4,1817.3 1184.7,1830.1 1171.9,1827.4" fill="#e2640e" stroke="#e2640e" stroke-width="0.9"/>
<polygon points="1187.4,1817.3 1200.1,1820.0 1197.4,1832.8 1184.7,1830.1" fill="#d35406" stroke="#d35406" stroke-width="0.9"/>
<polygon points="1200.1,1820.0 1212.8,1822.7 1210.1,1835.5 1197.4,1832.8" fill="#c44802" stroke="#c44802" stroke-width="0.9"/>
<polygon points="1212.8,1822.7 1225.6,1825.4 1222.9,1838.2 1210.1,1835.5" fill="#bc4503" stroke="#bc4503" stroke-width="0.9"/>
<polygon points="1225.6,1825.4 1238.3,1828.1 1235.6,1840.9 1222.9,1838.2" fill="#c64902" stroke="#c64902" stroke-width="0.9"/>
<polygon points="1238.3,1828.1 1251.0,1830.8 1248.4,1843.6 1235.6,1840.9" fill="#d85909" stroke="#d85909" stroke-width="0.9"/>
<polygon points="1251.0,1830.8 1263.8,1833.5 1261.1,1846.2 1248.4,1843.6" fill="#e96c12" stroke="#e96c12" stroke-width="0.9"/>
<polygon points="1263.8,1833.5 1276.5,1836.2 1273.8,1848.9 1261.1,1846.2" fill="#f27e1b" stroke="#f27e1b" stroke-width="0.9"/>
<polygon points="1276.5,1836.2 1289.3,1838.9 1286.6,1851.6 1273.8,1848.9" fill="#f98d23" stroke="#f98d23" stroke-width="0.9"/>
<polygon points="1289.3,1838.9 1302.0,1841.6 1299.3,1854.3 1286.6,1851.6" fill="#fd9728" stroke="#fd9728" stroke-width="0.9"/>
<polygon points="942.7,1778.9 955.4,1781.6 952.7,1794.3 940.0,1791.6" fill="#fee08c" stroke="#fee08c" stroke-width="0.9"/>
<polygon points="955.4,1781.6 968.1,1784.3 965.4,1797.0 952.7,1794.3" fill="#fee08a" stroke="#fee08a" stroke-width="0.9"/>
<polygon points="968.1,1784.3 980.9,1787.0 978.2,1799.7 965.4,1797.0" fill="#fedf89" stroke="#fedf89" stroke-width="0.9"/>
<polygon points="980.9,1787.0 993.6,1789.7 990.9,1802.4 978.2,1799.7" fill="#fedf87" stroke="#fedf87" stroke-width="0.9"/>
<polygon points="993.6,1789.7 1006.4,1792.3 1003.7,1805.1 990.9,1802.4" fill="#fedd85" stroke="#fedd85" stroke-width="0.9"/>
<polygon points="1006.4,1792.3 1019.1,1795.0 1016.4,1807.8 1003.7,1805.1" fill="#fedc82" stroke="#fedc82" stroke-width="0.9"/>
<polygon points="1019.1,1795.0 1031.8,1797.7 1029.1,1810.5 1016.4,1807.8" fill="#feda7d" stroke="#feda7d" stroke-width="0.9"/>
<polygon points="1031.8,1797.7 1044.6,1800.4 1041.9,1813.2 1029.1,1810.5" fill="#fed777" stroke="#fed777" stroke-width="0.9"/>
<polygon points="1044.6,1800.4 1057.3,1803.1 1054.6,1815.9 1041.9,1813.2" fill="#fed471" stroke="#fed471" stroke-width="0.9"/>
<polygon points="1057.3,1803.1 1070.0,1805.8 1067.3,1818.6 1054.6,1815.9" fill="#fed16c" stroke="#fed16c" stroke-width="0.9"/>
<polygon points="1070.0,1805.8 1082.8,1808.5 1080.1,1821.3 1067.3,1818.6" fill="#fecf66" stroke="#fecf66" stroke-width="0.9"/>
<polygon points="1082.8,1808.5 1095.5,1811.2 1092.8,1824.0 1080.1,1821.3" fill="#feca5b" stroke="#feca5b" stroke-width="0.9"/>
<polygon points="1095.5,1811.2 1108.2,1813.9 1105.6,1826.6 1092.8,1824.0" fill="#fec14c" stroke="#fec14c" stroke-width="0.9"/>
<polygon points="1108.2,1813.9 1121.0,1816.6 1118.3,1829.3 1105.6,1826.6" fill="#feb340" stroke="#feb340" stroke-width="0.9"/>
<polygon points="1121.0,1816.6 1133.7,1819.3 1131.0,1832.0 1118.3,1829.3" fill="#fea030" stroke="#fea030" stroke-width="0.9"/>
<polygon points="1133.7,1819.3 1146.5,1822.0 1143.8,1834.7 1131.0,1832.0" fill="#f88b22" stroke="#f88b22" stroke-width="0.9"/>
<polygon points="1146.5,1822.0 1159.2,1824.7 1156.5,1837.4 1143.8,1834.7" fill="#f17c1a" stroke="#f17c1a" stroke-width="0.9"/>
<polygon points="1159.2,1824.7 1171.9,1827.4 1169.2,1840.1 1156.5,1837.4" fill="#ec7114" stroke="#ec7114" stroke-width="0.9"/>
<polygon points="1171.9,1827.4 1184.7,1830.1 1182.0,1842.8 1169.2,1840.1" fill="#df610c" stroke="#df610c" stroke-width="0.9"/>
<polygon points="1184.7,1830.1 1197.4,1832.8 1194.7,1845.5 1182.0,1842.8" fill="#ca4b02" stroke="#ca4b02" stroke-width="0.9"/>
<polygon points="1197.4,1832.8 1210.1,1835.5 1207.4,1848.2 1194.7,1845.5" fill="#b34003" stroke="#b34003" stroke-width="0.9"/>
<polygon points="1210.1,1835.5 1222.9,1838.2 1220.2,1850.9 1207.4,1848.2" fill="#b34003" stroke="#b34003" stroke-width="0.9"/>
<polygon points="1222.9,1838.2 1235.6,1840.9 1232.9,1853.6 1220.2,1850.9" fill="#c34802" stroke="#c34802" stroke-width="0.9"/>
<polygon points="1235.6,1840.9 1248.4,1843.6 1245.7,1856.3 1232.9,1853.6" fill="#d95b09" stroke="#d95b09" stroke-width="0.9"/>
<polygon points="1248.4,1843.6 1261.1,1846.2 1258.4,1859.0 1245.7,1856.3" fill="#ec7014" stroke="#ec7014" stroke-width="0.9"/>
<polygon points="1261.1,1846.2 1273.8,1848.9 1271.1,1861.7 1258.4,1859.0" fill="#f4811d" stroke="#f4811d" stroke-width="0.9"/>
<polygon points="1273.8,1848.9 1286.6,1851.6 1283.9,1864.4 1271.1,1861.7" fill="#fa9024" stroke="#fa9024" stroke-width="0.9"/>
<polygon points="1286.6,1851.6 1299.3,1854.3 1296.6,1867.1 1283.9,1864.4" fill="#fe9a2a" stroke="#fe9a2a" stroke-width="0.9"/>
<polygon points="952.7,1794.3 965.4,1797.0 962.7,1809.7 950.0,1807.0" fill="#fedf88" stroke="#fedf88" stroke-width="0.9"/>
<polygon points="965.4,1797.0 978.2,1799.7 975.5,1812.4 962.7,1809.7" fill="#fedf87" stroke="#fedf87" stroke-width="0.9"/>
<polygon points="978.2,1799.7 990.9,1802.4 988.2,1815.1 975.5,1812.4" fill="#fede86" stroke="#fede86" stroke-width="0.9"/>
<polygon points="990.9,1802.4 1003.7,1805.1 1001.0,1817.8 988.2,1815.1" fill="#fedd85" stroke="#fedd85" stroke-width="0.9"/>
<polygon points="1003.7,1805.1 1016.4,1807.8 1013.7,1820.5 1001.0,1817.8" fill="#fedc82" stroke="#fedc82" stroke-width="0.9"/>
<polygon points="1016.4,1807.8 1029.1,1810.5 1026.4,1823.2 1013.7,1820.5" fill="#feda7e" stroke="#feda7e" stroke-width="0.9"/>
<polygon points="1029.1,1810.5 1041.9,1813.2 1039.2,1825.9 1026.4,1823.2" fill="#fed777" stroke="#fed777" stroke-width="0.9"/>
<polygon points="1041.9,1813.2 1054.6,1815.9 1051.9,1828.6 1039.2,1825.9" fill="#fed36f" stroke="#fed36f" stroke-width="0.9"/>
<polygon points="1054.6,1815.9 1067.3,1818.6 1064.6,1831.3 1051.9,1828.6" fill="#fed069" stroke="#fed069" stroke-width="0.9"/>
<polygon points="1067.3,1818.6 1080.1,1821.3 1077.4,1834.0 1064.6,1831.3" fill="#fecd62" stroke="#fecd62" stroke-width="0.9"/>
<polygon points="1080.1,1821.3 1092.8,1824.0 1090.1,1836.7 1077.4,1834.0" fill="#fec857" stroke="#fec857" stroke-width="0.9"/>
<polygon points="1092.8,1824.0 1105.6,1826.6 1102.9,1839.4 1090.1,1836.7" fill="#febb47" stroke="#febb47" stroke-width="0.9"/>
<polygon points="1105.6,1826.6 1118.3,1829.3 1115.6,1842.1 1102.9,1839.4" fill="#feaf3c" stroke="#feaf3c" stroke-width="0.9"/>
<polygon points="1118.3,1829.3 1131.0,1832.0 1128.3,1844.8 1115.6,1842.1" fill="#fe9e2d" stroke="#fe9e2d" stroke-width="0.9"/>
<polygon points="1131.0,1832.0 1143.8,1834.7 1141.1,1847.5 1128.3,1844.8" fill="#f78820" stroke="#f78820" stroke-width="0.9"/>
<polygon points="1143.8,1834.7 1156.5,1837.4 1153.8,1850.2 1141.1,1847.5" fill="#f07818" stroke="#f07818" stroke-width="0.9"/>
<polygon points="1156.5,1837.4 1169.2,1840.1 1166.5,1852.9 1153.8,1850.2" fill="#ea6e13" stroke="#ea6e13" stroke-width="0.9"/>
<polygon points="1169.2,1840.1 1182.0,1842.8 1179.3,1855.6 1166.5,1852.9" fill="#dd5f0c" stroke="#dd5f0c" stroke-width="0.9"/>
<polygon points="1182.0,1842.8 1194.7,1845.5 1192.0,1858.2 1179.3,1855.6" fill="#c14702" stroke="#c14702" stroke-width="0.9"/>
<polygon points="1194.7,1845.5 1207.4,1848.2 1204.8,1860.9 1192.0,1858.2" fill="#a63a03" stroke="#a63a03" stroke-width="0.9"/>
<polygon points="1207.4,1848.2 1220.2,1850.9 1217.5,1863.6 1204.8,1860.9" fill="#b13f03" stroke="#b13f03" stroke-width="0.9"/>
<polygon points="1220.2,1850.9 1232.9,1853.6 1230.2,1866.3 1217.5,1863.6" fill="#c84a02" stroke="#c84a02" stroke-width="0.9"/>
<polygon points="1232.9,1853.6 1245.7,1856.3 1243.0,1869.0 1230.2,1866.3" fill="#dc5e0b" stroke="#dc5e0b" stroke-width="0.9"/>
<polygon points="1245.7,1856.3 1258.4,1859.0 1255.7,1871.7 1243.0,1869.0" fill="#ed7315" stroke="#ed7315" stroke-width="0.9"/>
<polygon points="1258.4,1859.0 1271.1,1861.7 1268.4,1874.4 1255.7,1871.7" fill="#f5851f" stroke="#f5851f" stroke-width="0.9"/>
<polygon points="1271.1,1861.7 1283.9,1864.4 1281.2,1877.1 1268.4,1874.4" fill="#fb9326" stroke="#fb9326" stroke-width="0.9"/>
<polygon points="1283.9,1864.4 1296.6,1867.1 1293.9,1879.8 1281.2,1877.1" fill="#fe9d2d" stroke="#fe9d2d" stroke-width="0.9"/>
<polygon points="950.0,1807.0 962.7,1809.7 960.1,1822.5 947.3,1819.8" fill="#fede86" stroke="#fede86" stroke-width="0.9"/>
<polygon points="962.7,1809.7 975.5,1812.4 972.8,1825.2 960.1,1822.5" fill="#fedd85" stroke="#fedd85" stroke-width="0.9"/>
<polygon points="975.5,1812.4 988.2,1815.1 985.5,1827.9 972.8,1825.2" fill="#fedd85" stroke="#fedd85" stroke-width="0.9"/>
<polygon points="988.2,1815.1 1001.0,1817.8 998.3,1830.6 985.5,1827.9" fill="#fedd84" stroke="#fedd84" stroke-width="0.9"/>
<polygon points="1001.0,1817.8 1013.7,1820.5 1011.0,1833.3 998.3,1830.6" fill="#fedc83" stroke="#fedc83" stroke-width="0.9"/>
<polygon points="1013.7,1820.5 1026.4,1823.2 1023.7,1836.0 1011.0,1833.3" fill="#fedb81" stroke="#fedb81" stroke-width="0.9"/>
<polygon points="1026.4,1823.2 1039.2,1825.9 1036.5,1838.6 1023.7,1836.0" fill="#fed97b" stroke="#fed97b" stroke-width="0.9"/>
<polygon points="1039.2,1825.9 1051.9,1828.6 1049.2,1841.3 1036.5,1838.6" fill="#fed370" stroke="#fed370" stroke-width="0.9"/>
<polygon points="1051.9,1828.6 1064.6,1831.3 1062.0,1844.0 1049.2,1841.3" fill="#fecd62" stroke="#fecd62" stroke-width="0.9"/>
<polygon points="1064.6,1831.3 1077.4,1834.0 1074.7,1846.7 1062.0,1844.0" fill="#fec756" stroke="#fec756" stroke-width="0.9"/>
<polygon points="1077.4,1834.0 1090.1,1836.7 1087.4,1849.4 1074.7,1846.7" fill="#febe4a" stroke="#febe4a" stroke-width="0.9"/>
<polygon points="1090.1,1836.7 1102.9,1839.4 1100.2,1852.1 1087.4,1849.4" fill="#feb23f" stroke="#feb23f" stroke-width="0.9"/>
<polygon points="1102.9,1839.4 1115.6,1842.1 1112.9,1854.8 1100.2,1852.1" fill="#fea635" stroke="#fea635" stroke-width="0.9"/>
<polygon points="1115.6,1842.1 1128.3,1844.8 1125.6,1857.5 1112.9,1854.8" fill="#fd9628" stroke="#fd9628" stroke-width="0.9"/>
<polygon points="1128.3,1844.8 1141.1,1847.5 1138.4,1860.2 1125.6,1857.5" fill="#f4831e" stroke="#f4831e" stroke-width="0.9"/>
<polygon points="1141.1,1847.5 1153.8,1850.2 1151.1,1862.9 1138.4,1860.2" fill="#ed7115" stroke="#ed7115" stroke-width="0.9"/>
<polygon points="1153.8,1850.2 1166.5,1852.9 1163.8,1865.6 1151.1,1862.9" fill="#e2650e" stroke="#e2650e" stroke-width="0.9"/>
<polygon points="1166.5,1852.9 1179.3,1855.6 1176.6,1868.3 1163.8,1865.6" fill="#d35406" stroke="#d35406" stroke-width="0.9"/>
<polygon points="1179.3,1855.6 1192.0,1858.2 1189.3,1871.0 1176.6,1868.3" fill="#ba4403" stroke="#ba4403" stroke-width="0.9"/>
<polygon points="1192.0,1858.2 1204.8,1860.9 1202.1,1873.7 1189.3,1871.0" fill="#ab3c03" stroke="#ab3c03" stroke-width="0.9"/>
<polygon points="1204.8,1860.9 1217.5,1863.6 1214.8,1876.4 1202.1,1873.7" fill="#b84303" stroke="#b84303" stroke-width="0.9"/>
<polygon points="1217.5,1863.6 1230.2,1866.3 1227.5,1879.1 1214.8,1876.4" fill="#d15205" stroke="#d15205" stroke-width="0.9"/>
<polygon points="1230.2,1866.3 1243.0,1869.0 1240.3,1881.8 1227.5,1879.1" fill="#e3660f" stroke="#e3660f" stroke-width="0.9"/>
<polygon points="1243.0,1869.0 1255.7,1871.7 1253.0,1884.5 1240.3,1881.8" fill="#f07a19" stroke="#f07a19" stroke-width="0.9"/>
<polygon points="1255.7,1871.7 1268.4,1874.4 1265.7,1887.2 1253.0,1884.5" fill="#f88b22" stroke="#f88b22" stroke-width="0.9"/>
<polygon points="1268.4,1874.4 1281.2,1877.1 1278.5,1889.8 1265.7,1887.2" fill="#fe9829" stroke="#fe9829" stroke-width="0.9"/>
<polygon points="1281.2,1877.1 1293.9,1879.8 1291.2,1892.5 1278.5,1889.8" fill="#fea130" stroke="#fea130" stroke-width="0.9"/>
<polygon points="1293.9,1879.8 1306.6,1882.5 1304.0,1895.2 1291.2,1892.5" fill="#fea736" stroke="#fea736" stroke-width="0.9"/>
<polygon points="947.3,1819.8 960.1,1822.5 957.4,1835.2 944.6,1832.5" fill="#fedc83" stroke="#fedc83" stroke-width="0.9"/>
<polygon points="960.1,1822.5 972.8,1825.2 970.1,1837.9 957.4,1835.2" fill="#fedc82" stroke="#fedc82" stroke-width="0.9"/>
<polygon points="972.8,1825.2 985.5,1827.9 982.8,1840.6 970.1,1837.9" fill="#fedc82" stroke="#fedc82" stroke-width="0.9"/>
<polygon points="985.5,1827.9 998.3,1830.6 995.6,1843.3 982.8,1840.6" fill="#fedc82" stroke="#fedc82" stroke-width="0.9"/>
<polygon points="998.3,1830.6 1011.0,1833.3 1008.3,1846.0 995.6,1843.3" fill="#fedc82" stroke="#fedc82" stroke-width="0.9"/>
<polygon points="1011.0,1833.3 1023.7,1836.0 1021.0,1848.7 1008.3,1846.0" fill="#fedc83" stroke="#fedc83" stroke-width="0.9"/>
<polygon points="1023.7,1836.0 1036.5,1838.6 1033.8,1851.4 1021.0,1848.7" fill="#fedb81" stroke="#fedb81" stroke-width="0.9"/>
<polygon points="1036.5,1838.6 1049.2,1841.3 1046.5,1854.1 1033.8,1851.4" fill="#fed470" stroke="#fed470" stroke-width="0.9"/>
<polygon points="1049.2,1841.3 1062.0,1844.0 1059.3,1856.8 1046.5,1854.1" fill="#fec959" stroke="#fec959" stroke-width="0.9"/>
<polygon points="1062.0,1844.0 1074.7,1846.7 1072.0,1859.5 1059.3,1856.8" fill="#febf4a" stroke="#febf4a" stroke-width="0.9"/>
<polygon points="1074.7,1846.7 1087.4,1849.4 1084.7,1862.2 1072.0,1859.5" fill="#feb542" stroke="#feb542" stroke-width="0.9"/>
<polygon points="1087.4,1849.4 1100.2,1852.1 1097.5,1864.9 1084.7,1862.2" fill="#feab39" stroke="#feab39" stroke-width="0.9"/>
<polygon points="1100.2,1852.1 1112.9,1854.8 1110.2,1867.6 1097.5,1864.9" fill="#fea030" stroke="#fea030" stroke-width="0.9"/>
<polygon points="1112.9,1854.8 1125.6,1857.5 1122.9,1870.2 1110.2,1867.6" fill="#fb9326" stroke="#fb9326" stroke-width="0.9"/>
<polygon points="1125.6,1857.5 1138.4,1860.2 1135.7,1872.9 1122.9,1870.2" fill="#f4821d" stroke="#f4821d" stroke-width="0.9"/>
<polygon points="1138.4,1860.2 1151.1,1862.9 1148.4,1875.6 1135.7,1872.9" fill="#e96d13" stroke="#e96d13" stroke-width="0.9"/>
<polygon points="1151.1,1862.9 1163.8,1865.6 1161.2,1878.3 1148.4,1875.6" fill="#da5b0a" stroke="#da5b0a" stroke-width="0.9"/>
<polygon points="1163.8,1865.6 1176.6,1868.3 1173.9,1881.0 1161.2,1878.3" fill="#c84a02" stroke="#c84a02" stroke-width="0.9"/>
<polygon points="1176.6,1868.3 1189.3,1871.0 1186.6,1883.7 1173.9,1881.0" fill="#b13f03" stroke="#b13f03" stroke-width="0.9"/>
<polygon points="1189.3,1871.0 1202.1,1873.7 1199.4,1886.4 1186.6,1883.7" fill="#a53904" stroke="#a53904" stroke-width="0.9"/>
<polygon points="1202.1,1873.7 1214.8,1876.4 1212.1,1889.1 1199.4,1886.4" fill="#bc4503" stroke="#bc4503" stroke-width="0.9"/>
<polygon points="1214.8,1876.4 1227.5,1879.1 1224.8,1891.8 1212.1,1889.1" fill="#d85a09" stroke="#d85a09" stroke-width="0.9"/>
<polygon points="1227.5,1879.1 1240.3,1881.8 1237.6,1894.5 1224.8,1891.8" fill="#e96d12" stroke="#e96d12" stroke-width="0.9"/>
<polygon points="1240.3,1881.8 1253.0,1884.5 1250.3,1897.2 1237.6,1894.5" fill="#f4811d" stroke="#f4811d" stroke-width="0.9"/>
<polygon points="1253.0,1884.5 1265.7,1887.2 1263.0,1899.9 1250.3,1897.2" fill="#fb9225" stroke="#fb9225" stroke-width="0.9"/>
<polygon points="1265.7,1887.2 1278.5,1889.8 1275.8,1902.6 1263.0,1899.9" fill="#fe9e2d" stroke="#fe9e2d" stroke-width="0.9"/>
<polygon points="1278.5,1889.8 1291.2,1892.5 1288.5,1905.3 1275.8,1902.6" fill="#fea634" stroke="#fea634" stroke-width="0.9"/>
<polygon points="1291.2,1892.5 1304.0,1895.2 1301.3,1908.0 1288.5,1905.3" fill="#feaa38" stroke="#feaa38" stroke-width="0.9"/>
<polygon points="944.6,1832.5 957.4,1835.2 954.7,1847.9 941.9,1845.3" fill="#feda7f" stroke="#feda7f" stroke-width="0.9"/>
<polygon points="957.4,1835.2 970.1,1837.9 967.4,1850.6 954.7,1847.9" fill="#feda7e" stroke="#feda7e" stroke-width="0.9"/>
<polygon points="970.1,1837.9 982.8,1840.6 980.1,1853.3 967.4,1850.6" fill="#feda7d" stroke="#feda7d" stroke-width="0.9"/>
<polygon points="982.8,1840.6 995.6,1843.3 992.9,1856.0 980.1,1853.3" fill="#feda7d" stroke="#feda7d" stroke-width="0.9"/>
<polygon points="995.6,1843.3 1008.3,1846.0 1005.6,1858.7 992.9,1856.0" fill="#feda7f" stroke="#feda7f" stroke-width="0.9"/>
<polygon points="1008.3,1846.0 1021.0,1848.7 1018.4,1861.4 1005.6,1858.7" fill="#fedb80" stroke="#fedb80" stroke-width="0.9"/>
<polygon points="1021.0,1848.7 1033.8,1851.4 1031.1,1864.1 1018.4,1861.4" fill="#feda7f" stroke="#feda7f" stroke-width="0.9"/>
<polygon points="1033.8,1851.4 1046.5,1854.1 1043.8,1866.8 1031.1,1864.1" fill="#fed26d" stroke="#fed26d" stroke-width="0.9"/>
<polygon points="1046.5,1854.1 1059.3,1856.8 1056.6,1869.5 1043.8,1866.8" fill="#fec654" stroke="#fec654" stroke-width="0.9"/>
<polygon points="1059.3,1856.8 1072.0,1859.5 1069.3,1872.2 1056.6,1869.5" fill="#feba47" stroke="#feba47" stroke-width="0.9"/>
<polygon points="1072.0,1859.5 1084.7,1862.2 1082.0,1874.9 1069.3,1872.2" fill="#feb13e" stroke="#feb13e" stroke-width="0.9"/>
<polygon points="1084.7,1862.2 1097.5,1864.9 1094.8,1877.6 1082.0,1874.9" fill="#fea836" stroke="#fea836" stroke-width="0.9"/>
<polygon points="1097.5,1864.9 1110.2,1867.6 1107.5,1880.3 1094.8,1877.6" fill="#fe9e2e" stroke="#fe9e2e" stroke-width="0.9"/>
<polygon points="1110.2,1867.6 1122.9,1870.2 1120.2,1883.0 1107.5,1880.3" fill="#fb9225" stroke="#fb9225" stroke-width="0.9"/>
<polygon points="1122.9,1870.2 1135.7,1872.9 1133.0,1885.7 1120.2,1883.0" fill="#f5841e" stroke="#f5841e" stroke-width="0.9"/>
<polygon points="1135.7,1872.9 1148.4,1875.6 1145.7,1888.4 1133.0,1885.7" fill="#e76a11" stroke="#e76a11" stroke-width="0.9"/>
<polygon points="1148.4,1875.6 1161.2,1878.3 1158.5,1891.1 1145.7,1888.4" fill="#d55707" stroke="#d55707" stroke-width="0.9"/>
<polygon points="1161.2,1878.3 1173.9,1881.0 1171.2,1893.8 1158.5,1891.1" fill="#c04602" stroke="#c04602" stroke-width="0.9"/>
<polygon points="1173.9,1881.0 1186.6,1883.7 1183.9,1896.5 1171.2,1893.8" fill="#ae3e03" stroke="#ae3e03" stroke-width="0.9"/>
<polygon points="1186.6,1883.7 1199.4,1886.4 1196.7,1899.2 1183.9,1896.5" fill="#ac3d03" stroke="#ac3d03" stroke-width="0.9"/>
<polygon points="1199.4,1886.4 1212.1,1889.1 1209.4,1901.8 1196.7,1899.2" fill="#c04602" stroke="#c04602" stroke-width="0.9"/>
<polygon points="1212.1,1889.1 1224.8,1891.8 1222.1,1904.5 1209.4,1901.8" fill="#d95b0a" stroke="#d95b0a" stroke-width="0.9"/>
<polygon points="1224.8,1891.8 1237.6,1894.5 1234.9,1907.2 1222.1,1904.5" fill="#ed7215" stroke="#ed7215" stroke-width="0.9"/>
<polygon points="1237.6,1894.5 1250.3,1897.2 1247.6,1909.9 1234.9,1907.2" fill="#f78a21" stroke="#f78a21" stroke-width="0.9"/>
<polygon points="1250.3,1897.2 1263.0,1899.9 1260.4,1912.6 1247.6,1909.9" fill="#fe9b2b" stroke="#fe9b2b" stroke-width="0.9"/>
<polygon points="1263.0,1899.9 1275.8,1902.6 1273.1,1915.3 1260.4,1912.6" fill="#fea332" stroke="#fea332" stroke-width="0.9"/>
<polygon points="1275.8,1902.6 1288.5,1905.3 1285.8,1918.0 1273.1,1915.3" fill="#feaa38" stroke="#feaa38" stroke-width="0.9"/>
<polygon points="1288.5,1905.3 1301.3,1908.0 1298.6,1920.7 1285.8,1918.0" fill="#fead3b" stroke="#fead3b" stroke-width="0.9"/>
<polygon points="941.9,1845.3 954.7,1847.9 952.0,1860.7 939.2,1858.0" fill="#fed87a" stroke="#fed87a" stroke-width="0.9"/>
<polygon points="954.7,1847.9 967.4,1850.6 964.7,1863.4 952.0,1860.7" fill="#fed778" stroke="#fed778" stroke-width="0.9"/>
<polygon points="1018.4,1861.4 1031.1,1864.1 1028.4,1876.9 1015.7,1874.2" fill="#fed676" stroke="#fed676" stroke-width="0.9"/>
<polygon points="1031.1,1864.1 1043.8,1866.8 1041.1,1879.6 1028.4,1876.9" fill="#fece65" stroke="#fece65" stroke-width="0.9"/>
<polygon points="1043.8,1866.8 1056.6,1869.5 1053.9,1882.2 1041.1,1879.6" fill="#fec450" stroke="#fec450" stroke-width="0.9"/>
<polygon points="1056.6,1869.5 1069.3,1872.2 1066.6,1884.9 1053.9,1882.2" fill="#feb844" stroke="#feb844" stroke-width="0.9"/>
<polygon points="1069.3,1872.2 1082.0,1874.9 1079.3,1887.6 1066.6,1884.9" fill="#feae3c" stroke="#feae3c" stroke-width="0.9"/>
<polygon points="1082.0,1874.9 1094.8,1877.6 1092.1,1890.3 1079.3,1887.6" fill="#fea634" stroke="#fea634" stroke-width="0.9"/>
<polygon points="1094.8,1877.6 1107.5,1880.3 1104.8,1893.0 1092.1,1890.3" fill="#fe9d2c" stroke="#fe9d2c" stroke-width="0.9"/>
<polygon points="1107.5,1880.3 1120.2,1883.0 1117.6,1895.7 1104.8,1893.0" fill="#fa9125" stroke="#fa9125" stroke-width="0.9"/>
<polygon points="1120.2,1883.0 1133.0,1885.7 1130.3,1898.4 1117.6,1895.7" fill="#f4811d" stroke="#f4811d" stroke-width="0.9"/>
<polygon points="1133.0,1885.7 1145.7,1888.4 1143.0,1901.1 1130.3,1898.4" fill="#e96c12" stroke="#e96c12" stroke-width="0.9"/>
<polygon points="1145.7,1888.4 1158.5,1891.1 1155.8,1903.8 1143.0,1901.1" fill="#d65708" stroke="#d65708" stroke-width="0.9"/>
<polygon points="1158.5,1891.1 1171.2,1893.8 1168.5,1906.5 1155.8,1903.8" fill="#bf4603" stroke="#bf4603" stroke-width="0.9"/>
<polygon points="1171.2,1893.8 1183.9,1896.5 1181.2,1909.2 1168.5,1906.5" fill="#af3f03" stroke="#af3f03" stroke-width="0.9"/>
<polygon points="1183.9,1896.5 1196.7,1899.2 1194.0,1911.9 1181.2,1909.2" fill="#b44103" stroke="#b44103" stroke-width="0.9"/>
<polygon points="1196.7,1899.2 1209.4,1901.8 1206.7,1914.6 1194.0,1911.9" fill="#c54902" stroke="#c54902" stroke-width="0.9"/>
<polygon points="1209.4,1901.8 1222.1,1904.5 1219.4,1917.3 1206.7,1914.6" fill="#de600c" stroke="#de600c" stroke-width="0.9"/>
<polygon points="1222.1,1904.5 1234.9,1907.2 1232.2,1920.0 1219.4,1917.3" fill="#f07919" stroke="#f07919" stroke-width="0.9"/>
<polygon points="1234.9,1907.2 1247.6,1909.9 1244.9,1922.7 1232.2,1920.0" fill="#fa9024" stroke="#fa9024" stroke-width="0.9"/>
<polygon points="1247.6,1909.9 1260.4,1912.6 1257.7,1925.4 1244.9,1922.7" fill="#fea02f" stroke="#fea02f" stroke-width="0.9"/>
<polygon points="1260.4,1912.6 1273.1,1915.3 1270.4,1928.1 1257.7,1925.4" fill="#fea735" stroke="#fea735" stroke-width="0.9"/>
<polygon points="1273.1,1915.3 1285.8,1918.0 1283.1,1930.8 1270.4,1928.1" fill="#feab39" stroke="#feab39" stroke-width="0.9"/>
<polygon points="1285.8,1918.0 1298.6,1920.7 1295.9,1933.4 1283.1,1930.8" fill="#feae3c" stroke="#feae3c" stroke-width="0.9"/>
<polygon points="1015.7,1874.2 1028.4,1876.9 1025.7,1889.6 1013.0,1886.9" fill="#fed36e" stroke="#fed36e" stroke-width="0.9"/>
<polygon points="1028.4,1876.9 1041.1,1879.6 1038.4,1892.3 1025.7,1889.6" fill="#fec95a" stroke="#fec95a" stroke-width="0.9"/>
<polygon points="1041.1,1879.6 1053.9,1882.2 1051.2,1895.0 1038.4,1892.3" fill="#febe4a" stroke="#febe4a" stroke-width="0.9"/>
<polygon points="1053.9,1882.2 1066.6,1884.9 1063.9,1897.7 1051.2,1895.0" fill="#feb340" stroke="#feb340" stroke-width="0.9"/>
<polygon points="1066.6,1884.9 1079.3,1887.6 1076.6,1900.4 1063.9,1897.7" fill="#feaa38" stroke="#feaa38" stroke-width="0.9"/>
<polygon points="1079.3,1887.6 1092.1,1890.3 1089.4,1903.1 1076.6,1900.4" fill="#fea331" stroke="#fea331" stroke-width="0.9"/>
<polygon points="1092.1,1890.3 1104.8,1893.0 1102.1,1905.8 1089.4,1903.1" fill="#fe9a2a" stroke="#fe9a2a" stroke-width="0.9"/>
<polygon points="1104.8,1893.0 1117.6,1895.7 1114.9,1908.5 1102.1,1905.8" fill="#fa8f24" stroke="#fa8f24" stroke-width="0.9"/>
<polygon points="1117.6,1895.7 1130.3,1898.4 1127.6,1911.2 1114.9,1908.5" fill="#f3811d" stroke="#f3811d" stroke-width="0.9"/>
<polygon points="1130.3,1898.4 1143.0,1901.1 1140.3,1913.8 1127.6,1911.2" fill="#ec7014" stroke="#ec7014" stroke-width="0.9"/>
<polygon points="1143.0,1901.1 1155.8,1903.8 1153.1,1916.5 1140.3,1913.8" fill="#db5c0a" stroke="#db5c0a" stroke-width="0.9"/>
<polygon points="1155.8,1903.8 1168.5,1906.5 1165.8,1919.2 1153.1,1916.5" fill="#c64902" stroke="#c64902" stroke-width="0.9"/>
<polygon points="1168.5,1906.5 1181.2,1909.2 1178.5,1921.9 1165.8,1919.2" fill="#b84203" stroke="#b84203" stroke-width="0.9"/>
<polygon points="1181.2,1909.2 1194.0,1911.9 1191.3,1924.6 1178.5,1921.9" fill="#c34802" stroke="#c34802" stroke-width="0.9"/>
<polygon points="1194.0,1911.9 1206.7,1914.6 1204.0,1927.3 1191.3,1924.6" fill="#d45506" stroke="#d45506" stroke-width="0.9"/>
<polygon points="1206.7,1914.6 1219.4,1917.3 1216.8,1930.0 1204.0,1927.3" fill="#e76b11" stroke="#e76b11" stroke-width="0.9"/>
<polygon points="1219.4,1917.3 1232.2,1920.0 1229.5,1932.7 1216.8,1930.0" fill="#f4831e" stroke="#f4831e" stroke-width="0.9"/>
<polygon points="1232.2,1920.0 1244.9,1922.7 1242.2,1935.4 1229.5,1932.7" fill="#fd9627" stroke="#fd9627" stroke-width="0.9"/>
<polygon points="1244.9,1922.7 1257.7,1925.4 1255.0,1938.1 1242.2,1935.4" fill="#fea231" stroke="#fea231" stroke-width="0.9"/>
<polygon points="1257.7,1925.4 1270.4,1928.1 1267.7,1940.8 1255.0,1938.1" fill="#fea937" stroke="#fea937" stroke-width="0.9"/>
<polygon points="1270.4,1928.1 1283.1,1930.8 1280.4,1943.5 1267.7,1940.8" fill="#fead3b" stroke="#fead3b" stroke-width="0.9"/>
<polygon points="1283.1,1930.8 1295.9,1933.4 1293.2,1946.2 1280.4,1943.5" fill="#feaf3c" stroke="#feaf3c" stroke-width="0.9"/>
<polygon points="1013.0,1886.9 1025.7,1889.6 1023.0,1902.3 1010.3,1899.6" fill="#fec857" stroke="#fec857" stroke-width="0.9"/>
<polygon points="1025.7,1889.6 1038.4,1892.3 1035.7,1905.0 1023.0,1902.3" fill="#fec04c" stroke="#fec04c" stroke-width="0.9"/>
<polygon points="1038.4,1892.3 1051.2,1895.0 1048.5,1907.7 1035.7,1905.0" fill="#feb542" stroke="#feb542" stroke-width="0.9"/>
<polygon points="1051.2,1895.0 1063.9,1897.7 1061.2,1910.4 1048.5,1907.7" fill="#feac3a" stroke="#feac3a" stroke-width="0.9"/>
<polygon points="1063.9,1897.7 1076.6,1900.4 1074.0,1913.1 1061.2,1910.4" fill="#fea534" stroke="#fea534" stroke-width="0.9"/>
<polygon points="1076.6,1900.4 1089.4,1903.1 1086.7,1915.8 1074.0,1913.1" fill="#fea02f" stroke="#fea02f" stroke-width="0.9"/>
<polygon points="1089.4,1903.1 1102.1,1905.8 1099.4,1918.5 1086.7,1915.8" fill="#fe9929" stroke="#fe9929" stroke-width="0.9"/>
<polygon points="1102.1,1905.8 1114.9,1908.5 1112.2,1921.2 1099.4,1918.5" fill="#fa8f24" stroke="#fa8f24" stroke-width="0.9"/>
<polygon points="1114.9,1908.5 1127.6,1911.2 1124.9,1923.9 1112.2,1921.2" fill="#f4821d" stroke="#f4821d" stroke-width="0.9"/>
<polygon points="1127.6,1911.2 1140.3,1913.8 1137.6,1926.6 1124.9,1923.9" fill="#ed7316" stroke="#ed7316" stroke-width="0.9"/>
<polygon points="1140.3,1913.8 1153.1,1916.5 1150.4,1929.3 1137.6,1926.6" fill="#e0630d" stroke="#e0630d" stroke-width="0.9"/>
<polygon points="1153.1,1916.5 1165.8,1919.2 1163.1,1932.0 1150.4,1929.3" fill="#d35406" stroke="#d35406" stroke-width="0.9"/>
<polygon points="1165.8,1919.2 1178.5,1921.9 1175.8,1934.7 1163.1,1932.0" fill="#ce4e03" stroke="#ce4e03" stroke-width="0.9"/>
<polygon points="1178.5,1921.9 1191.3,1924.6 1188.6,1937.4 1175.8,1934.7" fill="#d55607" stroke="#d55607" stroke-width="0.9"/>
<polygon points="1191.3,1924.6 1204.0,1927.3 1201.3,1940.1 1188.6,1937.4" fill="#e46710" stroke="#e46710" stroke-width="0.9"/>
<polygon points="1204.0,1927.3 1216.8,1930.0 1214.1,1942.8 1201.3,1940.1" fill="#f17b1a" stroke="#f17b1a" stroke-width="0.9"/>
<polygon points="1216.8,1930.0 1229.5,1932.7 1226.8,1945.4 1214.1,1942.8" fill="#fa8f24" stroke="#fa8f24" stroke-width="0.9"/>
<polygon points="1229.5,1932.7 1242.2,1935.4 1239.5,1948.1 1226.8,1945.4" fill="#fea02f" stroke="#fea02f" stroke-width="0.9"/>
<polygon points="1242.2,1935.4 1255.0,1938.1 1252.3,1950.8 1239.5,1948.1" fill="#fea937" stroke="#fea937" stroke-width="0.9"/>
<polygon points="1255.0,1938.1 1267.7,1940.8 1265.0,1953.5 1252.3,1950.8" fill="#feaf3c" stroke="#feaf3c" stroke-width="0.9"/>
<polygon points="1267.7,1940.8 1280.4,1943.5 1277.7,1956.2 1265.0,1953.5" fill="#feb340" stroke="#feb340" stroke-width="0.9"/>
<polygon points="1280.4,1943.5 1293.2,1946.2 1290.5,1958.9 1277.7,1956.2" fill="#feb643" stroke="#feb643" stroke-width="0.9"/>
<polygon points="1293.2,1946.2 1305.9,1948.9 1303.2,1961.6 1290.5,1958.9" fill="#feba46" stroke="#feba46" stroke-width="0.9"/>
<polygon points="972.1,1891.6 984.8,1894.2 982.1,1907.0 969.4,1904.3" fill="#feca5b" stroke="#feca5b" stroke-width="0.9"/>
<polygon points="984.8,1894.2 997.5,1896.9 994.8,1909.7 982.1,1907.0" fill="#fec755" stroke="#fec755" stroke-width="0.9"/>
<polygon points="997.5,1896.9 1010.3,1899.6 1007.6,1912.4 994.8,1909.7" fill="#fec34e" stroke="#fec34e" stroke-width="0.9"/>
<polygon points="1010.3,1899.6 1023.0,1902.3 1020.3,1915.1 1007.6,1912.4" fill="#febd49" stroke="#febd49" stroke-width="0.9"/>
<polygon points="1023.0,1902.3 1035.7,1905.0 1033.0,1917.8 1020.3,1915.1" fill="#feb441" stroke="#feb441" stroke-width="0.9"/>
<polygon points="1035.7,1905.0 1048.5,1907.7 1045.8,1920.5 1033.0,1917.8" fill="#feac39" stroke="#feac39" stroke-width="0.9"/>
<polygon points="1048.5,1907.7 1061.2,1910.4 1058.5,1923.2 1045.8,1920.5" fill="#fea433" stroke="#fea433" stroke-width="0.9"/>
<polygon points="1061.2,1910.4 1074.0,1913.1 1071.3,1925.8 1058.5,1923.2" fill="#fea02f" stroke="#fea02f" stroke-width="0.9"/>
<polygon points="1074.0,1913.1 1086.7,1915.8 1084.0,1928.5 1071.3,1925.8" fill="#fe9e2d" stroke="#fe9e2d" stroke-width="0.9"/>
<polygon points="1086.7,1915.8 1099.4,1918.5 1096.7,1931.2 1084.0,1928.5" fill="#fe9b2a" stroke="#fe9b2a" stroke-width="0.9"/>
<polygon points="1099.4,1918.5 1112.2,1921.2 1109.5,1933.9 1096.7,1931.2" fill="#fb9226" stroke="#fb9226" stroke-width="0.9"/>
<polygon points="1112.2,1921.2 1124.9,1923.9 1122.2,1936.6 1109.5,1933.9" fill="#f68820" stroke="#f68820" stroke-width="0.9"/>
<polygon points="1124.9,1923.9 1137.6,1926.6 1134.9,1939.3 1122.2,1936.6" fill="#f07a19" stroke="#f07a19" stroke-width="0.9"/>
<polygon points="1137.6,1926.6 1150.4,1929.3 1147.7,1942.0 1134.9,1939.3" fill="#e76a11" stroke="#e76a11" stroke-width="0.9"/>
<polygon points="1150.4,1929.3 1163.1,1932.0 1160.4,1944.7 1147.7,1942.0" fill="#df620d" stroke="#df620d" stroke-width="0.9"/>
<polygon points="1163.1,1932.0 1175.8,1934.7 1173.2,1947.4 1160.4,1944.7" fill="#dc5e0b" stroke="#dc5e0b" stroke-width="0.9"/>
<polygon points="1175.8,1934.7 1188.6,1937.4 1185.9,1950.1 1173.2,1947.4" fill="#e56810" stroke="#e56810" stroke-width="0.9"/>
<polygon points="1188.6,1937.4 1201.3,1940.1 1198.6,1952.8 1185.9,1950.1" fill="#f07a19" stroke="#f07a19" stroke-width="0.9"/>
<polygon points="1201.3,1940.1 1214.1,1942.8 1211.4,1955.5 1198.6,1952.8" fill="#f88c22" stroke="#f88c22" stroke-width="0.9"/>
<polygon points="1214.1,1942.8 1226.8,1945.4 1224.1,1958.2 1211.4,1955.5" fill="#fe9d2c" stroke="#fe9d2c" stroke-width="0.9"/>
<polygon points="1226.8,1945.4 1239.5,1948.1 1236.8,1960.9 1224.1,1958.2" fill="#feaa38" stroke="#feaa38" stroke-width="0.9"/>
<polygon points="1239.5,1948.1 1252.3,1950.8 1249.6,1963.6 1236.8,1960.9" fill="#feb340" stroke="#feb340" stroke-width="0.9"/>
<polygon points="1252.3,1950.8 1265.0,1953.5 1262.3,1966.3 1249.6,1963.6" fill="#feb945" stroke="#feb945" stroke-width="0.9"/>
<polygon points="1265.0,1953.5 1277.7,1956.2 1275.0,1969.0 1262.3,1966.3" fill="#febd49" stroke="#febd49" stroke-width="0.9"/>
<polygon points="1277.7,1956.2 1290.5,1958.9 1287.8,1971.7 1275.0,1969.0" fill="#febf4b" stroke="#febf4b" stroke-width="0.9"/>
<polygon points="1290.5,1958.9 1303.2,1961.6 1300.5,1974.4 1287.8,1971.7" fill="#fec14c" stroke="#fec14c" stroke-width="0.9"/>
<polygon points="943.9,1898.9 956.6,1901.6 953.9,1914.3 941.2,1911.6" fill="#fecd61" stroke="#fecd61" stroke-width="0.9"/>
<polygon points="956.6,1901.6 969.4,1904.3 966.7,1917.0 953.9,1914.3" fill="#feca5b" stroke="#feca5b" stroke-width="0.9"/>
<polygon points="969.4,1904.3 982.1,1907.0 979.4,1919.7 966.7,1917.0" fill="#fec654" stroke="#fec654" stroke-width="0.9"/>
<polygon points="982.1,1907.0 994.8,1909.7 992.1,1922.4 979.4,1919.7" fill="#fec24d" stroke="#fec24d" stroke-width="0.9"/>
<polygon points="994.8,1909.7 1007.6,1912.4 1004.9,1925.1 992.1,1922.4" fill="#febc48" stroke="#febc48" stroke-width="0.9"/>
<polygon points="1007.6,1912.4 1020.3,1915.1 1017.6,1927.8 1004.9,1925.1" fill="#feb441" stroke="#feb441" stroke-width="0.9"/>
<polygon points="1020.3,1915.1 1033.0,1917.8 1030.3,1930.5 1017.6,1927.8" fill="#feab39" stroke="#feab39" stroke-width="0.9"/>
<polygon points="1033.0,1917.8 1045.8,1920.5 1043.1,1933.2 1030.3,1930.5" fill="#fea332" stroke="#fea332" stroke-width="0.9"/>
<polygon points="1045.8,1920.5 1058.5,1923.2 1055.8,1935.9 1043.1,1933.2" fill="#fe9e2e" stroke="#fe9e2e" stroke-width="0.9"/>
<polygon points="1058.5,1923.2 1071.3,1925.8 1068.6,1938.6 1055.8,1935.9" fill="#fe9c2c" stroke="#fe9c2c" stroke-width="0.9"/>
<polygon points="1071.3,1925.8 1084.0,1928.5 1081.3,1941.3 1068.6,1938.6" fill="#fe9d2c" stroke="#fe9d2c" stroke-width="0.9"/>
<polygon points="1084.0,1928.5 1096.7,1931.2 1094.0,1944.0 1081.3,1941.3" fill="#fe9b2b" stroke="#fe9b2b" stroke-width="0.9"/>
<polygon points="1096.7,1931.2 1109.5,1933.9 1106.8,1946.7 1094.0,1944.0" fill="#fd9828" stroke="#fd9828" stroke-width="0.9"/>
<polygon points="1109.5,1933.9 1122.2,1936.6 1119.5,1949.4 1106.8,1946.7" fill="#fb9226" stroke="#fb9226" stroke-width="0.9"/>
<polygon points="1122.2,1936.6 1134.9,1939.3 1132.2,1952.1 1119.5,1949.4" fill="#f68720" stroke="#f68720" stroke-width="0.9"/>
<polygon points="1134.9,1939.3 1147.7,1942.0 1145.0,1954.8 1132.2,1952.1" fill="#f07a19" stroke="#f07a19" stroke-width="0.9"/>
<polygon points="1147.7,1942.0 1160.4,1944.7 1157.7,1957.4 1145.0,1954.8" fill="#ee7416" stroke="#ee7416" stroke-width="0.9"/>
<polygon points="1160.4,1944.7 1173.2,1947.4 1170.5,1960.1 1157.7,1957.4" fill="#ee7416" stroke="#ee7416" stroke-width="0.9"/>
<polygon points="1173.2,1947.4 1185.9,1950.1 1183.2,1962.8 1170.5,1960.1" fill="#f17c1a" stroke="#f17c1a" stroke-width="0.9"/>
<polygon points="1185.9,1950.1 1198.6,1952.8 1195.9,1965.5 1183.2,1962.8" fill="#f88b22" stroke="#f88b22" stroke-width="0.9"/>
<polygon points="1198.6,1952.8 1211.4,1955.5 1208.7,1968.2 1195.9,1965.5" fill="#fe9c2b" stroke="#fe9c2b" stroke-width="0.9"/>
<polygon points="1211.4,1955.5 1224.1,1958.2 1221.4,1970.9 1208.7,1968.2" fill="#feab39" stroke="#feab39" stroke-width="0.9"/>
<polygon points="1224.1,1958.2 1236.8,1960.9 1234.1,1973.6 1221.4,1970.9" fill="#feb643" stroke="#feb643" stroke-width="0.9"/>
<polygon points="1236.8,1960.9 1249.6,1963.6 1246.9,1976.3 1234.1,1973.6" fill="#febf4a" stroke="#febf4a" stroke-width="0.9"/>
<polygon points="1249.6,1963.6 1262.3,1966.3 1259.6,1979.0 1246.9,1976.3" fill="#fec44f" stroke="#fec44f" stroke-width="0.9"/>
<polygon points="1262.3,1966.3 1275.0,1969.0 1272.4,1981.7 1259.6,1979.0" fill="#fec654" stroke="#fec654" stroke-width="0.9"/>
<polygon points="1275.0,1969.0 1287.8,1971.7 1285.1,1984.4 1272.4,1981.7" fill="#fec754" stroke="#fec754" stroke-width="0.9"/>
<polygon points="1287.8,1971.7 1300.5,1974.4 1297.8,1987.1 1285.1,1984.4" fill="#fec654" stroke="#fec654" stroke-width="0.9"/>
<polygon points="941.2,1911.6 953.9,1914.3 951.2,1927.1 938.5,1924.4" fill="#fecb5e" stroke="#fecb5e" stroke-width="0.9"/>
<polygon points="953.9,1914.3 966.7,1917.0 964.0,1929.8 951.2,1927.1" fill="#fec857" stroke="#fec857" stroke-width="0.9"/>
<polygon points="966.7,1917.0 979.4,1919.7 976.7,1932.5 964.0,1929.8" fill="#fec44f" stroke="#fec44f" stroke-width="0.9"/>
<polygon points="979.4,1919.7 992.1,1922.4 989.4,1935.2 976.7,1932.5" fill="#febf4b" stroke="#febf4b" stroke-width="0.9"/>
<polygon points="992.1,1922.4 1004.9,1925.1 1002.2,1937.8 989.4,1935.2" fill="#feb945" stroke="#feb945" stroke-width="0.9"/>
<polygon points="1004.9,1925.1 1017.6,1927.8 1014.9,1940.5 1002.2,1937.8" fill="#feb03e" stroke="#feb03e" stroke-width="0.9"/>
<polygon points="1017.6,1927.8 1030.3,1930.5 1027.7,1943.2 1014.9,1940.5" fill="#fea534" stroke="#fea534" stroke-width="0.9"/>
<polygon points="1030.3,1930.5 1043.1,1933.2 1040.4,1945.9 1027.7,1943.2" fill="#fe9c2c" stroke="#fe9c2c" stroke-width="0.9"/>
<polygon points="1043.1,1933.2 1055.8,1935.9 1053.1,1948.6 1040.4,1945.9" fill="#fe9a2a" stroke="#fe9a2a" stroke-width="0.9"/>
<polygon points="1055.8,1935.9 1068.6,1938.6 1065.9,1951.3 1053.1,1948.6" fill="#fe9c2b" stroke="#fe9c2b" stroke-width="0.9"/>
<polygon points="1068.6,1938.6 1081.3,1941.3 1078.6,1954.0 1065.9,1951.3" fill="#fe9d2d" stroke="#fe9d2d" stroke-width="0.9"/>
<polygon points="1081.3,1941.3 1094.0,1944.0 1091.3,1956.7 1078.6,1954.0" fill="#fe9f2e" stroke="#fe9f2e" stroke-width="0.9"/>
<polygon points="1094.0,1944.0 1106.8,1946.7 1104.1,1959.4 1091.3,1956.7" fill="#fe9e2e" stroke="#fe9e2e" stroke-width="0.9"/>
<polygon points="1106.8,1946.7 1119.5,1949.4 1116.8,1962.1 1104.1,1959.4" fill="#fe9d2c" stroke="#fe9d2c" stroke-width="0.9"/>
<polygon points="1119.5,1949.4 1132.2,1952.1 1129.6,1964.8 1116.8,1962.1" fill="#fd9728" stroke="#fd9728" stroke-width="0.9"/>
<polygon points="1132.2,1952.1 1145.0,1954.8 1142.3,1967.5 1129.6,1964.8" fill="#f98e23" stroke="#f98e23" stroke-width="0.9"/>
<polygon points="1145.0,1954.8 1157.7,1957.4 1155.0,1970.2 1142.3,1967.5" fill="#f78921" stroke="#f78921" stroke-width="0.9"/>
<polygon points="1157.7,1957.4 1170.5,1960.1 1167.8,1972.9 1155.0,1970.2" fill="#f78a21" stroke="#f78a21" stroke-width="0.9"/>
<polygon points="1170.5,1960.1 1183.2,1962.8 1180.5,1975.6 1167.8,1972.9" fill="#fa9125" stroke="#fa9125" stroke-width="0.9"/>
<polygon points="1183.2,1962.8 1195.9,1965.5 1193.2,1978.3 1180.5,1975.6" fill="#fe9d2c" stroke="#fe9d2c" stroke-width="0.9"/>
<polygon points="1195.9,1965.5 1208.7,1968.2 1206.0,1981.0 1193.2,1978.3" fill="#feab39" stroke="#feab39" stroke-width="0.9"/>
<polygon points="1208.7,1968.2 1221.4,1970.9 1218.7,1983.7 1206.0,1981.0" fill="#feb844" stroke="#feb844" stroke-width="0.9"/>
<polygon points="1221.4,1970.9 1234.1,1973.6 1231.4,1986.4 1218.7,1983.7" fill="#fec24d" stroke="#fec24d" stroke-width="0.9"/>
<polygon points="1234.1,1973.6 1246.9,1976.3 1244.2,1989.0 1231.4,1986.4" fill="#fec857" stroke="#fec857" stroke-width="0.9"/>
<polygon points="1246.9,1976.3 1259.6,1979.0 1256.9,1991.7 1244.2,1989.0" fill="#fecb5e" stroke="#fecb5e" stroke-width="0.9"/>
<polygon points="1259.6,1979.0 1272.4,1981.7 1269.7,1994.4 1256.9,1991.7" fill="#fecc60" stroke="#fecc60" stroke-width="0.9"/>
<polygon points="1272.4,1981.7 1285.1,1984.4 1282.4,1997.1 1269.7,1994.4" fill="#fecc5f" stroke="#fecc5f" stroke-width="0.9"/>
<polygon points="1285.1,1984.4 1297.8,1987.1 1295.1,1999.8 1282.4,1997.1" fill="#fecb5d" stroke="#fecb5d" stroke-width="0.9"/>
<polygon points="951.2,1927.1 964.0,1929.8 961.3,1942.5 948.5,1939.8" fill="#fec754" stroke="#fec754" stroke-width="0.9"/>
<polygon points="964.0,1929.8 976.7,1932.5 974.0,1945.2 961.3,1942.5" fill="#fec24e" stroke="#fec24e" stroke-width="0.9"/>
<polygon points="976.7,1932.5 989.4,1935.2 986.7,1947.9 974.0,1945.2" fill="#febe4a" stroke="#febe4a" stroke-width="0.9"/>
<polygon points="989.4,1935.2 1002.2,1937.8 999.5,1950.6 986.7,1947.9" fill="#febb47" stroke="#febb47" stroke-width="0.9"/>
<polygon points="1002.2,1937.8 1014.9,1940.5 1012.2,1953.3 999.5,1950.6" fill="#feb23f" stroke="#feb23f" stroke-width="0.9"/>
<polygon points="1014.9,1940.5 1027.7,1943.2 1025.0,1956.0 1012.2,1953.3" fill="#fea331" stroke="#fea331" stroke-width="0.9"/>
<polygon points="1027.7,1943.2 1040.4,1945.9 1037.7,1958.7 1025.0,1956.0" fill="#fd9728" stroke="#fd9728" stroke-width="0.9"/>
<polygon points="1040.4,1945.9 1053.1,1948.6 1050.4,1961.4 1037.7,1958.7" fill="#fe9929" stroke="#fe9929" stroke-width="0.9"/>
<polygon points="1053.1,1948.6 1065.9,1951.3 1063.2,1964.1 1050.4,1961.4" fill="#fe9d2c" stroke="#fe9d2c" stroke-width="0.9"/>
<polygon points="1065.9,1951.3 1078.6,1954.0 1075.9,1966.8 1063.2,1964.1" fill="#fea030" stroke="#fea030" stroke-width="0.9"/>
<polygon points="1078.6,1954.0 1091.3,1956.7 1088.6,1969.4 1075.9,1966.8" fill="#fea332" stroke="#fea332" stroke-width="0.9"/>
<polygon points="1091.3,1956.7 1104.1,1959.4 1101.4,1972.1 1088.6,1969.4" fill="#fea534" stroke="#fea534" stroke-width="0.9"/>
<polygon points="1104.1,1959.4 1116.8,1962.1 1114.1,1974.8 1101.4,1972.1" fill="#fea635" stroke="#fea635" stroke-width="0.9"/>
<polygon points="1116.8,1962.1 1129.6,1964.8 1126.9,1977.5 1114.1,1974.8" fill="#fea432" stroke="#fea432" stroke-width="0.9"/>
<polygon points="1142.3,1967.5 1155.0,1970.2 1152.3,1982.9 1139.6,1980.2" fill="#fe9b2a" stroke="#fe9b2a" stroke-width="0.9"/>
<polygon points="1155.0,1970.2 1167.8,1972.9 1165.1,1985.6 1152.3,1982.9" fill="#fe9b2b" stroke="#fe9b2b" stroke-width="0.9"/>
<polygon points="1167.8,1972.9 1180.5,1975.6 1177.8,1988.3 1165.1,1985.6" fill="#fea231" stroke="#fea231" stroke-width="0.9"/>
<polygon points="1180.5,1975.6 1193.2,1978.3 1190.5,1991.0 1177.8,1988.3" fill="#feac3a" stroke="#feac3a" stroke-width="0.9"/>
<polygon points="1193.2,1978.3 1206.0,1981.0 1203.3,1993.7 1190.5,1991.0" fill="#feb945" stroke="#feb945" stroke-width="0.9"/>
<polygon points="1206.0,1981.0 1218.7,1983.7 1216.0,1996.4 1203.3,1993.7" fill="#fec44f" stroke="#fec44f" stroke-width="0.9"/>
<polygon points="1218.7,1983.7 1231.4,1986.4 1228.8,1999.1 1216.0,1996.4" fill="#fecb5e" stroke="#fecb5e" stroke-width="0.9"/>
<polygon points="1231.4,1986.4 1244.2,1989.0 1241.5,2001.8 1228.8,1999.1" fill="#fed069" stroke="#fed069" stroke-width="0.9"/>
<polygon points="1244.2,1989.0 1256.9,1991.7 1254.2,2004.5 1241.5,2001.8" fill="#fed26d" stroke="#fed26d" stroke-width="0.9"/>
<polygon points="1256.9,1991.7 1269.7,1994.4 1267.0,2007.2 1254.2,2004.5" fill="#fed26c" stroke="#fed26c" stroke-width="0.9"/>
<polygon points="1269.7,1994.4 1282.4,1997.1 1279.7,2009.9 1267.0,2007.2" fill="#fed16a" stroke="#fed16a" stroke-width="0.9"/>
<polygon points="1282.4,1997.1 1295.1,1999.8 1292.4,2012.6 1279.7,2009.9" fill="#fecf67" stroke="#fecf67" stroke-width="0.9"/>
<polygon points="948.5,1939.8 961.3,1942.5 958.6,1955.2 945.8,1952.5" fill="#fec654" stroke="#fec654" stroke-width="0.9"/>
<polygon points="961.3,1942.5 974.0,1945.2 971.3,1957.9 958.6,1955.2" fill="#fec34e" stroke="#fec34e" stroke-width="0.9"/>
<polygon points="974.0,1945.2 986.7,1947.9 984.1,1960.6 971.3,1957.9" fill="#fec04c" stroke="#fec04c" stroke-width="0.9"/>
<polygon points="986.7,1947.9 999.5,1950.6 996.8,1963.3 984.1,1960.6" fill="#febd49" stroke="#febd49" stroke-width="0.9"/>
<polygon points="999.5,1950.6 1012.2,1953.3 1009.5,1966.0 996.8,1963.3" fill="#feb541" stroke="#feb541" stroke-width="0.9"/>
<polygon points="1012.2,1953.3 1025.0,1956.0 1022.3,1968.7 1009.5,1966.0" fill="#fea635" stroke="#fea635" stroke-width="0.9"/>
<polygon points="1025.0,1956.0 1037.7,1958.7 1035.0,1971.4 1022.3,1968.7" fill="#fe9c2c" stroke="#fe9c2c" stroke-width="0.9"/>
<polygon points="1037.7,1958.7 1050.4,1961.4 1047.7,1974.1 1035.0,1971.4" fill="#fe9c2b" stroke="#fe9c2b" stroke-width="0.9"/>
<polygon points="1050.4,1961.4 1063.2,1964.1 1060.5,1976.8 1047.7,1974.1" fill="#fea130" stroke="#fea130" stroke-width="0.9"/>
<polygon points="1063.2,1964.1 1075.9,1966.8 1073.2,1979.5 1060.5,1976.8" fill="#fea635" stroke="#fea635" stroke-width="0.9"/>
<polygon points="1075.9,1966.8 1088.6,1969.4 1086.0,1982.2 1073.2,1979.5" fill="#feab39" stroke="#feab39" stroke-width="0.9"/>
<polygon points="1088.6,1969.4 1101.4,1972.1 1098.7,1984.9 1086.0,1982.2" fill="#feae3b" stroke="#feae3b" stroke-width="0.9"/>
<polygon points="1101.4,1972.1 1114.1,1974.8 1111.4,1987.6 1098.7,1984.9" fill="#feb23f" stroke="#feb23f" stroke-width="0.9"/>
<polygon points="1114.1,1974.8 1126.9,1977.5 1124.2,1990.3 1111.4,1987.6" fill="#feb23f" stroke="#feb23f" stroke-width="0.9"/>
<polygon points="1126.9,1977.5 1139.6,1980.2 1136.9,1993.0 1124.2,1990.3" fill="#feae3b" stroke="#feae3b" stroke-width="0.9"/>
<polygon points="1139.6,1980.2 1152.3,1982.9 1149.6,1995.7 1136.9,1993.0" fill="#fea836" stroke="#fea836" stroke-width="0.9"/>
<polygon points="1152.3,1982.9 1165.1,1985.6 1162.4,1998.4 1149.6,1995.7" fill="#fea937" stroke="#fea937" stroke-width="0.9"/>
<polygon points="1165.1,1985.6 1177.8,1988.3 1175.1,2001.0 1162.4,1998.4" fill="#feb23f" stroke="#feb23f" stroke-width="0.9"/>
<polygon points="1177.8,1988.3 1190.5,1991.0 1187.8,2003.7 1175.1,2001.0" fill="#febc48" stroke="#febc48" stroke-width="0.9"/>
<polygon points="1190.5,1991.0 1203.3,1993.7 1200.6,2006.4 1187.8,2003.7" fill="#fec959" stroke="#fec959" stroke-width="0.9"/>
<polygon points="1203.3,1993.7 1216.0,1996.4 1213.3,2009.1 1200.6,2006.4" fill="#fece65" stroke="#fece65" stroke-width="0.9"/>
<polygon points="1216.0,1996.4 1228.8,1999.1 1226.1,2011.8 1213.3,2009.1" fill="#fed471" stroke="#fed471" stroke-width="0.9"/>
<polygon points="1228.8,1999.1 1241.5,2001.8 1238.8,2014.5 1226.1,2011.8" fill="#fed879" stroke="#fed879" stroke-width="0.9"/>
<polygon points="1241.5,2001.8 1254.2,2004.5 1251.5,2017.2 1238.8,2014.5" fill="#fed87b" stroke="#fed87b" stroke-width="0.9"/>
<polygon points="1254.2,2004.5 1267.0,2007.2 1264.3,2019.9 1251.5,2017.2" fill="#fed879" stroke="#fed879" stroke-width="0.9"/>
<polygon points="1267.0,2007.2 1279.7,2009.9 1277.0,2022.6 1264.3,2019.9" fill="#fed676" stroke="#fed676" stroke-width="0.9"/>
<polygon points="1279.7,2009.9 1292.4,2012.6 1289.7,2025.3 1277.0,2022.6" fill="#fed573" stroke="#fed573" stroke-width="0.9"/>
<polygon points="1292.4,2012.6 1305.2,2015.3 1302.5,2028.0 1289.7,2025.3" fill="#fed472" stroke="#fed472" stroke-width="0.9"/>
<polygon points="945.8,1952.5 958.6,1955.2 955.9,1968.0 943.1,1965.3" fill="#fec755" stroke="#fec755" stroke-width="0.9"/>
<polygon points="958.6,1955.2 971.3,1957.9 968.6,1970.7 955.9,1968.0" fill="#fec550" stroke="#fec550" stroke-width="0.9"/>
<polygon points="971.3,1957.9 984.1,1960.6 981.4,1973.4 968.6,1970.7" fill="#fec24d" stroke="#fec24d" stroke-width="0.9"/>
<polygon points="984.1,1960.6 996.8,1963.3 994.1,1976.1 981.4,1973.4" fill="#febf4b" stroke="#febf4b" stroke-width="0.9"/>
<polygon points="996.8,1963.3 1009.5,1966.0 1006.8,1978.8 994.1,1976.1" fill="#feb946" stroke="#feb946" stroke-width="0.9"/>
<polygon points="1009.5,1966.0 1022.3,1968.7 1019.6,1981.4 1006.8,1978.8" fill="#fead3b" stroke="#fead3b" stroke-width="0.9"/>
<polygon points="1022.3,1968.7 1035.0,1971.4 1032.3,1984.1 1019.6,1981.4" fill="#fea02f" stroke="#fea02f" stroke-width="0.9"/>
<polygon points="1035.0,1971.4 1047.7,1974.1 1045.0,1986.8 1032.3,1984.1" fill="#fea231" stroke="#fea231" stroke-width="0.9"/>
<polygon points="1047.7,1974.1 1060.5,1976.8 1057.8,1989.5 1045.0,1986.8" fill="#fea937" stroke="#fea937" stroke-width="0.9"/>
<polygon points="1060.5,1976.8 1073.2,1979.5 1070.5,1992.2 1057.8,1989.5" fill="#feb13e" stroke="#feb13e" stroke-width="0.9"/>
<polygon points="1073.2,1979.5 1086.0,1982.2 1083.3,1994.9 1070.5,1992.2" fill="#feb743" stroke="#feb743" stroke-width="0.9"/>
<polygon points="1086.0,1982.2 1098.7,1984.9 1096.0,1997.6 1083.3,1994.9" fill="#febc48" stroke="#febc48" stroke-width="0.9"/>
<polygon points="1098.7,1984.9 1111.4,1987.6 1108.7,2000.3 1096.0,1997.6" fill="#fec04c" stroke="#fec04c" stroke-width="0.9"/>
<polygon points="1111.4,1987.6 1124.2,1990.3 1121.5,2003.0 1108.7,2000.3" fill="#fec24d" stroke="#fec24d" stroke-width="0.9"/>
<polygon points="1124.2,1990.3 1136.9,1993.0 1134.2,2005.7 1121.5,2003.0" fill="#febe4a" stroke="#febe4a" stroke-width="0.9"/>
<polygon points="1136.9,1993.0 1149.6,1995.7 1146.9,2008.4 1134.2,2005.7" fill="#feb744" stroke="#feb744" stroke-width="0.9"/>
<polygon points="1149.6,1995.7 1162.4,1998.4 1159.7,2011.1 1146.9,2008.4" fill="#feb945" stroke="#feb945" stroke-width="0.9"/>
<polygon points="1162.4,1998.4 1175.1,2001.0 1172.4,2013.8 1159.7,2011.1" fill="#fec857" stroke="#fec857" stroke-width="0.9"/>
<polygon points="1175.1,2001.0 1187.8,2003.7 1185.2,2016.5 1172.4,2013.8" fill="#fed472" stroke="#fed472" stroke-width="0.9"/>
<polygon points="1187.8,2003.7 1200.6,2006.4 1197.9,2019.2 1185.2,2016.5" fill="#feda7d" stroke="#feda7d" stroke-width="0.9"/>
<polygon points="1200.6,2006.4 1213.3,2009.1 1210.6,2021.9 1197.9,2019.2" fill="#fedd84" stroke="#fedd84" stroke-width="0.9"/>
<polygon points="1213.3,2009.1 1226.1,2011.8 1223.4,2024.6 1210.6,2021.9" fill="#fede87" stroke="#fede87" stroke-width="0.9"/>
<polygon points="1226.1,2011.8 1238.8,2014.5 1236.1,2027.3 1223.4,2024.6" fill="#fede87" stroke="#fede87" stroke-width="0.9"/>
<polygon points="1238.8,2014.5 1251.5,2017.2 1248.8,2030.0 1236.1,2027.3" fill="#fede86" stroke="#fede86" stroke-width="0.9"/>
<polygon points="1251.5,2017.2 1264.3,2019.9 1261.6,2032.6 1248.8,2030.0" fill="#fedd84" stroke="#fedd84" stroke-width="0.9"/>
<polygon points="1264.3,2019.9 1277.0,2022.6 1274.3,2035.3 1261.6,2032.6" fill="#fedb80" stroke="#fedb80" stroke-width="0.9"/>
<polygon points="1277.0,2022.6 1289.7,2025.3 1287.0,2038.0 1274.3,2035.3" fill="#feda7e" stroke="#feda7e" stroke-width="0.9"/>
<polygon points="1289.7,2025.3 1302.5,2028.0 1299.8,2040.7 1287.0,2038.0" fill="#fed97b" stroke="#fed97b" stroke-width="0.9"/>
<polygon points="943.1,1965.3 955.9,1968.0 953.2,1980.7 940.5,1978.0" fill="#fec857" stroke="#fec857" stroke-width="0.9"/>
<polygon points="955.9,1968.0 968.6,1970.7 965.9,1983.4 953.2,1980.7" fill="#fec653" stroke="#fec653" stroke-width="0.9"/>
<polygon points="968.6,1970.7 981.4,1973.4 978.7,1986.1 965.9,1983.4" fill="#fec44f" stroke="#fec44f" stroke-width="0.9"/>
<polygon points="981.4,1973.4 994.1,1976.1 991.4,1988.8 978.7,1986.1" fill="#fec34e" stroke="#fec34e" stroke-width="0.9"/>
<polygon points="994.1,1976.1 1006.8,1978.8 1004.1,1991.5 991.4,1988.8" fill="#fec14c" stroke="#fec14c" stroke-width="0.9"/>
<polygon points="1006.8,1978.8 1019.6,1981.4 1016.9,1994.2 1004.1,1991.5" fill="#feb844" stroke="#feb844" stroke-width="0.9"/>
<polygon points="1019.6,1981.4 1032.3,1984.1 1029.6,1996.9 1016.9,1994.2" fill="#feaf3c" stroke="#feaf3c" stroke-width="0.9"/>
<polygon points="1032.3,1984.1 1045.0,1986.8 1042.3,1999.6 1029.6,1996.9" fill="#feb03d" stroke="#feb03d" stroke-width="0.9"/>
<polygon points="1045.0,1986.8 1057.8,1989.5 1055.1,2002.3 1042.3,1999.6" fill="#feb744" stroke="#feb744" stroke-width="0.9"/>
<polygon points="1057.8,1989.5 1070.5,1992.2 1067.8,2005.0 1055.1,2002.3" fill="#fec04b" stroke="#fec04b" stroke-width="0.9"/>
<polygon points="1070.5,1992.2 1083.3,1994.9 1080.6,2007.7 1067.8,2005.0" fill="#fec652" stroke="#fec652" stroke-width="0.9"/>
<polygon points="1083.3,1994.9 1096.0,1997.6 1093.3,2010.4 1080.6,2007.7" fill="#feca5b" stroke="#feca5b" stroke-width="0.9"/>
<polygon points="1096.0,1997.6 1108.7,2000.3 1106.0,2013.0 1093.3,2010.4" fill="#fecd61" stroke="#fecd61" stroke-width="0.9"/>
<polygon points="1108.7,2000.3 1121.5,2003.0 1118.8,2015.7 1106.0,2013.0" fill="#fecf66" stroke="#fecf66" stroke-width="0.9"/>
<polygon points="1121.5,2003.0 1134.2,2005.7 1131.5,2018.4 1118.8,2015.7" fill="#fece64" stroke="#fece64" stroke-width="0.9"/>
<polygon points="1134.2,2005.7 1146.9,2008.4 1144.2,2021.1 1131.5,2018.4" fill="#fecb5d" stroke="#fecb5d" stroke-width="0.9"/>
<polygon points="1146.9,2008.4 1159.7,2011.1 1157.0,2023.8 1144.2,2021.1" fill="#fecd63" stroke="#fecd63" stroke-width="0.9"/>
<polygon points="1159.7,2011.1 1172.4,2013.8 1169.7,2026.5 1157.0,2023.8" fill="#fed777" stroke="#fed777" stroke-width="0.9"/>
<polygon points="1172.4,2013.8 1185.2,2016.5 1182.5,2029.2 1169.7,2026.5" fill="#fee391" stroke="#fee391" stroke-width="0.9"/>
<polygon points="1185.2,2016.5 1197.9,2019.2 1195.2,2031.9 1182.5,2029.2" fill="#fee594" stroke="#fee594" stroke-width="0.9"/>
<polygon points="1197.9,2019.2 1210.6,2021.9 1207.9,2034.6 1195.2,2031.9" fill="#fee594" stroke="#fee594" stroke-width="0.9"/>
<polygon points="1210.6,2021.9 1223.4,2024.6 1220.7,2037.3 1207.9,2034.6" fill="#fee494" stroke="#fee494" stroke-width="0.9"/>
<polygon points="1223.4,2024.6 1236.1,2027.3 1233.4,2040.0 1220.7,2037.3" fill="#fee492" stroke="#fee492" stroke-width="0.9"/>
<polygon points="1236.1,2027.3 1248.8,2030.0 1246.1,2042.7 1233.4,2040.0" fill="#fee390" stroke="#fee390" stroke-width="0.9"/>
<polygon points="940.5,1978.0 953.2,1980.7 950.5,1993.4 937.8,1990.8" fill="#fec95a" stroke="#fec95a" stroke-width="0.9"/>
<polygon points="953.2,1980.7 965.9,1983.4 963.2,1996.1 950.5,1993.4" fill="#fec755" stroke="#fec755" stroke-width="0.9"/>
<polygon points="965.9,1983.4 978.7,1986.1 976.0,1998.8 963.2,1996.1" fill="#fec551" stroke="#fec551" stroke-width="0.9"/>
<polygon points="978.7,1986.1 991.4,1988.8 988.7,2001.5 976.0,1998.8" fill="#fec551" stroke="#fec551" stroke-width="0.9"/>
<polygon points="991.4,1988.8 1004.1,1991.5 1001.4,2004.2 988.7,2001.5" fill="#fec653" stroke="#fec653" stroke-width="0.9"/>
<polygon points="1004.1,1991.5 1016.9,1994.2 1014.2,2006.9 1001.4,2004.2" fill="#fec34e" stroke="#fec34e" stroke-width="0.9"/>
<polygon points="1016.9,1994.2 1029.6,1996.9 1026.9,2009.6 1014.2,2006.9" fill="#febf4b" stroke="#febf4b" stroke-width="0.9"/>
<polygon points="1029.6,1996.9 1042.3,1999.6 1039.7,2012.3 1026.9,2009.6" fill="#fec04b" stroke="#fec04b" stroke-width="0.9"/>
<polygon points="1042.3,1999.6 1055.1,2002.3 1052.4,2015.0 1039.7,2012.3" fill="#fec652" stroke="#fec652" stroke-width="0.9"/>
<polygon points="1055.1,2002.3 1067.8,2005.0 1065.1,2017.7 1052.4,2015.0" fill="#fecd62" stroke="#fecd62" stroke-width="0.9"/>
<polygon points="1067.8,2005.0 1080.6,2007.7 1077.9,2020.4 1065.1,2017.7" fill="#fecf67" stroke="#fecf67" stroke-width="0.9"/>
<polygon points="1080.6,2007.7 1093.3,2010.4 1090.6,2023.1 1077.9,2020.4" fill="#fed36f" stroke="#fed36f" stroke-width="0.9"/>
<polygon points="1093.3,2010.4 1106.0,2013.0 1103.3,2025.8 1090.6,2023.1" fill="#fed573" stroke="#fed573" stroke-width="0.9"/>
<polygon points="1106.0,2013.0 1118.8,2015.7 1116.1,2028.5 1103.3,2025.8" fill="#fed777" stroke="#fed777" stroke-width="0.9"/>
<polygon points="1118.8,2015.7 1131.5,2018.4 1128.8,2031.2 1116.1,2028.5" fill="#fed777" stroke="#fed777" stroke-width="0.9"/>
<polygon points="1131.5,2018.4 1144.2,2021.1 1141.6,2033.9 1128.8,2031.2" fill="#fed776" stroke="#fed776" stroke-width="0.9"/>
<polygon points="1144.2,2021.1 1157.0,2023.8 1154.3,2036.6 1141.6,2033.9" fill="#fed97d" stroke="#fed97d" stroke-width="0.9"/>
<polygon points="1157.0,2023.8 1169.7,2026.5 1167.0,2039.3 1154.3,2036.6" fill="#fee08a" stroke="#fee08a" stroke-width="0.9"/>
<polygon points="1169.7,2026.5 1182.5,2029.2 1179.8,2042.0 1167.0,2039.3" fill="#fee595" stroke="#fee595" stroke-width="0.9"/>
<polygon points="950.5,1993.4 963.2,1996.1 960.5,2008.9 947.8,2006.2" fill="#fec95a" stroke="#fec95a" stroke-width="0.9"/>
<polygon points="963.2,1996.1 976.0,1998.8 973.3,2011.6 960.5,2008.9" fill="#fec756" stroke="#fec756" stroke-width="0.9"/>
<polygon points="976.0,1998.8 988.7,2001.5 986.0,2014.3 973.3,2011.6" fill="#fec858" stroke="#fec858" stroke-width="0.9"/>
<polygon points="988.7,2001.5 1001.4,2004.2 998.7,2017.0 986.0,2014.3" fill="#fecb5f" stroke="#fecb5f" stroke-width="0.9"/>
<polygon points="1001.4,2004.2 1014.2,2006.9 1011.5,2019.7 998.7,2017.0" fill="#fecb5f" stroke="#fecb5f" stroke-width="0.9"/>
<polygon points="1014.2,2006.9 1026.9,2009.6 1024.2,2022.4 1011.5,2019.7" fill="#fec95a" stroke="#fec95a" stroke-width="0.9"/>
<polygon points="1026.9,2009.6 1039.7,2012.3 1037.0,2025.0 1024.2,2022.4" fill="#feca5c" stroke="#feca5c" stroke-width="0.9"/>
<polygon points="1039.7,2012.3 1052.4,2015.0 1049.7,2027.7 1037.0,2025.0" fill="#fecd63" stroke="#fecd63" stroke-width="0.9"/>
<polygon points="1052.4,2015.0 1065.1,2017.7 1062.4,2030.4 1049.7,2027.7" fill="#fed26d" stroke="#fed26d" stroke-width="0.9"/>
<polygon points="1065.1,2017.7 1077.9,2020.4 1075.2,2033.1 1062.4,2030.4" fill="#fed574" stroke="#fed574" stroke-width="0.9"/>
<polygon points="1077.9,2020.4 1090.6,2023.1 1087.9,2035.8 1075.2,2033.1" fill="#fed87a" stroke="#fed87a" stroke-width="0.9"/>
<polygon points="1090.6,2023.1 1103.3,2025.8 1100.6,2038.5 1087.9,2035.8" fill="#feda7f" stroke="#feda7f" stroke-width="0.9"/>
<polygon points="1103.3,2025.8 1116.1,2028.5 1113.4,2041.2 1100.6,2038.5" fill="#fedc82" stroke="#fedc82" stroke-width="0.9"/>
<polygon points="947.8,2006.2 960.5,2008.9 957.8,2021.6 945.1,2018.9" fill="#fecc61" stroke="#fecc61" stroke-width="0.9"/>
<polygon points="960.5,2008.9 973.3,2011.6 970.6,2024.3 957.8,2021.6" fill="#fecc60" stroke="#fecc60" stroke-width="0.9"/>
<polygon points="973.3,2011.6 986.0,2014.3 983.3,2027.0 970.6,2024.3" fill="#fecd62" stroke="#fecd62" stroke-width="0.9"/>
<polygon points="986.0,2014.3 998.7,2017.0 996.1,2029.7 983.3,2027.0" fill="#fecf66" stroke="#fecf66" stroke-width="0.9"/>
<polygon points="998.7,2017.0 1011.5,2019.7 1008.8,2032.4 996.1,2029.7" fill="#fed068" stroke="#fed068" stroke-width="0.9"/>
<polygon points="1011.5,2019.7 1024.2,2022.4 1021.5,2035.1 1008.8,2032.4" fill="#fed068" stroke="#fed068" stroke-width="0.9"/>
<polygon points="1024.2,2022.4 1037.0,2025.0 1034.3,2037.8 1021.5,2035.1" fill="#fed16a" stroke="#fed16a" stroke-width="0.9"/>
<polygon points="1037.0,2025.0 1049.7,2027.7 1047.0,2040.5 1034.3,2037.8" fill="#fed36f" stroke="#fed36f" stroke-width="0.9"/>
<polygon points="1049.7,2027.7 1062.4,2030.4 1059.7,2043.2 1047.0,2040.5" fill="#fed676" stroke="#fed676" stroke-width="0.9"/>
<polygon points="945.1,2018.9 957.8,2021.6 955.1,2034.4 942.4,2031.7" fill="#fed068" stroke="#fed068" stroke-width="0.9"/>
<polygon points="957.8,2021.6 970.6,2024.3 967.9,2037.0 955.1,2034.4" fill="#fed068" stroke="#fed068" stroke-width="0.9"/>
<polygon points="970.6,2024.3 983.3,2027.0 980.6,2039.7 967.9,2037.0" fill="#fed16a" stroke="#fed16a" stroke-width="0.9"/>
<polygon points="983.3,2027.0 996.1,2029.7 993.4,2042.4 980.6,2039.7" fill="#fed26d" stroke="#fed26d" stroke-width="0.9"/>
<polygon points="990,1903 1036,1912 1035,1917 990,1909" fill="#fff"/>
<path d="M1023.3,1807.6 C1025.0,1806.6 1028.1,1806.3 1030.0,1806.0 C1031.9,1805.6 1032.6,1805.4 1034.6,1805.5 C1036.7,1805.7 1039.9,1806.3 1042.4,1806.9 C1045.0,1807.4 1048.0,1807.8 1050.2,1808.8 C1052.4,1809.7 1053.9,1811.1 1055.4,1812.3 C1056.9,1813.5 1058.3,1814.4 1059.3,1816.0 C1060.2,1817.7 1060.9,1819.4 1061.3,1822.2 C1061.7,1825.1 1061.7,1829.9 1061.5,1833.3 C1061.2,1836.6 1059.9,1839.2 1059.8,1842.2 C1059.8,1845.1 1060.4,1848.3 1061.2,1851.0 C1062.1,1853.7 1063.2,1856.1 1065.0,1858.3 C1066.7,1860.5 1069.6,1862.2 1071.6,1864.0 C1073.6,1865.8 1075.4,1867.2 1076.9,1868.9 C1078.3,1870.6 1079.3,1872.4 1080.0,1874.3 C1080.7,1876.1 1080.9,1878.0 1081.0,1880.0 C1081.1,1882.1 1081.2,1884.6 1080.6,1886.5 C1080.1,1888.5 1078.9,1890.3 1077.7,1891.7 C1076.4,1893.2 1074.4,1894.5 1073.1,1895.4 C1071.8,1896.4 1073.0,1897.8 1070.0,1897.2 C1067.0,1896.6 1060.3,1894.1 1055.2,1892.0 C1050.1,1889.9 1042.8,1886.8 1039.4,1884.5 C1036.0,1882.1 1036.3,1879.6 1034.8,1877.9 C1033.3,1876.3 1033.6,1875.6 1030.3,1874.7 C1027.1,1873.7 1018.3,1873.2 1015.2,1872.1 C1012.0,1871.0 1012.1,1870.0 1011.5,1868.1 C1010.8,1866.2 1011.8,1863.1 1011.2,1860.7 C1010.6,1858.3 1008.5,1856.0 1008.0,1853.8 C1007.5,1851.6 1007.7,1850.2 1008.1,1847.6 C1008.4,1844.9 1009.1,1841.0 1009.8,1838.0 C1010.5,1834.9 1011.5,1831.9 1012.2,1829.4 C1013.0,1827.0 1013.7,1825.1 1014.5,1823.2 C1015.2,1821.3 1015.9,1819.9 1016.8,1818.1 C1017.7,1816.3 1018.8,1814.1 1019.8,1812.4 C1020.9,1810.7 1021.6,1808.7 1023.3,1807.6 Z" fill="none" stroke="#333" stroke-width="5.2" stroke-linejoin="round"/>
<path d="M960.2,1659.9 L1153.3,1659.9 L1153.3,1661.4 L1152.2,1674.2 L1150.1,1678.5 L1145.8,1680.7 L1141.5,1680.1 L1136.2,1676.4 L1130.9,1674.2 L1123.4,1673.2 L1117.0,1673.2 L1113.7,1668.9 L1108.4,1672.1 L1109.5,1679.6 L1106.3,1673.2 L1104.1,1677.4 L1099.9,1680.7 L1102.0,1684.9 L1099.9,1688.1 L1095.6,1687.1 L1093.4,1692.4 L1094.5,1697.2 L1091.3,1697.8 L1086.0,1699.9 L1082.8,1701.0 L1079.5,1697.8 L1075.3,1699.9 L1069.9,1704.2 L1064.6,1708.4 L1065.7,1712.7 L1061.4,1714.9 L1059.2,1719.1 L1062.8,1721.4 L1068.1,1724.0 L1074.8,1724.0 L1078.8,1726.7 L1080.8,1731.4 L1079.5,1736.1 L1076.8,1738.1 L1070.8,1737.4 L1064.1,1734.7 L1056.8,1731.4 L1052.1,1730.7 L1048.9,1730.8 L1046.8,1732.2 L1044.8,1733.7 L1042.2,1735.3 L1041.5,1736.9 L1042.8,1738.9 L1043.9,1741.5 L1044.5,1744.0 L1043.0,1746.7 L1041.9,1747.7 L1040.9,1746.2 L1040.3,1744.1 L1038.7,1742.1 L1036.1,1739.1 L1034.0,1738.5 L1033.3,1740.6 L1034.6,1743.2 L1033.6,1745.7 L1035.2,1749.3 L1034.8,1753.0 L1035.8,1755.0 L1039.5,1755.4 L1041.0,1757.0 L1042.1,1759.6 L1042.7,1763.6 L1043.7,1766.7 L1043.8,1769.8 L1044.4,1772.4 L1046.5,1774.9 L1048.1,1777.5 L1048.6,1780.1 L1050.7,1781.6 L1054.9,1783.1 L1055.9,1785.1 L1055.5,1790.3 L1055.1,1795.4 L1054.6,1801.7 L1052.6,1797.9 L1050.5,1794.3 L1048.4,1792.3 L1045.8,1793.4 L1042.2,1792.4 L1038.6,1794.5 L1035.0,1794.1 L1031.9,1795.2 L1029.4,1794.7 L1026.3,1794.2 L1027.3,1797.8 L1028.4,1800.9 L1029.3,1809.6 L1026.9,1806.6 L1024.8,1804.1 L1021.2,1802.3 L1018.6,1803.1 L1016.6,1801.9 L1013.5,1801.9 L1013.6,1806.3 L1014.6,1808.3 L1013.7,1811.4 L1015.2,1814.0 L1014.7,1816.6 L1011.7,1818.2 L1012.2,1819.7 L1013.8,1821.8 L1012.3,1827.0 L1011.3,1831.1 L1008.8,1830.6 L1006.7,1831.7 L1006.2,1834.8 L1005.8,1839.9 L1005.4,1845.0 L1004.5,1850.2 L1004.0,1851.7 L1003.5,1854.3 L1004.6,1856.9 L1002.1,1859.0 L1000.0,1859.0 L997.4,1857.5 L996.5,1861.6 L994.9,1866.8 L991.9,1870.0 L989.9,1868.5 L990.0,1850.9 L988.0,1847.3 L985.5,1854.1 L979.9,1859.3 L981.5,1862.4 L984.7,1868.5 L977.4,1865.6 L976.0,1873.8 L975.6,1877.9 L981.7,1876.8 L993.1,1875.9 L994.7,1878.6 L1005.5,1878.0 L1006.0,1880.5 L1012.7,1878.4 L1020.3,1880.3 L1025.5,1882.2 L1030.7,1882.7 L1035.8,1883.6 L1042.1,1884.6 L1042.6,1888.2 L1044.1,1886.1 L1049.3,1886.0 L1056.5,1886.9 L1059.1,1889.0 L1059.7,1893.0 L1058.7,1898.2 L1061.8,1897.2 L1064.4,1896.6 L1065.9,1894.0 L1071.1,1894.9 L1071.6,1898.0 L1071.2,1903.2 L1070.8,1908.8 L1067.2,1910.0 L1062.0,1909.0 L1051.7,1906.6 L1041.3,1905.2 L1028.4,1904.7 L1018.2,1903.0 L1002.7,1900.1 L990.3,1898.2 L990.4,1899.2 L990.5,1907.0 L990.0,1912.1 L988.6,1920.0 L987.7,1924.1 L989.2,1926.6 L988.7,1928.7 L992.4,1930.2 L992.9,1934.8 L988.3,1935.4 L991.0,1941.5 L988.5,1948.3 L989.1,1951.9 L986.0,1955.5 L985.0,1964.1 L978.3,1968.9 L977.4,1973.7 L983.1,1976.5 L997.4,1977.5 L994.6,1984.2 L986.9,1986.1 L988.8,1988.9 L990.7,1996.6 L994.6,2004.2 L996.5,2011.8 L994.6,2020.9 L960.2,2020.9 Z" fill="#bfbfbf" stroke="#000" stroke-width="1.2" stroke-linejoin="round"/>
<path d="M977.4,1894.8 L986.7,1898.3 L984.2,1900.4 L984.3,1904.5 L984.8,1909.7 L980.1,1903.6 L976.5,1904.6 L979.0,1900.5 Z" fill="#fff" stroke="#000" stroke-width="1.2" stroke-linejoin="round"/>
<path d="M1157.6,1659.9 L1162.9,1668.9 L1166.1,1670 L1170.4,1664.6 L1171.5,1659.9 Z" fill="#bfbfbf" stroke="#000" stroke-width="1.2"/>
<path d="M1187.5,1659.9 L1180,1675.3 L1185.4,1680.7 L1187.5,1684.9 L1192.8,1682.8 L1193.9,1676.4 L1197.1,1671 L1193.9,1665.7 L1193.9,1659.9 Z" fill="#bfbfbf" stroke="#000" stroke-width="1.2"/>
<path d="M934.0,1644.1 L937.8,1680.5 L941.7,1716.8 L945.5,1753.1 L949.4,1789.4 L953.2,1825.6 L957.1,1861.8 L960.9,1898.0 L964.7,1934.2 L968.6,1970.3 L972.4,2006.4 L976.2,2042.5 M1033.3,1636.2 L1035.3,1672.7 L1037.2,1709.2 L1039.2,1745.6 L1041.1,1782.1 L1043.0,1818.5 L1045.0,1854.8 L1046.9,1891.2 L1048.9,1927.5 L1050.8,1963.8 L1052.7,2000.0 L1054.6,2036.3 M1133.0,1633.5 L1133.0,1670.1 L1133.0,1706.6 L1133.0,1743.1 L1133.1,1779.6 L1133.1,1816.0 L1133.1,1852.4 L1133.2,1888.8 L1133.2,1925.2 L1133.2,1961.5 L1133.3,1997.8 L1133.3,2034.1 M1232.6,1636.0 L1230.7,1672.5 L1228.8,1709.0 L1226.9,1745.5 L1225.1,1781.9 L1223.2,1818.3 L1221.3,1854.7 L1219.4,1891.0 L1217.6,1927.3 L1215.7,1963.6 L1213.8,1999.9 L1212.0,2036.1 M1331.9,1643.8 L1328.1,1680.1 L1324.4,1716.5 L1320.6,1752.8 L1316.8,1789.0 L1313.0,1825.3 L1309.2,1861.5 L1305.5,1897.7 L1301.7,1933.9 L1297.9,1970.0 L1294.2,2006.1 L1290.4,2042.2 M872.9,1686.4 L890.7,1684.0 L908.6,1681.7 L926.4,1679.6 L944.3,1677.7 L962.3,1675.9 L980.2,1674.4 L998.1,1673.0 L1016.1,1671.7 L1034.0,1670.7 L1052.0,1669.8 L1070.0,1669.1 L1088.0,1668.6 L1106.0,1668.2 L1124.0,1668.0 L1142.0,1668.0 L1160.0,1668.2 L1178.0,1668.5 L1196.0,1669.0 L1213.9,1669.7 L1231.9,1670.5 L1249.9,1671.5 L1267.9,1672.7 L1285.8,1674.1 L1303.7,1675.7 L1321.6,1677.4 L1339.5,1679.3 L1357.4,1681.3 L1375.3,1683.5 L1393.1,1685.9 M880.9,1743.2 L898.2,1740.9 L915.5,1738.7 L932.8,1736.6 L950.2,1734.8 L967.5,1733.1 L984.9,1731.6 L1002.3,1730.2 L1019.7,1729.0 L1037.1,1728.0 L1054.6,1727.1 L1072.0,1726.5 L1089.4,1725.9 L1106.9,1725.6 L1124.3,1725.4 L1141.8,1725.4 L1159.2,1725.5 L1176.6,1725.9 L1194.1,1726.4 L1211.5,1727.0 L1228.9,1727.8 L1246.4,1728.8 L1263.8,1730.0 L1281.2,1731.3 L1298.5,1732.8 L1315.9,1734.5 L1333.3,1736.3 L1350.6,1738.3 L1367.9,1740.5 L1385.2,1742.8 M888.9,1800.0 L905.7,1797.7 L922.4,1795.6 L939.2,1793.6 L956.0,1791.8 L972.8,1790.2 L989.7,1788.7 L1006.5,1787.4 L1023.4,1786.2 L1040.2,1785.2 L1057.1,1784.4 L1074.0,1783.7 L1090.9,1783.2 L1107.7,1782.9 L1124.6,1782.7 L1141.5,1782.7 L1158.4,1782.9 L1175.3,1783.2 L1192.2,1783.6 L1209.1,1784.3 L1226.0,1785.1 L1242.8,1786.0 L1259.7,1787.2 L1276.5,1788.4 L1293.4,1789.9 L1310.2,1791.5 L1327.0,1793.3 L1343.7,1795.2 L1360.5,1797.3 L1377.3,1799.6 M897.0,1856.7 L913.2,1854.5 L929.4,1852.4 L945.6,1850.5 L961.8,1848.8 L978.1,1847.2 L994.4,1845.8 L1010.7,1844.5 L1027.0,1843.4 L1043.3,1842.4 L1059.6,1841.6 L1075.9,1841.0 L1092.3,1840.5 L1108.6,1840.1 L1125.0,1840.0 L1141.3,1840.0 L1157.6,1840.1 L1174.0,1840.4 L1190.3,1840.9 L1206.6,1841.5 L1223.0,1842.3 L1239.3,1843.2 L1255.6,1844.3 L1271.9,1845.5 L1288.2,1846.9 L1304.4,1848.5 L1320.7,1850.2 L1336.9,1852.1 L1353.1,1854.1 L1369.3,1856.3 M905.0,1913.3 L920.6,1911.2 L936.3,1909.2 L952.0,1907.3 L967.7,1905.7 L983.4,1904.1 L999.1,1902.7 L1014.9,1901.5 L1030.6,1900.4 L1046.4,1899.5 L1062.1,1898.7 L1077.9,1898.1 L1093.7,1897.6 L1109.5,1897.3 L1125.3,1897.2 L1141.1,1897.2 L1156.9,1897.3 L1172.7,1897.6 L1188.4,1898.0 L1204.2,1898.6 L1220.0,1899.4 L1235.8,1900.3 L1251.5,1901.3 L1267.3,1902.5 L1283.0,1903.9 L1298.7,1905.4 L1314.4,1907.0 L1330.1,1908.8 L1345.8,1910.8 L1361.4,1912.9 M913.0,1969.9 L928.1,1967.8 L943.2,1965.9 L958.3,1964.1 L973.5,1962.5 L988.7,1961.0 L1003.8,1959.7 L1019.0,1958.5 L1034.2,1957.4 L1049.4,1956.6 L1064.7,1955.8 L1079.9,1955.2 L1095.1,1954.8 L1110.4,1954.4 L1125.6,1954.3 L1140.9,1954.3 L1156.1,1954.4 L1171.3,1954.7 L1186.6,1955.1 L1201.8,1955.7 L1217.0,1956.4 L1232.2,1957.3 L1247.4,1958.3 L1262.6,1959.4 L1277.8,1960.8 L1293.0,1962.2 L1308.2,1963.8 L1323.3,1965.5 L1338.4,1967.4 L1353.5,1969.5 M921.0,2026.4 L935.5,2024.4 L950.1,2022.5 L964.7,2020.8 L979.3,2019.3 L993.9,2017.8 L1008.5,2016.5 L1023.2,2015.4 L1037.9,2014.4 L1052.5,2013.5 L1067.2,2012.8 L1081.9,2012.2 L1096.6,2011.8 L1111.2,2011.5 L1125.9,2011.3 L1140.6,2011.3 L1155.3,2011.5 L1170.0,2011.7 L1184.7,2012.1 L1199.4,2012.7 L1214.0,2013.4 L1228.7,2014.2 L1243.4,2015.2 L1258.0,2016.3 L1272.7,2017.6 L1287.3,2019.0 L1301.9,2020.5 L1316.5,2022.2 L1331.1,2024.0 L1345.6,2026.0" fill="none" stroke="#000" stroke-opacity="0.42" stroke-width="1" stroke-dasharray="2.2 6.5"/>
</g>
<line x1="1025.8" y1="1756.2" x2="1220" y2="1795.5" stroke="#ffff00" stroke-width="5.6" stroke-dasharray="17.5 17.8" stroke-dashoffset="26.1"/>
<line x1="1220" y1="1795.5" x2="1192.9" y2="1922.7" stroke="#ffff00" stroke-width="5.6" stroke-dasharray="17.5 17.8" stroke-dashoffset="16.1"/>
<line x1="1192.9" y1="1922.7" x2="996.5" y2="1883.4" stroke="#ffff00" stroke-width="5.6" stroke-dasharray="17.5 17.8" stroke-dashoffset="3.1"/>
<line x1="996.5" y1="1883.4" x2="1025.8" y2="1756.2" stroke="#ffff00" stroke-width="5.6" stroke-dasharray="17.5 17.8" stroke-dashoffset="0.0"/>
<polyline points="1206.0,1792.6 1220.0,1795.5 1218.8,1801.5" fill="none" stroke="#ffff00" stroke-width="5.6" stroke-linejoin="round"/>
<rect x="960.2" y="1659.9" width="345.9" height="361" fill="none" stroke="#000" stroke-width="1.5"/>
<line x1="973.9" y1="2020.9" x2="973.9" y2="2017.4" stroke="#000" stroke-width="1.3"/>
<line x1="1034.6" y1="1659.9" x2="1034.6" y2="1663.4" stroke="#000" stroke-width="1.3"/>
<line x1="1053.8" y1="2020.9" x2="1053.8" y2="2017.4" stroke="#000" stroke-width="1.3"/>
<line x1="1133" y1="1659.9" x2="1133" y2="1663.4" stroke="#000" stroke-width="1.3"/>
<line x1="1133.3" y1="2020.9" x2="1133.3" y2="2017.4" stroke="#000" stroke-width="1.3"/>
<line x1="1231.3" y1="1659.9" x2="1231.3" y2="1663.4" stroke="#000" stroke-width="1.3"/>
<line x1="1212.7" y1="2020.9" x2="1212.7" y2="2017.4" stroke="#000" stroke-width="1.3"/>
<line x1="1292.6" y1="2020.9" x2="1292.6" y2="2017.4" stroke="#000" stroke-width="1.3"/>
<line x1="960.2" y1="1676.1" x2="963.7" y2="1676.1" stroke="#000" stroke-width="1.3"/>
<line x1="1306.1" y1="1675.9" x2="1302.6" y2="1675.9" stroke="#000" stroke-width="1.3"/>
<text x="950.2" y="1688.3" font-size="30" text-anchor="end" fill="#000">30'</text>
<line x1="960.2" y1="1733.8" x2="963.7" y2="1733.8" stroke="#000" stroke-width="1.3"/>
<line x1="1306.1" y1="1733.5" x2="1302.6" y2="1733.5" stroke="#000" stroke-width="1.3"/>
<text x="950.2" y="1746" font-size="30" text-anchor="end" fill="#000">74°S</text>
<line x1="960.2" y1="1791.4" x2="963.7" y2="1791.4" stroke="#000" stroke-width="1.3"/>
<line x1="1306.1" y1="1791.1" x2="1302.6" y2="1791.1" stroke="#000" stroke-width="1.3"/>
<text x="950.2" y="1803.6" font-size="30" text-anchor="end" fill="#000">30'</text>
<line x1="960.2" y1="1848.9" x2="963.7" y2="1848.9" stroke="#000" stroke-width="1.3"/>
<line x1="1306.1" y1="1848.6" x2="1302.6" y2="1848.6" stroke="#000" stroke-width="1.3"/>
<text x="950.2" y="1861.1" font-size="30" text-anchor="end" fill="#000">75°S</text>
<line x1="960.2" y1="1906.4" x2="963.7" y2="1906.4" stroke="#000" stroke-width="1.3"/>
<line x1="1306.1" y1="1906.1" x2="1302.6" y2="1906.1" stroke="#000" stroke-width="1.3"/>
<text x="950.2" y="1918.6" font-size="30" text-anchor="end" fill="#000">30'</text>
<line x1="960.2" y1="1963.9" x2="963.7" y2="1963.9" stroke="#000" stroke-width="1.3"/>
<line x1="1306.1" y1="1963.6" x2="1302.6" y2="1963.6" stroke="#000" stroke-width="1.3"/>
<text x="950.2" y="1976.1" font-size="30" text-anchor="end" fill="#000">76°S</text>
<text x="950.2" y="2033.5" font-size="30" text-anchor="end" fill="#000">30'</text>
<text x="1053.5" y="2052.7" font-size="30" text-anchor="middle" fill="#000">165°E</text>
<text x="1213.4" y="2052.7" font-size="30" text-anchor="middle" fill="#000">171°E</text>
<defs><linearGradient id="cbE" x1="0" y1="1" x2="0" y2="0">
<stop offset="0.000" stop-color="#fff7bc"/>
<stop offset="0.025" stop-color="#fff4b4"/>
<stop offset="0.050" stop-color="#fff0ad"/>
<stop offset="0.075" stop-color="#feeca5"/>
<stop offset="0.100" stop-color="#fee99e"/>
<stop offset="0.125" stop-color="#fee696"/>
<stop offset="0.150" stop-color="#fee18e"/>
<stop offset="0.175" stop-color="#fedc82"/>
<stop offset="0.200" stop-color="#fed777"/>
<stop offset="0.225" stop-color="#fed16b"/>
<stop offset="0.250" stop-color="#fecc60"/>
<stop offset="0.275" stop-color="#fec654"/>
<stop offset="0.300" stop-color="#fec04b"/>
<stop offset="0.325" stop-color="#feb845"/>
<stop offset="0.350" stop-color="#feb13e"/>
<stop offset="0.375" stop-color="#fea937"/>
<stop offset="0.400" stop-color="#fea231"/>
<stop offset="0.425" stop-color="#fe9a2a"/>
<stop offset="0.450" stop-color="#fb9326"/>
<stop offset="0.475" stop-color="#f88c22"/>
<stop offset="0.500" stop-color="#f5841e"/>
<stop offset="0.525" stop-color="#f27d1b"/>
<stop offset="0.550" stop-color="#ef7617"/>
<stop offset="0.575" stop-color="#eb6f14"/>
<stop offset="0.600" stop-color="#e66910"/>
<stop offset="0.625" stop-color="#e0620d"/>
<stop offset="0.650" stop-color="#da5c0a"/>
<stop offset="0.675" stop-color="#d55607"/>
<stop offset="0.700" stop-color="#cf5004"/>
<stop offset="0.725" stop-color="#c84a02"/>
<stop offset="0.750" stop-color="#bf4602"/>
<stop offset="0.775" stop-color="#b64203"/>
<stop offset="0.800" stop-color="#ad3e03"/>
<stop offset="0.825" stop-color="#a43904"/>
<stop offset="0.850" stop-color="#9c3504"/>
<stop offset="0.875" stop-color="#933204"/>
<stop offset="0.900" stop-color="#8a3005"/>
<stop offset="0.925" stop-color="#812d05"/>
<stop offset="0.950" stop-color="#782a05"/>
<stop offset="0.975" stop-color="#6f2806"/>
<stop offset="1.000" stop-color="#662506"/>
</linearGradient></defs>
<rect x="1339.8" y="1676.3" width="19.8" height="332.5" fill="url(#cbE)" stroke="#262626" stroke-width="1.3"/>
<line x1="1359.6" y1="1978.6" x2="1356.1" y2="1978.6" stroke="#262626" stroke-width="1.3"/>
<text x="1374.5" y="1990.1" font-size="30.5" text-anchor="start" fill="#262626">0</text>
<line x1="1359.6" y1="1827.4" x2="1356.1" y2="1827.4" stroke="#262626" stroke-width="1.3"/>
<text x="1374.5" y="1838.9" font-size="30.5" text-anchor="start" fill="#262626">0.5</text>
<line x1="1359.6" y1="1676.3" x2="1356.1" y2="1676.3" stroke="#262626" stroke-width="1.3"/>
<text x="1374.5" y="1687.8" font-size="30.5" text-anchor="start" fill="#262626">1</text>
<text x="1459.5" y="1842.5" font-size="30.5" text-anchor="middle" fill="#000" transform="rotate(-90 1459.5 1842.5)">Correlation Coefficient</text>
</svg></body></html>
